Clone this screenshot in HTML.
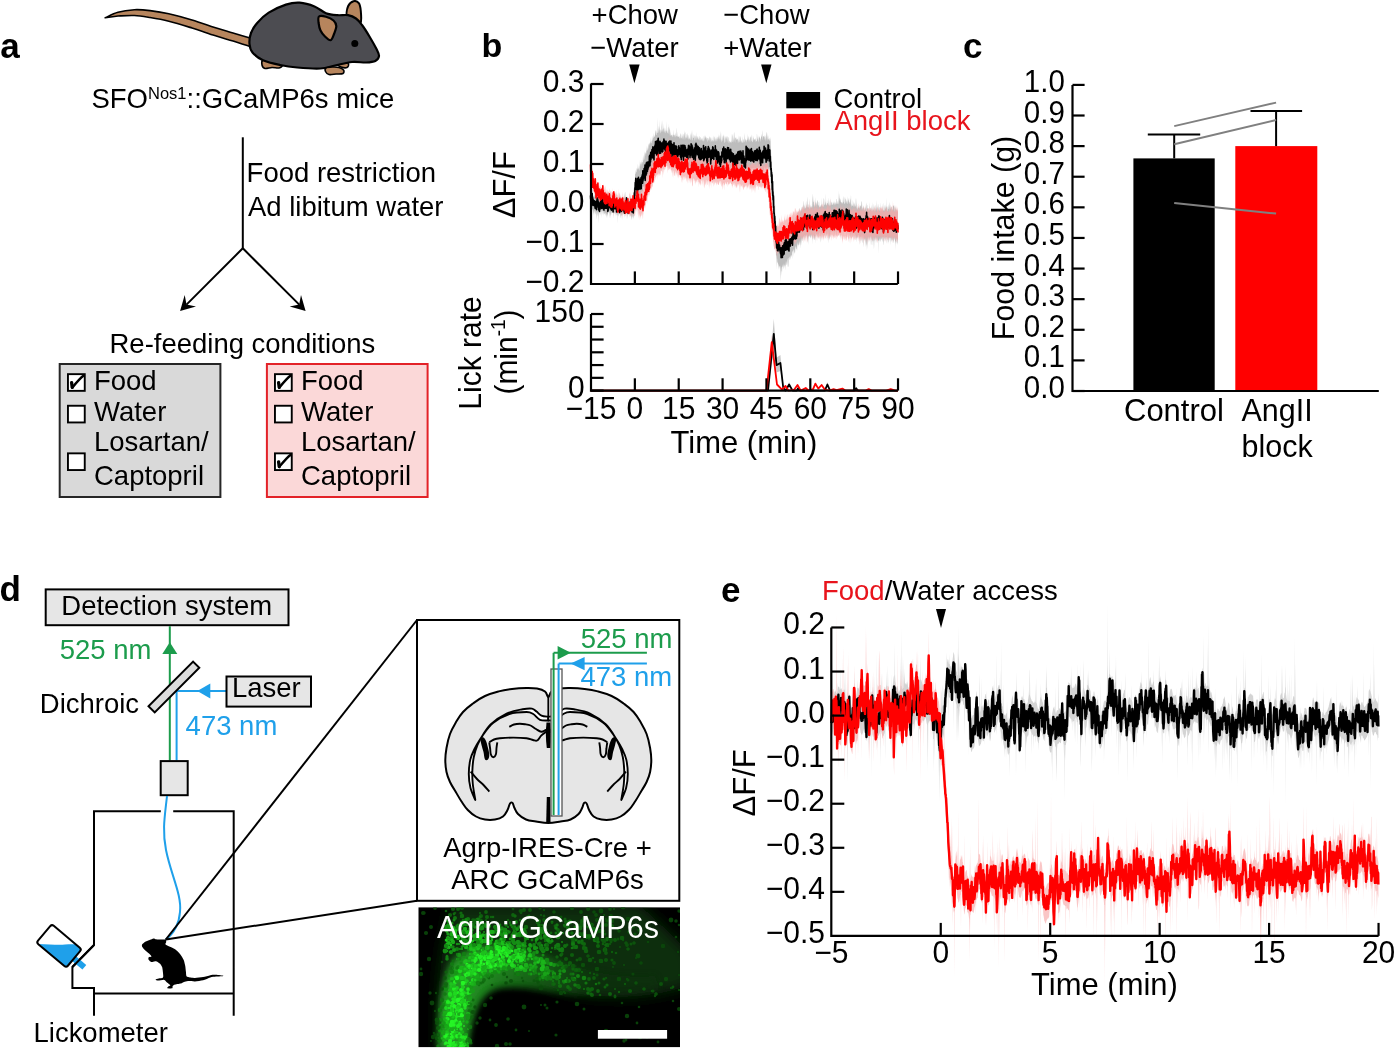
<!DOCTYPE html>
<html><head><meta charset="utf-8"><style>
html,body{margin:0;padding:0;background:#fff;}
svg{display:block;will-change:transform;}
text{font-family:"Liberation Sans",sans-serif;}
</style></head><body>
<svg width="1395" height="1051" viewBox="0 0 1395 1051" font-family="Liberation Sans">
<rect width="1395" height="1051" fill="#fff"/>
<text x="0.3" y="58.0" font-size="35" font-weight="bold" fill="#000" >a</text>
<path d="M105.2,17.8 C107.3,16.9 113.1,13.5 118.0,12.2 C122.9,10.8 129.1,10.0 134.4,9.7 C139.7,9.4 144.3,9.9 150.0,10.6 C155.7,11.3 161.8,12.2 168.8,13.8 C175.8,15.4 184.3,17.7 192.0,20.0 C199.7,22.3 207.9,25.3 214.7,27.5 C221.5,29.7 227.1,31.2 233.0,33.0 C238.9,34.8 247.2,37.2 250.0,38.0 L250.0,46.5 C247.2,45.6 238.9,42.8 233.0,41.0 C227.1,39.2 221.5,37.8 214.7,35.6 C207.9,33.4 199.7,30.4 192.0,28.0 C184.3,25.6 175.8,22.9 168.8,21.2 C161.8,19.4 155.7,18.4 150.0,17.5 C144.3,16.6 139.7,15.8 134.4,15.5 C129.1,15.2 120.7,15.9 118.0,16.0Z" fill="#b7855d" stroke="#000" stroke-width="1.6" stroke-linejoin="round"/>
<path d="M347.0,16.0 C346.0,13.7 347.1,8.5 348.2,6.0 C349.3,3.5 351.7,1.7 353.5,1.2 C355.3,0.7 357.6,1.6 358.8,3.2 C360.0,4.8 360.5,7.7 360.8,11.0 C361.1,14.3 361.6,21.5 360.5,23.0 C359.4,24.5 356.2,21.2 354.0,20.0 C351.8,18.8 348.0,18.3 347.0,16.0Z" fill="#b7855d" stroke="#000" stroke-width="2"/>
<path d="M263.0,60.0 C264.3,59.3 267.2,60.7 270.0,61.0 C272.8,61.3 277.9,61.3 280.0,62.0 C282.1,62.7 282.7,64.0 282.5,65.0 C282.3,66.0 280.8,67.6 279.0,68.0 C277.2,68.4 274.3,67.4 272.0,67.5 C269.7,67.6 266.7,68.9 265.0,68.5 C263.3,68.1 262.3,66.4 262.0,65.0 C261.7,63.6 261.7,60.7 263.0,60.0Z" fill="#b7855d" stroke="#000" stroke-width="1.6"/>
<path d="M338.0,61.0 C339.3,60.6 343.2,61.0 345.0,61.5 C346.8,62.0 348.2,63.0 348.5,64.0 C348.8,65.0 348.2,67.0 347.0,67.5 C345.8,68.0 342.7,67.6 341.0,67.0 C339.3,66.4 337.5,65.0 337.0,64.0 C336.5,63.0 336.7,61.4 338.0,61.0Z" fill="#b7855d" stroke="#000" stroke-width="1.6"/>
<path d="M249.5,44.0 C249.2,40.8 249.7,36.5 251.0,33.0 C252.3,29.5 254.2,26.3 257.2,22.9 C260.1,19.5 263.9,15.6 268.7,12.6 C273.5,9.6 280.8,6.3 285.9,4.6 C291.0,2.9 294.8,2.3 299.6,2.6 C304.4,2.9 310.1,4.6 314.5,6.4 C318.9,8.2 322.2,11.7 326.0,13.2 C329.8,14.7 333.8,14.9 337.5,15.2 C341.2,15.5 344.9,14.6 348.0,15.2 C351.1,15.8 353.7,16.9 356.0,18.5 C358.3,20.1 359.7,22.0 362.0,25.0 C364.3,28.0 367.2,32.7 369.6,36.7 C372.0,40.7 374.9,45.8 376.5,49.0 C378.1,52.2 379.2,54.0 379.0,56.0 C378.8,58.0 377.4,59.9 375.3,61.0 C373.2,62.1 370.0,62.3 366.1,62.5 C362.2,62.7 357.2,61.5 352.0,62.0 C346.8,62.5 340.3,64.4 335.0,65.5 C329.7,66.6 326.6,68.2 320.3,68.5 C314.0,68.8 304.0,68.1 297.3,67.5 C290.6,66.9 285.8,66.2 280.1,65.0 C274.4,63.8 267.6,62.4 263.0,60.3 C258.4,58.2 254.8,55.2 252.5,52.5 C250.2,49.8 249.8,47.2 249.5,44.0Z" fill="#4c4c51" stroke="#000" stroke-width="2.2" stroke-linejoin="round"/>
<path d="M326.0,68.0 C327.2,67.2 330.8,67.1 333.0,67.0 C335.2,66.9 337.2,67.0 339.0,67.5 C340.8,68.0 342.8,69.0 343.5,70.0 C344.2,71.0 344.2,72.8 343.0,73.5 C341.8,74.2 338.3,73.8 336.0,74.0 C333.7,74.2 330.8,74.9 329.0,74.5 C327.2,74.1 326.0,72.6 325.5,71.5 C325.0,70.4 324.8,68.8 326.0,68.0Z" fill="#b7855d" stroke="#000" stroke-width="1.6"/>
<path d="M319.0,16.5 C320.2,15.5 323.6,16.1 326.0,16.8 C328.4,17.5 331.8,19.0 333.5,20.5 C335.2,22.0 336.2,23.8 336.3,26.0 C336.4,28.2 334.9,31.6 334.0,34.0 C333.1,36.4 332.1,39.8 330.6,40.2 C329.1,40.6 326.7,38.1 325.0,36.5 C323.3,34.9 321.6,32.8 320.5,30.5 C319.4,28.2 318.9,25.3 318.6,23.0 C318.4,20.7 317.8,17.5 319.0,16.5Z" fill="#b7855d" stroke="#000" stroke-width="2.2" stroke-linejoin="round"/>
<circle cx="354.8" cy="43.4" r="3.5" fill="#000"/>
<text transform="translate(91.5,107.5) scale(1,1.035)" font-size="27.5">SFO<tspan font-size="16.5" dy="-8.3">Nos1</tspan><tspan dy="8.3">::GCaMP6s mice</tspan></text>
<line x1="242.8" y1="137.3" x2="242.8" y2="248.6" stroke="#000" stroke-width="2" />
<text transform="translate(246.6,182) scale(1,1.035)" font-size="27.5" fill="#000" >Food restriction</text>
<text transform="translate(248.0,215.8) scale(1,1.035)" font-size="27.5" fill="#000" >Ad libitum water</text>
<line x1="242.8" y1="248.3" x2="186.45688996286705" y2="304.64311003713294" stroke="#000" stroke-width="2" />
<path d="M180.1,311.0 L184.7,295.1 L186.5,304.6 L196.0,306.4Z" fill="#000"/>
<line x1="242.8" y1="248.3" x2="299.23804680580184" y2="304.6481773045187" stroke="#000" stroke-width="2" />
<path d="M305.6,311.0 L289.7,306.4 L299.2,304.6 L301.0,295.1Z" fill="#000"/>
<text transform="translate(109.5,352.5) scale(1,1.035)" font-size="27.5" fill="#000" >Re-feeding conditions</text>
<rect x="59.7" y="364" width="160.7" height="133" fill="#d9d9d9" stroke="#262626" stroke-width="2"/>
<rect x="266.9" y="364" width="160.7" height="133" fill="#fbd8d8" stroke="#e32228" stroke-width="2"/>
<rect x="67.95" y="374.15" width="16.8" height="16.7" fill="#fff" stroke="#000" stroke-width="1.9"/>
<path d="M71.6,382.6 L72.2,387.4" stroke="#000" stroke-width="3.3" stroke-linecap="round" fill="none"/>
<path d="M72.2,387.7 C75.5,383.7 79.5,378.7 83.7,375.5" stroke="#000" stroke-width="2.4" stroke-linecap="round" fill="none"/>
<rect x="67.95" y="405.75" width="16.8" height="16.7" fill="#fff" stroke="#000" stroke-width="1.9"/>
<rect x="67.95" y="453.35" width="16.8" height="16.7" fill="#fff" stroke="#000" stroke-width="1.9"/>
<text transform="translate(94.0,389.6) scale(1,1.035)" font-size="27.5" fill="#000" >Food</text>
<text transform="translate(94.0,421.2) scale(1,1.035)" font-size="27.5" fill="#000" >Water</text>
<text transform="translate(94.0,451) scale(1,1.035)" font-size="27.5" fill="#000" >Losartan/</text>
<text transform="translate(94.0,484.9) scale(1,1.035)" font-size="27.5" fill="#000" >Captopril</text>
<rect x="274.95" y="374.15" width="16.8" height="16.7" fill="#fff" stroke="#000" stroke-width="1.9"/>
<path d="M278.6,382.6 L279.2,387.4" stroke="#000" stroke-width="3.3" stroke-linecap="round" fill="none"/>
<path d="M279.2,387.7 C282.5,383.7 286.5,378.7 290.7,375.5" stroke="#000" stroke-width="2.4" stroke-linecap="round" fill="none"/>
<rect x="274.95" y="405.75" width="16.8" height="16.7" fill="#fff" stroke="#000" stroke-width="1.9"/>
<rect x="274.95" y="453.35" width="16.8" height="16.7" fill="#fff" stroke="#000" stroke-width="1.9"/>
<path d="M278.6,461.8 L279.2,466.6" stroke="#000" stroke-width="3.3" stroke-linecap="round" fill="none"/>
<path d="M279.2,466.9 C282.5,462.9 286.5,457.9 290.7,454.7" stroke="#000" stroke-width="2.4" stroke-linecap="round" fill="none"/>
<text transform="translate(301.0,389.6) scale(1,1.035)" font-size="27.5" fill="#000" >Food</text>
<text transform="translate(301.0,421.2) scale(1,1.035)" font-size="27.5" fill="#000" >Water</text>
<text transform="translate(301.0,451) scale(1,1.035)" font-size="27.5" fill="#000" >Losartan/</text>
<text transform="translate(301.0,484.9) scale(1,1.035)" font-size="27.5" fill="#000" >Captopril</text>
<text x="481.5" y="57.3" font-size="34" font-weight="bold" fill="#000" >b</text>
<text transform="translate(591.6,23.7) scale(1,1.035)" font-size="27.5" fill="#000" >+Chow</text>
<text transform="translate(590.3,56.8) scale(1,1.035)" font-size="27.5" fill="#000" >−Water</text>
<text transform="translate(723.2,23.7) scale(1,1.035)" font-size="27.5" fill="#000" >−Chow</text>
<text transform="translate(723.2,56.8) scale(1,1.035)" font-size="27.5" fill="#000" >+Water</text>
<path d="M629.2,64.5 L639.6,64.5 L634.4,83.3Z" fill="#000"/>
<path d="M761.1,64.5 L771.5,64.5 L766.3,83.3Z" fill="#000"/>
<path d="M590.5 194.4l.2-6.2.2 1 .2 3.8.2 1.3.3-.7.2.1.2 2.8.2-2.9.2-5 .3 1.5.2 7.1.2-2.7.2 2.6.2-1.1.3-.3.2-1.7.2 3 .2.3.2-2.5.3-.8.2-3.1.2 5.5.2-1.3.2-6 .3 5.4.2 1.7.2-3.4.2-1.4.2 7.1.3-4.1.2 3.2.2-2.4.2 1.8.2-1.6.3 2.1.2-1.1.2-2.4.2 4.1.2-2.9.3 2.3.2.5.2-4 .2-.9.2 3 .3-.8.2-4.2.2 7.7.2-1.9.2-1 .3-3.1.2 2.8.2.9.2 1.2.2-2.7.3-1.7.2 3.4.2.1.2-5.5.2 6.8.3.5.2-2.5.2 1.7.2 2 .2-1.5.3-2.6.2 1.4.2 2.4.2-1.8.2-.1.3-2.7.2 2.3.2 2.1.2-2.1.2-3 .3-2.5.2 1 .2 3.4.2 2 .2 1.8.3-4.3.2-1.2.2 0 .2 3.3.2-3.5.3-1.4.2 6.3.2-4.8.2 5.1.2-6.1.2-2.4.3 1.2.2 5.8.2-.6.2-4.2.2 5.6.3-1.5.2 2.2.2 1.3.2-.8.2-2.6.3 1.7.2.4.2 1.1.2-.6.2-5.1.3 3.9.2-3.5.2 4.9.2-6 .2.6.3 3.9.2-7.6.2 9.8.2-1.8.2-4.8.3.7.2-6 .2 8.4.2.9.2.2.3-1.1.2 2.7.2-.3.2.8.2-4.3.3 5.1.2-4.3.2 2.5.2.4.2-8.6.3 3.3.2 3.2.2 1 .2 0 .2.2.3-3.7.2 2.4.2-1 .2 4.4.2-2.9.3-.1.2 1.2.2-3.1.2 2.8.2 2.2.3-.8.2-.4.2-7.6.2 8.9.2-.8.3-4.1.2 2.4.2-.3.2-.4.2-6.2.3 6.1.2-5.2.2-1.4.2 6.3.2 2.1.3-.4.2-.5.2.1.2 1.6.2.2.3-6.4.2 6.4.2-2.8.2 3 .2-1.6.3-.8.2-.9.2 2.4.2 0 .2 1 .3-1.7.2 1.3.2-1.6.2.4.2 1.8.3-2.8.2-3.6.2 2.1.2.6.2.1.3 2.5.2-1.8.2 1.3.2-1.4.2-2.4.3 1 .2-2.2.2 5.5.2-5.9.2 5.1.3-7.9.2-2.5.2-1 .2 1.8.2-3.7.3-7.8.2 2.1.2-6.6.2.2.2-.5.3-4 .2 3.2.2-1 .2.8.2-2.6.2-1.7.3.6.2 1.2.2-3 .2 3.3.2-6.6.3 3.4.2 1.9.2-1 .2 1 .2 1.4.3 0 .2-10.9.2 10 .2-4.2.2 1.4.3-4.1.2-.7.2 2.3.2 0 .2-4.6.3 7.4.2-5.7.2 3.5.2-8.4.2 7.9.3-2 .2-.4.2.1.2-1.8.2-2 .3-3.4.2 5.5.2-.5.2-1.2.2-3.6.3-4.1.2 5.8.2-1.9.2-1.7.2.6.3-2.1.2 2.6.2-2.2.2-6.7.2 5.3.3.4.2-.5.2-3.6.2 3.7.2-1.4.3-5.3.2.9.2 3.1.2 1.8.2-6.2.3-.6.2 3.6.2-4.4.2 2.2.2.3.3-7.6.2 5.3.2 1.5.2-2.3.2 1.7.3.1.2-2.6.2.7.2-5 .2 4.5.3-1 .2-1.5.2-2.7.2 1.3.2-4.2.3 5.4.2 0 .2-.6.2-1 .2.7.3-2.2.2 1.6.2-6.5.2.8.2 3.7.3-5.5.2 6.3.2-1 .2.7.2-5.1.3 3.3.2-15.8.2 11 .2 4.2.2-.1.3.4.2-7.9.2 3.2.2 3.2.2 2 .3-7.7.2 4.4.2 2.5.2-13.2.2 10.3.3-.7.2 4.1.2-.1.2-3.9.2 3.4.3-3 .2 2.5.2-11.7.2 6.6.2-7.3.3 12.6.2-3.6.2 1.2.2 2.1.2-8.5.2 4.8.3.2.2 3.4.2.8.2-1.3.2-4.4.3 3.7.2 1 .2-4.3.2 5.3.2.7.3-3.3.2 1.2.2-.2.2-10.3.2 8.7.3 2.3.2 1.8.2-3.9.2 3 .2.5.3-10 .2 10.9.2-1.3.2-5.1.2-1 .3 2.1.2 1.4.2-4.8.2 7.9.2 2.7.3-4.3.2 4.1.2-.3.2-6 .2 5.1.3.2.2.5.2-.4.2 1.8.2-.8.3 1.5.2-3.5.2 1.3.2-.2.2-.1.3-5.5.2 7.9.2-4.2.2 2.9.2-.8.3-.8.2 3 .2-.6.2-1.6.2-3.1.3 3.3.2 2.4.2-7.2.2-3.6.2 9.3.3-.4.2.5.2-.2.2.7.2-5.8.3 5.9.2-.3.2.3.2-1.8.2 1.1.3 1.6.2-2.8.2 3.7.2-.8.2-2.5.3 3.5.2-2.3.2-4.4.2 2.3.2-1.3.3 3.2.2 2.4.2-1.4.2.7.2-3.1.3 4 .2-6.5.2 7 .2-6.6.2 6.1.3-5 .2-.2.2 5.5.2.3.2-7.6.3 4.4.2-6.7.2 3.3.2-1.6.2 5.5.3 1 .2 1.6.2-6.1.2.8.2 3.9.3-1.2.2 2.3.2-5.9.2 5.7.2-2.9.3-3.7.2 6.2.2 1.4.2-4.3.2-1.5.2 4.3.3-1.3.2 1.4.2.5.2.2.2-3.7.3-2.9.2 6.9.2.4.2-1.8.2-6.3.3 8.9.2-4.9.2-6.4.2 8 .2 2.8.3-.2.2-11.1.2 8.6.2-4.4.2 4.4.3.2.2-.1.2-4 .2 3 .2-2 .3 5.4.2.8.2-3.5.2-3.6.2 7 .3-4.6.2-.9.2 1.2.2 2.8.2-7.9.3 9.5.2-4.2.2 3.2.2-4.1.2.6.3 1.5.2 1.9.2-1.2.2 1.3.2-4.1.3 4.7.2-.8.2-4.1.2.4.2 2.1.3 2 .2.4.2-3.8.2.1.2.9.3 2.3.2.3.2-2.1.2 0 .2-.2.3 3 .2-4.2.2 3.6.2.9.2-1.7.3 2.1.2-3.6.2-2.2.2-.8.2 3.1.3 3 .2-5.8.2 3.7.2-3.2.2 1 .3 1.1.2-3.4.2 3.7.2 1.6.2-2.3.3-.9.2 4.6.2.7.2-2.2.2-2.2.3.3.2.1.2 1.8.2.8.2-1.1.3-2.4.2-1.3.2 3.8.2 2 .2-5.8.3 4 .2-2.3.2-.4.2.1.2 5 .3-.8.2-4.2.2 3.4.2.2.2-4.7.3 4.6.2-1.2.2 2.9.2-2.8.2.6.3 1.6.2-1.9.2-5 .2 3.5.2 3.4.3-3.7.2-2 .2.7.2 1.4.2 3.6.2-4.1.3 3.8.2-7 .2 7.5.2-5.4.2 4.7.3-4 .2 4.2.2-3.5.2 1.1.2-1.9.3-.8.2 3.6.2-6.9.2 5.9.2-3.6.3 3.6.2-.9.2-3.9.2 7.5.2-6.8.3 5.7.2-6.3.2-4 .2 10.7.2-9 .3 8.1.2-1.1.2 3.4.2-1 .2-1.4.3-4.9.2 2 .2 3.2.2 1.1.2-5.2.3-.9.2-1.6.2 4.8.2-3.7.2 8 .3-.5.2-6.4.2 6.2.2-.5.2-5.7.3 1.1.2 1.9.2-2.4.2-.8.2 2.1.3 1 .2 3.7.2-4.4.2 4.3.2-5.2.3-1.7.2 2.9.2 4.3.2-.3.2-4.8.3-1.1.2 6.7.2-.8.2-1.5.2.2.3.1.2 1.1.2-.6.2-.5.2 1.8.3-2.7.2 3.1.2-1.6.2-9.2.2 8.6.3.9.2-5.6.2-2.9.2 1.6.2 2.7.3 5.2.2-11.2.2 9.9.2-4 .2 4.8.3-10.8.2.8.2 6.2.2 4 .2-5.3.3.9.2-2 .2 1.9.2-1.5.2 3.3.3-1.6.2 1.2.2-1.2.2 1.1.2-1.6.3 1.9.2 3.4.2-1.7.2-2.2.2 3.1.3-7.9.2 7.7.2-.6.2-1.4.2-2.7.3-2.3.2 6.8.2-4 .2-1.2.2-1.4.2 7.1.3-3.4.2 4.2.2-3.3.2 1.8.2-6 .3 5.6.2 1.2.2-1 .2 1.4.2-3.8.3-.2.2 2.4.2 1.3.2-11.1.2 9.5.3 1.1.2-8.9.2 9.7.2-5.2.2 2 .3-1.1.2 1.9.2.8.2 1 .2-3.1.3 1 .2-.2.2-2.8.2 2.1.2.7.3-7 .2 7.1.2-4.5.2.8.2 5.6.3-6.1.2 4.6.2-1.1.2-1.4.2 4.3.3-5.5.2-.9.2 1.6.2-1.8.2 6 .3-1.9.2 1.2.2-7.5.2 4.2.2-3.8.3 8.1.2-.3.2-.1.2-1.7.2-4.5.3 2.8.2-.4.2 2.7.2-1.1.2-.6.3-.1.2 1.7.2-1.4.2-1.3.2 2.2.3-2.4.2 4.1.2-.6.2-.4.2.3.3.2.2-7.9.2 1.1.2 4 .2 1 .3-3.7.2 5.3.2.9.2-2.6.2-4.7.3 6.5.2-4.8.2 1.4.2-2.3.2 1.2.3 1.8.2 1.1.2 2.4.2-3.3.2-.3.3-1.4.2-4 .2 3.2.2.6.2-1.7.3 5.3.2-1.7.2-6.4.2-2.4.2 7.9.3-2 .2 0 .2.4.2.1.2-1.6.3 2.3.2-.6.2 3.9.2-2.4.2 3.8.3-5.7.2-.9.2 4.9.2-4.8.2-3.8.3 1.7.2 4.1.2 4 .2-2.6.2-6.9.2 8.8.3-5.1.2 0 .2 3 .2 1.7.2-1.1.3-.6.2 2.1.2-3.2.2 1.3.2 2.9.3-3.8.2 3.6.2-5.7.2 14.1.2-4.9.3 11.2.2 4.4.2-.2.2 5 .2 3.3.3 2.9.2 5.2.2 2.5.2 1.1.2.8.3 7.8.2-.9.2 4.6.2 3.7.2 3 .3-7 .2 14.1.2-.7.2-1.4.2 12.1.3 2 .2-.7.2-.1.2 9.6.2 2 .3 2.7.2-4.7.2 1 .2 4.7.2-6.5.3 8.1.2-7 .2 4 .2 5.3.2-3.7.3-.2.2-1.3.2 6.3.2-.9.2-3.8.3 3.2.2 3.8.2 1.3.2.8.2-5 .3 2.3.2.3.2 1.8.2-1.2.2-.3.3-9.5.2 6.9.2 1.5.2-.5.2-1.9.3.4.2-.2.2-3 .2-2.8.2 6.7.3-6.1.2 4.4.2-4.8.2.7.2 4 .3-6.9.2 3.6.2 1 .2-5.7.2 2 .3-5.8.2 7.6.2.4.2-5 .2-4.6.3 3.7.2-5.9.2 4 .2 3.2.2 2 .3-10.2.2 11 .2-2.1.2 1.2.2-6.1.3 3.9.2 1.5.2-1.4.2-.5.2-3.5.3-1.7.2 1.3.2.2.2-3.6.2 5.5.3-2.4.2 3.3.2-3.1.2-7.7.2 4.8.3 4.5.2-3 .2-4.3.2-3.6.2 5.7.2 2.8.3-2.4.2-1.2.2-.8.2-.9.2.7.3-1.2.2 3.7.2-.8.2-6.3.2 2.1.3 3.4.2-2.1.2-5 .2 2.7.2-.8.3-2 .2 1.9.2-2.8.2 3.9.2-3.4.3 1 .2 3.2.2-2 .2-5.2.2.4.3 1.7.2 3.4.2-3.9.2 1.6.2 1.7.3-6.1.2 3.9.2-1.3.2-2.8.2 4.7.3-1.9.2-4.6.2 7 .2-4.7.2-.3.3-4.8.2-1.4.2 9.4.2-.7.2-4.4.3 4.7.2-2.1.2-4 .2 5.5.2-1 .3-.5.2 1.4.2-5.7.2-2.3.2 4 .3 1.2.2 1.5.2.1.2-7.8.2-3.2.3 9.9.2 1.3.2-1.3.2 1.1.2.9.3-4.9.2 1.4.2 3.4.2.4.2 0 .3-10.7.2 9.7.2.6.2-4.2.2 3 .3-.9.2-.2.2 1.9.2-1.2.2 1.6.3-8.8.2-6.7.2 4.6.2 7.1.2 3.7.3-8.2.2 2.2.2-.4.2-6.9.2 11.8.3-2.7.2 3.5.2-3 .2 3 .2-10.9.3 6.5.2-1.7.2 5.2.2-5.6.2 6.6.3-4.8.2 2.5.2-3.2.2-1 .2-.9.3.2.2 5.2.2-3.5.2-.1.2 4.5.3-1.7.2.3.2-4.4.2 5.9.2.8.2-.4.3.3.2-.8.2-1.9.2 2.2.2-.5.3-2.3.2 1.4.2 1.3.2-9.6.2 7.8.3 1 .2-3.2.2 3.7.2.3.2-.6.3.9.2-2.1.2-6.5.2-.2.2 1.2.3 5.9.2-1.5.2 1.3.2-1 .2-.9.3-2.4.2 4.6.2-12.6.2 9.1.2 3.7.3-.6.2-.9.2 1.2.2-5.7.2 3.6.3 0 .2-.1.2.8.2-6.8.2 4.4.3 3.8.2-.5.2.6.2.1.2-5.7.3 6.5.2-.8.2-.3.2-1 .2-6.1.3 4.8.2-1.2.2 1.5.2-2 .2 3.5.3.2.2-.5.2.7.2-3.7.2 3.1.3-3.3.2 2.7.2-1.2.2 2.3.2-4.8.3 4.7.2-2.5.2 3.2.2-4.3.2 1.4.3 2.3.2-1.8.2-1.7.2 3.3.2-5.7.3-.5.2 5.3.2-.5.2.4.2-3.5.3 3.4.2.2.2-3.7.2 4.6.2-14.7.3 13.8.2-.6.2-4.6.2 2.8.2-8.6.3 5.1.2.3.2 1.9.2-2.1.2 2.5.3 1.2.2.3.2-.3.2.7.2-.2.3 1.6.2-.7.2.1.2-1 .2-.6.3-6.6.2 7.8.2-6.8.2 5.8.2-.2.3 2.3.2-.5.2.2.2-7.3.2 2.2.3 1.1.2-3 .2 5.2.2 1.5.2-3.2.2 3.3.3-2.4.2-2.2.2 5.5.2-1.3.2-7.4.3 8.5.2-2.8.2-2.5.2 2.4.2-3.9.3 5.7.2-6.6.2 6.8.2.5.2-1.5.3-.4.2-2.3.2-1.4.2 6.7.2-4.2.3-6.7.2 11.1.2-1.7.2 1.9.2 1.4.3-1 .2-1.3.2 1.8.2-.4.2-6.4.3 5 .2-3.4.2 6.4.2-2.2.2 1.4.3-3.1.2-.4.2 4.5.2-4 .2-6.4.3 9.8.2-1 .2.6.2-2.4.2-6.5.3 10.7.2-.1.2-5.7.2 7.3.2-5.8.3 5.7.2-1.5.2-.5.2.3.2-1.4.3-.7.2 2 .2.6.2-1.6.2 1.8.3-4.6.2 3.3.2-2.5.2 1.2.2-1 .3 1.4.2 3.2.2-10 .2 7.4.2-6.4.3 1.3.2 5.9.2 2.5.2-2 .2-1.8.3 4.1.2-5.1.2 1.7.2.7.2-3.5.3 4.7.2.6.2 1.2.2-2.3.2-1.3.3 1.3.2 1.9.2-5.8.2 3.6.2-3.7.3-2.7.2 9.2.2 0 .2-6.6.2.1.3 5.3.2-1.7.2-.4.2 1.1.2-1.3.3 3.3.2.1.2-1.6.2-7.9.2 6.2.3 2.5.2 1.1.2-1.6.2 0 .2-1.2.3-.8.2.1.2 3.9.2-1.7.2-2.6.2-3 .3 6.7.2-3.7.2-6 .2 9.7.2-.6.3-.8.2-6.9.2 4.3.2 3.7.2-2.9.3 3.1.2.4.2-4.9.2-1.7.2 6.7.3-7.5.2 5.2.2 1.6.2-3.4.2-8.3.3 12 .2-5 .2 3.3.2-6.6.2 7.7.3.9.2-4.4.2.4.2 2.9.2-.4.3-6.9.2 3.4.2 4.5.2-4.3.2.1.3 3.5.2.7.2-3.5.2-5.7.2 9.3.3 0 .2-4.6.2 2 .2 2.9.2-1.7.3-1.7.2-4.8.2 4.9.2.8.2 2.3.3-1.5.2.7.2.7.2-1.8.2-7.2.3 6.1.2-3.6.2 5.6.2.1.2.4.3-6.6.2 2.1.2 2.7.2-.6.2-2.4.3 2.2.2-11.2.2 13.6.2-4.7.2.7.3 2.9.2 2.2.2-.9.2-7.4.2 5.5.3.2.2-4.5.2 4.5.2-4.4.2 7.5.3-8 .2-2.6.2 6 .2 1.7.2-5.2.3 5.6.2-3.3.2.9.2 4.7.2-5.5.3.7.2 3.3.2-2.7.2 3.2.2-1.7.3-4.8.2 1.8.2-.8.2 1 .2-1.7.3 1.8.2 4.3.2 1 .2-4.6.2-2.4.3 2.3.2 5.3.2-5.6.2 1.8.2.9.3-.2.2 1.8.2.7.2-5.6.2 4.8.3-1.3.2-2.2.2 3.5.2 1 0 31.8-.2-1.4-.2 2.6-.2-6.6-.3 1.8-.2 4.2-.2-7.4-.2 6.5-.2-6.2-.3 2.6-.2 10.2-.2-9.9-.2 3.7-.2-2.6-.3-1.4-.2-2.8-.2-.4-.2 3.5-.2-1.7-.3-.6-.2 5.2-.2-1.9-.2-1.2-.2 3.6-.3-6.2-.2 2.6-.2.2-.2-3.3-.2 4.1-.3-2.2-.2-1.9-.2 3.8-.2 1.5-.2-5.7-.3 2.4-.2 6.5-.2-7.5-.2.1-.2-1.1-.3.7-.2 1.5-.2 2.3-.2.9-.2-4.4-.3-1.2-.2 7.4-.2-4.4-.2-3.1-.2-.5-.3 3.7-.2 4.2-.2-3.7-.2-3.4-.2.6-.3-1.5-.2 5.9-.2-3.1-.2-2.5-.2 1-.3 4.3-.2-5.6-.2-.1-.2 3.4-.2-.6-.3-2.3-.2 1-.2 6.9-.2.5-.2-3.5-.3-.1-.2-1.4-.2-3-.2-.6-.2 2.3-.3 1.2-.2-2.8-.2 3.1-.2-3.9-.2 5.8-.3-1.2-.2-4.4-.2 4-.2-2.4-.2.9-.3 2.7-.2-1.9-.2-3.1-.2 17.2-.2-13.8-.3.7-.2.5-.2-1.2-.2-2-.2 1.4-.3 1.4-.2-4.9-.2 6.8-.2-3.6-.2-2.3-.3 2.1-.2 4.2-.2-6.6-.2 1.6-.2-1.8-.3 3.9-.2 8.2-.2-10.6-.2.9-.2 3.2-.3-5.5-.2 5-.2-.2-.2-5.3-.2 14.3-.3-11-.2 2.8-.2-1.9-.2-2.7-.2 7.8-.3-.9-.2-5.7-.2-2.4-.2 3.8-.2-1.7-.2-2.2-.3.4-.2 8.9-.2-8.7-.2 2.2-.2 3.3-.3-5.5-.2.7-.2 3.6-.2-3.9-.2-.7-.3 1.4-.2 5.4-.2-7.1-.2 3.9-.2 9.5-.3-8.4-.2-2.3-.2 12.5-.2-15.4-.2 7.8-.3 2.1-.2-6.1-.2-2.8-.2 4.6-.2 6.2-.3-9.5-.2 1.6-.2-3.5-.2 4.8-.2-1.4-.3-2.4-.2-2.1-.2 12.1-.2-3.2-.2-8.8-.3.1-.2 6.3-.2 1.8-.2-2.8-.2-5.8-.3.5-.2 6.5-.2-4.7-.2-.3-.2.3-.3-1.9-.2 8.8-.2-5.4-.2 2.5-.2-3-.3-3-.2 3-.2 7.2-.2-11-.2.4-.3.5-.2-.1-.2-1-.2 4.6-.2-.8-.3-.8-.2-2.3-.2 1.5-.2-.1-.2 6.2-.3-5-.2-.4-.2-2.8-.2.3-.2 3.2-.3.7-.2-5.5-.2 1-.2-1.1-.2 8.7-.3-9-.2 7.6-.2-4.2-.2-3.5-.2 1.1-.3 2.3-.2 1-.2.1-.2-2.1-.2-2.5-.3 7.7-.2-5.8-.2 1.2-.2-4.4-.2 2.3-.3 4.8-.2-4.6-.2 6.6-.2-7.2-.2 10.6-.3-11.9-.2-.2-.2 1.2-.2.1-.2 4-.3-5.7-.2.2-.2.7-.2-.7-.2 2.5-.3-2.8-.2 3.6-.2-4.4-.2-1.4-.2 4.4-.3 7.4-.2-10.7-.2 1.5-.2-1-.2 1.2-.2-1.4-.3 1.6-.2.5-.2-3.6-.2.8-.2.3-.3.8-.2 1.6-.2-3.1-.2 10.3-.2-9.9-.3-.7-.2 0-.2-.2-.2 3-.2 8.4-.3-9.3-.2.9-.2 1.3-.2-.8-.2-2.2-.3 4.3-.2 5.8-.2-3.9-.2-7.1-.2.2-.3.7-.2-.5-.2.5-.2 6.7-.2-5.8-.3 2.4-.2-.5-.2-1.1-.2-1.6-.2 1-.3-.3-.2 6.7-.2-3.2-.2-.4-.2 2.7-.3-4.5-.2-1-.2-1.2-.2 2.6-.2-1.2-.3 2.4-.2-1.8-.2 1.4-.2-2.7-.2 6.1-.3-1.2-.2 1-.2-6.3-.2 1.3-.2.5-.3.7-.2-1.5-.2.5-.2-.4-.2 5.2-.3-4.1-.2-.8-.2-.3-.2-1-.2 6.7-.3-.6-.2-4.5-.2-.1-.2-.9-.2 8.9-.3-2.4-.2 2.9-.2-7.1-.2 4-.2-1.9-.3-4.6-.2 6.1-.2 6.8-.2-4.1-.2-4.7-.3-4-.2 2.8-.2 2.5-.2-3.5-.2 1.8-.3-.2-.2 4.8-.2-1.4-.2-5.7-.2.5-.3-1-.2.2-.2 2.7-.2.6-.2 1.6-.3-2.8-.2 5.8-.2-2.9-.2-3.7-.2-1.4-.3 7.1-.2-4.8-.2-2.1-.2 3.3-.2-.8-.3 4.3-.2-6.5-.2 1.5-.2 1.4-.2 5.2-.3 2.7-.2-8.1-.2-2.6-.2 3.7-.2-2.3-.3-1-.2.3-.2 7.3-.2-7.3-.2 1.8-.2-.2-.3 5.2-.2-5.4-.2 1.5-.2 1.8-.2-4.1-.3 1-.2 3-.2-3.8-.2 2.9-.2.4-.3-3.7-.2 1.7-.2 9.1-.2-11-.2-.8-.3 2.7-.2 1.2-.2 2-.2 1.9-.2-.1-.3-2.4-.2.7-.2-3.4-.2 1.1-.2-3.1-.3 12-.2-11.5-.2 6.7-.2-5.6-.2 6.2-.3-6.1-.2.9-.2 1.2-.2-2.9-.2 4-.3-.2-.2-3.1-.2 4.6-.2-2-.2-1-.3 1-.2-3.2-.2 1.4-.2.7-.2.4-.3 8.9-.2-8.8-.2-1.1-.2 5.2-.2 2.1-.3-7.5-.2 2.7-.2 1.3-.2-2.7-.2-2.6-.3 2-.2 1-.2-1.2-.2.2-.2 2-.3-2.4-.2-.4-.2 6.6-.2-6.5-.2-.1-.3 5.7-.2-1.5-.2-3.5-.2.9-.2-.4-.3 2.1-.2.4-.2 2.1-.2.5-.2-3.8-.3-.7-.2 9.4-.2-6.5-.2-1.9-.2 4.4-.3 6.7-.2-10-.2 3.4-.2 3.4-.2-4.5-.3 2.2-.2 1.9-.2-2.9-.2-2.1-.2 3.5-.3 1.5-.2-.2-.2 2.1-.2-5.6-.2 1.8-.3 2.7-.2-3.2-.2 7.5-.2 0-.2-3.9-.3 2.3-.2.3-.2.3-.2-4.2-.2 1.5-.3 1-.2 4.4-.2 2.1-.2-5.5-.2 3.2-.3 1.7-.2-2-.2-2.8-.2 1-.2 7.5-.2-7.6-.3 1.9-.2-1-.2 2.1-.2-1.3-.2 8-.3-5.5-.2 3.6-.2-2.1-.2-.1-.2.4-.3 3.2-.2-4.2-.2 1.6-.2 3.8-.2-3.7-.3 3.1-.2 1-.2-4.1-.2.7-.2 9.1-.3.7-.2-8.8-.2-.4-.2 1.7-.2 8.4-.3-4.6-.2-5.5-.2 2.5-.2 2.8-.2 2.2-.3-.7-.2-3.4-.2 4.7-.2-.3-.2-4.6-.3 9.9-.2-4.8-.2-2.9-.2 5-.2-3.4-.3 2.1-.2 2.4-.2-6.2-.2 5.9-.2-2.4-.3-2.7-.2 3.4-.2-2.4-.2 2.1-.2-.2-.3 9.5-.2-8.9-.2-.1-.2 4.6-.2-.8-.3 11-.2-8.8-.2-4.3-.2-2.4-.2-1.3-.3 1.9-.2-1.4-.2 1.3-.2 2-.2-5.4-.3 1.2-.2 1.9-.2 3-.2-4.6-.2-2.7-.3.3-.2-.5-.2-3.4-.2-.6-.2 11.9-.3-13.3-.2-2.4-.2 2.4-.2-9.7-.2-1-.3-2.9-.2-3.2-.2-4.9-.2.6-.2.3-.3-3.3-.2-8-.2-3.8-.2-2.6-.2.1-.3-4.7-.2-.6-.2-5.4-.2-.8-.2-6.8-.3-2.2-.2-2.8-.2-4.5-.2 2.8-.2.7-.3-9.2-.2-7.8-.2-.2-.2-2.4-.2.1-.3-7.2-.2 2.9-.2.1-.2-2.1-.2.9-.3-2.7-.2 6.1-.2-4-.2 1.7-.2.8-.3-4-.2-1-.2 1.5-.2.7-.2-1.6-.2 2-.3 3.5-.2 6.7-.2-5.7-.2.3-.2-6.6-.3 1.9-.2-.5-.2-.8-.2-1.2-.2 1.3-.3 2.2-.2 2.7-.2-.6-.2-2-.2 3.7-.3.7-.2-6-.2 5.7-.2-.2-.2.6-.3 7.5-.2-13.4-.2 6.5-.2-3.2-.2-5-.3.6-.2 1.9-.2-1.2-.2 2.6-.2-1-.3-.9-.2-.3-.2-1.6-.2 1.9-.2-1-.3.3-.2-.5-.2.8-.2-1.9-.2 1.4-.3 10.3-.2-11.6-.2 1.8-.2 5.1-.2-3.2-.3-2.7-.2 5.6-.2-5-.2-.3-.2 1-.3 1-.2 5-.2-7.2-.2-.1-.2 10.8-.3-3-.2-6.8-.2-.8-.2.3-.2.5-.3 8.6-.2-9.4-.2 1.4-.2-1.5-.2.8-.3.6-.2 2.2-.2-2.3-.2-.4-.2-.4-.3-.2-.2-.2-.2 4.7-.2 1.8-.2-4.8-.3 0-.2 0-.2.7-.2 3.6-.2-3-.3.4-.2 4.2-.2-7.2-.2 4.3-.2-3.2-.3 1.8-.2-3.6-.2 2.2-.2-.9-.2 6.2-.3-7.3-.2.7-.2 8.4-.2-2.1-.2-2-.3-4.7-.2.7-.2 0-.2 4.6-.2-3.3-.3 1.8-.2-2.4-.2 1.7-.2 1.2-.2 2.5-.3-6.3-.2 2.5-.2-.8-.2 4.2-.2-5.9-.3-.8-.2 4.5-.2-.1-.2-2.2-.2 6.2-.3-1-.2-2.2-.2-4.7-.2 4-.2-3-.2-.5-.3 1.5-.2-.3-.2 1.1-.2 1.1-.2-3.4-.3 3.5-.2 1.3-.2 1.2-.2-5.7-.2 5.5-.3-6-.2 3-.2 3.1-.2 6.6-.2-13-.3 3.4-.2-2.6-.2 3.7-.2-1.1-.2 4.1-.3-5.2-.2-2.3-.2 1.5-.2-1.4-.2.3-.3.9-.2 3.6-.2-.6-.2 1.5-.2-2.4-.3-2.6-.2 0-.2.7-.2.2-.2.1-.3 2.9-.2-4.1-.2.6-.2 7-.2-4.8-.3-2.4-.2 1.8-.2-1-.2-2.1-.2 12.6-.3-7.9-.2 8.5-.2-5.2-.2-7.6-.2 0-.3 4.9-.2-3.5-.2-2.2-.2 3.4-.2-2.6-.3 2.7-.2.1-.2-1-.2-1.2-.2.4-.3-.5-.2 3.8-.2-2.4-.2-1.2-.2 4.6-.3-5.7-.2 5.6-.2-5.6-.2 4.9-.2 1.9-.3-5.5-.2 6.6-.2-1.9-.2-1.7-.2-1.7-.3-.2-.2-2.2-.2 5.5-.2-1.7-.2-3.1-.3 1.8-.2 4.2-.2-2.2-.2-2.3-.2-.4-.3-1.8-.2-.2-.2 3-.2 4.4-.2-4-.3-2.4-.2-1.2-.2.3-.2 1.6-.2-1.9-.3 2.3-.2 2.4-.2-3.6-.2-1.7-.2 13.4-.3-9.8-.2.2-.2-2.4-.2-1.1-.2 5.3-.3 1.7-.2-6.3-.2 9.3-.2-2.8-.2-7.5-.3.9-.2.3-.2-.7-.2 2.9-.2-2.1-.2 2.9-.3-3.8-.2 2.2-.2 0-.2 10.7-.2-8.5-.3 2.5-.2-3.1-.2-2.1-.2 3-.2 1.4-.3-4.7-.2 0-.2 1.3-.2-.9-.2 2-.3-3.6-.2 4.4-.2-4.4-.2 8-.2-6.4-.3 2-.2-.2-.2 5.2-.2-6-.2-3.2-.3 4.7-.2-2.6-.2-2.1-.2-.3-.2 1.6-.3.3-.2 5.3-.2-2.4-.2-4.4-.2 10.1-.3-3.8-.2-.2-.2 5.5-.2-6.8-.2-4.6-.3 5-.2 3.6-.2-2.4-.2-4.4-.2-.2-.3 9.8-.2-12-.2 2.7-.2 2.7-.2.3-.3-1.4-.2 3.1-.2-8.1-.2 7.8-.2-2.3-.3 1-.2-6.1-.2 1.8-.2-1.4-.2.9-.3-1.5-.2 4.6-.2-4.6-.2 5-.2-4.6-.3.5-.2 3-.2-3.7-.2 6.6-.2 1.5-.3 1.3-.2-10-.2.2-.2 8-.2-6.8-.3 4.7-.2-3-.2-3-.2 4.9-.2 7.2-.3-12.3-.2 1.9-.2-.6-.2 1.6-.2 2.5-.3-3.6-.2-.5-.2-1.2-.2-.2-.2 2.5-.3-2.3-.2 4.4-.2-3.4-.2 1.4-.2-2.7-.3 5.8-.2-.6-.2-4.6-.2 5.4-.2-4.4-.3 1.3-.2.4-.2.2-.2-1.6-.2 2.6-.3-3.4-.2 2.9-.2-3.2-.2 1.5-.2-1-.3-.8-.2 3.9-.2-4.9-.2 6.2-.2-4.6-.3-.6-.2 5.4-.2-6.6-.2 2.9-.2 3.7-.2-6.4-.3 3.7-.2 5.1-.2-2.6-.2-6.4-.2 9.3-.3-9.2-.2 2.5-.2-1-.2-1-.2 5.3-.3-5.8-.2 1.8-.2-.8-.2 4-.2-1.9-.3 1-.2 2.3-.2-5.9-.2 1.2-.2 4.1-.3-5.2-.2-.1-.2-.5-.2 9.7-.2-5-.3-5.5-.2 5.8-.2-5.2-.2-.1-.2 6.4-.3-1.6-.2 7.7-.2-9.8-.2-3.8-.2 4.6-.3-2.8-.2 1.5-.2-3.3-.2 2.7-.2 4.7-.3-6.6-.2.9-.2 3.2-.2-.7-.2-3.6-.3-1.2-.2-.1-.2 4.3-.2-1.5-.2 4.4-.3-5.5-.2 1.5-.2.1-.2 1-.2 2.6-.3-.3-.2-5-.2-2-.2 2.1-.2.8-.3-1.8-.2 1.6-.2-.2-.2-2.6-.2 1-.3 5.9-.2-4.9-.2-2.5-.2 11.7-.2-2.3-.3-5.6-.2-3.4-.2 4-.2 3.8-.2-3.9-.3.9-.2-2.4-.2-.1-.2-.2-.2.5-.3-4-.2 5.2-.2 1.7-.2 1.8-.2-6.1-.3-2.4-.2-.5-.2.1-.2 7.4-.2-4.2-.3.9-.2 1.4-.2-4.8-.2-1.4-.2 6.1-.3-4-.2-1.7-.2-1-.2 4.1-.2-4-.3 1.1-.2 3.8-.2-1.3-.2-3.6-.2-.8-.3.7-.2 2.7-.2-3.3-.2-1-.2 9.1-.3-4.4-.2-4.9-.2 3.9-.2-3.5-.2 3.8-.2-3.5-.3-.1-.2 5-.2 8.6-.2-9.7-.2-4.5-.3 1.7-.2-1.2-.2-.6-.2 3-.2.9-.3.8-.2-2.9-.2 2.4-.2.8-.2-2.3-.3-.4-.2 3.9-.2-5-.2 9.2-.2-4.6-.3-3.9-.2-.4-.2 1.7-.2 2.9-.2 1.7-.3-3.5-.2 4.8-.2-1.9-.2 4.1-.2-6.5-.3 6.5-.2-6.9-.2 5.7-.2.3-.2-2.9-.3 2.6-.2 3.4-.2-2.5-.2-.4-.2-.8-.3-2.7-.2.5-.2 7.7-.2-6.8-.2.6-.3-.6-.2 3.1-.2.7-.2-2.2-.2 1.2-.3 1.3-.2 1.3-.2 5-.2-4.7-.2 2.5-.3 2.8-.2.6-.2 4.1-.2-7-.2-.9-.3.4-.2 4-.2 3.6-.2-2.3-.2-3.8-.3 1.1-.2 0-.2 2.7-.2 0-.2 1.9-.3 3.4-.2-5.3-.2 8.5-.2-5.3-.2.5-.3-1.9-.2 7.4-.2-4.2-.2 5.3-.2-4.2-.3 3.2-.2 9.2-.2-8.2-.2-4.1-.2 1.2-.3-.2-.2 2.6-.2 6-.2-1.2-.2-2.7-.3-.3-.2 4.1-.2-.1-.2-3.9-.2.8-.3.5-.2 3-.2.2-.2 2.4-.2-2.9-.3 2.2-.2-1.4-.2 5.1-.2-1.8-.2 5.3-.3-2.3-.2-6.7-.2 3.8-.2-1.2-.2-1.6-.3 3.9-.2.6-.2-2.2-.2 3.4-.2-4.7-.3 1.1-.2 6.1-.2-5.9-.2 0-.2 4-.2 1-.3-2.3-.2-1.3-.2 1.3-.2 1.4-.2 1.9-.3 1.4-.2 10.7-.2-2.9-.2 3.1-.2 1.1-.3-3.6-.2 5-.2-3.5-.2 1-.2-5.2-.3 7.4-.2-5.2-.2 2.1-.2 2.8-.2.8-.3-3.5-.2-3.5-.2 4.4-.2-3.7-.2 3.3-.3-3.9-.2 1-.2 4.1-.2-4.9-.2.1-.3-.6-.2.7-.2.3-.2-1-.2 1.7-.3-1.3-.2 5.5-.2-7.1-.2 8.5-.2-7.6-.3 3.3-.2-4.4-.2-.1-.2.1-.2 1-.3 2.1-.2 2.5-.2-4.4-.2.6-.2 0-.3.1-.2 5.5-.2-6.9-.2.2-.2.8-.3.7-.2-.7-.2.8-.2 1.2-.2 1.3-.3-4.4-.2 1.7-.2-1.1-.2 4-.2-1.9-.3 1.5-.2 3.7-.2-8-.2 6.5-.2-1.1-.3-4.9-.2.9-.2-.9-.2 1.1-.2 1.9-.3-1.9-.2 2-.2 1.5-.2-1.5-.2-3.1-.3 3.7-.2-.8-.2 8.6-.2-12-.2 2.3-.3 1.1-.2-2.9-.2 4.2-.2-4.8-.2 5.2-.3-3.9-.2.9-.2-2.9-.2 3.9-.2-1.8-.3 0-.2-2-.2 3.6-.2-3.7-.2 8.2-.3-7.7-.2-.6-.2 3.5-.2-2-.2-.2-.3.5-.2.5-.2-1.9-.2 1.7-.2-.2-.3-.2-.2 3-.2-4-.2 4.5-.2-2.4-.3 3-.2 2.5-.2-7.8-.2-.8-.2 7.9-.2-5-.3-.3-.2-1.4-.2-.7-.2.9-.2 1.5-.3.8-.2.3-.2 1-.2.2-.2 2.8-.3-3.3-.2-1.6-.2 0-.2 3.7-.2-4.7-.3.6-.2 2.2-.2.1-.2-4.1-.2 3.2-.3-.9-.2-1.5-.2 2.5-.2-2.9-.2 4.3-.3-4.8-.2-.7-.2 4.4-.2-1.3-.2-2.6-.3.1-.2-.8-.2 8-.2-6.7-.2 1-.3-3.5-.2 1.9-.2 4.8-.2-2.3-.2-3.6-.3 2.1-.2-1.9-.2 1-.2 1.5-.2.5-.3 2.3-.2 8-.2-12-.2 5.6-.2-7.2-.3-.4-.2 4.1-.2 3-.2-4.4-.2 3.1-.3 4.3-.2-8.4-.2 1.1-.2 3.9-.2-6-.3 3.5-.2.9-.2-4.9-.2 5.3-.2-4.2-.3-1.2-.2 3.8-.2-3.1-.2 6.4-.2-3.2-.3-3.8-.2 2.7-.2 2.1-.2-4.8-.2-.2-.3-.1-.2.5-.2 2.4-.2-1.8-.2.3-.3-3.1-.2-1.1-.2 3.1-.2-3-.2-1.6Z" fill="#bdbdbd" fill-opacity="1.0"/>
<path d="M590.5 163.7l.2-3.2.2 2.7.2 1.6.2-2.1.3 3.2.2 3.8.2-1.3.2 6.4.2-2.3.3 4.8.2-1.2.2-5.2.2 7.6.2-2.6.3-2.9.2 4 .2.3.2 4.1.2-1.7.3.3.2 1.8.2-.2.2 2.1.2-1.5.3.6.2 1.7.2-1.4.2.1.2-3.1.3 3.3.2.9.2.6.2-3.1.2 5.1.3-.3.2.5.2-1.2.2 1.9.2-6.7.3 5.9.2-.5.2-1.3.2 3.5.2-1.7.3.1.2 1.1.2-5.9.2 6.5.2-.6.3.8.2 0 .2-2 .2 1.9.2-2.5.3-1.5.2 2.3.2-.2.2.4.2-4.5.3 8.4.2.8.2-2.3.2-1.1.2-2.4.3 2.8.2 2.1.2-.2.2-4.2.2-1.2.3 6.3.2.7.2.6.2-2.3.2-2.1.3 4.1.2-1.4.2-1.8.2-.2.2 3.8.3-1.6.2-.1.2.7.2-.7.2 0 .3-3.6.2 4.2.2 1.2.2-.4.2-3.6.2 1.5.3 3.1.2.9.2 0 .2-1.8.2-2.7.3 1.9.2 3.7.2-2.7.2 2.1.2-7.6.3 6.2.2 2 .2-2.1.2 1.6.2.9.3.4.2-3.8.2 4.1.2-.9.2-1 .3-6.1.2 7 .2-.6.2-4.1.2 1 .3 2.8.2-2.6.2 5.1.2-3.8.2.7.3.6.2-.4.2-2.3.2 4.2.2 1.2.3-9.7.2 8 .2.5.2 1.7.2-6.1.3 3.2.2-3 .2 6.2.2-1.9.2-2.6.3 2.8.2-.2.2 1.7.2-.5.2.4.3-.3.2-1.1.2.3.2-5.9.2 3.4.3 4 .2.8.2-4.2.2 3.4.2-2.8.3 2.5.2.9.2-2.3.2 1.7.2-2.9.3 3.9.2-4.3.2.6.2 4.4.2-1.2.3-2 .2-.4.2 3.7.2-.8.2.1.3-4.5.2 4.7.2-.2.2-2.3.2 1.1.3-.6.2-1 .2 1.2.2 0 .2 2.9.3-2.7.2-6.8.2 2.7.2-1.7.2 3.8.3-4.6.2 6.6.2-3.9.2 5.8.2-1.5.3.5.2.6.2-4.8.2 1.8.2 2.7.3-3.3.2-.8.2 3.1.2-.6.2-.3.3-2 .2-2.3.2 3.6.2-2.2.2-4.8.3.9.2-2 .2.6.2 1.9.2-.7.3-1.5.2-1.3.2-1.4.2 1.3.2.2.2-.1.3.7.2-.6.2-.7.2-2.2.2 3.7.3-.3.2 1.9.2 1.9.2-1 .2-5 .3 7.1.2 1.3.2-2.9.2 2.9.2-.7.3-4 .2 4.9.2-1.4.2-5.8.2 2.1.3 1.5.2-1 .2 1.4.2.9.2.2.3-1.3.2-2.1.2-6.5.2 6.7.2.8.3-2.5.2-5.7.2 5.6.2-2.8.2-.9.3-3.2.2 4.6.2-8.2.2 6.2.2-3.7.3.2.2-4.8.2 4.8.2-7.6.2 1.3.3 2.5.2-1.4.2 1.9.2-5.3.2 0 .3 2.9.2-5.8.2 3.6.2-6.3.2 3.3.3-1.7.2-3.5.2 3.4.2-.3.2 1.7.3-3.3.2-1.8.2.6.2-7.6.2 8.4.3-2 .2 1.7.2.4.2-5.7.2.9.3.1.2 2.5.2-1 .2-1.6.2-4 .3-3.4.2 6.6.2-3.5.2 3 .2.4.3-.8.2-5.3.2 4.7.2-2.1.2-2 .3 1.1.2-2.3.2 2.6.2 1 .2-7.4.3 5.5.2-5 .2 5.5.2-3 .2 2.8.3-2.1.2-6.4.2 6.5.2-4.8.2 3.6.3 1.4.2-8 .2 7.7.2-5.5.2-2.9.3 3.1.2 1.8.2.1.2 2.2.2.1.3-2 .2.9.2.2.2-2.9.2-6.4.3 5.5.2 1.5.2-1.7.2-1.4.2 1.7.2-.5.3-.1.2.6.2.5.2 1.2.2-8.4.3 6.9.2.7.2-1 .2-4.8.2 4.6.3-4.7.2.6.2 4.7.2-2.9.2 3 .3-.2.2-2.8.2 1.2.2-1.4.2-1.4.3-6 .2 5.9.2 3.6.2-3.8.2 4.8.3-1.5.2-4.6.2-5 .2 5.7.2 5.9.3-6.3.2-3.1.2 9.6.2-2.6.2.3.3 3.4.2.6.2-3.2.2 3.4.2-1.9.3-.2.2 2.2.2-1.7.2.1.2-2.2.3 4.6.2.7.2-.9.2-4.7.2 4.2.3 1 .2.7.2-5.1.2 3.8.2.8.3-.4.2 1.1.2-1 .2-4.9.2 6.2.3-2.5.2-.4.2.3.2 3.7.2-6.5.3 7.1.2-.8.2.9.2-3.3.2.3.3-5.3.2 7.4.2.4.2-3 .2 3.4.3-1.1.2 1.7.2-3.8.2.5.2.8.3 3.2.2-3.9.2 3.7.2-5.2.2 3.5.3 1.8.2 1.3.2-.8.2-.5.2-.8.3 1.9.2-1.6.2-.9.2-1.5.2 1.1.3.9.2.4.2.5.2-1.7.2-.2.3.9.2.9.2-3.2.2 3 .2-.8.3 0 .2-5.3.2 7.7.2-3.5.2 1.9.3 2.6.2.6.2-3.8.2-4.8.2 6 .2-1.2.3-2.3.2 2.2.2.6.2.8.2.4.3.8.2-.1.2-2.8.2 4 .2-.6.3-2.1.2 3.9.2-.4.2-.6.2-2.5.3.6.2.8.2-2.5.2 4.8.2-2.7.3 2.2.2-.7.2-2.7.2 4 .2-.5.3-1.2.2.7.2 1.7.2-7.5.2 5.5.3 1.1.2-1.2.2 2.4.2-2.1.2-4.3.3 4.3.2 1.3.2-1.4.2-1.6.2 3.3.3-4.3.2 2 .2 3.4.2-.5.2-6.7.3 4.3.2 2.4.2-4.9.2 5.1.2-1.2.3.8.2-1.4.2-3.1.2 4.3.2-.3.3.1.2.3.2-.9.2 1.3.2-6.3.3 6.8.2-1.3.2.1.2.4.2.3.3-4.4.2 4.8.2-3.6.2 3.5.2-.4.3-6.2.2 3.7.2-4.9.2 8.1.2-5.5.3 2.3.2 1.4.2-1 .2.2.2 2.4.3-4.4.2 4.3.2-3.3.2-1.7.2 2.1.3 3.7.2-.7.2.8.2-2.8.2-3.1.3-1.7.2 4.5.2.3.2-6.2.2 8.6.3-4.8.2-.4.2-5.5.2 5.1.2 4.4.3 1.5.2-5.6.2 5.9.2-.9.2-2.2.3 2.6.2-7.5.2 8.2.2-1.8.2-7.2.3 3.4.2 4 .2-4.2.2 4.7.2-1.6.3-2 .2 2.7.2 2.2.2-3.4.2 3.6.2-2.3.3-.7.2 1.6.2-3.2.2 4.5.2-1.9.3-3.9.2 4.3.2-3.4.2 5 .2-.8.3 0 .2.3.2-3.4.2 3.9.2-.2.3-4.4.2 2.5.2 1.8.2-5.9.2 2.1.3 2.4.2 1.5.2-1.1.2-3.9.2 4.8.3-1.3.2-3.6.2 3.8.2-1.9.2-2.5.3 4.6.2-2.9.2 1.8.2 1.6.2-1.6.3-.4.2 1.8.2-.6.2 2.1.2-3.5.3 2.9.2-.4.2-2.4.2 2.1.2-6.2.3 2.1.2 3.1.2-.8.2 3.5.2-1.1.3.4.2-4.4.2 1.8.2 3.2.2-7.2.3 6.5.2-.2.2-5.2.2 3.2.2 1.8.3-.2.2-2.9.2-5.2.2 9 .2-6.3.3 5.5.2.5.2.1.2 1 .2.4.3 0 .2-3.5.2-6 .2-.9.2 9.7.3-5.9.2 3.5.2 2.4.2-3.2.2-.4.3-.6.2 4.3.2-6.9.2 1.4.2 3.9.3 2 .2-1.7.2-1.1.2-.1.2.6.3-.4.2 3.2.2.3.2-1.9.2-3.3.3-.4.2 2.5.2 1.3.2-3.9.2.9.3 1.2.2.1.2-3.1.2 5.8.2-5 .3 4 .2 1.9.2-.5.2-.3.2-.6.3-5.7.2 5.5.2 1.5.2-2 .2 1.8.2 1.1.3-.4.2-2.1.2 2.2.2-.3.2-1.9.3-2.2.2.1.2 3.5.2-1.2.2-2.3.3 3.8.2.6.2-1.5.2-4.3.2 1 .3 3.3.2 1 .2-4.3.2 3.8.2-2.7.3.2.2-3.7.2 5.1.2 1.8.2-.1.3.1.2-2.5.2 1.7.2-2.9.2-4.5.3 9.4.2-.1.2-2 .2 1.9.2-3 .3 2.2.2 1 .2-8.7.2 5 .2 2.7.3-.3.2 1.4.2-2.7.2 1.5.2-1.2.3-.2.2 1.2.2-2.6.2 3.2.2-9.2.3 7.8.2-4.2.2 2.7.2 3.5.2-7.6.3 6.5.2-2.2.2.6.2-3.3.2 5.6.3-1.8.2-.9.2-2.9.2 3.9.2.6.3.5.2 1.2.2-9.1.2 9.3.2-2.1.3-2.3.2 1.6.2-3.6.2 1 .2 5.3.3-6 .2 5.8.2-.3.2-3.8.2-1.7.3 5.8.2.2.2-3.1.2-1.4.2 1.4.3-4.1.2 5.6.2-4.2.2 5.2.2-2.5.3.4.2-2.1.2 1.6.2 1.2.2 1.9.3.5.2-6.3.2 3.1.2.5.2-3.8.3 5.9.2-.1.2-1.5.2-.1.2-.6.3 2.9.2-.6.2-2.5.2.5.2-1.1.3.5.2-1.3.2 0 .2.1.2 1.3.3-1.7.2 2.3.2-2.2.2 2.8.2 1.5.2-2.9.3-2.6.2 5.6.2-1.8.2 6.9.2 1 .3-3.9.2 9.6.2 1.2.2 2.6.2.7.3 2.1.2.7.2 3.7.2 2.4.2 1.7.3 4.3.2.3.2 2.3.2.1.2 5.6.3-5.8.2 9.3.2-1.4.2 5.1.2 1 .3 4.7.2-2.4.2 1.6.2 1.1.2.5.3-4.5.2 6.2.2 2 .2-1.5.2 2 .3-7.5.2 8.9.2-2 .2 1.8.2.6.3-.4.2-.2.2 1.6.2-.8.2-2.9.3 2.2.2-.2.2 1.5.2-.6.2-6.2.3 6 .2-.4.2-8.3.2 1.6.2-.3.3 6.7.2-5.2.2 3.5.2-4.5.2 3.6.3-.8.2 1.7.2-5.3.2-3.5.2 7.4.3-.1.2-1.8.2.7.2-1.8.2 3.7.3-.1.2-2.9.2 1.1.2.3.2-4.8.3 4.7.2-6.4.2 7.3.2-9.7.2 8 .3.2.2-.1.2-1.5.2-.6.2 1.8.3-.9.2-4.3.2 3.9.2 1.2.2-5.7.3.4.2 4.9.2-3.4.2 2.3.2.1.3-1.4.2-3.6.2 4.8.2-2.1.2-.2.3-2.6.2 2.3.2-3.9.2 6.3.2-6.2.3 4.9.2-3.7.2-1.1.2 4.6.2.5.3-6.8.2 5.1.2-2.7.2 2.6.2-.1.3-3.5.2-.8.2.7.2 0 .2 2.6.2-6.7.3 7.9.2-4.6.2 2 .2-4.1.2-.9.3 1.3.2 6.1.2-4.5.2 3.4.2-2.5.3-1.7.2 2.4.2-1.3.2 3.3.2-4.5.3 4.1.2-2.2.2.5.2-1.8.2 1.6.3-3.1.2.7.2.8.2 1.8.2-4.4.3 4.6.2-.8.2-1.5.2.6.2-1.4.3 3.7.2.1.2-1 .2-3.5.2.9.3-3.8.2 2.6.2 1.2.2-2.7.2.3.3 1.9.2 1 .2-3.1.2-2.6.2 7.3.3-2.6.2.1.2-3.6.2 6.4.2-2.1.3.9.2-4.2.2 2.6.2-2.4.2-3.3.3 3.3.2 3.8.2 0 .2.1.2-6.8.3 5.4.2-.9.2 2.3.2.6.2-7 .3 3.8.2 0 .2-8.3.2 8.7.2 1.2.3-5.4.2 2.9.2 3.3.2-5.5.2 4 .3.8.2-.9.2 1.9.2-3.3.2-.6.3.4.2 1.3.2-1.4.2-1.2.2 4.4.3.3.2-1.3.2.9.2-4 .2 4.4.3-7.8.2-3.5.2 9.2.2.4.2-2.4.3 1 .2 1.4.2 1.4.2-3.4.2 3.6.3-8 .2 1.7.2 4.9.2-.4.2 2.1.3-2.9.2-2.2.2 1.6.2 1 .2 1.2.3.5.2-3.3.2-1.3.2 1.3.2 3 .2-3.7.3 2.1.2-1.2.2 3 .2-.5.2 0 .3-6.3.2 4 .2 3 .2.1.2-5.3.3-.9.2 1.3.2 4.2.2-.4.2-9 .3 6.9.2 2 .2.9.2-2.3.2 2.2.3-2.5.2 1.1.2 2 .2-3 .2 3.6.3-2.6.2 1.3.2-3.5.2-3.4.2 7.1.3-2.7.2 3.3.2-3.7.2 2.2.2-6 .3 2.5.2-.7.2 6.3.2-3.4.2-3.4.3 2.1.2-.9.2 4.2.2-5.2.2-1.4.3 7.8.2-4.3.2 2.7.2-.1.2-12.7.3 13.4.2.2.2.5.2-1.1.2.7.3-1.7.2 1.9.2-2.8.2 3.1.2.3.3-3.4.2-1.8.2 4.4.2-.4.2.4.3.9.2-1.3.2-7.6.2 7.8.2-3.6.3.9.2 0 .2-.7.2 2.9.2-1.6.3-1.6.2 2.3.2-3.4.2-.2.2 6.1.3-1.6.2-1.3.2.5.2-2.8.2 4.2.3.9.2.4.2-3 .2-.2.2.4.3 1.9.2-2.4.2 3.1.2-4 .2-5.3.3 6.1.2-.4.2 3.9.2-5.9.2 3.3.3-6.5.2 3.6.2 5.2.2-.3.2-.5.3-3.7.2 1.1.2-3.9.2 3.8.2 2.9.3-1.6.2-1.8.2 3 .2-5.9.2 7.1.3-5.6.2 4.5.2.1.2-.1.2-2.3.2 1.2.3 2.1.2-3.1.2-5 .2 6.8.2-.4.3-3 .2 3.7.2.2.2-6.7.2 3.9.3 1.9.2-1.5.2 2.6.2-9.7.2 9.8.3-2.2.2-2.9.2.5.2 3.6.2.4.3-1.8.2 0 .2 1.9.2.1.2-.4.3.8.2-2.4.2 1.5.2-2.1.2 3.9.3-8 .2 5 .2 1.4.2-.1.2-2.3.3 2.3.2 2.1.2-4.1.2-.3.2 3.5.3.4.2-2.2.2-1.3.2-4.8.2 6.6.3 1.5.2-.5.2-5.1.2 5.2.2-1.2.3 1.6.2-1.5.2-3.7.2 5.1.2.4.3-8.1.2 0 .2 5.7.2 2.6.2-2.8.3.7.2-4.4.2 5.1.2-1.7.2 1.9.3-.1.2-5.9.2 6.9.2-.4.2-.8.3-.5.2 1.5.2-.3.2-3.3.2 1.6.3 2 .2-3.9.2 3.6.2-4.6.2-.4.3 6.2.2-1.5.2-2.9.2 3.1.2-5.4.3 6.9.2-9.1.2 8.8.2-4.4.2 4.4.3-1.1.2.1.2.7.2-3.8.2-.1.3 2.9.2-3.6.2 4.4.2.4.2-2.7.3-1.6.2.3.2.3.2 3.7.2-.4.3-4.6.2-1.2.2 1.7.2 3.4.2-4.4.3 4.4.2.2.2-4.3.2 5 .2-.8.2-1.9.3.5.2-2 .2 1.4.2.8.2 2.8.3-5.9.2 4.2.2-1.4.2 3 .2-4.7.3-1.1.2 5.5.2-5.1.2 5.4.2-.8.3-2.7.2-1 .2-3.8.2 6.3.2.7.3.9.2.4.2-.9.2-3.8.2 3.9.3-5.9.2 1.2.2 1.1.2 1.6.2-.3.3.3.2 2.1.2-5 .2 4 .2 1.2.3.3.2-1.1.2-3.1.2-.4.2-.4.3-.2.2 4.1.2-3.1.2-.1.2-2.6.3 3.4.2 1.4.2-3.2.2-1.3.2 3.3.3 1.1.2 1.6.2.3.2-.3.2-6.1.3 6.2.2-1.5.2 1.2.2.6.2-2.4.3 2.5.2-6 .2 4.4.2-2.2.2-2.4.3 2.2.2 1.7.2.9.2-3.5.2 4.3.3.1.2-1.8.2 2 .2-.5.2.5.3-.5.2-.4.2-2.2.2 2.1.2-.6.3.7.2-3.3.2 3.4.2-8.4.2 7.7.3 1.8.2-3.5.2 2.8.2-6.2.2 1.2.3 1.3.2 4.4.2-12.2.2 10.6.2-1.7.3 1.7.2.7.2-.2.2.7.2-10 .3 10 .2-4.4.2 0 .2 4.4.2-.5.3.8.2-8.3.2 7 .2-3.9.2 3.6.3-1.2.2 0 .2-4.4.2 5.5.2 1 .3-1.4.2-1.6.2-2.6.2 5.7 0 28.5-.2-2.7-.2 5.5-.2-4.4-.3 2.7-.2-2.7-.2 3.2-.2.5-.2-4.6-.3 0-.2 0-.2-.5-.2 4.8-.2-1.9-.3-1.5-.2-.5-.2-.5-.2-2.3-.2 3.5-.3.8-.2-.1-.2-3.6-.2.3-.2 4.2-.3-1.4-.2-2.5-.2 7.3-.2-6.4-.2-.1-.3-2.1-.2 5.8-.2-4.5-.2-.1-.2 1.2-.3.2-.2.3-.2-2-.2 4.1-.2-3.5-.3 1-.2-1.2-.2 2.1-.2 2.3-.2-4.6-.3 4.7-.2-5.4-.2 4.6-.2-.4-.2-.6-.3-1.9-.2 1-.2 5.3-.2-5.1-.2.2-.3-3.4-.2.4-.2 1.1-.2 3.9-.2-3.5-.3-1.3-.2 5.6-.2-.4-.2-3.1-.2-.2-.3-1.6-.2 1.3-.2 3.3-.2-3.2-.2-.9-.3 3.8-.2-4.2-.2 1.6-.2-1.5-.2.1-.3-.6-.2 1.5-.2 1.2-.2-.9-.2-2.3-.3 1.5-.2 2.8-.2-3.8-.2 3.1-.2-1.3-.3-1.4-.2.4-.2-1.1-.2 3.2-.2-2.9-.3-.3-.2 2.1-.2-1.5-.2-.9-.2 5.5-.3 1.5-.2 1.1-.2-6.7-.2 4.8-.2-5.1-.3-1-.2-.2-.2 4.1-.2.7-.2-3.7-.3 4.2-.2-.9-.2-1.3-.2 3.1-.2-5-.3-.5-.2.6-.2-.6-.2 1.3-.2 1.4-.3 2.6-.2-6-.2 6.2-.2-2.1-.2 1-.3-4.4-.2.6-.2 5.6-.2-4.8-.2-1-.2-.8-.3 5.5-.2-2.5-.2-3.3-.2 2.6-.2-2.5-.3 4.4-.2.1-.2 1.1-.2-3.9-.2 5.1-.3-5.5-.2 2.1-.2 6.9-.2-5.4-.2-4.3-.3-.7-.2 6.1-.2.7-.2-3.4-.2.1-.3-.4-.2-2.6-.2 7.2-.2-4.7-.2-.4-.3-1.6-.2.4-.2 2.9-.2.9-.2-2.8-.3 7.5-.2-6-.2 1.9-.2-3.8-.2 1.7-.3-.2-.2-1.8-.2-.1-.2 2.7-.2-3.7-.3 3.6-.2 1.6-.2-2.4-.2 3.1-.2-5.3-.3.9-.2.2-.2 6.3-.2-8-.2 9.2-.3-8.6-.2 1.1-.2 1.1-.2.2-.2-1.6-.3-.9-.2 3.9-.2 1.4-.2-6.8-.2 1.6-.3.9-.2-.6-.2-.4-.2 2.1-.2-.6-.3 1.4-.2-4.2-.2.4-.2-.3-.2 4.4-.3.8-.2-.5-.2-2.9-.2-1.1-.2 2.6-.3.9-.2-2.3-.2-1.8-.2 2.3-.2 5-.3-4.9-.2-.5-.2 1.4-.2-1.9-.2-1.8-.3 7.7-.2-5.1-.2.9-.2.6-.2-.9-.3-1.6-.2-1.3-.2 9.1-.2-6-.2-2.8-.3.1-.2 2-.2 1.6-.2-1.2-.2 1.3-.3 3.1-.2-3.4-.2-.6-.2-3.4-.2.6-.3 2.1-.2-.1-.2-.7-.2 1.1-.2 2.1-.3 1-.2-4.5-.2-.8-.2 3.1-.2-.4-.2 3.4-.3-6-.2 3.1-.2 1.6-.2-1.5-.2-2.9-.3 3.7-.2-3.2-.2-1.2-.2 1.8-.2.3-.3 6.8-.2-8.7-.2 6.9-.2-2-.2-1.6-.3-4.7-.2 2-.2-1.2-.2 4.6-.2-3.4-.3-.9-.2-.8-.2 3.2-.2-2.6-.2 2.1-.3-2.9-.2 0-.2.2-.2.8-.2 0-.3 1-.2-1.8-.2 1.9-.2-2.1-.2 2.5-.3-.9-.2 2.4-.2-2.8-.2 1.3-.2-2.3-.3 5-.2-.8-.2-4.2-.2 5.2-.2-5.5-.3 3.3-.2.7-.2-3.5-.2-.6-.2 3.2-.3.8-.2-2.9-.2 1.7-.2 2.7-.2-1.8-.3-2.5-.2-.4-.2 2.8-.2.1-.2-3.5-.3.8-.2 3.3-.2 2.7-.2-7.1-.2 4.5-.3-2.4-.2-2-.2 3.1-.2-2.3-.2-.1-.3 2.2-.2-1.3-.2-.6-.2 3.6-.2-1-.3 3-.2-6.7-.2 2.9-.2 1.4-.2-.4-.3-3.9-.2 0-.2 4.2-.2-3.7-.2 1.6-.3.3-.2-2.7-.2 4.9-.2 0-.2-.6-.3-4.2-.2 5.3-.2-.9-.2-2.5-.2-1.9-.3 3.1-.2-.3-.2 3.3-.2-6.1-.2 7.6-.3-5-.2 3.8-.2-5.1-.2 3.9-.2-2-.3-3.2-.2 1.7-.2 1.6-.2 2.7-.2-3-.3-.6-.2 2.7-.2-2.9-.2.2-.2 4.2-.3-5.2-.2 1.1-.2 2.3-.2-2.7-.2 2.8-.2-2-.3-.2-.2 2-.2-1-.2.8-.2-2.5-.3-.9-.2 5.7-.2-.3-.2-6-.2-.5-.3 1.1-.2 5.8-.2-5.1-.2 2.2-.2-2.1-.3 4.2-.2-5.5-.2 1-.2 4.4-.2-2.4-.3-2.7-.2 1.2-.2 1.8-.2-3.6-.2 5.9-.3-1.9-.2-1-.2-1.1-.2 3.3-.2-5.5-.3 4.4-.2-3.6-.2-.3-.2 1.5-.2-.9-.3-.6-.2-.1-.2 1-.2.4-.2 1.7-.3-3.1-.2-.4-.2 1.3-.2 1-.2 2.2-.3-4.4-.2 1.6-.2.5-.2 7.9-.2-6.2-.3-1.6-.2 6.6-.2-4.1-.2-4.2-.2 0-.3.2-.2 9-.2-8.5-.2 3.9-.2 3.1-.3-5-.2 1.9-.2-2.1-.2 5.4-.2-7.5-.3.4-.2 2.2-.2-2.3-.2 4.1-.2 4.4-.3-6.5-.2 4.5-.2-5-.2-.2-.2 2.6-.3-2.2-.2 1.2-.2-2.1-.2 3.5-.2 1.3-.3-4.7-.2-.1-.2.1-.2 3.3-.2-1-.3.8-.2 6-.2-8.1-.2 1.4-.2 3-.3-4.3-.2 1.9-.2 1-.2-1.9-.2.1-.3.8-.2 1-.2-2-.2.8-.2 2.6-.3 1.4-.2-3.3-.2 1.4-.2 2.8-.2 0-.3.1-.2-3.5-.2.9-.2 1-.2-.9-.3 4.6-.2-3.9-.2-1.4-.2 0-.2-1.4-.2 4.8-.3 1.6-.2-5.7-.2.8-.2.9-.2 1-.3 3.4-.2-4.8-.2 5.2-.2-5.3-.2-.5-.3.7-.2 2.7-.2 2.3-.2.6-.2-3.3-.3 3.2-.2-.9-.2-2.8-.2 4-.2-2.8-.3 2.4-.2-2.7-.2 6.2-.2-7.2-.2 3.7-.3-1.9-.2 4.1-.2-2.8-.2 4.7-.2-2.9-.3 1.2-.2-3-.2 2.3-.2-2.4-.2-.1-.3 2.4-.2-3.2-.2 4.1-.2-1.3-.2.5-.3-1.6-.2.7-.2 1-.2-1-.2 1.1-.3-.8-.2-.3-.2 2.3-.2 6.3-.2-9.7-.3 5.3-.2-1.7-.2-3-.2 4.9-.2-3.4-.3-1.1-.2 1.9-.2-1.2-.2 8.5-.2-3.3-.3-2.7-.2-.6-.2 4.8-.2-5.3-.2 3.6-.3-3.8-.2 3.1-.2-1.3-.2 2.4-.2-.5-.3.4-.2-1.5-.2 7.1-.2-4.8-.2-3.1-.3-.6-.2 6.3-.2-5-.2-.3-.2-2.9-.3.1-.2-.6-.2.8-.2-.1-.2.1-.3 1-.2-3-.2-.5-.2-1.1-.2-3.6-.3.8-.2-4.9-.2-2.1-.2-1.4-.2-2.7-.3-1.9-.2 4.5-.2-7.5-.2 1.4-.2-7.4-.3 1.6-.2-4.7-.2-.2-.2-3.2-.2-4-.3 6.2-.2-4.9-.2-6-.2 4.3-.2-6.9-.3-.9-.2-6.2-.2-1.7-.2-.4-.2.3-.3-1.1-.2-2.5-.2-.5-.2-.3-.2-2.2-.2 8-.3-7.4-.2-.3-.2 4.8-.2-.3-.2-4.3-.3 4-.2-4.4-.2 2.1-.2 1.3-.2-3.3-.3 3.1-.2-5.3-.2 4.3-.2-3.6-.2-1.1-.3 4.8-.2-3.5-.2.7-.2 1.1-.2-2.1-.3-.3-.2 3.4-.2-1.6-.2-.1-.2.4-.3 0-.2-.6-.2.7-.2-2.2-.2 1.3-.3-1.8-.2 2.1-.2-.1-.2.1-.2-1.7-.3 3.9-.2 1.2-.2-5.9-.2 1.2-.2-.5-.3 1.5-.2-1-.2 1.4-.2-2.1-.2-.3-.3.1-.2 2.2-.2 0-.2 6.2-.2-4.7-.3-3.5-.2 3.3-.2-2-.2 2.6-.2-3.1-.3 7.2-.2-3.6-.2-4.9-.2 6.4-.2-1-.3-2.5-.2 4.7-.2-5.1-.2 2.6-.2-1.9-.3-2.8-.2 8.7-.2-5.8-.2-2.8-.2 5-.3-3.5-.2 2.1-.2.9-.2-.9-.2-2.8-.3-1.7-.2.6-.2 4.4-.2.6-.2-3.3-.3-1.3-.2-.9-.2 4.6-.2-2.7-.2 2.7-.3-2.5-.2 1.6-.2-2.9-.2 5.4-.2-3-.3-3.2-.2 3.4-.2-2.5-.2 1.4-.2.6-.3-3.1-.2 2.2-.2-.3-.2.8-.2.8-.3-.1-.2-.5-.2 3.5-.2-1.4-.2-2.4-.3 3.2-.2-1.4-.2-1-.2-3.4-.2 1.5-.3 1.9-.2-1.5-.2-.2-.2 1.4-.2-1.2-.3-1.6-.2 3.2-.2-3.8-.2.6-.2 3.3-.2 5.2-.3-3.8-.2-2.8-.2-3-.2.4-.2 2.7-.3-2.1-.2-.7-.2 1.2-.2 0-.2-1-.3 1.5-.2 2.4-.2-2.5-.2 1.6-.2 1.8-.3-2.3-.2 2.1-.2-2.6-.2-.2-.2 2.5-.3-3.1-.2-1.7-.2 2.8-.2-3.3-.2.4-.3 4.5-.2-4.6-.2.6-.2-.6-.2 2.1-.3-.6-.2 1.6-.2.4-.2-3.4-.2 5.6-.3-4-.2-.7-.2-.2-.2-.1-.2 3-.3-4.3-.2-.1-.2.6-.2-1-.2 2-.3.4-.2-1.1-.2 1-.2-2.4-.2 2.7-.3-1-.2.3-.2 1.5-.2-.9-.2 3.1-.3-5.9-.2.7-.2-.6-.2 1.3-.2 1.4-.3-.7-.2 0-.2 2.5-.2-4.3-.2 0-.3 2.5-.2-1.8-.2 1.4-.2 1.3-.2-.1-.3-1.6-.2 7.3-.2-6-.2-.8-.2-1.5-.3.5-.2 6.1-.2.1-.2-4.8-.2-.3-.3 3.8-.2-7.2-.2 6.7-.2-2.2-.2 1-.3-5.5-.2-.2-.2 3.4-.2.8-.2-3.3-.3-.9-.2.9-.2 1.5-.2-1.1-.2 1.4-.3 1.7-.2-.5-.2.3-.2-.5-.2.5-.3-1.7-.2 1.1-.2-2.8-.2.7-.2 1.3-.3 2.2-.2-5.2-.2 5.2-.2-3.3-.2.9-.3-2.2-.2 3-.2-2.4-.2 3.9-.2-3.2-.2 3.2-.3-3.7-.2-1.2-.2 1.5-.2 3.1-.2 1.7-.3-5.9-.2 2-.2.8-.2-1.4-.2.8-.3-1.4-.2 1.1-.2-2.7-.2 8.1-.2-7.4-.3-.3-.2 1-.2 2.1-.2 2.4-.2-4.6-.3 7.6-.2-4.4-.2-3.4-.2 1.8-.2-2.3-.3-1.2-.2 1.4-.2 5.8-.2-5-.2-1.4-.3 1.1-.2 2.8-.2.5-.2-.3-.2-4.4-.3-.3-.2 6.7-.2-4.8-.2 2.6-.2.7-.3-2-.2-3.1-.2 7.6-.2.2-.2-4.5-.3 5.6-.2-6.8-.2-2.8-.2 8.3-.2-4.9-.3-2.1-.2-.9-.2 6.6-.2-5.6-.2-1.4-.3 4.7-.2.8-.2-4.6-.2.9-.2-.6-.3-1.4-.2 6.6-.2-2.4-.2 2.4-.2-1.3-.3-2.3-.2.7-.2 1.9-.2-.6-.2-1.5-.3-.5-.2-1.1-.2 6.8-.2-7.3-.2-1.8-.3 1.5-.2-1-.2 1.5-.2 2.3-.2-1.9-.3 2-.2-2.3-.2-1-.2 2-.2-1.8-.3 3.5-.2-1.3-.2 2.7-.2-2-.2-3.9-.3 2.6-.2-1.4-.2-1.5-.2-.4-.2.4-.3 3.4-.2-4.7-.2 8.1-.2 1.1-.2-.6-.3-1.2-.2-7.1-.2 6-.2-5.6-.2 4.4-.3-5.4-.2 6.7-.2-5.9-.2 6.7-.2-8-.3 6.8-.2-3.6-.2-2.4-.2 2.5-.2 2.1-.3-4.9-.2 3.9-.2-4.1-.2 7.2-.2-7.2-.2 3.5-.3 3.6-.2-6-.2.9-.2-2.4-.2 5.6-.3-4.1-.2-.3-.2 4.4-.2-3.6-.2-1.4-.3 2.1-.2-2.9-.2-1.2-.2 5.7-.2-4.8-.3 1.2-.2 2.1-.2 1.5-.2-2.4-.2-2.5-.3 1.2-.2.9-.2 1.4-.2 1.4-.2-5.9-.3 7.9-.2-.4-.2-1.8-.2-3.6-.2 1.3-.3-1.9-.2-2.3-.2 4.4-.2-1.2-.2-3.1-.3.3-.2 3.3-.2-4.7-.2 3.7-.2-3.8-.3 5.5-.2-3.4-.2-2.2-.2 6.3-.2-4.7-.3 3.4-.2-3-.2-2.7-.2.5-.2 2.4-.3-3.4-.2 4.3-.2-3.7-.2 1.1-.2-2.4-.3 6-.2-6.3-.2 1.1-.2 1.8-.2 2.5-.3-.7-.2 0-.2-5-.2 7.7-.2-4.5-.3-3.4-.2.8-.2-1.9-.2 5.1-.2 3.5-.3-8.9-.2 1.7-.2-.1-.2-.7-.2 3.7-.3-2.7-.2-2.9-.2 3-.2-2.3-.2-1.8-.3 4.2-.2-4.3-.2 2.5-.2-.8-.2.9-.3.5-.2.9-.2-2.5-.2 2.5-.2-4.2-.3-.6-.2 7.8-.2-3.4-.2-2.8-.2.3-.3-2-.2.1-.2.3-.2 0-.2-.2-.3 3.9-.2-1.2-.2-.7-.2-1.2-.2.9-.3 2.4-.2-.5-.2 1.3-.2 4.8-.2-7.3-.3.9-.2 4.5-.2-4.9-.2-.6-.2 2-.2 8.4-.3-6.6-.2-.1-.2-1.3-.2.3-.2-.3-.3 0-.2.3-.2 3.8-.2.7-.2-2.6-.3 3.7-.2-1.5-.2-2-.2.9-.2.9-.3-2.6-.2 4.5-.2-1.7-.2-1.7-.2 2.2-.3-.9-.2-.4-.2.1-.2 5.9-.2-4.8-.3-1.2-.2 1.5-.2.3-.2 1.9-.2 2.4-.3-3.5-.2.1-.2.7-.2 6.5-.2-5.8-.3-.6-.2 4.6-.2-.3-.2-2.4-.2 3.2-.3 1-.2-1.7-.2 1-.2 2.6-.2.9-.3 1-.2-1.6-.2 3.9-.2-.4-.2-3.7-.3 2.5-.2.6-.2 2.5-.2-4.1-.2 2.2-.3 1-.2-2.2-.2 7.9-.2-5-.2 5.9-.3-7.1-.2 2.5-.2 2.1-.2.7-.2 1.5-.3.2-.2-1.3-.2 8.2-.2-5.8-.2 5.3-.3-3-.2.3-.2-1.1-.2.1-.2 9.7-.3-4.4-.2.2-.2-1.8-.2 5.1-.2-.7-.3-.7-.2 0-.2 1.6-.2-.4-.2-.1-.3 7.2-.2-4.3-.2 8.5-.2-5.3-.2 5.4-.3-7.7-.2 1.5-.2 2.7-.2-1.3-.2-2.4-.3 3.5-.2-2.5-.2 3.3-.2-.2-.2-.4-.3 3-.2-4.4-.2 5.9-.2-7.5-.2 3.2-.3-3.7-.2 5.7-.2-7.2-.2-1-.2 9-.3-9.8-.2 6.5-.2-7.5-.2-1.1-.2 3-.3-3-.2 5.6-.2-3.9-.2 1-.2 1.8-.2-1.4-.3-.9-.2 3.1-.2 2.6-.2 1-.2.1-.3-1.2-.2-4.3-.2 5.6-.2-3.4-.2-2.2-.3-.5-.2 2-.2 2.1-.2-1.7-.2 4.7-.3-6.5-.2.5-.2-.6-.2 6.8-.2-5.7-.3 5.5-.2-1.3-.2 0-.2-3.6-.2 3.6-.3-2.6-.2 3.7-.2-5.3-.2.9-.2.8-.3-1.5-.2.7-.2-1.6-.2 2.8-.2 1.2-.3-3-.2 4.3-.2-3.3-.2 1-.2-1.6-.3 7.3-.2-8.6-.2.5-.2 1.3-.2-2.6-.3 2.3-.2 3.4-.2-1.3-.2-1.3-.2 3.4-.3-4.1-.2-1.5-.2 1.9-.2 1.2-.2.1-.3-2.4-.2 3.2-.2-3.6-.2-1.5-.2 4.3-.3 5.8-.2-7.1-.2-2.3-.2 4.3-.2-4.1-.3 4.8-.2.1-.2-2.9-.2 1.7-.2-3.4-.3-1.1-.2-.9-.2 1.8-.2-1.4-.2 3.5-.3-2-.2 3.4-.2-4.5-.2.1-.2 2.4-.3-.7-.2 1.8-.2-4.1-.2.6-.2 4.7-.3-3.8-.2-1.3-.2-1.4-.2 3.5-.2-2.4-.3 1.9-.2-1.7-.2-2.5-.2-.3-.2 5.9-.3-3.7-.2-2-.2 0-.2 9.1-.2-1.7-.3-6-.2 0-.2 3.7-.2-5.2-.2 2.6-.3 2.6-.2-3.7-.2-1.8-.2.2-.2.3-.3 2.2-.2-1.6-.2-.8-.2-.7-.2 2.4-.3-1.7-.2-1-.2.7-.2 3.6-.2-3.9-.2-.3-.3 1.2-.2-1.6-.2-.9-.2 5-.2-4.1-.3 1.1-.2-1.8-.2-1.4-.2 2.3-.2-.7-.3-.8-.2 5.8-.2-5.4-.2 9.9-.2-8.2-.3-.9-.2 4-.2-4.6-.2 2-.2-1-.3-1.9-.2-1.9-.2-.4-.2 1.1-.2.6-.3 1.4-.2-3.5-.2 4.5-.2-3.5-.2 2.8-.3-2.3-.2-1.9-.2 4.8-.2 1-.2-.6-.3-3.7-.2.8-.2-1.6-.2.5-.2-2.8-.3 4-.2-4.7-.2 1.4-.2 1.6-.2.5-.3-3.7-.2 1-.2 2.3-.2.7-.2-1.1-.3 3.1-.2-.3-.2-4.5-.2-.6-.2-1.1-.3.4-.2 2.7-.2-1.2-.2-1.2-.2-3.2-.3-.1-.2-.6-.2-1.7-.2 4.9-.2-5.5-.3 1.7-.2-1.6-.2 1.1-.2-3.5-.2 2.5-.3-2.5-.2 1.7-.2-1.2-.2-1.1-.2-1.9-.3-1.3-.2.3-.2-1.4-.2 8.1-.2-11.4-.3-.9-.2-.5-.2-3.5-.2.3-.2 2.5Z" fill="#f7a8a8" fill-opacity="0.75"/>
<path d="M590.5 195.4l.2 3.8.2-6.6.2 11.1.2-7.8.3 7.4.2-5.2.2 4.1.2-8.6.2 10.8.3-6.6.2 7.6.2-6 .2 5 .2-2.3.3 3.1.2-2.7.2 3.2.2-4.8.2 3.9.3-2.6.2 6.1.2-5.9.2 5.4.2-4 .3 3.6.2-6.2.2 8.4.2-5.1.2 1.2.3-7.9.2 6.3.2-5 .2 6.7.2-6 .3 7.7.2-5 .2 7.4.2-7.6.2 6.4.3-3.1.2 5.9.2-7.2.2 5.1.2-5.8.3 3.5.2-5.5.2 6.4.2-7.1.2 6.7.3-6.7.2 7.5.2-7 .2 4.7.2-7.4.3 8.3.2-7.4.2 8.4.2-4.7.2 5.7.3-6.1.2 7.2.2-6 .2 3.6.2-3.7.3 4.2.2-7.2.2 7.1.2-5.7.2 3.8.3-3.4.2 5.4.2-6.7.2 6.2.2-6 .3 6.5.2-5.9.2 3.8.2-2.2.2 7.5.3-8 .2 6.9.2-5.5.2 3.1.2-3.6.3 3 .2-4.6.2 3.8.2-5.5.2 6 .2-6.3.3 8 .2-7.3.2 7.1.2-6.6.2 8.2.3-5 .2 4 .2-4.8.2 5.4.2-6.6.3 5.3.2-8.2.2 11.8.2-11.2.2 6.8.3-4.3.2 3.6.2-6.2.2 7.9.2-5.8.3 4.5.2-4.5.2 5.9.2-4.1.2 3.9.3-6.8.2 5.7.2-2.4.2 7 .2-7.4.3 3 .2-2 .2 3.2.2-3 .2 5.1.3-4.7.2 2.5.2-6 .2 8.6.2-5.4.3 5.1.2-5.3.2 6.9.2-8 .2 6.4.3-3.8.2 3.6.2-6.6.2 6.6.2-4.7.3 5.3.2-7.1.2 6.2.2-7.5.2 4.6.3-3.1.2 3.6.2-2.3.2 4 .2-4.7.3 4.8.2-4.4.2 6.4.2-6.8.2 8.1.3-8.4.2 6.7.2-6.1.2 5 .2-6.5.3 5 .2-7.3.2 4.2.2-8 .2 8.8.3-5.3.2 4.8.2-4.7.2 5.5.2-2 .3 8.3.2-7.4.2 6.2.2-6.1.2 2.7.3-5.6.2 6.7.2-6.4.2 4.3.2-5.5.3 3.9.2-3.7.2 4.1.2-3.2.2 5.2.3-4.6.2 3 .2-4.1.2 9.2.2-5.8.3 4.4.2-4.4.2 3.7.2-7.5.2 10.6.3-10.1.2 5.5.2-8.1.2 1.6.2-9.1.3 3.3.2-8.2.2 2 .2-7.2.2 6.2.3-10.4.2 9.8.2-4.3.2 5.5.2-7.8.2 7.1.3-3.9.2 8.4.2-14.5.2 11 .2-8 .3 8.1.2-12.5.2 10.9.2-7.7.2 5.5.3-5 .2 7.8.2-9.5.2 9.9.2-8.1.3 6.2.2-8.1.2 9 .2-10.5.2 11 .3-9.4.2 3.8.2-6.8.2 6.8.2-8.3.3 8.4.2-12.4.2 10.3.2-10.1.2 8.2.3-5.1.2 2.9.2-8.5.2 9.3.2-7.9.3 5.8.2-10.6.2 15.4.2-12.8.2 7.9.3-9.2.2 8.6.2-12 .2 10.8.2-10.6.3 6.2.2-7.3.2 9.4.2-7.8.2 6 .3-7.4.2 5.7.2-5.6.2 4.4.2-5.2.3 3.2.2-8.8.2 9.3.2-10 .2 10.5.3-10.6.2 6.9.2-9.5.2 7.2.2-6.6.3 3.8.2-5.6.2 6 .2-7.9.2 8.3.3-7.9.2 6.8.2-10 .2 11.2.2-5.9.3 4.9.2-9 .2 12.1.2-11.7.2 5.4.3-7.4.2 7.1.2-8.3.2 4.8.2-8.4.3 11.5.2-9.3.2 7.9.2-8.5.2 11.9.3-14 .2 10.2.2-10.6.2 13.6.2-12 .3 6.1.2-10.1.2 11.6.2-7.6.2 8.6.3-7.6.2 10.2.2-7.6.2 5.3.2-9.9.3 8.9.2-4.7.2 7.9.2-10.8.2 9.3.3-7.2.2 5.6.2-6.7.2 7.8.2-6.8.3 7.4.2-8.9.2 8.5.2-9.4.2 5.6.2-6.5.3 5.9.2-8 .2 9.7.2-6 .2 5.4.3-7.1.2 8.9.2-5.4.2 6.4.2-6.3.3 6.9.2-10.4.2 9.8.2-7.2.2 7.7.3-7.3.2 7 .2-6.4.2 6.2.2-7.8.3 6.3.2-6.3.2 7.4.2-8.5.2 6.8.3-4.2.2 5.1.2-8.8.2 10.1.2-7.1.3 10.1.2-10.6.2 8.5.2-11 .2 11.3.3-8.8.2 7.2.2-4.6.2 11.7.2-10.7.3 7.8.2-10.4.2 9.7.2-7.1.2 7.3.3-6.8.2 4.5.2-9.4.2 14.4.2-9.9.3 6.4.2-7.9.2 8.5.2-7.4.2 7.5.3-8.2.2 5.4.2-4.9.2 7 .2-7.3.3 9.6.2-6.4.2 6.5.2-6.2.2 7 .3-6.6.2 4.9.2-5.3.2 4.1.2-8.1.3 8.7.2-6.9.2 4.9.2-3.2.2 5 .3-4.9.2 7.4.2-7 .2 7.9.2-12.3.3 14.3.2-13.2.2 9.1.2-6.9.2 6.1.3-9.6.2 9 .2-8.2.2 11 .2-11.6.3 14.9.2-11.7.2 8.2.2-11.5.2 9.5.3-7.9.2 8.6.2-9.7.2 10.3.2-8.6.3 5.8.2-3.9.2 6.5.2-6.1.2 7.5.3-6.4.2 4.5.2-5.4.2 5.2.2-4.2.3 8 .2-10.6.2 5.1.2-7.9.2 9 .2-9.3.3 8.2.2-7.3.2 7.9.2-6.5.2 10 .3-8.8.2 6.9.2-7.9.2 4.7.2-8.7.3 7.3.2-6.3.2 8.1.2-7.6.2 12 .3-10.3.2 6.9.2-4.8.2 8.5.2-6.3.3 8 .2-6.8.2 4.5.2-6.9.2 7.2.3-9.6.2 8.5.2-7.7.2 11.9.2-16 .3 11.6.2-12.8.2 11 .2-7.6.2 5.9.3-7.3.2 6.9.2-4.4.2 6.7.2-7.4.3 7.6.2-8.1.2 9.2.2-5.6.2 7.6.3-7.8.2 9.1.2-11.3.2 11.1.2-7.4.3 8.4.2-7.7.2 6.6.2-9 .2 9.8.3-11 .2 10.1.2-6.2.2 6.1.2-7.7.3 5.2.2-3.6.2 5.2.2-6.3.2 6.8.3-12.6.2 15.2.2-10.5.2 9.5.2-8.8.3 7.4.2-10.2.2 7 .2-6.3.2 7.3.3-9.3.2 10.6.2-4.4.2 3.8.2-6 .3 10.3.2-6.7.2 8.7.2-10 .2 8.5.3-13.1.2 7.3.2-9.2.2 8.5.2-7.6.3 9.7.2-8.5.2 4.9.2-4.1.2 5.6.3-4.9.2 5.9.2-4.1.2 11.9.2-11 .3 7.1.2-6.6.2 4.7.2-8 .2 7.5.3-4.4.2 5.1.2-11.4.2 8.8.2-8.2.3 8.6.2-5.6.2 8.9.2-7.8.2 4.3.3-6 .2 5.6.2-4.4.2 4.7.2-9.9.2 10.5.3-7.1.2 7.6.2-6.2.2 8.8.2-9.2.3 7.9.2-3.4.2 8.3.2-11 .2 8.9.3-7.3.2 3.4.2-5.4.2 10 .2-8.8.3 7.6.2-3.6.2 7.2.2-5.7.2 4.9.3-6.9.2 10.1.2-8.9.2 6.6.2-7.4.3 5.7.2-6.1.2 4.5.2-8.9.2 5.5.3-6 .2 4.3.2-6.9.2 6.8.2-6.3.3 6.6.2-8.9.2 12.4.2-10.8.2 14.1.3-11.5.2 7.5.2-9.1.2 10.3.2-11.2.3 9.8.2-9.2.2 13.5.2-12.7.2 5.6.3-4.6.2 4.1.2-4.2.2 7.3.2-10.8.3 11.2.2-6.9.2 3.2.2-7.4.2 9.3.3-7.6.2 7.4.2-6.3.2 9.2.2-6 .3 6.2.2-5.7.2 7.8.2-12.6.2 10.7.3-8.1.2 6.1.2-4.4.2 6.8.2-7.7.3 8.6.2-5.1.2 4.6.2-5.5.2 9.6.3-11.1.2 11.6.2-10.2.2 9.1.2-8.4.3 6.1.2-4.4.2 6.3.2-8.1.2 8.6.3-7.6.2 8.3.2-9.8.2 6.4.2-7.4.3 6.5.2-5.7.2 5 .2-5.6.2 8.8.3-11 .2 7.4.2-8.2.2 8.2.2-4.6.3 4.2.2-4.8.2 5.4.2-8.7.2 8.1.3-6.7.2 6.2.2-5.5.2 5.6.2-8 .2 7.8.3-6.3.2 10.5.2-10 .2 5.8.2-4.2.3 5.1.2-6.4.2 9.8.2-12.4.2 8 .3-3.2.2 5.3.2-4.6.2 10.4.2-8.3.3 8.4.2-6.9.2 4.3.2-5.3.2 9.2.3-9.3.2 3.7.2-16 .2 14.3.2-10.5.3 7.9.2-10.6.2 12 .2-10.1.2 7.9.3-7.9.2 6.5.2-4.2.2 8.3.2-10.9.3 9.5.2-7.6.2 5.9.2-6.3.2 9.6.3-9.8.2 6.9.2-6.4.2 10.2.2-11.8.3 7.3.2-8 .2 8.9.2-5.6.2 8.9.3-9.2.2 8.1.2-6 .2 7.3.2-7.5.3 5.8.2-6.3.2 9.1.2-9.1.2 5.4.3-7.3.2 8 .2-8 .2 7.8.2-8.1.3 9.3.2-8.1.2 8.5.2-10.3.2 9 .3-7.1.2 6.4.2-9.4.2 11.5.2-7.1.3 5.9.2-8.5.2 5.6.2-4 .2 5.6.3-5.9.2 6.4.2-11.2.2 10.2.2-6.6.3 9.3.2-10 .2 13.4.2-8.4.2 10.2.3-10.3.2 6.7.2-8.5.2 6.9.2-5.7.3 5.2.2-7.8.2 10.8.2-10.7.2 4 .3-5.5.2 7.3.2-7.3.2 6.9.2-11.3.3 7.8.2-3.3.2 6.8.2-7.5.2 8.7.3-10.6.2 8.4.2-6.2.2 12 .2-9.9.3 8.7.2-10.4.2 9.8.2-10.3.2 8.7.2-5 .3 3 .2-12 .2 11.9.2-11.3.2 12.8.3-8 .2 10.6.2-10.8.2 8.3.2-8.4.3 11.2.2-4.9.2 10.5.2-4.7.2 7.9.3-1.4.2 7.9.2-3.9.2 10.5.2-8.3.3 14.9.2-8.1.2 14.3.2-4.1.2 8.1.3-4 .2 11.6.2-1.1.2 7.2.2-.6.3 7.9.2-4.6.2 10.9.2-5.8.2 10 .3-5.1.2 8.7.2-1.3.2 8.6.2-1.8.3 7.5.2-6.7.2 7.3.2-3.8.2 5.6.3-6.8.2 7.3.2-8.7.2 6.2.2-6.4.3 7.3.2-4.3.2 4.3.2-4.3.2 5.3.3-2.9.2 4.9.2-4.6.2 6.2.2-5.5.3 9.3.2-10 .2 8.9.2-5.7.2 4 .3-4 .2 6.6.2-11.6.2 9.7.2-8.6.3 6.8.2-7.4.2 8.1.2-10.5.2 9.9.3-11.3.2 7.1.2-6 .2 5 .2-8.4.3 9.9.2-8.7.2 5.1.2-7.2.2 9 .3-7.3.2 8.6.2-7.2.2 5.9.2-6.4.3 7.2.2-7 .2 6.6.2-7.1.2 8.5.3-7.7.2 8.6.2-11.8.2 6.3.2-3.3.3 1.4.2-4.2.2 6.6.2-7.4.2 4.4.3-3.9.2 4.1.2-3.3.2 2.2.2-4.6.3 5.1.2-6.2.2 8.8.2-9.2.2 3.6.3-7.9.2 7.8.2-7.2.2 4.5.2-6.9.2 8.6.3-9.8.2 7.7.2-3.5.2 5.7.2-4.5.3 4.7.2-6.9.2 4.9.2-7 .2 8.6.3-7.6.2 5.4.2-7.6.2 3.8.2-5.1.3 4.1.2-7.6.2 8.2.2-6 .2 3.3.3-5.6.2 6.7.2-6.5.2 8.1.2-7 .3 3.6.2-4.3.2 2.7.2-6.7.2 9.2.3-11.4.2 8.3.2-4.2.2 4.4.2-6.2.3 9.2.2-7.6.2 6.6.2-6.7.2 6.4.3-5.8.2 7.2.2-9.2.2 6.1.2-7 .3 7 .2-11.6.2 8.2.2-3.7.2 5.4.3-7.6.2 6 .2-5.5.2 6 .2-8 .3 11.6.2-8.1.2 2.7.2-6.1.2 6.6.3-7.4.2 8.6.2-4.9.2 4.3.2-3.2.3 4.3.2-4.8.2 6.8.2-5.2.2 6.4.3-12.4.2 8.6.2-2.4.2 5.4.2-7.3.3 5 .2-7.1.2 6.1.2-3.5.2 6.4.3-4.5.2 5.4.2-5.7.2 8.1.2-7.2.3 6.4.2-9 .2 7.9.2-6.8.2 6 .3-7.7.2 4.4.2-6.5.2 7 .2-6.8.3 5.5.2-8.2.2 7.5.2-7.3.2 9.2.3-8.2.2 6.7.2-7.3.2 5.3.2-7.4.3 10.4.2-6.5.2 4.3.2-5.3.2 7.4.3-4.2.2 9 .2-6.8.2 5.2.2-7.2.2 6.2.3-6 .2 6.7.2-6.2.2 5.3.2-6.5.3 5.9.2-8.5.2 10.6.2-10.9.2 8.7.3-6.1.2 5 .2-4.8.2 4.2.2-5.8.3 12.7.2-14.8.2 8 .2-7.7.2 6 .3-8 .2 6.6.2-5.4.2 4.3.2-7.4.3 9.2.2-5.4.2 7.9.2-6.4.2 7 .3-9.9.2 10.3.2-8.4.2 6.4.2-7.7.3 7.1.2-5.9.2 7.7.2-8.6.2 5.7.3-3.6.2 4.1.2-8.4.2 10.6.2-7.3.3 7.4.2-8.2.2 7.2.2-5.6.2 5.3.3-5.3.2 6.8.2-6 .2 5.6.2-6.3.3 4.7.2-8.6.2 7.1.2-7.3.2 9.1.3-6.8.2 3.5.2-5.6.2 6.6.2-9.2.3 9.8.2-6.8.2 5.8.2-8.9.2 8.8.3-6.1.2 7.5.2-5.5.2 3.6.2-7.6.3 9.7.2-6.3.2 5.1.2-7.7.2 6.3.3-4.3.2 8.6.2-7 .2 6.6.2-7 .3 8.4.2-10.1.2 7 .2-10.9.2 8.8.3-6.1.2 5.7.2-6.9.2 8.9.2-6.1.3 8.8.2-8.3.2 6 .2-4.8.2 3.2.3-8.5.2 10.1.2-7.8.2 4.3.2-3.7.3 6.9.2-8.6.2 8 .2-5.8.2 8.5.3-5.2.2 6 .2-5.3.2 4.4.2-4.7.3 7.2.2-9.3.2 6.6.2-6.6.2 5.2.2-11.1.3 7.3.2-3.4.2 4.2.2-7.5.2 8.1.3-3.6.2 5.4.2-4 .2 6.8.2-6.7.3 2.6.2-7.9.2 10.4.2-6.8.2 6 .3-2.5.2 4.5.2-7.1.2 6.9.2-6.7.3 9.4.2-7.7.2 7.3.2-6.2.2 4.4.3-6.8.2 4.8.2-3.3.2 6.3.2-4.4.3 5.5.2-6.2.2 8.2.2-6.9.2 6.3.3-7.6.2 10 .2-7.2.2 5.6.2-5.6.3 6.7.2-10.9.2 11.6.2-8 .2 7.8.3-7.8.2 7 .2-7.4.2 5.5.2-8.4.3 6.7.2-3.8.2 5 .2-6.2.2 3 .3-5.7.2 6.8.2-6.3.2 6.3.2-5.8.3 3.4.2-4.3.2 6.2.2-4.9.2 8.7.3-8 .2 6.1.2-5.7.2 5.7.2-4.7.3 9.2.2-6.2.2 4.8.2-8.4.2 5.4.3-3.3.2 4.3.2-6.7.2 8.4.2-6.9.3 8.1.2-5.5.2 9.8.2-9.7.2 4.3.3-8.2.2 8 .2-8.5.2 4.6.2-7.3.3 8.2.2-11.6.2 7.7.2-4.1.2 7.5.3-6.6.2 6.2.2-3.6.2 6.9.2-4.9.3 4.8.2-7.8.2 7.6.2-6.2.2 6.4.3-7.3.2 8.4.2-7 .2 5 .2-5.4.3 4.5.2-5.6.2 5.3.2-3.3.2 4.7.2-6.7.3 12.5.2-10.1.2 7.3.2-8.5.2 12.3.3-9.9.2 5.7.2-6.1.2 2.9.2-6.9.3 9.5.2-6.4.2 3.4.2-5.2.2 3.6.3-5.9.2 7.7.2-6.7.2 7.4.2-7.4.3 5.5.2-4.3.2 6 .2-4.8.2 6 .3-6.1.2 7.6.2-10.4.2 5.9.2-4.8.3 9.1.2-12 .2 6.4.2-5.7.2 8.2.3-4.8.2 5.8.2-7.1.2 7.2.2-3 .3 5.2.2-4.9.2 5.2.2-7.9.2 8.2.3-6.8.2 4.7.2-9.2.2 10 .2-5.5.3 7.4.2-5.8.2 8.7.2-7.8.2 3.9.3-4.8.2 3.9.2-5.5.2 5.8.2-8 .3 4.1.2-3.3.2 7.3.2-7.3.2 7.3.3-4.5.2 3.4.2-4.8.2 6.2.2-7 .3 7.6.2-7.5.2 6.7.2-8.5.2 6.9.3-7.8.2 5.4.2-5.6.2 3.4.2-6.1.3 10.9.2-8.6.2 9 .2-7.4.2 7 .3-5.6.2 7.1.2-6.4.2 5.3.2-8.6.3 10.4.2-8.1.2 7.3.2-9 .2 11.3.3-7.7.2 7.4.2-7.6.2 9 .2-5.9.3 5.8.2-8.6.2 5.3.2-5.4.2 4.5.3-5 .2 8.2.2-7.4.2 7.3.2-5.6.3 7.9.2-9.3.2 7.8.2-5.3.2 5 .3-6.6.2 5.2.2-3.5.2 3.8" fill="none" stroke="#000" stroke-width="1.6" stroke-linejoin="round"/>
<path d="M590.5 164.6l.2 7.3.2-3.4.2 6.1.2-6 .3 10.9.2-6.6.2 6.8.2-8.1.2 15.6.3-14 .2 13.8.2-8 .2 8.4.2-8.6.3 9.4.2-4.6.2 5.2.2-6.5.2 8.8.3-6 .2 5.4.2-11.6.2 14.2.2-6.5.3 11.3.2-8.2.2 7.3.2-7.6.2 6.1.3-11 .2 11.2.2-6 .2 4.5.2-11.2.3 10.4.2-4.3.2 8.9.2-9 .2 7.8.3-7.8.2 8.6.2-5.4.2 3 .2-3.3.3 8.3.2-8.2.2 6.3.2-8.5.2 6.7.3-5.4.2 8.2.2-8.5.2 4.9.2-7.4.3 9.8.2-12.4.2 9.5.2-4.8.2 6.7.3-3.9.2 6.3.2-6.1.2 9.5.2-5.5.3 6 .2-10.4.2 10.7.2-8.5.2 8.7.3-7.7.2 5.1.2-6.1.2 5.2.2-6 .3 9 .2-7.7.2 5.4.2-4.3.2 4.6.3-4.7.2 4.3.2-4.8.2 6.1.2-5.4.3 8.9.2-11.9.2 9.1.2-5.7.2 6 .2-5.2.3 5.4.2-4.9.2 8.4.2-6.9.2 6 .3-6.9.2 8 .2-6 .2 4.5.2-6.1.3 3.9.2-7.8.2 7 .2-9.9.2 9.2.3-10.1.2 8.5.2-6.7.2 9.6.2-3 .3 6.8.2-7.9.2 6.4.2-6.6.2 6.4.3-5.6.2 5.6.2-5.5.2 4 .2-5.9.3 10.3.2-8.1.2 10.4.2-9.7.2 11.4.3-9.9.2 6.3.2-8.6.2 8.8.2-6.7.3 4.7.2-7.4.2 6.4.2-7.5.2 6 .3-3.3.2 7.5.2-6.9.2 7.3.2-9.1.3 9.5.2-10.1.2 11.1.2-7 .2 4.1.3-9.4.2 10.8.2-7.7.2 5.7.2-3.8.3 4.3.2-3.3.2 5.8.2-6.5.2 3.4.3-3 .2 6.4.2-8.3.2 11.2.2-12.5.3 9 .2-3.1.2 6 .2-7.2.2 4.6.3-5.7.2 8 .2-11.5.2 7.1.2-9 .3 9.3.2-5.6.2 7 .2-5.7.2 9.7.3-10.6.2 8.8.2-8.9.2 7.2.2-6.5.3 6.1.2-6.4.2 7.2.2-11.1.2 9.2.3-6.2.2 7.1.2-10.1.2 11.2.2-8 .3 4.5.2-6.3.2 7.1.2-12.1.2 12 .3-5.7.2 3.7.2-5.5.2 6.2.2-4.9.3 3.9.2-5.8.2 8.8.2-8.5.2 3.5.3-5 .2 4.9.2-6.3.2 3.9.2-5 .2 3.5.3-7.6.2 8.4.2-9.1.2 10.1.2-7.5.3 6.4.2-5.9.2 12.7.2-9.1.2 4.9.3-3.4.2 8.3.2-6.7.2 7.5.2-4.8.3 5.5.2-9.9.2 6 .2-6.4.2 8.1.3-12.5.2 8.7.2-4.9.2 5.7.2-3.2.3 8.2.2-7.4.2 9.3.2-9.9.2 2.8.3-3.7.2 5 .2-8.8.2 3.8.2-4.5.3 3.9.2-7 .2 6.5.2-6.3.2 7.7.3-11.3.2 4 .2-8.1.2 9.7.2-6.1.3 4.3.2-7.3.2 5.3.2-7.3.2 7.4.3-5.5.2 5 .2-4.6.2 5.6.2-9.3.3 7.4.2-7.1.2 5.5.2-11.8.2 6.6.3-7.3.2 8.1.2-11.3.2 5.3.2-6.2.3 4.2.2-5.1.2 6.5.2-8.7.2 9.8.3-5.8.2 9.8.2-11.8.2 10 .2-6.8.3 1.9.2-7 .2 3.2.2-8.3.2 6.5.3-7.6.2 6.9.2-7.4.2 10.8.2-9.3.3 5.6.2-6.3.2 6.1.2-5.3.2 3.9.3-8.4.2 5.5.2-3.8.2 5.3.2-5.9.3 6.9.2-12.1.2 10.1.2-5.2.2 7.2.3-8.4.2 7.3.2-4 .2 4.5.2-6.4.3 6.5.2-5.2.2 5 .2-5.5.2 7.1.3-10.1.2 8.6.2-6.3.2 3.4.2-5.2.3 7.8.2-8.1.2 4.7.2-5.7.2 7.4.2-6 .3 4.9.2-6.7.2 7.3.2-10 .2 5.1.3-6.5.2 14.1.2-13 .2 8.2.2-7.7.3 9 .2-11.1.2 5.5.2-8.7.2 8.1.3-9.6.2 10.1.2-7.1.2 10.5.2-14.5.3 8.4.2-6.7.2 10.4.2-6 .2 7.3.3-6.5.2 8.1.2-6.9.2 8 .2-7.8.3 6 .2-5.4.2 9.8.2-6.7.2 6.2.3-6.4.2 8.3.2-4.8.2 5.1.2-5.8.3 3.8.2-7.3.2 6.6.2-5.3.2 8.3.3-9.4.2 7.8.2-8.7.2 7.6.2-8.2.3 7.8.2-6.5.2 6.2.2-6.1.2 4.9.3-6.2.2 5.7.2-5.4.2 11.4.2-8.2.3 8.8.2-8.1.2 7.9.2-8.9.2 10.6.3-11.6.2 10.5.2-8.4.2 5.9.2-7.2.3 8 .2-5.3.2 7 .2-2.8.2 5 .3-5.9.2 9.7.2-9.6.2 6.2.2-9 .3 8.4.2-6.4.2 7.8.2-10.7.2 7.6.3-3.9.2 4.4.2-3.6.2 5.2.2-8.1.3 9.1.2-8.3.2 5.2.2-5.7.2 8.2.3-9.6.2 7.1.2-8 .2 8 .2-9.7.3 5.8.2-1.1.2 2.7.2-5.2.2 5 .3-6.2.2 6.9.2-8.3.2 11 .2-7 .3 9.7.2-4.5.2 5.8.2-2.8.2 2.8.2-3.4.3 3.7.2-4.8.2 5.6.2-6.2.2 9.1.3-8.8.2 4 .2-3.7.2 4.5.2-5.8.3 5.4.2-8.7.2 7.2.2-9.6.2 7.3.3-3.4.2 5.1.2-7.2.2 8.2.2-8.4.3 6.6.2-9.2.2 6.9.2-5.5.2 5 .3-6.5.2 9.6.2-7.4.2 7.2.2-6.3.3 6.4.2-7.3.2 6 .2-4.8.2 8.4.3-6.7.2 8.2.2-7.6.2 5.5.2-3.3.3 6.3.2-6.7.2 8 .2-9.9.2 6.4.3-3.2.2 7.1.2-6.3.2 4.2.2-2.8.3 6.2.2-8.6.2 5 .2-5.4.2 3.6.3-8.4.2 7.9.2-6.9.2 6.4.2-7.5.3 9.2.2-9.5.2 12.5.2-12 .2 8.8.3-4.4.2 5.2.2-7 .2 5.8.2-4.5.3 5 .2-3.8.2 2.2.2-3.2.2 6.7.3-5.7.2 5.2.2-8.1.2 7.9.2-4.2.3 2.2.2-7.5.2 8.4.2-7.9.2 7.1.3-8.6.2 7.7.2-8.5.2 5.4.2-2.5.3 7.4.2-6.3.2 5.6.2-2.4.2 5.3.3-4.1.2 8.9.2-8.1.2 3.8.2-5.5.3 5.7.2-8.4.2 7.4.2-9.8.2 7.7.3-4.6.2 10.2.2-10 .2 7.9.2-5.1.3 5 .2-5.2.2 4.8.2-5.2.2 7.1.3-8.2.2 4.5.2-7.3.2 8.3.2-9.9.2 4.1.3-9.3.2 10.5.2-7.7.2 9 .2-7.8.3 11.3.2-8.5.2 6.6.2-6.4.2 10.3.3-6.2.2 6.1.2-10.7.2 8.8.2-6.5.3 7.5.2-9.6.2 8.1.2-5.9.2 8.3.3-7.9.2 7.8.2-7.7.2 5.2.2-6.7.3 8.5.2-4.6.2 4.1.2-7.4.2 7.9.3-10.8.2 10.9.2-8.3.2 7.5.2-8.7.3 8.9.2-10.7.2 13 .2-10.3.2 8.7.3-6.5.2 6.6.2-5.8.2 5.9.2-6.9.3 6.2.2-6.4.2 6.3.2-9.3.2 7.7.3-12 .2 10.3.2-7.7.2 7.4.2-7.9.3 7.3.2-7.5.2 8.2.2-5.3.2 7.7.3-3.9.2 6.7.2-6.8.2 6.8.2-6.9.3 6.9.2-5.9.2 6 .2-6.9.2 4.8.3-6.7.2 6 .2-5.3.2 6.1.2-7.7.3 6.9.2-6.3.2 11.2.2-17.4.2 14.2.3-6.6.2 3.9.2-2.8.2 4.9.2-10.4.3 10 .2-4.2.2 7.1.2-8.2.2 3.8.3-3.4.2 7.1.2-10.3.2 7.8.2-11.4.3 10.3.2-7.3.2 7.4.2-5.3.2 8 .3-8.8.2 11.8.2-8.7.2 6.4.2-6.2.3 7.7.2-10.1.2 7.4.2-5.5.2 5.7.3-6 .2 4.5.2-7.6.2 6.7.2-5.5.2 6.4.3-5.8.2 4.9.2-9.8.2 8.6.2-7 .3 9.9.2-4.5.2 6 .2-9.9.2 11 .3-5.5.2 3.6.2-4.7.2 7.4.2-10.4.3 10.4.2-4.6.2 6.3.2-10.3.2 10.5.3-9.4.2 9.4.2-10.2.2 9.9.2-10.6.3 7.7.2-7.4.2 7.4.2-7 .2 4.8.3-5.2.2 7.3.2-6.2.2 4.1.2-8.6.3 8.9.2-7.4.2 7.9.2-8.3.2 8.7.3-5.8.2 7.6.2-6.9.2 11 .2-7.9.3 6.5.2-7.3.2 5.7.2-6.2.2 8.2.3-8.5.2 8.5.2-8.6.2 10.3.2-12.7.3 12.5.2-9.9.2 5.4.2-9.6.2 10.3.3-8.2.2 7.2.2-8.9.2 4.4.2-4.7.3 4.5.2-4.6.2 9.1.2-8 .2 7.5.3-8.1.2 7.4.2-9.1.2 9.5.2-8.1.3 9.8.2-8 .2 6.1.2-7.4.2 5.9.3-3.6.2 9.3.2-9.7.2 6 .2-8.5.3 9 .2-7.6.2 6.8.2-9.2.2 8.9.3-5.5.2 6.1.2-5.8.2 4.6.2-7.1.3 7 .2-2.8.2 4.6.2-5.8.2 8.8.3-6.5.2 6.7.2-5.1.2 4.6.2-8 .3 6.9.2-5.7.2 12.2.2-13.1.2 12 .3-6.8.2 4.9.2-7.6.2 3.3.2-7.5.3 6.9.2-5.2.2 4.5.2-8.7.2 9.3.2-3.6.3 6.5.2-3.4.2 9.8.2-6.7.2 5.8.3-2.3.2 11.4.2-8.2.2 7.7.2-3.4.3 8.5.2-4.6.2 11.1.2-5.2.2 7.8.3-4 .2 8 .2-3.3.2 6.9.2-4.8.3 9.4.2-4.6.2 9.4.2-6.4.2 7.2.3-4.4.2 6 .2-5.9.2 12.2.2-4.3.3 6.9.2-6.1.2 6.4.2-6.4.2 5.6.3-6.4.2 8.5.2-7.9.2 7.4.2-3.9.3 6 .2-7.7.2 8.7.2-5.4.2 5.5.3-10 .2 7.7.2-6.7.2 6 .2-5.2.3 5.8.2-7.5.2 7.4.2-9.2.2 8.3.3-6.7.2 5.2.2-6.4.2 7.3.2-7.7.3 9.6.2-9.6.2 7.5.2-3.6.2 3.9.3-4.7.2 3.3.2-4.9.2 3.2.2-8.7.3 11.2.2-11.1.2 5.3.2-7 .2 7.3.3-5.3.2 7.6.2-8.8.2 9 .2-4.3.3 6.9.2-8.1.2 6.2.2-4.7.2 3.6.3-6.6.2 9.4.2-9.2.2 4.9.2-3.2.3 7.1.2-7.5.2 8.4.2-9 .2 6.6.3-10.4.2 6.9.2-7.5.2 7.7.2-10 .3 6.1.2-11.3.2 8.8.2-4 .2 4.6.3-5 .2 11.1.2-10.3.2 7.5.2-6.5.3 7.4.2-9.8.2 9.6.2-3.9.2 2.6.3-6.2.2 8.8.2-7.1.2 7.4.2-5.7.2 4.4.3-6.1.2 8.7.2-8.9.2 3.2.2-6.6.3 8.5.2-6.2.2 6.6.2-7.8.2 5 .3-5.7.2 8.9.2-7.5.2 6.6.2-14.1.3 12.2.2-8.4.2 8.5.2-4.8.2 7.1.3-10.2.2 6.3.2-5.9.2 9.2.2-8.6.3 6 .2-6 .2 5.1.2-8.6.2 12.2.3-10.4.2 8.9.2-7.4.2 5.6.2-5.2.3 5.4.2-8.8.2 12.6.2-7.7.2 4.3.3-10 .2 8.8.2-5.4.2 3 .2-6.6.3 5.1.2-6.2.2 6 .2-8.4.2 8.4.3-4.6.2 7.6.2-4.2.2 6.5.2-7 .3 8.2.2-7.9.2 6.9.2-6.9.2 10.8.3-10.9.2 3.6.2-6.7.2 7.1.2-4.2.3 3.8.2-4.1.2 4.6.2-5.2.2 7.4.3-5.4.2 7.5.2-7.4.2 6.5.2-6 .3 4.7.2-10 .2 8.7.2-6.8.2 4.3.3-6.7.2 7.9.2-5.6.2 9.7.2-10.1.3 10.5.2-6.3.2 7.3.2-9.9.2 10 .3-7 .2 6.5.2-6.1.2 4.9.2-7.1.3 4.4.2-3.2.2 5.5.2-6.4.2 5.2.3-4.8.2 9 .2-10.2.2 5 .2-7.2.3 4.9.2-4.6.2 8.5.2-8.8.2 7.2.3-6.8.2 6.3.2-4.2.2 6 .2-9.3.2 7.5.3-8.9.2 6 .2-4.6.2 6.4.2-5.1.3 7.3.2-10.2.2 7.5.2-6.5.2 5.9.3-2.8.2 7.1.2-10.4.2 9.8.2-6.4.3 9.8.2-6.8.2 9.1.2-6.1.2 3.3.3-6.3.2 7.1.2-8 .2 5.5.2-8.5.3 7.8.2-7.1.2 4.5.2-5.4.2 5 .3-6.3.2 11 .2-8.3.2 6.5.2-5.4.3 5.4.2-4.9.2 5.1.2-4.9.2 4 .3-6.7.2 7.5.2-8.8.2 8.1.2-6.1.3 3.7.2-4.3.2 4.3.2-8.3.2 11.6.3-9.2.2 11.2.2-9.9.2 3.8.2-4.2.3 8.1.2-8.9.2 11.8.2-8 .2 6.2.3-10 .2 9.7.2-6.4.2 5.7.2-4.9.3 7.5.2-12.1.2 7 .2-7.2.2 8.7.3-6.4.2 7.4.2-5.5.2 6.3.2-7.7.3 7.9.2-4 .2 3.2.2-5.3.2 7.4.3-14.7.2 12 .2-7.7.2 6.9.2-7.3.3 11.1.2-7.7.2 6.2.2-5.3.2 5.8.3-11.2.2 14.4.2-12.7.2 9.4.2-8.4.3 7.7.2-7.4.2 6.4.2-8.1.2 6.8.3-8.9.2 6.5.2-9.5.2 10.3.2-12.8.3 11 .2-6 .2 9.3.2-3.1.2 5.9.3-7.4.2 10 .2-9.5.2 9.1.2-8.8.3 9.2.2-8.9.2 8.4.2-10.6.2 6.4.2-6.2.3 7.9.2-10 .2 8.2.2-7.1.2 12 .3-13.1.2 8.1.2-4.9.2 8.2.2-7.8.3 9.6.2-7.7.2 7.9.2-10.5.2 9.2.3-4.2.2 5.3.2-10.2.2 8.9.2-8.3.3 7.6.2-4.4.2 6.1.2-10.4.2 8.8.3-10.4.2 10.3.2-5.2.2 5.4.2-12.1.3 11.2.2-9.3.2 12.8.2-7.3.2 6.5.3-7.9.2 5 .2-5.7.2 6 .2-9.4.3 10.9.2-11.7.2 6.4.2-11.5.2 12.3.3-8.6.2 9.2.2-8.9.2 7.9.2-5.8.3 5.8.2-7.6.2 10.7.2-6.3.2 10.1.3-11.6.2 8.4.2-6 .2 6.1.2-8.8.3 9.7.2-9.6.2 7.1.2-5.4.2 3.5.3-4 .2 5.4.2-3.1.2 5.2.2-6.2.3 5.7.2-4.1.2 6.3.2-6.6.2 4.9.3-4.2.2 3.1.2-5.1.2 8.2.2-6.7.3 4.8.2-8.4.2 9.8.2-6.3.2 6.8.3-8.1.2 5.4.2-7.8.2 8 .2-7.7.3 6.3.2-8.2.2 7.6.2-4 .2 7.1.3-7.5.2 4.7.2-5.2.2 4.6.2-5.5.3 5.5.2-5.9.2 4.6.2-6.5.2 8.4.3-5.4.2 10.4.2-9.9.2 9.7.2-6.9.3 7.1.2-12 .2 10 .2-10.2.2 10.9.2-8.8.3 6.3.2-6.7.2 5.2.2-7.5.2 5.4.3-8.1.2 9.3.2-6.1.2 6.4.2-6.2.3 5.3.2-3.7.2 4.9.2-4.2.2 7.2.3-13 .2 8.2.2-7 .2 9 .2-4.3.3 5.7.2-4.8.2 7 .2-6.5.2 9.8.3-10.4.2 5.9.2-6.6.2 6 .2-9.2.3 10.8.2-7.5.2 5.5.2-4.4.2 4.6.3-4.9.2 6.1.2-7.8.2 5.3.2-9.9.3 9.1.2-4.4.2 5.4.2-6.3.2 7.1.3-8.8.2 9.8.2-5 .2 2.5.2-5.4.3 4.3.2-6.5.2 14.5.2-9.4.2 6.8.3-9.6.2 6.6.2-5 .2 7.1.2-8.5.3 5.1.2-7.9.2 8.5.2-9.4.2 9.7.3-2.7.2 5 .2-6.3.2 3.5.2-8.5.3 11.2.2-7.3.2 10.6.2-10.7.2 3.7.3-8.5.2 8.7.2-7.3.2 6.4.2-6.4.3 10.6.2-8.4.2 7.4.2-7.9.2 8.7.3-11.2.2 5.9.2-1.7.2 6.6.2-10.3.3 8.8.2-5.6.2 7.6.2-8.6.2 9.2.3-4.7.2 4.4.2-5.2.2 5.7.2-6 .3 4.3.2-7.3.2 7.1.2-10.6.2 10.1.3-5.4.2 5.9.2-6.1.2 5.8.2-7.8.3 7.9.2-6 .2 6.8.2-3.4.2 5.5.3-6.8.2 4.5.2-4.9.2 9.1" fill="none" stroke="#ff0000" stroke-width="1.6" stroke-linejoin="round"/>
<path d="M591.0,83.6 L591.0,284.0 L897.8,284.0" fill="none" stroke="#000" stroke-width="2.2"/>
<line x1="591.0" y1="84.0" x2="603.6" y2="84.0" stroke="#000" stroke-width="2.2" />
<line x1="591.0" y1="124.0" x2="603.6" y2="124.0" stroke="#000" stroke-width="2.2" />
<line x1="591.0" y1="164.0" x2="603.6" y2="164.0" stroke="#000" stroke-width="2.2" />
<line x1="591.0" y1="204.0" x2="603.6" y2="204.0" stroke="#000" stroke-width="2.2" />
<line x1="591.0" y1="244.0" x2="603.6" y2="244.0" stroke="#000" stroke-width="2.2" />
<line x1="634.86" y1="284.0" x2="634.86" y2="271.4" stroke="#000" stroke-width="2.2" />
<line x1="678.72" y1="284.0" x2="678.72" y2="271.4" stroke="#000" stroke-width="2.2" />
<line x1="722.5799999999999" y1="284.0" x2="722.5799999999999" y2="271.4" stroke="#000" stroke-width="2.2" />
<line x1="766.44" y1="284.0" x2="766.44" y2="271.4" stroke="#000" stroke-width="2.2" />
<line x1="810.3" y1="284.0" x2="810.3" y2="271.4" stroke="#000" stroke-width="2.2" />
<line x1="854.16" y1="284.0" x2="854.16" y2="271.4" stroke="#000" stroke-width="2.2" />
<line x1="898.02" y1="284.0" x2="898.02" y2="271.4" stroke="#000" stroke-width="2.2" />
<text transform="translate(584.5,91.6) scale(1,1.035)" font-size="30" text-anchor="end" fill="#000" >0.3</text>
<text transform="translate(584.5,131.6) scale(1,1.035)" font-size="30" text-anchor="end" fill="#000" >0.2</text>
<text transform="translate(584.5,171.6) scale(1,1.035)" font-size="30" text-anchor="end" fill="#000" >0.1</text>
<text transform="translate(584.5,211.6) scale(1,1.035)" font-size="30" text-anchor="end" fill="#000" >0.0</text>
<text transform="translate(584.5,251.6) scale(1,1.035)" font-size="30" text-anchor="end" fill="#000" >−0.1</text>
<text transform="translate(584.5,291.6) scale(1,1.035)" font-size="30" text-anchor="end" fill="#000" >−0.2</text>
<text transform="translate(514.6,184.7) rotate(-90) scale(1,1.035)" font-size="31" text-anchor="middle">ΔF/F</text>
<rect x="786.3" y="92" width="33.8" height="16.3" fill="#000"/>
<rect x="786.3" y="113.9" width="33.8" height="16.3" fill="#ff0000"/>
<text transform="translate(833.5,108.3) scale(1,1.035)" font-size="27.5" fill="#000" >Control</text>
<text transform="translate(834.5,130.1) scale(1,1.035)" font-size="27.5" fill="#e8141c" >AngII block</text>
<path d="M590.5 390.6l172.8 0 4.7 0 5.8-71.9 2.7 39 3.9-2.6 2.8 30.6 2.3 4.9 3.6-8.7 3.5 8.7 4.1 0 1.4-3.9 2.1 3.9 24.6 0 2.6-8.7 2.7 8.7 24 0 2-3.9 2.1 3.9 39.8 0 0 0-39.8 0-2.1-.7-2 .7-24 0-2.7-3.6-2.6 3.6-24.6 0-2.1-.7-1.4.7-4.1 0-3.5-3.6-3.6 3.6-2.3-1.3-2.8-18.4-3.9 1.6-2.7-23.4-5.8 41.5-4.7 0-172.8 0Z" fill="#c8c8c8" fill-opacity="1.0"/>
<path d="M590.5 390.6l172.8 0 3.2 0 5.3-55.8 5.2 48.8 5 5.8 3.5-4.1 3 5.3 5.8-1.2 3.2-5.3 3.3 6.5 4.9-2.9 3 2.9 4.4-1.8 2.3-6.1 2.9 5.6 3.3-4.2 3.2 5.3 4.4 1.2 4.4-1.8 2.9 1.2 5.9-1.7 2.9 2.3 20.5 0 2.9-1.8 2.9 1.8 14.7 0 4.4-1.8 4.4 1.8 2.9 0 0 0-2.9 0-4.4-1.3-4.4 1.3-14.7 0-2.9-1.3-2.9 1.3-20.5 0-2.9-1.7-5.9 1.3-2.9-.9-4.4 1.3-4.4-.9-3.2-3.9-3.3 3.1-2.9-4.2-2.3 4.6-4.4 1.3-3-2.2-4.9 2.2-3.3-4.8-3.2 3.9-5.8.9-3-3.9-3.5 3-5-4.3-5.2-36-5.3 41.2-3.2 0-172.8 0Z" fill="#f7b0b0" fill-opacity="0.7"/>
<path d="M590.5 390.6l172.8 0 4.7 0 5.8-56.7 2.7 31.2 3.9-2.1 2.8 24.5 2.3 3.1 3.6-6.1 3.5 6.1 4.1 0 1.4-2.3 2.1 2.3 24.6 0 2.6-6.1 2.7 6.1 24 0 2-2.3 2.1 2.3 39.8 0" fill="none" stroke="#000" stroke-width="1.8" stroke-linejoin="round"/>
<path d="M590.5 390.6l172.8 0 3.2 0 5.3-48.5 5.2 42.4 5 5.1 3.5-3.6 3 4.6 5.8-1 3.2-4.6 3.3 5.6 4.9-2.6 3 2.6 4.4-1.5 2.3-5.4 2.9 4.9 3.3-3.6 3.2 4.6 4.4 1 4.4-1.5 2.9 1 5.9-1.5 2.9 2 20.5 0 2.9-1.5 2.9 1.5 14.7 0 4.4-1.5 4.4 1.5 2.9 0" fill="none" stroke="#ff0000" stroke-width="1.8" stroke-linejoin="round"/>
<path d="M591.0,314.0 L591.0,390.6 L897.8,390.6" fill="none" stroke="#000" stroke-width="2.2"/>
<line x1="591.0" y1="314.0" x2="603.6" y2="314.0" stroke="#000" stroke-width="2.2" />
<line x1="591.0" y1="326.76666666666665" x2="603.6" y2="326.76666666666665" stroke="#000" stroke-width="2.2" />
<line x1="591.0" y1="339.53333333333336" x2="603.6" y2="339.53333333333336" stroke="#000" stroke-width="2.2" />
<line x1="591.0" y1="352.3" x2="603.6" y2="352.3" stroke="#000" stroke-width="2.2" />
<line x1="591.0" y1="365.06666666666666" x2="603.6" y2="365.06666666666666" stroke="#000" stroke-width="2.2" />
<line x1="591.0" y1="377.83333333333337" x2="603.6" y2="377.83333333333337" stroke="#000" stroke-width="2.2" />
<line x1="591.0" y1="390.6" x2="603.6" y2="390.6" stroke="#000" stroke-width="2.2" />
<line x1="634.86" y1="390.6" x2="634.86" y2="378.3" stroke="#000" stroke-width="2.2" />
<line x1="678.72" y1="390.6" x2="678.72" y2="378.3" stroke="#000" stroke-width="2.2" />
<line x1="722.5799999999999" y1="390.6" x2="722.5799999999999" y2="378.3" stroke="#000" stroke-width="2.2" />
<line x1="766.44" y1="390.6" x2="766.44" y2="378.3" stroke="#000" stroke-width="2.2" />
<line x1="810.3" y1="390.6" x2="810.3" y2="378.3" stroke="#000" stroke-width="2.2" />
<line x1="854.16" y1="390.6" x2="854.16" y2="378.3" stroke="#000" stroke-width="2.2" />
<line x1="898.02" y1="390.6" x2="898.02" y2="378.3" stroke="#000" stroke-width="2.2" />
<text transform="translate(584.6,321.6) scale(1,1.035)" font-size="30" text-anchor="end" fill="#000" >150</text>
<text transform="translate(584.6,397.5) scale(1,1.035)" font-size="30" text-anchor="end" fill="#000" >0</text>
<text transform="translate(591.0,419.2) scale(1,1.035)" font-size="30" text-anchor="middle" fill="#000" >−15</text>
<text transform="translate(634.86,419.2) scale(1,1.035)" font-size="30" text-anchor="middle" fill="#000" >0</text>
<text transform="translate(678.72,419.2) scale(1,1.035)" font-size="30" text-anchor="middle" fill="#000" >15</text>
<text transform="translate(722.5799999999999,419.2) scale(1,1.035)" font-size="30" text-anchor="middle" fill="#000" >30</text>
<text transform="translate(766.44,419.2) scale(1,1.035)" font-size="30" text-anchor="middle" fill="#000" >45</text>
<text transform="translate(810.3,419.2) scale(1,1.035)" font-size="30" text-anchor="middle" fill="#000" >60</text>
<text transform="translate(854.16,419.2) scale(1,1.035)" font-size="30" text-anchor="middle" fill="#000" >75</text>
<text transform="translate(898.02,419.2) scale(1,1.035)" font-size="30" text-anchor="middle" fill="#000" >90</text>
<text transform="translate(670.5,452.7) scale(1,1.035)" font-size="31" fill="#000" >Time (min)</text>
<text transform="translate(480.8,353) rotate(-90) scale(1,1.035)" font-size="30" text-anchor="middle">Lick rate</text>
<text transform="translate(516.5,352) rotate(-90) scale(1,1.035)" font-size="30" text-anchor="middle">(min<tspan font-size="19" dy="-11">-1</tspan><tspan dy="11">)</tspan></text>
<text x="963.0" y="57.5" font-size="35" font-weight="bold" fill="#000" >c</text>
<rect x="1133.4" y="158.4" width="81.3" height="232.6" fill="#000"/>
<rect x="1235.3" y="146.1" width="82" height="244.9" fill="#ff0000"/>
<line x1="1174.2" y1="158.364" x2="1174.2" y2="134.5" stroke="#000" stroke-width="2" />
<line x1="1147.8" y1="134.5" x2="1200.2" y2="134.5" stroke="#000" stroke-width="2" />
<line x1="1276.1" y1="146.12" x2="1276.1" y2="111.0" stroke="#000" stroke-width="2" />
<line x1="1250.5" y1="111.0" x2="1302.1" y2="111.0" stroke="#000" stroke-width="2" />
<line x1="1174.2" y1="126.1" x2="1276.1" y2="102.6" stroke="#808080" stroke-width="2" />
<line x1="1174.2" y1="144.2" x2="1276.1" y2="120.0" stroke="#808080" stroke-width="2" />
<line x1="1174.2" y1="203.1" x2="1276.1" y2="213.6" stroke="#808080" stroke-width="2" />
<path d="M1072.5,84.9 L1072.5,391.0 L1378.8,391.0" fill="none" stroke="#000" stroke-width="2.2"/>
<line x1="1072.5" y1="391.0" x2="1084.6" y2="391.0" stroke="#000" stroke-width="2.2" />
<text transform="translate(1064.8,398.0) scale(1,1.035)" font-size="29.5" text-anchor="end" fill="#000" >0.0</text>
<line x1="1072.5" y1="360.39" x2="1084.6" y2="360.39" stroke="#000" stroke-width="2.2" />
<text transform="translate(1064.8,367.39) scale(1,1.035)" font-size="29.5" text-anchor="end" fill="#000" >0.1</text>
<line x1="1072.5" y1="329.78" x2="1084.6" y2="329.78" stroke="#000" stroke-width="2.2" />
<text transform="translate(1064.8,336.78) scale(1,1.035)" font-size="29.5" text-anchor="end" fill="#000" >0.2</text>
<line x1="1072.5" y1="299.17" x2="1084.6" y2="299.17" stroke="#000" stroke-width="2.2" />
<text transform="translate(1064.8,306.17) scale(1,1.035)" font-size="29.5" text-anchor="end" fill="#000" >0.3</text>
<line x1="1072.5" y1="268.56" x2="1084.6" y2="268.56" stroke="#000" stroke-width="2.2" />
<text transform="translate(1064.8,275.56) scale(1,1.035)" font-size="29.5" text-anchor="end" fill="#000" >0.4</text>
<line x1="1072.5" y1="237.95" x2="1084.6" y2="237.95" stroke="#000" stroke-width="2.2" />
<text transform="translate(1064.8,244.95) scale(1,1.035)" font-size="29.5" text-anchor="end" fill="#000" >0.5</text>
<line x1="1072.5" y1="207.34" x2="1084.6" y2="207.34" stroke="#000" stroke-width="2.2" />
<text transform="translate(1064.8,214.34) scale(1,1.035)" font-size="29.5" text-anchor="end" fill="#000" >0.6</text>
<line x1="1072.5" y1="176.73000000000002" x2="1084.6" y2="176.73000000000002" stroke="#000" stroke-width="2.2" />
<text transform="translate(1064.8,183.73000000000002) scale(1,1.035)" font-size="29.5" text-anchor="end" fill="#000" >0.7</text>
<line x1="1072.5" y1="146.12" x2="1084.6" y2="146.12" stroke="#000" stroke-width="2.2" />
<text transform="translate(1064.8,153.12) scale(1,1.035)" font-size="29.5" text-anchor="end" fill="#000" >0.8</text>
<line x1="1072.5" y1="115.50999999999999" x2="1084.6" y2="115.50999999999999" stroke="#000" stroke-width="2.2" />
<text transform="translate(1064.8,122.50999999999999) scale(1,1.035)" font-size="29.5" text-anchor="end" fill="#000" >0.9</text>
<line x1="1072.5" y1="84.89999999999998" x2="1084.6" y2="84.89999999999998" stroke="#000" stroke-width="2.2" />
<text transform="translate(1064.8,91.89999999999998) scale(1,1.035)" font-size="29.5" text-anchor="end" fill="#000" >1.0</text>
<text transform="translate(1013.6,238) rotate(-90) scale(1,1.035)" font-size="30.4" text-anchor="middle">Food intake (g)</text>
<text transform="translate(1124.0,420.5) scale(1,1.035)" font-size="31" fill="#000" >Control</text>
<text transform="translate(1241.5,420.5) scale(1,1.035)" font-size="30.5" fill="#000" >AngII</text>
<text transform="translate(1241.5,456.8) scale(1,1.035)" font-size="30.5" fill="#000" >block</text>
<text x="-0.5" y="601.0" font-size="35" font-weight="bold" fill="#000" >d</text>
<rect x="45.7" y="589.4" width="242.8" height="35.8" fill="#e6e6e6" stroke="#000" stroke-width="2"/>
<text transform="translate(61.3,614.7) scale(1,1.035)" font-size="27.5" fill="#000" >Detection system</text>
<line x1="169.8" y1="626.2" x2="169.8" y2="760.5" stroke="#1c9c4c" stroke-width="2" />
<path d="M169.8,642.3 L177.3,654 L162.3,654Z" fill="#1c9c4c"/>
<text transform="translate(59.8,659.0) scale(1,1.035)" font-size="27.5" fill="#1c9c4c" >525 nm</text>
<path d="M226,690.9 L176.6,690.9 L176.6,760.5" fill="none" stroke="#1fa0ea" stroke-width="2"/>
<path d="M197.3,690.9 L210.3,683.4 L210.3,698.4Z" fill="#1fa0ea"/>
<text transform="translate(185.6,735.2) scale(1,1.035)" font-size="27.5" fill="#1fa0ea" >473 nm</text>
<rect x="-31.5" y="-4.4" width="63" height="8.8" fill="#dcdcdc" stroke="#000" stroke-width="2" transform="translate(173.9,687.0) rotate(-45)"/>
<text transform="translate(39.8,713.4) scale(1,1.035)" font-size="27.5" fill="#000" >Dichroic</text>
<rect x="226.5" y="676.5" width="84.5" height="30.1" fill="#e6e6e6" stroke="#000" stroke-width="2"/>
<text transform="translate(232.0,697.3) scale(1,1.035)" font-size="27.5" fill="#000" >Laser</text>
<rect x="160.7" y="761.1" width="27" height="34.1" fill="#e6e6e6" stroke="#000" stroke-width="2"/>
<path d="M160.8,811.2 L94,811.2 L94,945 L72.4,967 L72.4,988 L94,988 L94,1015.8 M173.2,811.2 L233.7,811.2 L233.7,1015.8 M94,993.6 L233.7,993.6" fill="none" stroke="#000" stroke-width="2"/>
<path d="M167,796 C165,815 162,830 166,850 C171,875 182,895 180,912 C179,925 173,934 165.8,939.5" fill="none" stroke="#1fa0ea" stroke-width="2"/>
<line x1="165.8" y1="939.5" x2="417" y2="620" stroke="#000" stroke-width="2" />
<line x1="165.8" y1="939.5" x2="417" y2="900.8" stroke="#000" stroke-width="2" />
<defs><clipPath id="btl"><rect x="-19.5" y="-12" width="39" height="24" rx="2.5" transform="translate(59.05,945.95) rotate(40)"/></clipPath></defs>
<rect x="-19.5" y="-12" width="39" height="24" rx="2.5" transform="translate(59.05,945.95) rotate(40)" fill="#fff"/>
<path clip-path="url(#btl)" d="M30,944.2 C45,943.2 55,945.5 65,944.6 C72,944 78,944.4 90,945 L90,975 L30,975Z" fill="#1fa0ea"/>
<rect x="0" y="-3" width="13.5" height="6" fill="#1fa0ea" transform="translate(74,958.6) rotate(40)"/>
<rect x="-19.5" y="-12" width="39" height="24" rx="2.5" transform="translate(59.05,945.95) rotate(40)" fill="none" stroke="#000" stroke-width="2"/>
<path d="M94,945 L72.4,967" fill="none" stroke="#000" stroke-width="2"/>
<path d="M142.2,944.3 C142.6,943.7 144.6,942.1 145.8,941.5 C147.0,940.9 151.3,939.4 152.2,939.0 C153.1,938.6 153.2,938.4 153.6,938.4 C154.0,938.4 155.4,939.1 156.0,939.2 C156.6,939.3 157.8,939.4 158.7,939.4 C159.6,939.4 162.9,939.6 163.7,939.6 C164.5,939.6 165.5,939.0 165.8,939.3 C166.1,939.6 166.2,941.4 166.2,942.0 C166.2,942.6 165.1,943.8 165.4,944.3 C165.7,944.8 167.6,945.7 168.7,946.3 C169.8,946.9 173.8,948.3 175.1,949.2 C176.4,950.1 179.2,952.9 180.2,954.2 C181.2,955.5 183.1,958.6 183.7,960.0 C184.3,961.4 184.9,964.4 185.2,965.8 C185.5,967.2 185.7,970.4 185.9,971.6 C186.1,972.8 186.0,975.6 186.5,976.3 C187.0,977.0 189.0,977.4 190.0,977.6 C191.0,977.8 193.5,978.0 195.0,977.9 C196.5,977.8 201.3,977.4 203.1,977.1 C204.9,976.8 208.8,975.5 210.3,975.2 C211.8,974.9 214.5,974.7 216.0,974.8 C217.5,974.9 223.5,975.7 223.5,975.9 C223.5,976.1 217.5,976.4 216.0,976.6 C214.5,976.8 211.8,977.0 210.3,977.4 C208.8,977.8 204.9,979.8 203.1,980.3 C201.3,980.8 196.8,981.3 195.0,981.4 C193.2,981.5 189.3,980.9 188.0,981.0 C186.7,981.1 184.7,981.7 184.0,982.0 C183.3,982.3 182.6,982.9 181.6,983.2 C180.6,983.5 176.2,984.2 175.1,984.6 C174.0,985.0 172.9,985.8 172.6,986.2 C172.3,986.6 172.9,988.0 172.3,988.2 C171.7,988.4 167.8,988.5 167.3,988.3 C166.8,988.1 167.8,987.0 168.2,986.6 C168.6,986.2 170.5,985.7 170.4,985.2 C170.3,984.7 167.6,983.1 167.0,982.5 C166.4,981.9 165.5,980.7 165.1,980.4 C164.7,980.1 164.3,979.8 163.5,979.8 C162.7,979.8 158.9,980.6 158.0,980.6 C157.1,980.6 155.5,979.9 155.6,979.7 C155.7,979.5 157.8,978.8 158.7,978.6 C159.6,978.4 162.5,978.3 163.0,977.6 C163.5,976.9 163.1,974.2 163.0,973.0 C162.9,971.8 162.5,968.4 162.2,967.3 C161.9,966.2 160.8,964.4 160.1,963.7 C159.4,963.0 157.4,961.6 156.5,961.4 C155.6,961.2 153.2,962.0 152.5,962.0 C151.8,962.0 150.9,961.7 150.4,961.4 C149.9,961.1 148.7,959.9 148.5,959.4 C148.3,958.9 148.3,957.6 148.7,957.2 C149.0,956.9 151.4,956.8 151.5,956.4 C151.6,956.0 150.1,954.5 149.3,953.7 C148.5,952.9 145.2,950.2 144.3,949.4 C143.4,948.6 142.2,947.1 142.0,946.5 C141.8,945.9 141.8,944.9 142.2,944.3Z" fill="#000"/>
<text transform="translate(33.5,1042.0) scale(1,1.035)" font-size="27.5" fill="#000" >Lickometer</text>
<text x="721.0" y="601.6" font-size="35" font-weight="bold" fill="#000" >e</text>
<text transform="translate(822,600.4) scale(1,1.035)" font-size="27.5"><tspan fill="#e8141c">Food</tspan>/Water access</text>
<path d="M936.0,609.0 L946.0,609.0 L941.0,628.0Z" fill="#000"/>
<path d="M831.4 703.6l.2-1.3.3-1.5.2-.2.3-39.8.2 38.3.3-1.3.2-.3.3-1.4.2.1.3-1.1.2-.5.3-2.3.2-.6.3-.6.2-.5.3-.1.2.9.3.5.2 1.1.3.1.2 1.5.3-1.1.2-1.3.3-1.1.2-9 .3 6.8.2-1.6.3-1 .2 1 .3-.7.2.4.3 1 .2 1.8.3-.4.2-23.7.3 23.3.2.7.3-1.2.2-.4.2.1.3 1.4.2-.2.3.7.2.6.3 1.6.2-.6.3.3.2-.2.3 0 .2-1.9.3-.5.2.4.3 1.3.2-18.9.3 21.4.2 2 .3 3.7.2-31.6.3 36.3.2 3.1.3-24.1.2 27.3.3.2.2-22.5.3 19.6.2-3.1.3-2.1.2-3.8.3-2 .2-1.6.3 0 .2-1.9.3 3 .2 1.4.3 2 .2 3.1.3 2.9.2 1.1.3 1.1.2-1.2.2.1.3-1.9.2-.4.3-1.3.2-8.9.3 8.3.2-8.6.3 8 .2 1.6.3 1 .2 2.1.3.1.2.7.3-38.1.2 36.1.3-2.1.2-1.2.3-3.2.2-1.8.3-2.4.2-1.4.3-1.5.2-1.1.3-11.3.2 8.9.3-.5.2.7.3-1.2.2.9.3.7.2.6.3 1 .2 2 .3 1.5.2 1.6.3 1.5.2 2.4.3 0 .2.6.2.6.3.9.2-.3.3-8.6.2 8.6.3-.4.2-15.3.3 14 .2-1.6.3-.6.2-1.5.3.2.2-.8.3.3.2 1 .3 2.5.2 1.9.3 3.5.2 1.5.3 1.1.2-21.8.3 20.7.2-12.2.3 7.8.2-29.6.3 25.9.2-11.7.3 9.3.2.3.3 1.8.2 1.1.3 1.9.2 1.2.3 1.7.2.1.3.5.2-.8.3-24.8.2 23 .3-1.4.2-2.5.2-1.6.3-1.6.2-1 .3-2.2.2.7.3-5.5.2 5.7.3 1.2.2 2.3.3 1.7.2.4.3-.3.2 2.1.3-24.7.2 26.5.3-.4.2 2.2.3 1.2.2.5.3.7.2-53.8.3 54.5.2-.2.3-1.1.2.3.3-2.1.2-.7.3.4.2-.1.3-1.1.2-.2.3-.6.2.1.3-1.7.2 0 .3-1.2.2-1 .3-.1.2-4.5.2-19.5.3 25.6.2-26.2.3 28.5.2-6.7.3 8.2.2.6.3-.4.2-.2.3-17 .2 16.4.3-.4.2-1 .3-.1.2-2.3.3-2.3.2-2.5.3-1.4.2-2.8.3-1.7.2-1.4.3-14.8.2 14.1.3 1.6.2 1.5.3 2.8.2.8.3-27.2.2 13.6.3 19 .2-9.2.3 9.9.2.4.3.3.2.3.3.9.2-.8.3-.8.2-.3.3.3.2-1.5.2-.7.3-22.7.2 20.6.3-3.4.2-1.5.3-1.9.2-1.9.3-3.2.2-1.5.3-2.4.2-1.2.3-1.7.2 1.6.3-33.7.2 37.4.3 1.9.2 2 .3 1.5.2-12.4.3 13.7.2.9.3-.5.2-.5.3-1.3.2.2.3.7.2 1 .3 1.2.2 2.1.3.9.2.9.3-.7.2-.3.3-1.2.2 0 .3-1.3.2-1.2.3-32.4.2 31.2.2-1 .3.4.2-59.7.3 61.5.2-.5.3-34.1.2 35.3.3.2.2-.9.3.1.2-4.8.3-25.6.2 28 .3-13.1.2 11.4.3-16 .2 14.8.3.5.2.1.3 1.2.2-.4.3-2.8.2 2.5.3.8.2-.2.3-3.3.2 4.9.3-7.4.2 8.5.3-.1.2.3.3 1.7.2 1.5.3 3.1.2 2.2.3 3.3.2-40.1.3 43 .2 1.6.3 1.2.2-1 .2-1.2.3-3.3.2-14.5.3 8.6.2-1.4.3-3.6.2 2.1.3-.4.2.5.3.1.2.6.3-.5.2.6.3-.8.2-.9.3-13.2.2-1.4.3 10.8.2-.2.3 0 .2 1.4.3-16.4.2 16.8.3 1.4.2 1.5.3-.2.2 1.9.3-.1.2-.5.3-1.6.2-.8.3-1.8.2-1.5.3-2 .2-14.4.3 12.1.2-3.8.3-21.2.2 23.5.2-.6.3.5.2.3.3 1.5.2 0 .3 1.8.2 1 .3 1.2.2.7.3 1.1.2.2.3.3.2-.9.3-.2.2-1.1.3-.2.2-1.4.3.3.2-.1.3.7.2.2.3 1.5.2 1.2.3 1.8.2.4.3 1.4.2.1.3.6.2-1 .3-.3.2-1.5.3-.4.2-17.3.3 16.2.2-.5.3-41.4.2 40.9.3.4.2-.6.3 0 .2-.5.2-.3.3 1.6.2 1 .3 1.2.2 3.1.3 2.6.2 3.3.3 2.8.2 3.2.3.6.2.1.3-.3.2-.2.3-2.7.2-2 .3-2 .2-1 .3-2.4.2.1.3-16.1.2 19.6.3.9.2 2.8.3 2.2.2 2.6.3.7.2 2 .3 1.9.2 2.4.3 1.3.2 2.7.3 2.2.2 2.2.3.2.2.6.3 1.2.2-.5.3-2.6.2-2.3.2-2.9.3-2.7.2-23.9.3 3.6.2 15.9.3-2.4.2-1 .3-.4.2-20.5.3 3.3.2 15.3.3-2.9.2-.5.3-1.8.2-1.9.3-2.8.2-2.9.3-3.9.2-3.1.3-3.2.2-3.4.3-3.3.2-4.2.3-3.2.2-14.3.3 10.5.2-.7.3-2 .2-.8.3.5.2.6.3 1.8.2 1.3.3 1.5.2-.4.3-.9.2-9.9.3 12.4.2-.1.3.8.2-.3.2 2 .3-.8.2-5 .3 4.2.2-.7.3-3 .2-2.5.3-2.8.2-.9.3-4 .2-.5.3.4.2 1.2.3.9.2 2.7.3 3.3.2 2.6.3.9.2 3.2.3 1.4.2 1.4.3.1.2 1.3.3.4.2.6.3-25.6.2 27.7.3.1.2 1.3.3-51.1.2 34 .3-6.1.2 23.6.3-1.5.2-15.3.3 12.9.2-13.2.3 11.4.2-.2.2-1.7.3-6.5.2 5.1.3-.1.2-1.4.3.6.2.6.3.2.2-.3.3 2.3.2 1.2.3.9.2-2 .3 2.6.2-2.7.3-2.6.2-2 .3-.4.2-3.7.3 4.7.2 3.4.3 3 .2 1.5.3 2.2.2 2 .3 1.9.2-.3.3.2.2.2.3 1.4.2-1.1.3.6.2 2.9.3 3.5.2 3.4.3 4 .2 5.9.3 4.3.2 1.4.3-8.4.2 16.2.2 2.3.3 1.2.2 1.2.3-.4.2.5.3-2.1.2-.3.3-1.1.2.3.3-.3.2 0 .3 0 .2-4.6.3 3.1.2-.3.3-2.4.2-1.2.3-3 .2-3.1.3-3.6.2-2.7.3-2.6.2-2.6.3-.9.2 2.9.3 2.2.2 2.7.3 2.6.2 3.9.3 1.8.2 1.5.3 1.8.2-.5.3 1.9.2-39.1.3 14.2.2 25.8.3-1.3.2-.8.2-8.9.3 9.1.2-34.7.3 31.9.2-1.7.3-.3.2-1.1.3.9.2.4.3 1.5.2-.1.3 0 .2-.8.3-1.2.2-2.1.3-2.4.2-2.8.3-1.3.2-3.2.3 0 .2.3.3 2 .2 1.7.3-7.7.2 11.2.3 1.7.2-.4.3.5.2-1.6.3-.7.2-.9.3-.8.2 0 .3 1.6.2-1.5.3 4.9.2 1.2.3 2 .2.4.3-1.2.2-.9.2-1.1.3-3.6.2-3.1.3-3.6.2-2.2.3-3.8.2-2 .3 0 .2 1.6.3.6.2-3.9.3 9.2.2 2.2.3-19.5.2 22 .3.4.2.6.3-2.1.2-.6.3-.7.2-1.2.3-.9.2-.4.3-40.3.2 39.2.3-.8.2-1.2.3-2 .2-.5.3-1 .2-.5.3-1.4.2.2.3-.5.2.1.3 1.7.2 3 .3-20.4.2 24.1.2 2 .3 2.7.2 1.2.3 2 .2-60.9.3 64.5.2-16.8.3 18 .2-.1.3.7.2.6.3-24.7.2 28.3.3 1.5.2 1.1.3 1.7.2 0 .3.4.2-.4.3 1 .2-1.1.3-.5.2-1.2.3.2.2-.5.3 1 .2-14.4.3 17.6.2 1.1.3 2 .2.7.3-5.5.2 5.3.3-.4.2-.5.3 0 .2-1.7.3-.4.2-2.4.3-2.1.2-3.1.2-1.5.3-2.3.2-2.9.3-2.2.2-1.5.3-2.6.2-.9.3-1.4.2 2 .3 1.7.2 3.1.3-.2.2 7.1.3 1.7.2.8.3-.9.2-.7.3-4 .2-2.7.3-4.5.2-3 .3-6.2.2 1.4.3-18.9.2 19.7.3 1.5.2 1.8.3 1.4.2 1.9.3.9.2 2.2.3 2 .2 4 .3 2.9.2-3.9.3 11 .2 1.8.3-.1.2-.2.2-3.6.3-3.4.2-4.8.3-6.6.2-2.5.3-.6.2-.9.3.4.2-.1.3 2.2.2 0 .3-14.5.2 14.5.3.4.2.6.3-.6.2.5.3 1.6.2-.2.3 2.1.2-.4.3 1 .2.2.3.3.2.6.3-.2.2-1 .3.4.2-1.1.3 0 .2-1.1.3-12.3.2 10.5.3-1.9.2-2.5.3-.4.2-1.8.3-24.1.2 1.5.3 24.7.2 1.2.2.9.3.7.2 1.6.3-1.1.2 1.6.3.8.2.7.3-1.1.2.5.3.6.2.9.3-.8.2 1.4.3-.4.2 0 .3-3.2.2 3 .3-.5.2-.4.3.7.2-20.1.3 20 .2-26 .3 25.8.2 1.1.3.1.2 1.3.3 1.8.2.9.3 1.1.2 1.1.3-.3.2.3.3-1.7.2-.8.3-1.8.2-2 .3-2.7.2-1.9.2-1.7.3.5.2-14.7.3 15.1.2-5.8.3 7.5.2-.5.3.7.2 1.5.3.7.2.3.3 1.9.2.8.3 1.3.2-.5.3 2 .2-.1.3-1.8.2-1.5.3-2.2.2-3.5.3-2.9.2-3.8.3-21.8.2 17.6.3.3.2-23.8.3 27 .2 3 .3 4.4.2-5.8.3 12.2.2 1.6.3-4.5.2 9.3.3 1.5.2 2.4.3 1.8.2.6.3.9.2-.1.2.8.3-10.5.2 10.5.3-.9.2-.7.3-1.6.2-1.2.3-2.3.2-.9.3-1.6.2-1.3.3-.8.2.2.3-1.6.2 0 .3-.3.2 2.4.3.8.2 1.6.3 1.8.2-28.3.3 28.6.2.6.3-1.4.2-.4.3-1.9.2.5.3-.4.2-.2.3-.1.2.7.3-.5.2-40.9.3 24.4.2 14.9.3-.6.2.5.3 0 .2 1 .2-.2.3.7.2-.5.3-.5.2-2.2.3-.6.2-1.9.3-2.1.2-2.2.3 1.9.2.8.3 1.8.2 2.2.3 4 .2.1.3 1.3.2.4.3.4.2-.9.3-.9.2.4.3.2.2-1.9.3-27.5.2 27.1.3-15 .2 9.9.3-3 .2-3.2.3-3.8.2-5 .3-2.3.2-2.8.3-1.4.2-1.1.3 1.2.2.5.3-.1.2-.1.3 1.9.2-.6.2.6.3-.1.2-9.2.3 10.1.2-21.1.3 21.3.2.9.3-.3.2 1.9.3-.6.2.4.3-3.8.2 3.1.3.2.2 0 .3-.8.2.4.3-1.8.2-.1.3-1.4.2-.9.3.5.2.5.3.2.2 1.2.3 1.3.2 2 .3-26.6.2 25.9.3-2.8.2-2 .3-2.9.2-1.6.3-5.3.2 2.1.3.4.2 2.3.3 2.4.2 5.2.2 4.2.3 6 .2 3.4.3-36.7.2 40.4.3-1.1.2-2.2.3-1.3.2-2.9.3-1.5.2-3.3.3-2.3.2-1.2.3-28.2.2 11.2.3 16.9.2.8.3 2.3.2.1.3 1.3.2 1.3.3.8.2.4.3.4.2-.5.3-1.2.2-3.1.3-.5.2-17.4.3 14.5.2-1.6.3 0 .2-.7.3-15.3.2 15.8.3 1.9.2.8.3 1.2.2-.2.3 1.3.2-.5.2 1 .3 1.1.2 2.9.3 2 .2 1.9.3 1.2.2 1.8.3 1 .2.9.3-1.5.2-7.9.3 4 .2-2.3.3-3.1.2-.8.3-.3.2.9.3 2.3.2 4.1.3.9.2-5.5.3 8.5.2 1.9.3-.1.2-1.6.3-.4.2-.6.3-7.7.2 5.5.3-.1.2 2 .3-2.6.2 4.9.3 2.8.2 2.5.3 1.3.2-3.6.3 7.2.2 1.4.2-1.2.3-34 .2 35.1.3.5.2-1.4.3-.8.2-2.8.3 1.6.2-1.5.3-.4.2-1.7.3-1 .2-2 .3-.8.2-1.2.3-1.9.2-.5.3.2.2-1.2.3.9.2-1.3.3 1 .2-.4.3.2.2.4.3-1.5.2-1.5.3 0 .2-19.9.3-13.4.2 26.4.3-88.5.2 83.3.3-2.7.2-2.9.3-2.7.2-2.9.3-.6.2-26.3.3 25.6.2.6.2 1.1.3.7.2 1.5.3.3.2.1.3-1.2.2.4.3-1.3.2.4.3.8.2 2 .3 1.2.2 2.1.3 1.2.2 1.9.3.4.2.3.3-1.9.2-.8.3-1.1.2.1.3-16.1.2 16.8.3-29 .2 33.5.3 1.4.2 3.7.3 1.3.2-3.6.3 2.3.2 4.9.3.3.2-.8.3-3.4.2-1.5.3-3.8.2 1.9.3-3.2.2 3.7.2 2.6.3 2.4.2 1.3.3 3.2.2 1.8.3-23.3.2 22.9.3.7.2-1.5.3-1.7.2-1.5.3-.8.2-2 .3-1 .2-.6.3-.5.2-2.2.3-.5.2-.5.3.7.2.8.3-19.5.2 25 .3 3.5.2 2.9.3 2.8.2 1.3.3 1.1.2.1.3.8.2-1.7.3-.6.2-15.1.3 10.5.2-2.1.3-1.1.2-1 .3-.3.2-.9.3 1 .2-.7.2 1 .3.4.2 1.3.3 1 .2-16.1.3 15.3.2.2.3.1.2 1.4.3-.1.2 2.1.3 2.6.2 1.8.3 1.6.2 1.3.3-1.1.2-1.1.3-3.2.2-1.4.3-3.8.2-3.2.3-2.6.2.4.3.3.2.9.3.7.2 2.9.3-.2.2.7.3-.6.2.2.3-1.8.2-1.5.3-.9.2-1.2.3-3.3.2-1.1.3-1.5.2-.3.2-1.7.3-.8.2-2.2.3-.8.2-1.2.3 1.2.2.7.3 1.6.2-14.3.3 15.9.2.8.3 2.9.2 1.9.3 3.1.2 1.3.3 3.1.2.7.3-.1.2-1.5.3-1.6.2-2.9.3-2.6.2-1.7.3-.4.2-2.7.3.4.2-.2.3-9.9.2 11.6.3 2 .2.8.3-.4.2-1.3.3-.5.2-1.6.3-2.1.2-47.7.3 45.5.2-1.9.3-1.3.2-2 .2.2.3-1.8.2.8.3 1.9.2 2.1.3 1.6.2 1.2.3.4.2 1 .3-1.3.2.4.3-1.7.2-.7.3-1.2.2.8.3-12.5.2 15.8.3.6.2 2.3.3 1.5.2 1.6.3.4.2 1.5.3.4.2.9.3.7.2 1.9.3.8.2 1 .3.3.2.7.3-1.6.2-2.4.3-29.8.2 24.1.3-3.9.2-4.6.3-3 .2-1.5.2-22.9.3 21.5.2 1 .3 1.7.2.8.3 2.3.2 2.2.3 2.7.2 1.9.3 3.3.2 1.8.3 2.3.2 1.7.3 2.1.2-.6.3-7.4.2 8.8.3-1.1.2-3.6.3-3.1.2-4.4.3-3 .2-16 .3 11.9.2-1.4.3-.3.2 1.2.3 2.4.2 2.5.3 2.9.2 2.4.3 4.2.2 1.3.3 2 .2-.2.3-.4.2-.3.3-.2.2-.7.3-1.8.2-2.1.2-.3.3-2 .2-.7.3-1.1.2 1.1.3-.9.2.1.3.2.2.9.3.7.2 1.4.3 1.7.2 2.5.3-1.3.2 1.2.3-.5.2.9.3-.1.2-.8.3.2.2-.2.3-1.2.2.9.3-.6.2 1.9.3.7.2 2.5.3 2.9.2-16 .3 20.7.2-5.2.3 9.1.2 1.3.3-.6.2-.2.3-1.9.2-3.3.3-3.6.2-3.2.2-4.4.3-3 .2-2.2.3-.8.2-1.4.3-.2.2.4.3-7.5.2 9.7.3 2.5.2 2.8.3 2.1.2.9.3-21.6.2 23.5.3.8.2.3.3 1.8.2.4.3-13.8.2 14.5.3.5.2-1.4.3-6.1.2 4.6.3-1.4.2-2.7.3-11.8.2 9.9.3-.5.2 0 .3 1.9.2 1.2.3 2 .2.9.3-32.6.2 15.9.3 16.7.2-1.3.3-1.1.2-1.1.2-.5.3-24.2.2 23.4.3 0 .2 1.1.3-1.1.2.9.3.2.2-.8.3-1.4.2-30.8.3 29 .2-1.2.3-3 .2.7.3-1.4.2-1.3.3-.9.2 1.4.3.1.2-.8.3-.4.2 1.5.3-.7.2 1.1.3-18.5.2 18.4.3-13.4.2 14 .3-.1.2-6.7.3 6.8.2 0 .3-1.7.2-.2.3.5.2 1.8.3 2.1.2 3.4.2 2.4.3-7.7.2 12 .3 0 .2-1.8.3-30.7.2 22.4.3-6.2.2-6.7.3-4.1.2-4.8.3-2.4.2.6.3 2.8.2 2 .3-37.8.2 44.5.3 3 .2.2.3 1.6.2-12 .3 1.8.2 8.2.3.4.2.4.3 1 .2-.2.3 1.9.2-.1.3.5.2-.4.3-44 .2 43.6.3-.5.2.2.3.6.2-64.8.3 66.3.2-.7.3 1.7.2-.2.2-12.9.3 14.8.2.1.3 1.4.2 1.2.3-.8.2.3.3-.4.2 2.2.3.4.2 1.9.3 1.4.2 4.4.3 1.9.2 2.3.3 2.4.2 2.1.3-.7.2 1 .3-19.2.2 18.1.3-1.2.2.6.3.6.2-23.6.3 25.2.2 1.5.3-.5.2-.2.3-1.4.2-.7.3-2.2.2-.1.3.5.2.1.3-.2.2 1.7.3.4.2.6.2-.6.3.1.2-1.1.3-.6.2-1.4.3-.2.2-1 .3.5.2-1.1.3.5.2-.5.3-.4.2-1.6.3-.1.2-1.5.3-1.2.2-2.5.3.3.2-1.2.3-1.5.2.2.3 1.5.2.5.3 2.1.2 1.3.3 2.8.2 1.4.3 1.8.2 1 .3 1.2.2-1 .3.2.2-1.4.3-1.1.2-1.7.3-1.8.2-1 .3.3.2.2.3 1.8.2-1.8.2 5.5.3 1.8.2 2 .3 1.2.2 1.9.3.1.2-.4.3-1.9.2-1.4.3-20.7.2 16.1.3-.6.2 2.1.3-.1.2 2.6.3 1.5.2 3 .3.4.2.9.3.7.2-.6.3-2.9.2-.4.3-1 .2-.7.3-1.8.2.7.3.2.2-36.3.3 4.3.2 31.1.3-1.4.2-2.6.3-2 .2-1.8.3-2.6.2-7.3.3 5.5.2-10.8.2 10.2.3 1.2.2.8.3 1.4.2-21.5.3 20.9.2-7.4.3 15.2.2.7.3 1.8.2-1.3.3.6.2-1.2.3-2 .2-3.2.3-2.3.2-4.3.3-2.8.2-44.4.3 39.6.2-1.7.3 1 .2 1.8.3-22.6.2 27.6.3-39.7.2 46.6.3 2.3.2.9.3-.1.2-.4.3-2.2.2-2 .3-1.8.2-2.3.3.2.2-.3.3.2.2-1.7.3 0 .2-.6.2.2.3-.2.2 0 .3-1.3.2.9.3-.7.2 1.7.3-1 .2.5.3-.1.2.2.3.5.2.8.3-.3.2-1 .3 4.1.2 3.1.3 2.9.2 2.1.3 1.1.2.4.3.3.2-.2.3-2.6.2-1.5.3-2.2.2-1 .3-1.4.2.3.3-.7.2-.2.3-.1.2.9.3.3.2.4.3 2.8.2 1.4.3.1.2 1.4.2-1.2.3-21.5.2 18.8.3-.1.2-1.7.3-1.9.2.1.3 0 .2-1.7.3 0 .2-44.9.3 45.3.2-1.4.3-1.2.2-.7.3-.7.2-1.7.3.2.2 1 .3 3.8.2 1.8.3 2.9.2 3.1.3 2.8.2 2.1.3 2.5.2 3.1.3 2.4.2 0 .3 1 .2-.5.3-1 .2-2.5.3-1.8.2-1.8.3-.9.2-1.7.3-1.9.2-33 .3 28.9.2-2.3.2-1.2.3-.4.2 1.8.3.3.2-16.1.3 20.2.2 3.5.3 3.2.2 4.8.3 3.7.2 2.2.3.7.2.1.3-3 .2-2.4.3-4.4.2-2.5.3-4.5.2-2.2.3-1.7.2-1.7.3-2 .2.2.3-10.6.2 11.2.3-1.1.2 1.6.3 1.2.2-32.7.3 35.1.2 2.3.3 1.4.2.8.3 1.4.2 1.8.3-.3.2-.5.3-1.3.2-1.8.2-2.8.3-1.6.2-1.5.3-.3.2-1.8.3-6.6.2 2.9.3-.7.2-1.3.3 0 .2-.8.3-29 .2 30.7.3-29.2.2 30.8.3 2.1.2-.3.3.9.2-.6.3-.1.2-1.6.3-2.3.2-1.2.3-.1.2-4.2.3-2.1.2-22.1.3 31.5.2-1.7.3 3.3.2 1 .3 1.2.2.1.3 1.4.2 0 .3-21.2.2 20.8.3.4.2-.9.3-10.5.2 11.1.2.5.3-.1.2-27.9.3 29.2.2 1.3.3.8.2-.9.3-31 .2 32.5.3-.6.2-2.4.3.2.2-.4.3-1.6.2-1.5.3-1.5.2-.4.3-1.3.2.3.3.5.2 1.5.3-61.4.2 62.8.3 1.4.2-39.7.3 42 .2 1.5.3 1 .2 1.7.3 1 .2 2.4.3 2.6.2 2.9.3 2 .2-10.8.3 15.7.2 1.3.3-1.6.2 1.9.2-1.6.3-1.7.2-10.8.3 8.4.2-2.1.3-1.4.2-9 .3 7.5.2-1.4.3.7.2.3.3 1.2.2-.2.3.7.2 2.2.3 0 .2.1.3-.2.2-1.8.3-1.5.2-2.5.3-.9.2-2.9.3.2.2 0 .3.2.2-.7.3.5.2.5.3.2.2.2.3 2.1.2 1.2.3 2 .2.9.3 2.7.2.8.3.2.2.4.3 0 .2-2.9.2-2.7.3-1.5.2-.4.3-7.2.2 6.7.3-.4.2 1.1.3-2 .2 1.4.3-1.2.2-2.6.3-2.8.2-1.3.3-2.8.2-.8.3-2.3.2.1.3.3.2 1.4.3 1.3.2 1.1.3.5.2 1.6.3-.9.2.5.3-1.4.2.6.3-.6.2-.1.3-2.6.2 2.5.3-22.1.2 22 .3.3.2 1.9.3-1.3.2.1.3-.7.2 1.1.2-.6.3.6.2 2.2.3 3.2.2 1.3.3 2.8.2 2.3.3 2.2.2.1.3 1.8.2-.6.3-1.4.2-3.1.3.1.2-1.6.3-.6.2.1.3 1.3.2-.3.3-27.6.2 28.9.3.7.2-.6.3.7.2-.1.3.1.2-2.1.3 0 .2-.8.3-.2.2-.3.3.2.2-.5.3-.5.2-1.1.3.1.2-1.5.3-.1.2-1 .3-.8.2-1.5.2-.2.3-1.8.2-.6.3-1.5.2-.3.3-1.6.2-.4.3-.2.2-1.9.3 3.1.2 2.6.3 1 .2 1.1.3-1.6.2.3.3.1.2.7.3-2.9.2 4.3.3.4.2.9.3.7.2 2.4.3 1.6.2 1.4.3 1 .2 1.8.3.4.2.6.3.4.2 2.5.3-38.5.2 41.6.3-.1.2.1.3-1.4.2-1.3.3-2.8.2-1.7.2-3.6.3-2.7.2-3.1.3-.8.2-1.9.3-.8.2.3.3 1.4.2-.3.3-3.6.2 4.9.3 1.2.2.6.3-6.3.2 5.6.3-.3.2-1.1.3 1 .2.2.3.8.2.4.3 1 .2 1.3.3 1.6.2-1.5.3.1.2-.9.3-.3.2-1.5.3-.4.2.8.3.6.2-3.7.3 7.5.2 1.5.3.8.2-.7.3 1.2.2-.1.3-1.4.2-1.1.2.1.3-1.9.2-.6.3-.7.2 1.1.3-30.1.2 31.1.3.6.2.4.3-.5.2.1.3-1.7.2-37.1.3 35.6.2-34 .3 28.9.2 2.6.3 0 .2.9.3.7.2-12 .3 15.6.2.1.3-1.3.2-18.9.3 17.2.2-2 .3-3.4.2-1.8.3-2 .2-.8.3-1.2.2 1 .3.8.2.2.3-13.2.2 14.2.3-.4.2.2.2-.2.3 2 .2 1.4.3.1.2-.4.3 2.3.2 0 .3.9.2-1.3.3.4.2-1.8.3-.6.2-.2.3-.8.2.9.3.3.2.8.3 1.6.2-34.1.3 34.1.2-.1.3 1.1.2.6.3.3.2.4.3-.5.2-1.2.3.6.2-.7.3-.3.2-1.5.3 1.1.2-.9.3-.4.2-1.2.3-.1.2-1 .3-1.5.2-1.5.3-1.4.2-7 .2 1.8.3-1.7.2-.1.3-1 .2 1.3.3-18.4.2 19.1.3.7.2 1.4.3 1.2.2 1.1.3 1 .2 2.4.3-.4.2 1.3.3 1.2.2 1.2.3-.4.2.9.3-60.3.2 59.8.3-1.7.2-.4.3-37.9.2 36.7.3-.1.2.1.3 0 .2 1.3.3.5.2.4.3.1.2 1.1.3-.6.2.7.3 1.1.2.9.3-11.7.2 12.5 0 33.4-.2-.6-.3-.2-.2 4.2-.3-6.2-.2-.7-.3.6-.2-1.1-.3 0-.2-.5-.3-.4-.2-1.4-.3.1-.2-.1-.3 0-.2 0-.3 1.3-.2.3-.3 1.7-.2.3-.3.3-.2-1-.3.4-.2-1.1-.3-1.3-.2-1.3-.3.4-.2-2.4-.3-1-.2-1-.3-1.2-.2-1.5-.3 64.4-.2-65.2-.3-.6-.2-1.3-.3 1-.2 23.2-.3-21.3-.2 2.2-.2 29.8-.3-25.5-.2 1.5-.3 1.5-.2 1.1-.3.1-.2 1.2-.3.3-.2 1-.3-1.2-.2 1.5-.3.4-.2.6-.3-.5-.2 1.2-.3.4-.2-.4-.3-.3-.2-.5-.3-1.2-.2.1-.3-1-.2 1-.3-1.5-.2-.9-.3-.3-.2-.8-.3.7-.2.2-.3.6-.2 7.1-.3-5.6-.2 1.3-.3 3.5-.2-4.5-.3-1.4-.2-.5-.3-.1-.2-1.4-.3-2-.2.3-.2-.2-.3 14.2-.2-15.3-.3.4-.2-.2-.3-.8-.2-.9-.3 1.1-.2.8-.3 27-.2-23.1-.3 3.3-.2 2-.3 1.4-.2 30.6-.3-29-.2 0-.3-1-.2 3.4-.3-2.5-.2-5.1-.3 0-.2-.2-.3 13.9-.2-11.2-.3.9-.2.6-.3 1.7-.2-.1-.3 9.5-.2-9.5-.3-.5-.2.5-.3-1.6-.2-1.1-.3.7-.2.6-.3 18.2-.2-16.3-.2 1.1-.3 31.9-.2-30.5-.3-1.1-.2.6-.3-.8-.2-1.4-.3-3.2-.2 6.1-.3-7.3-.2-.9-.3.5-.2 1.4-.3.4-.2.8-.3 0-.2 1.4-.3 26.9-.2-29.7-.3-1.1-.2-.4-.3-.8-.2-.2-.3-.9-.2 1.1-.3.3-.2 1.1-.3 1.6-.2 2.6-.3-6.4-.2-.2-.3-1.1-.2.2-.3-1.4-.2-.2-.3.7-.2 1.9-.3 1.8-.2 2.1-.3 2.7-.2 3.7-.2 1.6-.3 2.8-.2 22-.3-19.2-.2-.2-.3.2-.2 14.5-.3-17.7-.2-2.5-.3-.4-.2-.5-.3-.5-.2-1.8-.3-.9-.2-1.5-.3 23.5-.2-27.5-.3 12.5-.2-14-.3 2.3-.2 18.8-.3-23-.2-.7-.3 1.6-.2-1.9-.3 1.5-.2-1-.3 3.2-.2-6.8-.3-.6-.2-.6-.3.1-.2.4-.3 1.6-.2.3-.3 1.5-.2.7-.3 1.7-.2.3-.2 1.5-.3.8-.2 1-.3.1-.2 5.1-.3-3.8-.2 1.1-.3 10.9-.2-9.9-.3-.1-.2.3-.3.2-.2.8-.3-.1-.2 2.1-.3-.1-.2.2-.3-.7-.2.6-.3-.8-.2-.6-.3-.7-.2 25.8-.3-26.8-.2 0-.3.5-.2 1.7-.3-.1-.2 3-.3 1.4-.2.7-.3-1.9-.2 11.8-.3-14.1-.2-2.3-.3 16-.2-20-.3-3.3-.2 11.8-.3-8.5-.2-5.5-.2-1.1-.3 3.6-.2 7.2-.3-8.8-.2-1.9-.3-.4-.2-.1-.3 49.9-.2-49.3-.3-.3-.2.1-.3.6-.2 11.4-.3-10.6-.2-.4-.3.8-.2-1.6-.3-.5-.2-1.1-.3-1.3-.2-1.4-.3-.3-.2-.1-.3 2.3-.2.8-.3 2.9-.2 38.5-.3-34.5-.2 2.6-.3 1.2-.2-.6-.3 9.8-.2-9.6-.3.4-.2-.9-.3 1.4-.2.3-.3 19.1-.2-14.9-.2 2.9-.3.1-.2.1-.3-.8-.2-.7-.3-2.8-.2-.9-.3 13-.2-16.2-.3-2-.2-.2-.3-.3-.2-.5-.3-.5-.2 8-.3-7.5-.2.1-.3-.2-.2 2.9-.3 25.1-.2-21.7-.3 1.5-.2 1.8-.3.2-.2-.2-.3 0-.2-1-.3-1.9-.2.3-.3-1.2-.2-.4-.3 25.2-.2-24.4-.3.7-.2.7-.3 20.8-.2-17.2-.3.6-.2 1.8-.3 1.7-.2 1.6-.2-.5-.3.1-.2-1.3-.3-1.7-.2-3.2-.3-.5-.2-4.3-.3-2.6-.2-2.5-.3-1-.2-1.6-.3-1.1-.2 17.2-.3-19.2-.2-1.8-.3 8.8-.2-11.5-.3 1.6-.2-3.2-.3-.5-.2-.3-.3 1.4-.2.4-.3 1.4-.2 1.5-.3 1.6-.2.5-.3 1.1-.2 1-.3.6-.2 7.5-.3-6.8-.2-1.2-.3-.9-.2-1.2-.3-.5-.2-.9-.3.2-.2-.5-.2-.1-.3-.6-.2.9-.3 18.8-.2-18.5-.3 8.4-.2-8.7-.3-1.4-.2-.1-.3-1.2-.2-1-.3-1-.2 76.4-.3-79-.2-.8-.3-1.2-.2.9-.3.1-.2 5.9-.3-2.3-.2 1.6-.3.1-.2.6-.3-1-.2.3-.3-2.1-.2-.4-.3-1.1-.2-.7-.3-1.1-.2.8-.3 0-.2 1.3-.3.8-.2 2.4-.3 1.2-.2 1.9-.3.3-.2 1.5-.3 1.5-.2 2.8-.2 1.9-.3 1.2-.2.6-.3.2-.2-1.7-.3-1.4-.2-.9-.3-1.4-.2-2.2-.3 19.1-.2-21.5-.3-1.3-.2-1.5-.3 1.1-.2-.2-.3-.4-.2-.3-.3 2-.2 1.7-.3 60.8-.2-56.8-.3 4.4-.2 2.6-.3 4.3-.2 2.4-.3 3-.2 0-.3-.8-.2-2.2-.3 27.1-.2-35.6-.3-3.2-.2-3.5-.3-2-.2-2-.3-.4-.2-1.8-.3.4-.2 21.8-.2-18.2-.3 1.4-.2 2.6-.3 2-.2 1.7-.3.8-.2 1.8-.3 1.8-.2 26.3-.3-22.8-.2.5-.3-1-.2 0-.3 6.3-.2-11.8-.3-2.4-.2-2.1-.3-2.8-.2-3.2-.3-2.9-.2-1.7-.3-3.9-.2.4-.3 40.5-.2-40.3-.3 28.1-.2-26.7-.3 1.1-.2 1.4-.3-.6-.2.2-.3.1-.2 28.2-.3-26.5-.2.3-.3 1.5-.2 1.7-.3.1-.2.9-.3 1.8-.2 1.1-.2-1.3-.3-.2-.2-1.4-.3-.8-.2 18.4-.3-21.1-.2-.9-.3.1-.2.2-.3.8-.2-.4-.3 1.5-.2.9-.3 2.3-.2 1.5-.3 2.5-.2.3-.3-.3-.2-.5-.3 19.1-.2-22.2-.3-2.9-.2-3.2-.3-1.3-.2-1.8-.3.3-.2-.8-.3-.4-.2-.3-.3 44.6-.2-45-.3 4.1-.2-4.7-.3.6-.2-.8-.3 1.3-.2-.1-.3.3-.2-.3-.2.6-.3.1-.2 1.7-.3-.3-.2.3-.3-.1-.2 2.2-.3 1.8-.2 2.1-.3 2.1-.2.5-.3 0-.2-.9-.3-2.3-.2 10.1-.3-17-.2-2.5-.3 10.4-.2-14.7-.3-.2-.2 1-.3 17.1-.2-12.4-.3 2.8-.2 4.3-.3 2.4-.2 3.1-.3 2.1-.2 1.2-.3-.6-.2 1.3-.3 9.3-.2-9-.3-5-.2-.1-.3-2.6-.2-2.4-.3-1.3-.2-.8-.3-1.2-.2.1-.2.4-.3 1.3-.2.5-.3 2.6-.2 1.8-.3 2-.2 2.6-.3 44.7-.2-43.1-.3 11.6-.2-10.8-.3-.3-.2 4.8-.3-3.7-.2.7-.3 1.1-.2.3-.3 3-.2.5-.3-.6-.2-.9-.3.7-.2-4.2-.3-1.5-.2-2.6-.3.1-.2-2-.3.5-.2 44.5-.3-39.9-.2 1.4-.3 1.9-.2.4-.3 0-.2-1.9-.3-1.3-.2 37.6-.3-41.3-.2 34.1-.2-37.8-.3-1.8-.2-.2-.3-.4-.2 1-.3 1.8-.2 23.3-.3-20.4-.2 1.3-.3-.2-.2 1.1-.3 11.8-.2-14.1-.3-1.8-.2-1.3-.3 12.7-.2-16.9-.3-2.1-.2-.5-.3 33.7-.2-34.5-.3.7-.2 1.1-.3-.2-.2 12.5-.3 27.7-.2-35-.3.1-.2 1.6-.3.4-.2.4-.3-.5-.2 1.1-.3-.5-.2 1.1-.3.1-.2 1.4-.3.7-.2 1-.3-.1-.2.6-.2-.6-.3-.4-.2-1.6-.3.2-.2-.1-.3-.6-.2.1-.3 2.2-.2.8-.3 1.3-.2.2-.3 25-.2-26-.3-1.3-.2 5.9-.3 27.3-.2-34.6-.3 1.1-.2.2-.3 16.2-.2-16.3-.3.8-.2-2.1-.3-2.4-.2-2.4-.3-1.9-.2-2.8-.3-3-.2-1.8-.3 9.5-.2-12.2-.3.4-.2-.3-.3.9-.2-1.3-.3-1.4-.2-.1-.3-.6-.2-1.3-.2.2-.3-1.6-.2.6-.3 34.5-.2-28.6-.3-8-.2-.2-.3.5-.2 1-.3-.5-.2.4-.3-.6-.2 8.6-.3-10.4-.2.2-.3 1.2-.2-2.5-.3-.5-.2 1.6-.3 1.4-.2 20.1-.3-22.7-.2 30.4-.3-33.6-.2-2.7-.3-3.9-.2-2-.3-2.7-.2-.7-.3 2.3-.2 4.8-.3 9.6-.2 1.2-.3 6.3-.2 7.1-.3 1.1-.2 1.9-.3 22-.2-23.1-.3-3.2-.2 8.6-.2-14.4-.3 12-.2-15.9-.3-.5-.2 42.9-.3-41-.2-.1-.3.5-.2-.5-.3.1-.2-.4-.3-.2-.2-.9-.3.9-.2-1-.3 3.1-.2-4-.3.4-.2.9-.3-.1-.2-.1-.3.9-.2-.1-.3 1.5-.2-.7-.3 2.9-.2 1.2-.3 47.9-.2-46.1-.3 1.4-.2 1-.3-.3-.2 24.1-.3-24-.2-1.1-.3 0-.2-.2-.3 1.1-.2 3.2-.2-1.7-.3 1.1-.2 1.3-.3.1-.2 1-.3-1.1-.2 14.4-.3-17.3-.2-1.2-.3 36.2-.2-38-.3.4-.2 1.2-.3.7-.2 2.7-.3 1.4-.2 1.2-.3.3-.2 1.4-.3-.4-.2-.7-.3-.1-.2-.4-.3-1.8-.2-.3-.3-.8-.2.9-.3-2.7-.2-1-.3-2.1-.2-2.8-.3-2.4-.2-.7-.3 24.4-.2-26.4-.3.3-.2 1.3-.3.9-.2 2.1-.3 3-.2 4.5-.2 15-.3-8.3-.2 3.3-.3 2-.2.2-.3.5-.2 35.4-.3-37.5-.2-3-.3-2.1-.2-2.6-.3-3-.2-2.5-.3-.7-.2-1.9-.3.6-.2-.9-.3 1.2-.2.3-.3-.2-.2 7.6-.3-6.8-.2-.8-.3.4-.2-1.2-.3 1.3-.2-2.4-.3-1.7-.2 1.6-.3-3.3-.2-1.3-.3-.3-.2 0-.3.9-.2-1.2-.3 1.2-.2.6-.3 2-.2.4-.2 18.8-.3-15-.2.7-.3.2-.2 6.5-.3-5.8-.2.2-.3-1.9-.2-1.4-.3-4.1-.2-2.4-.3 13.1-.2-18.6-.3 17-.2-20.6-.3.3-.2 1.4-.3 28.9-.2-15.3-.3-6.5-.2 4.4-.3 7.5-.2-.8-.3 1.1-.2-.5-.3-.9-.2.7-.3-2.2-.2-1.6-.3 35.8-.2-40-.3-3.3-.2 26.9-.3-31.5-.2-2.2-.3 12.2-.2-15.3-.3-1.6-.2-1-.3-.3-.2 1.7-.2 1.4-.3 3.7-.2 18.6-.3-10.8-.2 2.8-.3 2.9-.2 2.4-.3 1.6-.2-.6-.3-.3-.2-1-.3-.3-.2-2.5-.3-.6-.2-1-.3-.4-.2-1.5-.3.4-.2 3-.3-6.8-.2-2.3-.3-.7-.2-2.1-.3-1.2-.2-.8-.3 1.2-.2.7-.3 1.7-.2-.3-.3 1.2-.2-1-.3-.4-.2-1.2-.3-1.6-.2-2.1-.3-1.8-.2-.9-.3 1.8-.2-.1-.2 1.9-.3 1.4-.2 1.9-.3.3-.2 1.8-.3 2.1-.2 3.5-.3-1.4-.2 1.3-.3.4-.2-.8-.3 5-.2-7.2-.3 17.8-.2-19.1-.3.2-.2 2.1-.3.4-.2 1.7-.3 2.6-.2 5.8-.3-1.3-.2 1.5-.3.1-.2 6.6-.3 6.9-.2-18.6-.3-3.1-.2-1.8-.3-3-.2-.8-.3-.6-.2-1-.3-1.5-.2-.8-.3 12.6-.2-12.5-.3.7-.2 2.2-.3.8-.2 1.7-.2.3-.3 1.5-.2 1.1-.3 3.4-.2 1.1-.3 1-.2 1.4-.3 1.9-.2-.2-.3.6-.2-.8-.3 26.3-.2-28.9-.3-.8-.2-.9-.3-.3-.2.4-.3 1.9-.2 3.2-.3 3.8-.2 1.3-.3 3.2-.2 2.5-.3-.3-.2 25.9-.3-28.8-.2-1.8-.3-2.6-.2-2.1-.3.1-.2 8.4-.3-9.8-.2-.3-.3 1.1-.2-.2-.3-1.1-.2-1.3-.3-.4-.2-.9-.2.6-.3-.9-.2.9-.3.2-.2 2.2-.3 0-.2 2-.3 2.1-.2 2.6-.3.5-.2 43.5-.3-42.6-.2-.1-.3-1-.2.9-.3-5.1-.2-2.8-.3-3.6-.2-2.3-.3-3.1-.2-.9-.3-.6-.2.4-.3.6-.2 2.1-.3.5-.2 5.4-.3-3.8-.2 2.1-.3.7-.2 1.5-.3 1.7-.2 1.6-.3-.8-.2.9-.3-.5-.2 21.1-.3-26-.2-1.4-.3-2.4-.2-2.5-.2-1.7-.3 34.3-.2-33.2-.3 54.7-.2-51.3-.3 3.4-.2.9-.3-.3-.2-1.4-.3-.5-.2-1.8-.3-1.3-.2-3.6-.3 27.3-.2-31.6-.3-1.6-.2-1.1-.3.3-.2-.1-.3 1.1-.2.9-.3 1.9-.2-.4-.3.1-.2-2.3-.3-1.3-.2-2-.3-1.2-.2-2.1-.3-.7-.2-.4-.3 1.3-.2 27.7-.3-27-.2-.1-.3-.2-.2 6.2-.3-8.4-.2-1.2-.2-.6-.3-.9-.2 1.7-.3 2.8-.2 29.4-.3-26-.2 2.8-.3 2.8-.2 2.8-.3 2.3-.2 3.5-.3.9-.2 2.5-.3 0-.2 1.7-.3 1.4-.2-.5-.3-.2-.2.5-.3-1-.2 1.3-.3 16.4-.2-16.2-.3 28.8-.2-28.4-.3 1.8-.2 1.3-.3.8-.2 1.9-.3 1-.2 1.8-.3.4-.2 1.4-.3.9-.2.3-.3.8-.2 1.4-.3-.5-.2-.6-.3-.5-.2 1.3-.2-1.4-.3-1.8-.2-1.9-.3-1.2-.2-2.6-.3-2.8-.2-1.6-.3-.6-.2-2-.3 0-.2.1-.3 2.2-.2.6-.3.4-.2 1.6-.3.2-.2 20.6-.3-23.6-.2 6.5-.3-9.5-.2-4.1-.3-2.3-.2-.8-.3.3-.2.7-.3 3.2-.2 2.2-.3 3.3-.2.6-.3 1.5-.2 21.2-.3 14.8-.2-39.7-.3-1.2-.2-1.9-.3-2-.2-2.9-.3-1.1-.2-.9-.2 9.4-.3-9.7-.2 15.5-.3-17-.2-.9-.3-1.9-.2 17.6-.3-18.1-.2.7-.3.1-.2 1.5-.3 1.1-.2 1.8-.3 3-.2.7-.3 1.2-.2.4-.3 20.1-.2-20.9-.3 17.2-.2-19.3-.3 8.8-.2-5.9-.3-6.6-.2-.7-.3-.9-.2.2-.3.7-.2 1.3-.3 2.2-.2 3.3-.3 1.5-.2 15.3-.3-11-.2 4-.3-.7-.2-1-.3 31.6-.2-6.6-.3-24.9-.2-16.5-.2-5.2-.3-2.4-.2-2.3-.3-.3-.2 1.6-.3 1.6-.2 1.6-.3 31.9-.2-19.3-.3-5-.2.4-.3.3-.2-1.9-.3-1.4-.2-1.2-.3-.1-.2 26.8-.3-27.9-.2.9-.3 1.5-.2 0-.3 21.5-.2-20.1-.3.8-.2 0-.3-.1-.2.3-.3 10.6-.2-10.6-.3.5-.2-1.9-.3.4-.2 3.7-.3-5.3-.2.4-.3.2-.2-1.1-.3.1-.2-.6-.2.6-.3-1.8-.2 0-.3.1-.2-.5-.3 17.6-.2-17.6-.3 17.5-.2-13.4-.3 2.3-.2 5.1-.3 3.8-.2 3.1-.3 3.1-.2 3.8-.3 1.3-.2.7-.3 18.2-.2-16.7-.3-.2-.2-.3-.3.8-.2 54.7-.3-41.7-.2-3.9-.3-10.3-.2-.1-.3-4-.2-2.2-.3-1.7-.2-.8-.3-.7-.2 1-.3 2.1-.2 1.9-.3.6-.2 2.1-.3.6-.2.5-.3-.8-.2.2-.2-1-.3 0-.2.2-.3.9-.2-.1-.3.8-.2 0-.3.4-.2-.7-.3 6.2-.2-5.8-.3.3-.2 36.1-.3-34.6-.2 37.4-.3-21.7-.2-14.5-.3.3-.2-.6-.3-1.8-.2-1.7-.3-.7-.2-2.5-.3.3-.2.1-.3 1.6-.2-.3-.3.8-.2 1.3-.3 40.2-.2-37.7-.3 2.3-.2 1.3-.3 18.2-.2-16-.3.9-.2-.3-.3.3-.2-.7-.2 0-.3-.9-.2-.6-.3-1.8-.2-2.3-.3-1.6-.2-.6-.3-3.3-.2-2.5-.3-3.8-.2-2.6-.3-4.4-.2-3-.3-2-.2-1.1-.3-.3-.2 2.5-.3 21.8-.2-16.4-.3 3-.2 3.4-.3 2.2-.2 1.5-.3 1.8-.2.2-.3-2.1-.2.5-.3-1.3-.2-.7-.3-2-.2-.3-.3-.6-.2-1.6-.3-.7-.2.6-.3-.9-.2-.8-.3-1.6-.2 1.1-.3-.4-.2 1.6-.2 2-.3 2.6-.2 2.1-.3 1.7-.2.9-.3 9.4-.2-8.1-.3.3-.2-1-.3-1.2-.2-.9-.3-1.8-.2-1.3-.3-.1-.2-1.1-.3.3-.2 7.7-.3-6.9-.2-.8-.3-.7-.2.4-.3.6-.2-.1-.3.3-.2 0-.3.4-.2-1.5-.3 14.4-.2-14.5-.3-.6-.2-.5-.3 1.1-.2-.7-.3 20.9-.2-23.3-.3 1.2-.2-1.6-.3-.7-.2-.9-.2-1.3-.3-2.1-.2-.3-.3.4-.2 1.8-.3.3-.2 2.5-.3 5.5-.2-2.2-.3.5-.2 1-.3.1-.2 1-.3-.4-.2 6.5-.3-5.2-.2 4.5-.3 6.1-.2-11.8-.3 37.6-.2-38.2-.3-2.1-.2.2-.3-1.6-.2-.4-.3.6-.2-.7-.3-.3-.2.7-.3-.8-.2 0-.3-2.1-.2.1-.3-.4-.2.8-.3 2.8-.2 4.1-.3 8.3-.2-.7-.3 3.5-.2 3.6-.2.2-.3 1.5-.2-3.3-.3-3.2-.2-3.9-.3-2.9-.2-4-.3-2-.2-2.2-.3-.2-.2-2.6-.3-1.3-.2-1.9-.3-1.4-.2 21.9-.3 4-.2 26.7-.3-48.4-.2 2.7-.3 4.5-.2 2.8-.3 7.9-.2-2.2-.3-.2-.2-.7-.3-1.7-.2-3.2-.3-3.8-.2-3.1-.3-1.7-.2-2-.3 1.5-.2.8-.3 2.6-.2 1.5-.3 2.2-.2 2.9-.3 2.3-.2 1.5-.2 3.1-.3 2.1-.2 2.4-.3 25.6-.2-23.5-.3 0-.2.5-.3.4-.2 1.3-.3-1-.2-.8-.3-1.9-.2-1.2-.3-2.5-.2-.7-.3-.9-.2.4-.3 12.5-.2-11.5-.3.6-.2 1.1-.3-1-.2 9.2-.3-9.2-.2-.1-.3-1.7-.2-1-.3-1.5-.2-1.6-.3-2-.2-.7-.3-.6-.2 0-.3-.9-.2-.3-.3 6.1-.2-9.6-.3-2.1-.2-1.2-.3-2.6-.2-2.1-.2 14-.3-17.6-.2-3.1-.3-1.6-.2 3.4-.3-3.1-.2-.1-.3 1.3-.2.6-.3 1-.2.4-.3 2-.2 1.2-.3.8-.2 9.6-.3-8.4-.2.3-.3 1-.2 1.2-.3.7-.2.5-.3 2.1-.2-.6-.3-.4-.2-2.3-.3-.1-.2-2.3-.3-2.9-.2-2.2-.3-.8-.2-1.6-.3.1-.2 1.9-.3 3.9-.2 2.1-.3 3.6-.2 3.1-.3 3.6-.2 1.1-.2 1-.3 1.2-.2-.4-.3-2.1-.2-1.2-.3-2.3-.2-1-.3-1.7-.2 0-.3.9-.2.9-.3.7-.2 1.5-.3-.5-.2.4-.3-1.7-.2-1.7-.3-1.8-.2-1.7-.3-2-.2-.3-.3 8.9-.2-5.6-.3 14.9-.2-10.8-.3 2.3-.2 4.1-.3-.8-.2.9-.3-.1-.2.2-.3-1.6-.2-.4-.3-.8-.2 1-.3.3-.2 1.8-.3 1.1-.2 1.6-.3-.1-.2-.1-.2.9-.3 1.3-.2-.7-.3.1-.2-.3-.3.7-.2-2.2-.3-1.7-.2-1.5-.3-1.9-.2-3.8-.3 5.5-.2-10.9-.3 16.6-.2-21.7-.3.9-.2 2.6-.3 2.7-.2 2.7-.3 3.6-.2 3.1-.3 2.9-.2 1.3-.3 2.3-.2.3-.3 1.4-.2.2-.3-.1-.2 0-.3.3-.2-.2-.3 1.1-.2.3-.3 2-.2-.5-.3.5-.2-1.2-.3-.8-.2-2.8-.2-3.5-.3-4.3-.2-1.4-.3-4.2-.2-4.6-.3-5.4-.2 0-.3-6.9-.2 41.1-.3-44.6-.2 1.2-.3-1.4-.2-.3-.3-.1-.2.2-.3-1.5-.2-2.1-.3-2.5-.2-1.4-.3-3.1-.2-2.9-.3-1.6-.2.1-.3.4-.2 38.3-.3-18-.2-13-.3-.9-.2.4-.3-1-.2-1.1-.3-1.5-.2-.5-.3-.3-.2-.6-.3-.6-.2 1.5-.3 0-.2 1.7-.3-.2-.2 1.6-.2.2-.3 1.1-.2.8-.3 1.3-.2 9.7-.3-7.1-.2.5-.3 30.2-.2-30.6-.3 27.2-.2-29-.3-.2-.2 35.6-.3-37.6-.2 37.7-.3-38.8-.2-1.3-.3-.1-.2-1.3-.3-1.5-.2-1.6-.3 2-.2-7-.3-3.4-.2-2.6-.3-1-.2-1.1-.3-.4-.2 45.8-.3-41.3-.2.9-.3 2.7-.2 2.5-.3 6.8-.2-3.1-.3.5-.2.4-.3.7-.2-2-.2.3-.3-.8-.2.1-.3-1.7-.2-.7-.3.8-.2.5-.3-1.5-.2-1.3-.3 25.9-.2-28.4-.3-.4-.2.7-.3 2.1-.2 9.1-.3-7-.2 7.9-.3-2.4-.2 4.2-.3 3.4-.2 5.6-.3 12.1-.2-8.1-.3 3.9-.2 2.9-.3 2.9-.2 11.3-.3-7.7-.2 2.1-.3 1.4-.2 1.5-.3.6-.2-.2-.3.4-.2.9-.3 2.4-.2.6-.3 1.2-.2 2.7-.3 2.6-.2 2.9-.2 25.8-.3-20.9-.2.5-.3 43.8-.2-17.6-.3-28.2-.2-2.2-.3-2.2-.2-2.7-.3 29.3-.2-33-.3-1.9-.2-1.9-.3-.7-.2-2.6-.3-2.3-.2-2.8-.3 10-.2-13.1-.3-1.3-.2 0-.3 7.5-.2-4.2-.3 2.1-.2 27.7-.3-20.2-.2-2.7-.3.3-.2-.1-.3 34.3-.2-38.1-.3-2.8-.2-3.3-.3-2.5-.2-3.1-.3-1.2-.2-1.1-.3-.2-.2-1.1-.2.6-.3 0-.2.6-.3-.5-.2.7-.3-.1-.2.5-.3-.2-.2 1.2-.3.5-.2 1.5-.3 46.9-.2-45.7-.3 40.8-.2-41.4-.3-1.5-.2-.3-.3-1.8-.2-1.2-.3-1.6-.2-.2-.3-.6-.2 0-.3-.2-.2 1.4-.3.1-.2 1.2-.3.2-.2.8-.3-.3-.2-.1-.3-1.2-.2-.7-.3-1.1-.2-1-.3-1.8-.2-.1-.3-1.5-.2-.3-.3-.4-.2.5-.2.4-.3.2-.2.9-.3 2.1-.2.3-.3 1.9-.2 1.5-.3 1.8-.2.8-.3 32-.2-29.9-.3.1-.2-1.9-.3.3-.2-1.6-.3-1.3-.2-1-.3.5-.2-1.4-.3 0-.2.2-.3 2-.2.5-.3 1.3-.2 7.4-.3-5.7-.2-.6-.3 8.2-.2-8.2-.3-.2-.2-.5-.3.4-.2.7-.3.8-.2 1.4-.3 3.5-.2 2.5-.3 3.2-.2 1.2-.2 1.3-.3-1.5-.2-1.6-.3-1.6-.2-1.3-.3-3.2-.2-2.3-.3-3.1-.2-1.5-.3-1.7-.2-.3-.3.1-.2.1-.3-1.2-.2-.4-.3-1.2-.2.3-.3-.9-.2.5-.3-.1-.2.3-.3-1.1-.2-.2-.3-.5-.2.8-.3.5-.2 1.5-.3.1-.2 1.7-.3-.1-.2.8-.3-.1-.2.9-.3 14.1-.2-14.7-.3-.7-.2.5-.3-1.4-.2-.5-.3 24.8-.2-24.2-.2.2-.3 1.1-.2 1.1-.3 1.4-.2 9.1-.3-7.9-.2.2-.3.8-.2-1-.3-.8-.2-2.1-.3 6.3-.2-8.6-.3-.7-.2-.2-.3 1.3-.2 39.6-.3-38.6-.2-.9-.3.4-.2 14.9-.3-18-.2-2.1-.3-1.8-.2-2.6-.3-1.2-.2-1.5-.3 1.7-.2 1.1-.3 2.4-.2 1.5-.3 8.5-.2-3.3-.3 1.9-.2 39.6-.3-34.8-.2 1.4-.3 4-.2 23.1-.2-24.2-.3-.2-.2.2-.3.8-.2.8-.3-.9-.2-.2-.3-.3-.2-.5-.3-.7-.2 0-.3-1-.2-1.9-.3-2.5-.2-.8-.3-2.8-.2-1.4-.3-1.7-.2.7-.3.1-.2 1.4-.3 1.7-.2 2.8-.3 35.6-.2-20.9-.3-8.6-.2 2.3-.3.2-.2 1-.3 1.4-.2.3-.3-.8-.2.2-.3 2.9-.2-3.1-.3-1-.2-.5-.3-1.9-.2-.3-.3-1.5-.2.4-.2-.6-.3 36.9-.2-35.8-.3 1.2-.2 0-.3 1.7-.2-.1-.3.7-.2.1-.3 1.1-.2.1-.3-.4-.2 13.4-.3-10.5-.2-.4-.3 1.1-.2.2-.3.8-.2-1.5-.3-.7-.2-.5-.3-1.1-.2-2.2-.3.3-.2-1.7-.3 0-.2-2.1-.3.2-.2-.4-.3 19.1-.2-19.5-.3 2.9-.2-8.8-.3.9-.2-.6-.3 2.1-.2 1-.3 1.6-.2 48.2-.2-44.1-.3 1.4-.2 1.7-.3.1-.2.9-.3-.6-.2-.1-.3-1.7-.2-1.1-.3 18.5-.2-21.6-.3-1.8-.2-.3-.3.5-.2 2-.3 11.1-.2-7.4-.3 2.1-.2 4.3-.3-1.4-.2.5-.3-1.1-.2-1.6-.3-3.5-.2-1.5-.3-2.8-.2-1.1-.3-.3-.2.8-.3-.2-.2 1.5-.3.6-.2 1.6-.3.1-.2 1.2-.3.4-.2 0-.3 0-.2.4-.3-.9-.2-.6-.2-.7-.3 0-.2-2.4-.3-1.5-.2-1.5-.3-1.6-.2-1.9-.3-1.1-.2-.5-.3-.7-.2-.9-.3 1.2-.2-.7-.3.5-.2.3-.3 6.5-.2-3.4-.3 1.5-.2 1.5-.3 2.3-.2 1.8-.3 3.2-.2 1.2-.3 2.2-.2 1-.3 1-.2 2-.3-2.8-.2-2.1-.3-1.1-.2-1.5-.3 5.5-.2-4.9-.3-.4-.2.9-.3 1.3-.2.5-.3 1.8-.2 0-.2 1.1-.3-1.1-.2-1.1-.3-2.9-.2-3-.3.4-.2-3.8-.3-1.4-.2.2-.3.1-.2 1.5-.3 2-.2 3.8-.3 2.2-.2 44.1-.3-39.7-.2 1.6-.3-.3-.2-1.1-.3-2.1-.2-3.1-.3-3-.2-1.7-.3-3.7-.2-1.9-.3-2.6-.2 0-.3-1.3-.2-.4-.3.6-.2 1.8-.3 0-.2.3-.3-.4-.2.6-.3-1.5-.2-.7-.3-.6-.2.2-.3 24.6-.2-26.2-.2.5-.3 1.1-.2-.7-.3 11.8-.2-11.4-.3.4-.2-1.7-.3-1.1-.2-.4-.3 37.1-.2-37.3-.3.9-.2 3.3-.3 0-.2.5-.3 1.1-.2 1.4-.3 1-.2 1-.3-2.5-.2-1.1-.3 19.9-.2-21.4-.3.2-.2.4-.3.6-.2 21.8-.3-18.9-.2.5-.3 1.1-.2-.1-.3 9.1-.2-7.3-.3 1.3-.2.8-.3.6-.2.2-.3 1.5-.2 1.3Z" fill="#d4d4d4" fill-opacity="1.0"/>
<path d="M831.4 696.4l.2-1.6.3-13.9.2 11.4.3-.6.2-.8.3-2 .2.3.3-.5.2 1 .3 1.7.2 3.2.3 0 .2 2.1.3-1.7.2.3.3-1.2.2.9.3-2.8.2-14.4.3-63.2.2 87.2.3 1.1.2-7.1.3 13.1.2 2.1.3 0 .2.6.3-1.9.2.1.3-7.1.2 6.9.3-1.3.2 0 .3 0 .2 1.4.3.6.2.1.3-1.3.2-.6.2-2.6.3-1.2.2-2.4.3-2.5.2-3 .3-.8.2-18.5.3-31.3.2 42.6.3 2.2.2-.1.3 4 .2 5.4.3 5 .2 1.2.3-4.4.2 8.1.3.4.2-1.3.3-.1.2-3 .3-3.8.2-4.3.3-2.6.2-2.6.3-29.9.2 29.1.3 1.6.2-41.9.3 45.7.2 1.2.3 2.7.2 1.5.3 2.5.2.6.3 2.9.2 1.8.3 2.1.2-13.7.3 16.1.2-.2.2 1.2.3-1.2.2 3.9.3-1.6.2-.4.3-5.5.2-5 .3-5.3.2-3.4.3-4.4.2-9.7.3 0 .2-19 .3 24.7.2 2.9.3 4.5.2 5 .3 3.8.2 2.3.3.3.2-1 .3-1.8.2.7.3-.2.2-13.5.3 10.1.2-1.2.3-2.8.2-2.8.3-2.4.2-1.2.3-2.3.2-2 .3-2.2.2-2.6.3-3.7.2-2 .3-3.4.2-1.5.2-.5.3-1.4.2-4.5.3 6 .2.3.3 2.9.2 2.5.3 3.9.2 1.9.3 1.9.2-.1.3 1.1.2-1.5.3.9.2-.1.3.3.2-.7.3-.3.2-58.8.3 54.8.2-3.5.3-2.6.2-43.6.3 41 .2-.7.3-8 .2 12.1.3 4.3.2 5.4.3 5.3.2 4.4.3 4.3.2 2.1.3.3.2-1.9.3-.7.2-2.7.3-2.3.2-2 .3.1.2-.8.2.9.3 1.5.2 2.1.3-21.7.2 25.2.3.9.2 1.3.3-32.2.2 32 .3-15.9.2 12.5.3-1.9.2 1.9.3 1.2.2-2.7.3 1.5.2 6.1.3-.9.2-.5.3-.4.2-.2.3-3.7.2-3 .3-4.7.2-3 .3-3.1.2.8.3-29.7.2 31.4.3-1 .2-.4.3-.8.2-22.7.3-11.8.2 4 .3 30.4.2.2.3 0 .2 3 .2 3.5.3 2.4.2 2 .3 3.1.2 1.4.3 2.1.2-30.4.3 30.8.2-2 .3-2.3.2-3.4.3-2.6.2-2.2.3-1.6.2-2.4.3.9.2 1.5.3 1.3.2 0 .3 1.4.2.9.3-1.3.2.1.3-2.5.2.8.3-1.3.2-2.3.3.2.2-.4.3.8.2.9.3-.3.2 3.9.3 3.7.2 1.2.3 2.3.2 1.3.3 2 .2-.9.3 1.4.2-2.5.2-4.6.3 1.4.2-.7.3-2 .2 1.7.3 1.8.2 6 .3.8.2 4 .3 1 .2 3 .3-5.3.2-7.4.3 12.2.2-.3.3-15.8.2 10.5.3-15.5.2-13.3.3 22.8.2 2.7.3-.4.2-.1.3-1.3.2-.5.3-48.6.2 47 .3-1 .2 1 .3.4.2 1.7.3-.1.2 0 .3-1.6.2-1.2.3-2.4.2-17.1.3 16.5.2-28.5.2 25.4.3-21.3.2 28.9.3 6.5.2-41.6.3 47.1.2-.2.3-.6.2-3.8.3-4.4.2-26.5.3 20.2.2-2.5.3-.9.2 1.4.3 1.8.2.2.3 4 .2-8.4.3 14.6.2.5.3.2.2-3.3.3-3.5.2-3.1.3-.9.2-9.7.3 6.2.2-4.9.3 1.8.2-.5.3 2.1.2 1.8.3 1.6.2-1.3.3-3.4.2-6.3.3-3.2.2-4.5.3-4.8.2-11 .2 5 .3-2.9.2-1 .3.3.2-2.9.3 8.1.2 2.9.3 4.9.2-17 .3 21.1.2 2.2.3 1.4.2.6.3-1.1.2-.6.3-3 .2-3.9.3-4.2.2-1 .3-2.7.2-1.6.3-.3.2.7.3-15.1.2 18.3.3 3.1.2 4 .3-26.6.2 34.7.3 3.6.2 3.1.3 1.1.2 3.3.3-.5.2-.2.3-3.2.2 1.8.3-3 .2-2.3.2-1.2.3 1.2.2 0 .3.7.2.6.3-19.1.2 16.6.3-2.7.2 2 .3.2.2-1.3.3.5.2-3 .3-2 .2-.7.3.9.2.7.3.6.2-2.2.3-2.7.2-3.2.3.9.2 2.4.3-1.5.2 1.9.3-2.4.2-3.7.3-3.6.2-1.6.3 1.4.2-7.4.3-29.5.2 30.7.3 7.5.2 1.2.3 2.9.2 3.1.3 3.5.2-.7.3-16.2.2 16.7.2 3.1.3 1.5.2 3.5.3 1.5.2 2.8.3.5.2 1.2.3-.6.2-.3.3-.5.2.5.3-13.4.2 12.9.3-.6.2-.8.3-.7.2.3.3-7.5.2 6.7.3.6.2-.1.3 1.7.2 1.5.3 2.2.2 2.3.3.8.2.6.3-.2.2.5.3 1.5.2 1.4.3-.4.2 2.4.3 4 .2 4.9.3-3 .2-25.2.3 36.2.2 2.1.2-17.8.3 23.8.2 1.7.3-.2.2-.2.3 2.4.2 2.7.3 2.7.2 2.6.3 2.9.2 3.2.3 3.6.2 0 .3 7.5.2-42.3.3 49.3.2 3.2.3 3.1.2 2.9.3 3.4.2-32.1.3 39 .2 3.7.3 3.2.2 3.7.3 4.3.2 4.8.3 4.9.2 4.6.3 4.6.2 4.4.3 4.3.2 4.7.3 4.3.2 3.4.3 2.9.2 2.3.3 2.2.2 1.5.3-14.3.2 17.4.2 1.6.3-35.4.2 38.1.3 1.3.2-33.8.3 31.7.2 10.1.3 1.8.2 3 .3 3.1.2 3.2.3 1.3.2.9.3-3.4.2-2.7.3-2.9.2-2.2.3-6.5.2-1 .3-4.4.2-2.3.3-1.3.2 2.7.3 2.6.2.2.3-11.5.2 18.3.3.2.2 1.1.3 1.7.2 1.2.3-57.5.2 56.9.3-1.3.2-1.9.3-2.2.2-3.8.3 2.7.2-6.2.2 5.2.3-.1.2-1.9.3-1 .2-.2.3-1.4.2 2.1.3 3 .2 2.3.3-.1.2 5 .3 3.2.2-5.7.3 12.1.2 2.3.3-45.9.2 44.3.3-2.1.2-2.4.3-2.3.2 1.4.3-.8.2-1.1.3.1.2-.2.3 1.9.2 3 .3 2.4.2-2.1.3 2.1.2 0 .3 1.2.2 1.5.3 3.1.2 1.2.3-27.2.2 25.2.3-.8.2-37.9.3 36.3.2-1.9.2-.8.3-1.4.2-.9.3-.9.2 1.9.3.5.2.4.3-.1.2.6.3 0 .2.5.3-.5.2-1 .3-1.8.2-9.8.3 7.3.2-.7.3-1.6.2-1.4.3-1.6.2-.6.3-1.3.2-.2.3.3.2-1.5.3-.5.2.5.3-.9.2-2 .3-2.6.2-14.5.3-47.2.2 57.8.3.2.2.9.3-1.5.2.7.3 1.6.2 2.9.2 1 .3 3.8.2 1.9.3 1.7.2-1 .3 1.9.2-28 .3 27.2.2-2.1.3-1.5.2-2.4.3.7.2-27.3.3 28.1.2.5.3 2.7.2 1 .3 4.1.2 2.9.3 2.8.2-1.1.3-.7.2-2.4.3-.8.2-1.7.3 0 .2-29 .3 26.8.2-1.3.3.6.2.9.3 2 .2-.3.3.5.2-1.8.3-2.5.2-3.5.3-2.4.2-12 .3 8.2.2-.7.2 1.3.3.3.2 1.4.3.8.2 1.1.3.5.2 0 .3-1 .2-29 .3 19.1.2 10.3.3 0 .2 1.3.3-9.9.2 11.7.3-.1.2 1.3.3-.4.2 1.6.3-4 .2 7.4.3 2.3.2-21.2.3 24.5.2 2.6.3-2.5.2-33.7.3 18.4.2 14.2.3-3.7.2-3.1.3-3.4.2-1.2.3-26.9.2 24.8.3 2.3.2 1.2.3-.1.2-12.9.2-2.6.3 13.6.2-1.8.3-1.6.2-2.5.3-.9.2-1.4.3.7.2 1.1.3 0 .2 5.4.3 2.6.2 2.6.3 2.6.2 1.3.3-2.6.2 7.9.3 1.6.2.1.3 1.2.2-1.6.3-2.1.2-2.9.3-2 .2-4.2.3-3.1.2-6.6.3-30.7.2 31.3.3 1.1.2.5.3-16.1.2 21.9.3 1.9.2-22.1.3 24.8.2-1.7.3-3.4.2 1 .3-.1.2-2.2.2-.6.3-.9.2 1.7.3-.8.2-.3.3-1.1.2-.3.3-2 .2-.7.3-.1.2 1.1.3-2.2.2-.1.3 1.6.2 1.7.3.8.2.8.3 2.4.2-1.9.3-2.3.2-1.2.3-2.4.2-2.5.3-1.7.2-1 .3-1.8.2 1.1.3 1.8.2 2.1.3.6.2 2.4.3 1.4.2 2 .3-4.6.2 7.6.3-.5.2.2.3-.6.2 1 .2.3.3 0 .2-1.3.3-.6.2-1.4.3-1.4.2-1.9.3-12.4.2 12.2.3-.7.2.3.3 1.2.2-1.2.3-1.5.2.3.3-.4.2-.8.3.7.2.7.3.1.2 2 .3 4.2.2 3.7.3 2.9.2 2.6.3.6.2-1.7.3.3.2-11.3.3 8.6.2-16.9.3 12.2.2-2.8.3-1 .2-.1.3 2.1.2-.4.3 1.6.2 1.9.3 2.9.2 1.3.2 1.3.3-1 .2-1.1.3-3.1.2-.9.3-.5.2-33 .3 11.1.2 18.5.3-1.2.2-8.9.3 8.6.2 1.1.3.4.2.2.3-.3.2 1.4.3-.1.2.8.3-44.6.2 47.1.3 0 .2 1.1.3-.7.2.3.3-1.9.2 1.1.3 1.7.2-65.4.3 69.4.2 2.2.3-.8.2-.3.3-1 .2 1.2.3-1.9.2-2.1.3-2.8.2-.9.2-2 .3 1.1.2.7.3.5.2-1.5.3 1.2.2 1.5.3 2.5.2 2.4.3 3.3.2.8.3 2.1.2 2.3.3 3.4.2 1.2.3 2.1.2 1.1.3.8.2.4.3 1.6.2.5.3-.4.2-.9.3.1.2-1 .3-.9.2-.9.3.1.2-.8.3-.3.2-.4.3.4.2-.5.3-.1.2-.9.3-.3.2-3.1.3-3 .2-2.8.3-17 .2 13.8.2-.9.3-1.3.2-76.7.3 74 .2-.4.3.4.2 1.9.3 1.4.2 3.7.3 2.9.2 4.9.3-18.6.2 24.9.3 2.3.2 1.3.3-2.3.2-2.2.3-11.1.2.4.3-7.4.2-5.6.3-5.6.2-2.6.3-1.7.2-11 .3 11.6.2 6.6.3 3.8.2 4.4.3 3.6.2 3.7.3 1.1.2 2.4.3.5.2-.1.3-1.2.2-.3.3-2.4.2-2.2.2-2.2.3-1.3.2-10.8.3 6.7.2-2.1.3-.6.2-1.4.3-30.8.2 17.1.3 18.3.2.5.3-17.5.2 20.5.3 1.3.2 0 .3.8.2-.3.3-.3.2-19.4.3 21 .2-25.6.3 25.1.2-.1.3.7.2-.7.3 1.4.2.9.3 1.1.2-1.1.3.5.2-.7.3-21.8.2 23 .3 1.2.2-.4.3.2.2-2.5.3-2.1.2-43.8.3 38.8.2-19 .2 10.9.3-2.3.2-1.6.3-5.7.2 5.1.3-13.4.2 15.6.3.7.2 2.2.3-.9.2 1.8.3-3.2.2-1.2.3-2.1.2-1 .3-2.2.2.2.3-.2.2 1.2.3-2.2.2 3.5.3 2.1.2 3 .3 2.4.2-17.2.3 24.1.2 2.9.3 1.3.2 2.4.3-.8.2-1.5.3-2.1.2-1.6.3-2.9.2-2.4.3-2.2.2-.5.3-7.2.2 6.1.2-16.3.3 16.2.2-2.1.3-1.1.2-2.1.3-.7.2-2.2.3-29.7.2 28.9.3.4.2 1.9.3 3.9.2 1.8.3 1.8.2.4.3 1.9.2-2.8.3 3.4.2.7.3-.3.2-3 .3.8.2.2.3 1.6.2-1 .3 4.5.2-1.3.3-.7.2-.2.3.9.2-.5.3-19.8.2 20 .3-1.5.2-1.5.3-.1.2-2.4.3-.9.2-1.6.3-2 .2-7.8.2 3.4.3-1.2.2 0 .3-.4.2 4.8.3 1.6.2 2.4.3 2.2.2 2.3.3-.3.2.3.3-.7.2-61.7.3 58.5.2-1.2.3-.1.2-.2.3-.9.2 1.5.3-32.4.2 12.9.3 22.1.2 1.5.3-.4.2-1.8.3-3.3.2-1.2.3-4.4.2-2.1.3-2.6.2-.1.3-10.2.2 8.4.3 1.3.2 2.9.3 2 .2 4.3.3 3.3.2 2.1.2-18.3.3 21 .2-15.2.3 14.6.2-.9.3-.1.2-1.4.3-.8.2-.3.3-.2.2-.7.3.2.2 2 .3 2.9.2 2.2.3 3 .2 2.3.3 1.5.2.1.3-.2.2 0 .3-.9.2-2.3.3-1.5.2-2.9.3-4 .2-5.5.3-3.6.2-3.6.3-2.5.2-3.6.3-1 .2-2.1.3-.4.2-8 .3 11.5.2 3.1.3 5.1.2-5.7.3 12.5.2 2.7.2 2.5.3 1.3.2 2.6.3.3.2-.3.3-1.4.2-.3.3-1.9.2 0 .3.7.2.9.3-.3.2 2.6.3.5.2-29.7.3 31.7.2 1.2.3-1.3.2-.3.3-.1.2-.8.3-4.3.2-.6.3-2.4.2-3.1.3-1.4.2.4.3-2.4.2-1.6.3-1.3.2-.8.3-2.1.2.3.3.3.2 1 .3-.8.2 3.1.3.8.2 1.2.2-1.7.3-3.3.2 5.8.3-.2.2-1.3.3.6.2-1.8.3.2.2.7.3-1.4.2 4.2.3 1.6.2 1.3.3 2 .2 1.3.3 2.5.2 1.7.3-.3.2-1.1.3 0 .2-.8.3-.2.2-.3.3 0 .2-1.9.3-.5.2.5.3 3.7.2-46.7.3 50.1.2 2.1.3-29.3.2 27.5.3.1.2-2.1.3-1.4.2-3.2.3.5.2-2.5.3-2.4.2-2 .2 2 .3 1.1.2 2.6.3 1.5.2-20.7.3 23.7.2.4.3.1.2 2.1.3-1.3.2-2 .3-4.3.2-3 .3-4.3.2-.7.3-4.1.2 6.2.3-.2.2 1.1.3-15.6.2 19.1.3-37.7.2 38.9.3-2.3.2-9 .3 4 .2-1.7.3-4.9.2 2.2.3-10.4.2-6.5.3 17.1.2 1.8.3.8.2 1.8.3 1 .2 1.3.3-.1.2-.6.2-1.7.3.1.2-.4.3.1.2-.3.3.5.2-.9.3.5.2.2.3 2.4.2.5.3 1.1.2-1.1.3.5.2-1.5.3.2.2-.8.3 2.3.2.7.3 1.9.2.4.3 2.8.2 1.1.3 2.5.2 2 .3 2.9.2-.2.3-1.4.2-10.3.3-15 .2 23.2.3.2.2-.8.3-1.4.2-3.2.3-2.7.2-.8.3 0 .2-.7.3-2.3.2-1.1.2-2 .3-2.1.2.6.3 1.6.2.5.3-31.1.2 20.5.3 10.9.2 0 .3.1.2.4.3-.7.2 1 .3 1.1.2-25.3.3 27.2.2 2.9.3.9.2 2.3.3 2.1.2 2.8.3 2.1.2 3 .3 1.4.2 2.2.3.8.2-.4.3-.5.2.6.3-1 .2-1.7.3-1.6.2-1.6.3-2.4.2-.8.3.5.2.6.3-.8.2-1.1.2-3 .3-1.3.2-1.9.3-7.9.2 4.4.3 6.3.2-2.2.3 4.6.2 2 .3 3 .2 1.1.3 2.1.2-.2.3-.6.2-17.9.3 16.6.2-1.5.3 0 .2-1.7.3-.5.2-1.2.3 1.5.2.2.3 4 .2-3.3.3 5.7.2-37.9.3 38 .2-1 .3 1 .2-.4.3-9.3.2 5.1.3-.8.2-1.7.3.7.2 1.3.3 2.5.2.8.3.1.2-1.9.2-24.4.3 21.2.2-1.3.3-2.8.2-2.4.3-4.4.2-3.2.3-3.4.2-2.1.3-2.8.2-27.6.3 27.5.2 0 .3-.3.2 1.3.3.8.2 1.6.3 2 .2 2.6.3.3.2.7.3.5.2-.6.3-1.3.2.2.3-.3.2-27.6.3 28.1.2-35.8.3 36.9.2-.4.3.6.2.8.3-.2.2.6.3-.1.2-1.8.3-22.8.2 20.1.2-.1.3.3.2-15.1.3 15.6.2-3 .3-1.6.2-1 .3 0 .2-18.3.3 16.9.2-.1.3.6.2.2.3 2.6.2-.5.3-1.2.2-28.4.3 26.1.2-2.1.3-.6.2-3.6.3 2.6.2-13.4.3 16 .2 1.6.3 1.8.2.8.3.5.2-1.3.3-1.7.2-1 .3-.1.2-17.6.3-28.4.2 45.3.3 2.1.2.6.3 5.1.2-23.2.3 28.9.2.7.2 2.9.3.6.2-38.7.3-9.2.2 49.4.3-2.4.2.3.3-.4.2-1.6.3-2.3.2-.2.3-.9.2-1.1.3-1.8.2-1.4.3-3.1.2-12 .3 8.7.2-1 .3-1.7.2-18.2.3 17.8.2 1.3.3-.3.2.6.3-1 .2.9.3 1 .2 1.2.3-10.4.2 8.6.3-3.6.2-.5.3-28.9.2 28.4.3.4.2 2.8.3 1.4.2 2 .2 1.5.3 2.6.2.6.3 1.4.2.1.3-1.1.2-3 .3-2.4.2-17.9.3 14.5.2-1.5.3-.2.2-9 .3 9.3.2-30.8.3 32.3.2 1.6.3-7.8.2 10.4.3 1.9.2 1.3.3-.2.2-2.1.3-.1.2-2.4.3-2.1.2-1.7.3-.1.2-2.4.3 1.5.2.9.3 2.3.2.2.3 3.1.2 1.7.3 1.6.2-.2.3 1.3.2-2.8.3-.6.2-2.1.2-.4.3-2.3.2-1.4.3-13.1.2 11.7.3-2.2.2 2.8.3 2.2.2 3.3.3 2.4.2 3.3.3 2.9.2 2.4.3 0 .2.8.3-2.7.2-1.1.3-.6.2-.3.3-5.2.2 7.6.3 1.9.2-24.7.3-3.6.2 34.9.3-.9.2-22.4.3 20.7.2-1.6.3-4.4.2-2.6.3-2.5.2-1.1.3-1.1.2 1.6.3 1.2.2 2.6.3.7.2 3.8.2-5.2.3 10.3.2.1.3 1 .2-1.1.3-.7.2-3.7.3-2.3.2-2.8.3-2 .2-3 .3-.3.2-.2.3.1.2.6.3 2.3.2 1.9.3.9.2-.3.3.2.2-7.7.3 6.9.2-.8.3-.5.2-2 .3-.9.2-1.6.3 2.2.2 1.6.3 1.6.2-.3.3 1.6.2-1 .3-1.2.2-3.2.3-30.6.2 23.4.3-4.5.2-21.3.3 17.3.2-3.3.2 3.5.3 1.9.2 4.1.3 3.4.2 5.1.3-45.7.2 52.7.3 1.8.2 2.8.3.3.2 1.3.3-1.2.2.1.3-1.3.2-4.1.3 4.5.2.6.3-2.1.2 0 .3.1.2-.2.3 3.7.2 3.6.3.6.2.6.3-8.2.2 9.7.3-.6.2-.1.3-.5.2-.6.3-2.4.2-.2.3-.1.2.5.3 1.2.2 2.7.3 1.4.2.9.2 0 .3.6.2-.4.3.2.2-.1.3-29.1.2 25.6.3-.4.2-1.4.3-27.9.2 26.7.3-.6.2-2.6.3-1.6.2-.9.3-1.4.2-1.9.3-1 .2-1 .3-1.3.2-.5.3 1.1.2.3.3.8.2 1.5.3 1.8.2 1.8.3 3.3.2 2.6.3 3.6.2 2.4.3 2.7.2 1.2.3-38.8.2 38.4.3.8.2-1.1.3.7.2-.7.3-.7.2-3.6.2-.9.3-1.6.2-.3.3-26.1.2 25.6.3-2.4.2-1.4.3-.8.2 2.2.3.2.2 2.5.3.3.2.5.3-2.4.2-.6.3-.9.2.3.3-1.1.2-.4.3-1.9.2-7.5.3 7.4.2.6.3.9.2 1.8.3-.4.2.5.3.7.2-38.2.3 40.3.2.6.3-.1.2.3.3-1.8.2.3.3-1.5.2 1.1.3-.1.2 1.5.2-47.5.3 52 .2 2.7.3 3.5.2.8.3-38.1.2 39.7.3-1.3.2-13.3.3 10.5.2-3.9.3-1.5.2-1 .3.4.2-2.9.3.7.2-.2.3-.2.2-3.9.3 1 .2-2.8.3-3.7.2-3.8.3 1.5.2-1.5.3.5.2-21.7.3 25.6.2-1.3.3.5.2.1.3-8.9.2 7.3.3-.7.2-1.2.3-.3.2-16 .3 18.5.2 1.1.3-20.5.2 23.5.2 1.7.3-44.3.2-18.6.3 30.8.2 31.5.3-2.6.2-.5.3-.7.2-3 .3 3.8.2 2.8.3.9.2-.4.3-1.4.2-1 .3-1.6.2-38.7.3 37.2.2-.4.3-.8.2-1.5.3-.9.2-.4.3-12.8.2 16.5.3 1.8.2 3.1.3 2.8.2 1.8.3.8.2.9.3-1.1.2-.8.3-2.2.2-1.4.3-9.3.2 4.9.3-14.3.2 11.5.2-.2.3-34.3.2 15.5.3 24.4.2.1.3 1.1.2-2 .3.6.2-24.4.3 23.4.2-1.2.3 2.4.2-2.2.3-1 .2-2.1.3.2.2-1.5.3 1 .2.7.3 2.4.2-2.6.3 1.3.2.3.3 2 .2 1.3.3 2.7.2-.7.3-13.8.2 10 .3.9.2-2 .3-.6.2-1.8.3-31.9.2 27.6.3 1.5.2.1.3.8.2-2.4.3 5.9.2.5.2 1.3.3-25.5.2 26.7.3-2.5.2-.1.3.1.2.3.3-.4.2-12 .3 16.4.2 1.6.3 2.7.2 3.3.3.8.2.6.3 0 .2.6.3-2.5.2-.7.3-.4.2-.6.3-.8.2 1.3.3.1.2-.3.3-.6.2.7.3-31.2.2 28 .3-1.2.2-1.5.3-1.5.2-13.2.3 12.6.2-.3.3.1.2 1.1.3.7.2 1.6.2.7.3.8.2 0 .3-.2.2.6.3.5.2-.2.3 1.4.2 1.1.3 1.6.2.8.3.8.2-.9.3-2.9.2-4.9.3-3.6.2-4 .3-2.1.2-12.7.3-29.4.2 40.2.3-8.8.2 11.1.3-11.8.2 16.8.3 3.7.2-.2.3 1.6.2 2.2.3 1 .2.1.3-56.2.2 57.5.3 1.3.2-1.5.3-1.4.2-27.7.3 24.8.2-2.8.3-3.6.2 2.4.2 1.3.3-8.9.2 8.5.3-20.5.2 19 .3-3.4.2-1.3.3-3.4.2-3.3.3-4.7.2-2.4.3-3.5.2-1.6.3-1 .2 2.4.3.9.2 2.5.3 2.7.2-10.1.3 13.7.2 2.5.3 1.5.2 2.1.3.8.2.8.3-.4.2.8.3-1 .2 1.3.3.4.2 1.7.3-27.1.2 28.5.3.1.2 1.5.3 0 .2 2.9.3.9.2 1.3.2-2 .3 0 .2-3.6.3-.7.2.4.3 2.2.2-9.1.3 10.3.2.1.3.6.2-.9.3 3.1.2.8.3.3.2-1.6.3-.4.2-2.9.3-22.3.2 17.3.3-2.5.2-4.1.3-2.2.2-4.4.3-.8.2-.4.3.3.2 0 .3 2.9.2 1.5.3 3.7.2-8.7.3 17.1.2-10.3.3 14.9.2 1.1.3 2.3.2-.5.3-1.4.2-2.5.3-3 .2-5.2.2-4.4.3-2.6.2-2.5.3-3.3.2-.4.3-.2.2 1.2.3 1.5.2 3.1.3 1 .2 1.4.3 1.1.2-.1.3-.6.2-7.2.3 7.2.2-29 .3 23 .2 2.3.3-1.9.2-.2.3 1.7.2 1.5.3.7.2-17.7.3 20.5.2.8.3.1.2-.4.3-2 .2-1.3.3-2.7.2-.6.3-2.6.2-.7.3-1.4.2.1.3.4.2 1.2.2.1.3 1 .2-2.4.3-11.3.2 1 .3 8.7.2-.8.3 1.1.2-.5.3 1 .2.4.3 3.6.2 3 .3-17 .2 2.3.3 8.1.2 9.5.3 7.6.2-.5.3 1.3.2-.9.3.6.2-.5.3-30 .2 7.8.3 24.9.2 1.3.3 1.9.2-15 .3 15.6.2-1.4.3-17.8.2 14.6.3.4.2-.1.3-26.6.2 26.8.3-36.8.2 39.1.3 1.4.2 1.2.2.8.3-1.7.2-2.2.3-3.6.2-2.3.3-2.8.2-2.5.3-2.6.2-.9.3-1.5.2-.6.3.8.2-17.4.3 19.6.2 3.3.3 1 .2 1.4.3-1.6.2-48 .3 44.6.2-.5.3-1.9.2 0 .3-9.3.2 11.8.3.8.2 2.9.3 2.6.2-8.5.3 13.9.2 1.4.3-1.4.2-2.3.3-19.8.2 13.6.3-2.5.2-1.3.3-2.7.2-1.5.2-1.5.3.8.2.3.3 1.4.2-.1.3-9.2.2 7.3.3.6.2-.1.3.4.2-1.2.3-13 .2 4.6.3 8.3.2-.2.3 2.4.2.7.3-19 .2 17.8.3.9.2-.8.3 1.8.2-3.9.3 5.8.2-.2.3 2.4.2 2.4.3 4.3.2 1.5.3-19.9.2 21.9.3-.8.2-1.7.3-.8.2-3.1.3-3.8.2-3.8.3-2.6.2-2.9.3-1.5.2-.2.2.6.3-.3.2 1.3.3 1.9.2 3.2.3-13.2.2 19.1.3-12.2.2 17 .3.3.2-34.2.3-.2.2 25.8.3 10.5.2.3.3-3.3.2-1.7.3-2.1.2-.1.3-1.3.2 2.2.3-.1.2 2.2.3.8.2 2.8.3-16.5.2 19.1.3.4.2.9.3-1.4.2 1.7.3-1.3.2-39.2.3 38.9.2 1.8.3 1.1.2 2 .3 1.3.2 1.7 0 35.2-.2-1.7-.3-1.3-.2-2-.3 13.8-.2-16.7-.3.4-.2-.1-.3 24.9-.2-25.3-.3 1.4-.2-.9-.3-.4-.2-2-.3-.6-.2 32.5-.3-36.1-.2-2.2-.3.1-.2-2.2-.3 1.3-.2.1-.3 2.1-.2 1.7-.3 3.3-.2 15.9-.3 6.1-.2-22-.3.4-.2-2.6-.3-.3-.2-2-.3-2.8-.2 11.3-.3-17.2-.2-3.2-.3-1.9-.2-1.3-.3.3-.2 24-.2-24.4-.3 1.5-.2 2.9-.3 2.6-.2 3.8-.3 3.8-.2 3.1-.3.8-.2 1.7-.3.8-.2-.2-.3-1.8-.2-1.5-.3-4.3-.2-2.4-.3-2.4-.2.2-.3-1.9-.2 0-.3 25.5-.2-26.5-.3 1.9-.2 15.6-.3-17.2-.2-.7-.3-2.4-.2.2-.3-1.3-.2 1.1-.3.3-.2 1.2-.3-.4-.2.1-.3-.6-.2 19.2-.3-17.3-.2.1-.3-1.4-.2-.3-.3-.8-.2 1.5-.2 23.2-.3-19-.2 1.3-.3 2.5-.2 1.9-.3 4.3-.2 2.3-.3 1.4-.2-1.4-.3 1.3-.2-6.5-.3-2.8-.2-2.9-.3-.8-.2-1.1-.3-1.4-.2 0-.3 1.9-.2.5-.3 5.2-.2-1.8-.3 1.6-.2-1.4-.3-1-.2-2.1-.3-1.3-.2-2.1-.3-.8-.2.6-.3 1.5-.2 4.7-.3 15.7-.2-14.4-.3 2.8-.2 2.3-.3 3.6-.2 2.2-.3 1.7-.2 23.6-.2-25.6-.3 2.9-.2-2.9-.3-3.7-.2.3-.3-.5-.2.1-.3-.4-.2 2.1-.3 46.8-.2-44.3-.3-.4-.2-.2-.3-1.9-.2 21.6-.3-24.3-.2.1-.3 16.7-.2-17.6-.3-.6-.2 5.7-.3-6.1-.2.5-.3-1.6-.2 32.5-.3-26.1-.2-11.5-.3-3.8-.2-3-.3-3.6-.2-.4-.3-1-.2.5-.3-1.1-.2.8-.3.2-.2 1-.3.4-.2 2.4-.3-1-.2-.1-.2-1.2-.3-.4-.2-.1-.3 1.4-.2.7-.3 2.6-.2.6-.3 2.7-.2 1.3-.3 2-.2.4-.3-.1-.2-.8-.3 30.5-.2-33.3-.3-.7-.2-1.5-.3-1.7-.2.2-.3 1.9-.2.8-.3 1.3-.2 1.6-.3 1.3-.2 18.4-.3-19.1-.2.1-.3-1.1-.2-1.4-.3-1-.2 17.6-.3-15-.2-8.4-.3.2-.2.4-.3 3.3-.2 2.5-.3 2.6-.2 4.4-.2 5.2-.3 3-.2 2.5-.3 1.4-.2 35.6-.3-37.4-.2-1.1-.3 15.9-.2-20.5-.3-5-.2-3.4-.3-3.7-.2-1.5-.3-2.9-.2 0-.3-.3-.2.4-.3.8-.2 4.4-.3 2.2-.2 4.1-.3 2.5-.2 2.7-.3 2.3-.2 2.9-.3.4-.2 1.6-.3-.3-.2-.8-.3-3.1-.2.9-.3-.6-.2-.1-.3-1.7-.2.5-.3-2.2-.2-.4-.3.7-.2 3.6-.3 0-.2 2-.2 1.9-.3 4.8-.2-11.8-.3 0-.2-1.5-.3-.1-.2-.7-.3-.7-.2 9.3-.3-11.4-.2-1.3-.3 1-.2-.8-.3.4-.2-.8-.3-.8-.2-2.1-.3-1.5-.2-2.5-.3-.7-.2-2.9-.3-2.7-.2-2.5-.3-.9-.2-2.4-.3 1-.2 1.6-.3 3.5-.2 2.4-.3 4.7-.2 3.3-.3 38.7-.2-34-.3 3.4-.2.4-.3 1.1-.2-.5-.3 28.4-.2-28.8-.2.9-.3.3-.2 2.8-.3 1.1-.2 1.8-.3 1.4-.2 1.5-.3-1.3-.2 10.8-.3-12.1-.2-.1-.3 42.8-.2-44.4-.3-1-.2-2-.3-3.7-.2-1.2-.3-3.8-.2-1.1-.3-1.2-.2.3-.3.4-.2 1.2-.3 2.1-.2 4-.3 3.6-.2 4.9-.3 2.9-.2.9-.3-.8-.2-.8-.3-1.6-.2-1.1-.3-1.4-.2.2-.3-.5-.2-.6-.3.2-.2 0-.3-.8-.2-.7-.2-1.6-.3-.7-.2-1.1-.3-.1-.2.3-.3.3-.2.3-.3 25.9-.2-22.9-.3 1.2-.2 1.7-.3 1.5-.2-.7-.3 13.2-.2-12.3-.3-.1-.2-1.3-.3.8-.2.6-.3.4-.2.7-.3 2.5-.2-.6-.3 0-.2-.6-.3-.8-.2-3.3-.3-2.7-.2-1.6-.3-1.6-.2-2.8-.3 4.8-.2-4.7-.3-.1-.2.1-.3 2.5-.2-.9-.3-.3-.2-1.3-.2-.5-.3-2.8-.2-.7-.3 9.9-.2-10.8-.3-1.5-.2 3.4-.3.9-.2 1.8-.3.6-.2 2-.3-.9-.2 3-.3.8-.2 22-.3-24-.2 40.6-.3-43.9-.2-.3-.3-1.3-.2 2.6-.3-2.4-.2-.7-.3-1-.2 4.2-.3-2.9-.2 2.1-.3 1-.2 2.2-.3-2.4-.2 1.2-.3-.1-.2 1.1-.3-.6-.2 2-.3-1.1-.2-.1-.3-2.6-.2 0-.3-3-.2.2-.2-.3-.3 30-.2-25.2-.3 2.7-.2 1.4-.3 2.9-.2 4.4-.3-3.2-.2 24.2-.3-25.9-.2-1.8-.3-2.8-.2-3.1-.3-1.8-.2 7.7-.3-11.4-.2.4-.3 86-.2-83.6-.3.8-.2.4-.3 15.2-.2-13.7-.3 1.6-.2 1-.3 1.4-.2.4-.3 50-.2-53.7-.3-.6-.2-.2-.3.7-.2.5-.3 3.3-.2 16.7-.3-11.4-.2-6-.3 4.6-.2-5.7-.2 21.9-.3-24.9-.2-1.1-.3-2.7-.2.2-.3.3-.2 1.2-.3.7-.2 2.3-.3-.7-.2-.1-.3 52.4-.2-32.5-.3-22-.2-1-.3-.5-.2 1.5-.3-.6-.2 2.9-.3 3.7-.2 2.8-.3-1-.2 33-.3-28.9-.2.2-.3-.7-.2 2.9-.3-.4-.2 1-.3 42.8-.2-37.4-.3.2-.2 4.6-.3 41.7-.2-41.9-.3 36.2-.2-39.1-.3-3.5-.2-2.7-.3-3.7-.2 21.2-.2-23.5-.3.1-.2.1-.3.3-.2-.3-.3 1.8-.2-.3-.3.1-.2-.6-.3-.4-.2-1.7-.3-.7-.2-.5-.3.4-.2-1.8-.3-.9-.2-.6-.3.2-.2 22.8-.3-21-.2.4-.3 1.1-.2-.3-.3.9-.2.6-.3 2.4-.2-.5-.3 37.8-.2-40.6-.3-.2-.2-2.2-.3.8-.2 1.4-.3 2.4-.2-.9-.3 1.4-.2.3-.3 1.6-.2.9-.2 3.6-.3.7-.2.7-.3-.7-.2 1.1-.3-.8-.2.4-.3 0-.2-1.2-.3-2.7-.2-2.4-.3-3.6-.2-2.6-.3-3.3-.2 20.2-.3-23.8-.2-1.5-.3-.8-.2-.3-.3-.6-.2 0-.3 1.3-.2 5.8-.3-3.8-.2 1.9-.3 1.4-.2.9-.3 1.6-.2 2.6-.3.6-.2 16.1-.3 5.8-.2-19.3-.3.4-.2 35.7-.3-32.2-.2.1-.3-.2-.2 2.9-.3-3.1-.2 0-.2-.9-.3-1.4-.2-2.7-.3-1.2-.2-.5-.3 1-.2-.7-.3 2.4-.2.6-.3.5-.2.1-.3 2.6-.2-3.8-.3.3-.2-.6-.3-.6-.2 12.8-.3-17.7-.2-2.2-.3-.1-.2 0-.3 2.1-.2 13-.3-12.9-.2-1.1-.3 4.2-.2-3-.3 1.2-.2-1.3-.3-.3-.2-2.8-.3-1.8-.2-4-.3 26.3-.2-34.4-.3-3.4-.2-4.1-.3-1.9-.2-2.3-.2 2.1-.3.6-.2 3.4-.3 4.5-.2 6.3-.3.9-.2 17.4-.3-13-.2 1-.3-1.6-.2.3-.3-1.6-.2-1.6-.3-2.2-.2 9.9-.3-1.9-.2-3.5-.3.5-.2.8-.3.3-.2.5-.3-.2-.2.3-.3-.9-.2-1.9-.3-2.3-.2-.6-.3-.1-.2.2-.3 17-.2-13.7-.3 2-.2 2.8-.3 2.3-.2 3.7-.3.7-.2 1.1-.3-1-.2 40.7-.3-44.2-.2-1.7-.2-3.8-.3-.7-.2 18.3-.3-22.1-.2-1.6-.3 1.1-.2 1.1-.3 2.5-.2 2.6-.3 4.4-.2 33-.3-30.7-.2 6.8-.3-4.9-.2-2.9-.3 14.1-.2-17.8-.3-1.9-.2-1.9-.3-.5-.2.3-.3.6-.2 1.1-.3 2.7-.2-.8-.3 0-.2.1-.3-5.4-.2-3.3-.3-2.4-.2-3.3-.3-2.2-.2-2.8-.3 2.2-.2-.6-.3 2-.2 1.4-.3 2.3-.2.4-.2 2.1-.3.6-.2 2.8-.3-1.3-.2.2-.3-1.6-.2-1.5-.3 21.1-.2-24.6-.3-2.3-.2-.9-.3-.5-.2 1.4-.3.1-.2 1.7-.3 2.1-.2 2.4-.3.1-.2 2.1-.3 12.2-.2-13.3-.3-1.9-.2-.9-.3-1.7-.2-1.6-.3 2.1-.2-3.6-.3-.4-.2.1-.3.2-.2 1.5-.3 1.5-.2 17.3-.3-13-.2 3-.3 1.1-.2-.1-.3-1.4-.2-.6-.3-2.6-.2-1.5-.2 26.8-.3 4.5-.2-1.7-.3-21.3-.2-16.1-.3 1.7-.2.5-.3 3.6-.2.4-.3 1.4-.2-1.2-.3 6.2-.2-8.1-.3 1-.2-.6-.3.3-.2-1.3-.3 1.3-.2-.9-.3 1.7-.2 1-.3 1.6-.2 1.7-.3 3.1-.2 1.4-.3 1.8-.2 1.1-.3.9-.2.2-.3 2.3-.2 1.6-.3.4-.2-.3-.3 2.4-.2-2.1-.3-.5-.2 1.1-.3 7.1-.2-10.6-.2-.7-.3-2.1-.2-1.3-.3-7.4-.2-.6-.3-2.1-.2-2.2-.3.2-.2 2.7-.3 45.5-.2-44.4-.3 1.7-.2 1.7-.3-.9-.2-.8-.3-1.8-.2-1.6-.3-2.8-.2.2-.3.7-.2.3-.3.6-.2 2.1-.3.3-.2 2-.3 1.2-.2.5-.3-2.6-.2-.2-.3-.6-.2.1-.3-.8-.2 2.2-.3 0-.2 4.1-.3-1.5-.2 3-.3 17.8-.2-18.3-.3-.3-.2.1-.2 9.5-.3-6.8-.2 1.8-.3.1-.2 3.1-.3-3.5-.2-.2-.3-1.2-.2 21.8-.3-21.5-.2-1-.3 54.6-.2-55.1-.3.3-.2-.2-.3 2.7-.2-.8-.3-.5-.2-.7-.3-.3-.2-2.6-.3-2-.2-1.6-.3-.5-.2-1.6-.3.3-.2 0-.3.7-.2 48.2-.3-46-.2 19.6-.3-14.1-.2 3.2-.3 4.4-.2 40-.3-34.8-.2 1.3-.3 6-.2-2.2-.2 1.3-.3-.1-.2-.8-.3-2.5-.2-1.3-.3-.7-.2 1.7-.3 1.1-.2 2.6-.3 1.3-.2.4-.3-1-.2 8.6-.3-8.3-.2.6-.3-1.4-.2-1-.3 38.2-.2-42.4-.3-1.5-.2 1.2-.3.5-.2 1.7-.3 0-.2 1.5-.3.1-.2 1.2-.3.6-.2.2-.3-2.1-.2-1.1-.3-3-.2-2-.3-2.3-.2-.1-.3-1.4-.2-1.3-.3-.1-.2 1.9-.3 1.3-.2 27.2-.2-23.1-.3 15.2-.2-15-.3-.5-.2.8-.3 18.9-.2-14.9-.3 1.7-.2 30-.3-27.4-.2-.6-.3.5-.2.4-.3-.8-.2-2.2-.3-1.4-.2-3-.3-2.1-.2-2.8-.3-2.1-.2-2.3-.3-.9-.2 5.2-.3-8.7-.2-1.3-.3-1.1-.2-1-.3.7-.2 12.7-.3-13.2-.2 0-.3 1.1-.2-1.2-.3-.2-.2-.5-.3-1.6-.2 16.3-.3-14.8-.2 2-.2 1.9-.3 1.5-.2.7-.3 18.6-.2-17-.3 1.9-.2 3.2-.3 1.5-.2.7-.3-.2-.2 1.5-.3-1-.2 1.6-.3 1.4-.2.2-.3 36.9-.2-41.8-.3-2.5-.2-1.1-.3-2.8-.2 13.3-.3-15.6-.2-.7-.3-2.3-.2 52.4-.3-51.8-.2 1.5-.3 17.4-.2-16.8-.3-1.1-.2-.5-.3-2.4-.2-.2-.3-.5-.2.9-.3-.5-.2.3-.3-.1-.2 1.3-.3-1-.2 1.7-.2.6-.3.1-.2-1.3-.3 20.5-.2-23.3-.3-.8-.2-1.8-.3.2-.2-.3-.3-.1-.2.7-.3 2-.2 1.7-.3 3.2-.2 1.8-.3 2.3-.2.1-.3-1.3-.2-1.6-.3-1-.2-2-.3.2-.2-1.7-.3-.4-.2.7-.3 4.3-.2 22.1-.3-14.8-.2 2-.3 4.9-.2 21-.3-26.8-.2-.4-.3.2-.2-3.2-.3-1.5-.2-2.6-.3-1.1-.2-2-.2 2-.3 2.4-.2 2.5-.3-.5-.2 3.2-.3 1.4-.2 2.1-.3-.1-.2 2.5-.3 19.3-.2 2.3-.3-20.8-.2-7-.3-3.7-.2-.5-.3.5-.2 1.9-.3 0-.2.3-.3.2-.2 3.8-.3-3-.2 1.1-.3.3-.2-1.7-.3-2.5-.2-1.3-.3-2-.2-1.3-.3-1.6-.2-.8-.3-2-.2 48.7-.3-49.6-.2 18.6-.3-17.4-.2 1.3-.3.2-.2 6.1-.3 9.4-.2-16.3-.2-1.2-.3 4.7-.2-8.6-.3.8-.2-1-.3-.3-.2-.3-.3 2.1-.2.8-.3 1.3-.2 1.6-.3 22.6-.2-20.6-.3 1.4-.2 3.1-.3 2.4-.2 9.7-.3-4.8-.2 9.1-.3-8.2-.2.3-.3 37.9-.2-37.8-.3 21.3-.2-23.3-.3-.5-.2-2.6-.3.3-.2-.9-.3-.7-.2 0-.3 48.8-.2-46.6-.3 1.4-.2.3-.3 34.8-.2-37.7-.3-.2-.2-3.6-.2-2.7-.3-4-.2-2.8-.3-5.1-.2-3.1-.3-3.4-.2-.1-.3.4-.2 2.1-.3 1.7-.2 13.1-.3 3.2-.2 4.8-.3-8.5-.2 5.5-.3 4-.2 2.9-.3 1.5-.2 12.2-.3 44-.2-53-.3.2-.2 82.7-.3-84.3-.2-2.3-.3-3-.2-2.2-.3-2.9-.2-2-.3-.2-.2.7-.3.2-.2.3-.3.8-.2 1.4-.3.1-.2.9-.3 1-.2-.4-.3-1.7-.2-1-.2-2.1-.3-3.3-.2-4.3-.3-2-.2-2.9-.3 4.2-.2-5.5-.3 1.8-.2 44.8-.3-42.1-.2 2.1-.3 5.8-.2-.2-.3 53-.2-43.9-.3-3.6-.2-1.5-.3-.2-.2-1.9-.3-.5-.2-1.5-.3.9-.2.2-.3.1-.2 49.8-.3-46.4-.2 1-.3.7-.2-.3-.3.3-.2-2.3-.3-2.2-.2-2.4-.3 10.2-.2-3.5-.3-12.7-.2 0-.3 1.2-.2.6-.2 3.8-.3 2-.2 1.6-.3 18.1-.2-14.8-.3.1-.2 1.5-.3 1.5-.2 1.1-.3-1.3-.2.5-.3-.9-.2 33-.3-32.1-.2 1.3-.3-2.1-.2-1.4-.3-1.6-.2-.2-.3-.8-.2 3-.3.3-.2-.7-.3-1.3-.2 1.1-.3-2.3-.2-.4-.3-1.8-.2 23-.3-20.1-.2-10.5-.3-.4-.2.8-.3 0-.2 2.2-.3.7-.2 2.1-.3 1.1-.2 2.1-.3.4-.2 16.1-.2-16.8-.3 1.5-.2.5-.3 2.2-.2 2.4-.3 2.9-.2 1.6-.3 2.1-.2 1.5-.3.8-.2 4.8-.3-8.5-.2-2.9-.3-2.7-.2-4.2-.3-2.4-.2-3-.3-2.1-.2-3.5-.3 2.2-.2-1.2-.3.7-.2.2-.3 8.4-.2-6.1-.3 2.1-.2 4.3-.3.1-.2-1.8-.3.9-.2-2.2-.3-.7-.2-1.4-.3-.8-.2-1.3-.3 1.9-.2 1.6-.3 2.3-.2 2.6-.2 9.6-.3-1.7-.2 2.6-.3 18.3-.2-13.7-.3-.2-.2.4-.3-1.2-.2 1.5-.3-2.7-.2.7-.3-.5-.2 1.1-.3-1.1-.2 2.7-.3-5-.2.7-.3-.7-.2.1-.3 35.4-.2-34.9-.3-1.7-.2.1-.3.3-.2.3-.3-.8-.2 0-.3-1.3-.2-.3-.3-1.9-.2-1.3-.3-1.7-.2-1.3-.3-1.6-.2 1.4-.3.6-.2 2.1-.3 1.5-.2 7.7-.3-3.8-.2 15.7-.2-11.3-.3 2.4-.2.3-.3 1.2-.2.1-.3-.5-.2 9.2-.3-12.7-.2-3.7-.3-3.6-.2-4.4-.3-3.8-.2-3.8-.3-1.6-.2-1.8-.3 1.7-.2 2.6-.3 5.6-.2 29.8-.3-16.8-.2 6-.3 4.7-.2 2.2-.3 6.3-.2-5.3-.3-2.3-.2-3.1-.3-3.2-.2-4.5-.3 21.9-.2-28.9-.3-1.4-.2-1.9-.3-.4-.2.4-.3 2.1-.2.6-.3 1.3-.2.9-.2 2.4-.3.8-.2 2.8-.3 3-.2 3.1-.3.3-.2.9-.3.1-.2.5-.3-.4-.2.4-.3.3-.2.8-.3-.1-.2.9-.3.9-.2 1-.3-.1-.2.9-.3.4-.2-.5-.3-1.6-.2-.4-.3-.8-.2-1.1-.3-2.1-.2-1.2-.3-1.3-.2-4.4-.3-2.1-.2-.8-.3-3.3-.2-2.4-.3-2.5-.2-1.5-.3.2-.2.1-.3 54.7-.2-55.9-.3-1.1-.2 2-.2.9-.3 2.8-.2 2.1-.3 1.9-.2-1.2-.3 1-.2 56.3-.3-55.2-.2-2.2-.3-.9-.2-3.1-.3-1.7-.2-1.1-.3 1.9-.2-.3-.3.7-.2-1.1-.3 0-.2-1.8-.3 4.4-.2-5.9-.3.1-.2-1.2-.3.1-.2-.2-.3-.4-.2-1.1-.3 1.5-.2.4-.3-.4-.2.3-.3 19.8-.2-16.7-.3.5-.2 10.3-.3-3.8-.2-.5-.3 1.8-.2-3-.2-1.3-.3-2.9-.2-1.9-.3-1.6-.2.4-.3 14.4-.2-16.4-.3 1-.2 2.8-.3 35.2-.2-30.5-.3 1.9-.2.8-.3-.3-.2 1.7-.3-.6-.2-2.6-.3-2.2-.2-4.4-.3-4.2-.2-2-.3-.1-.2-.7-.3-.7-.2.8-.3.4-.2-.3-.3 1.5-.2 1.2-.3-1.2-.2-.3-.3.7-.2 25.6-.3-25.4-.2 1.9-.3 1.4-.2 1.4-.3.6-.2 1.3-.3 0-.2-.3-.2-1-.3.6-.2-.2-.3.5-.2-2.1-.3-.9-.2-2-.3-1.4-.2-2.4-.3-.6-.2 35.5-.3-39.4-.2-1.1-.3 1.8-.2 1-.3 1.7-.2 2.5-.3 2.4-.2 1.2-.3 2.3-.2 1.9-.3 5-.2-8.2-.3-.8-.2-1.7-.3-1.6-.2.1-.3 2.2-.2-1.1-.3.1-.2.7-.3 9.5-.2-7.2-.3 1.1-.2.3-.3.8-.2-1.7-.3.9-.2.6-.2 2.2-.3.1-.2 1.5-.3.9-.2 1.7-.3-1.9-.2-.8-.3-1.9-.2-2.1-.3-3.7-.2-.5-.3-1.1-.2 16.1-.3-13.7-.2 3.6-.3 3.1-.2 4.2-.3 2-.2 2.9-.3 2.1-.2 1.6-.3-1.2-.2-.1-.3 51.1-.2-54.9-.3-3.1-.2-1.3-.3-2.6-.2-2.6-.3-2.6-.2-2.1-.3 24.9-.2-29.3-.3-.7-.2 1.4-.3.9-.2 9.2-.3-5.1-.2 1.8-.3.5-.2 1.4-.2 0-.3 44.9-.2-46-.3 8.2-.2-9-.3.6-.2 70.6-.3-66-.2 3.1-.3 3.7-.2 1.9-.3 1.8-.2 22.3-.3-18.4-.2-6.6-.3-.7-.2-2.6-.3-2.3-.2-2.7-.3-.7-.2-1.6-.3 50-.2-50.9-.3.1-.2-1.8-.3 0-.2-1.3-.3 25.3-.2-25.4-.3.7-.2-1-.3 1-.2 0-.3-.5-.2-1.1-.3-.8-.2-1.4-.3-.3-.2-1.3-.2.7-.3 1.5-.2 2.3-.3 2.4-.2 3.5-.3 2.5-.2 1.8-.3-.5-.2.5-.3-2.2-.2-.9-.3-.6-.2 1.3-.3-.1-.2 23.2-.3-20.9-.2 1.7-.3.8-.2 18.4-.3-15.3-.2 1.1-.3-2.7-.2-3-.3-4.1-.2-1-.3-2.7-.2-.5-.3-1.3-.2.5-.3-.7-.2 2.4-.3 25.1-.2-21.5-.3-.1-.2 1.2-.3-2.2-.2 1-.3-1.7-.2-1.9-.3-3.8-.2-1-.2-2.9-.3-1.6-.2-.7-.3 1.5-.2-.9-.3-.2-.2 1.4-.3 2.1-.2.4-.3 2.6-.2 2-.3.9-.2-.5-.3.5-.2 1.5-.3-.3-.2.2-.3 15.5-.2-13.6-.3 1.6-.2 1.4-.3 1.6-.2.7-.3.5-.2 2-.3 1.8-.2 1-.3.5-.2-.5-.3 0-.2-.6-.3.1-.2-.4-.3-.5-.2-1.9-.3.9-.2.9-.3 1.4-.2.8-.2 1.9-.3.2-.2 17.7-.3-15.5-.2 2.2-.3 42.1-.2-43.5-.3-3.1-.2-1.5-.3-.8-.2-.4-.3 0-.2 0-.3-1.1-.2-4.3-.3-1.9-.2.2-.3-.1-.2 1.1-.3 3.3-.2-2.3-.3.7-.2 2.4-.3 2.1-.2 1.7-.3-.1-.2-2.3-.3-3.3-.2-3.1-.3-3.2-.2-2.5-.3-2.4-.2-2.3-.3-3-.2-.8-.3.1-.2.2-.3 1-.2 37.5-.3-35.5-.2.5-.2.5-.3 12.6-.2-11.5-.3 2.2-.2 1.9-.3 1.3-.2.1-.3.5-.2-1.2-.3-1.7-.2-1.1-.3-.2-.2-2.3-.3-2.1-.2-2.6-.3-2.6-.2-2.7-.3 1.3-.2 2.3-.3 4.4-.2 3.7-.3 3.8-.2 75.5-.3-66.7-.2.6-.3 1.8-.2-.9-.3-1.3-.2-3.2-.3-3.1-.2 22.1-.3-26.9-.2-2.3-.3 9.1-.2-14.8-.3-1.3-.2 19.5-.3-22.2-.2-1.6-.2-1.5-.3-1.6-.2-1.5-.3-2.2-.2-2.3-.3 13.1-.2-19.4-.3-3-.2 14-.3-24.3-.2-4.4-.3-4.6-.2-4.6-.3-4.9-.2-4.8-.3-4.3-.2-3.7-.3-3.2-.2-3.7-.3-3.6-.2-3.3-.3-3.2-.2-3.1-.3-3.1-.2-3.2-.3-3.3-.2-3.7-.3-3.7-.2-3.8-.3-3.6-.2-1.2-.3-4.9-.2-2.6-.3-2.7-.2-2.7-.3-2.4-.2.2-.3.2-.2-1.7-.3-4-.2 2.9-.2-4.6-.3-5.9-.2-2.7-.3-1.8-.2-4.9-.3 18.9-.2-25.3-.3.4-.2 8.4-.3-11.3-.2-.5-.3.2-.2-.6-.3 19.4-.2-22.5-.3-2.2-.2-1.5-.3-1.7-.2.1-.3 1.2-.2-.1-.3-.9-.2-.3-.3.7-.2.8-.3 11.9-.2-11.4-.3.6-.2-.5-.3.5-.2.3-.3.6-.2-1.2-.3-.5-.2-2.8-.3 15.5-.2-20.5-.3-1.5-.2-2.3-.2 6.1-.3 19.7-.2-26.4-.3-3.5-.2 7.6-.3 6.7-.2-21.4-.3-1.7-.2.7-.3-.2-.2-.2-.3-1.4-.2 8.8-.3 7.3-.2-7.2-.3 2.4-.2 1.5-.3-1.9-.2-2.4-.3-.9-.2 3.2-.3 2.7-.2 2.2-.3-.6-.2 4.6-.3-6.2-.2.7-.3 33.9-.2-28.9-.3-.5-.2 1.3-.3-.2-.2.2-.3.5-.2 1.7-.3.8-.2-.6-.3-.7-.2 0-.3 20.8-.2-20.8-.2 59-.3-53.7-.2.6-.3.8-.2.2-.3.5-.2-3.3-.3-1.1-.2-3.1-.3-3.6-.2-5.3-.3-2.8-.2-4-.3-3.1-.2-3.8-.3.6-.2-.7-.3.3-.2 1.6-.3 2.7-.2 12.2-.3-7-.2 3.9-.3 3-.2 13.7-.3-12-.2-.6-.3-1.4-.2-2.2-.3-.5-.2-3.6-.3 56.3-.2-64.1-.3-1.4-.2-3.8-.3-.3-.2 1-.3 2.9-.2.9-.2 5.1-.3 4.8-.2 4.5-.3 28.5-.2-17-.3 1.4-.2 1.3-.3-1.6-.2-.4-.3.5-.2-3.5-.3.9-.2 22-.3-18.8-.2 2.5-.3 1-.2 3-.3 3.5-.2 33.8-.3-30.7-.2-.5-.3-2.5-.2-3.7-.3-4-.2-.2-.3-1.8-.2-1.4-.3.9-.2 9.1-.3-4.5-.2 4.2-.3 4.4-.2 3.8-.3 1-.2 0-.3-2.5-.2-3.2-.3-4.2-.2-2.6-.3-2.9-.2-.7-.2-.6-.3-.1-.2.7-.3 4.1-.2-.5-.3 1.6-.2 0-.3.1-.2-1.7-.3-.4-.2-1-.3 1-.2-.9-.3 2.5-.2.5-.3 1.3-.2.1-.3.4-.2-2.7-.3 2.8-.2.6-.3 2.6-.2 12.2-.3-6.9-.2.3-.3.2-.2 28.6-.3-10.3-.2-21-.3-1-.2-2.3-.3-2.5-.2-6-.3-1.8-.2-1.7-.3 2-.2.7-.3 3.7-.2.6-.2 1.4-.3-1.4-.2 6.3-.3 3.1-.2-11.8-.3-2.3-.2-1.2-.3-3.7-.2-1.7-.3 11.4-.2-14.2-.3-.8-.2.4-.3 2.9-.2-.8-.3 1.3-.2 1.4-.3.3-.2-.1-.3 1.3-.2-.9-.3-1.4-.2 0-.3-1.3-.2 2.9-.3-4.3-.2 1.4-.3 9.1-.2-5.3-.3 2.6-.2 3.4-.3 13.5-.2-9.2-.3.4-.2-.8-.3-2.1-.2-1.4-.3-3.1-.2-2-.3-2.4-.2-3.5-.2 26.7-.3-29.7-.2-.2-.3.7-.2-.8-.3 1-.2 19.7-.3-19.7-.2.4-.3 1-.2-1.4-.3 36.1-.2-37.2-.3 3.1-.2 3-.3 4.7-.2 3.5-.3 3.2-.2 13.8-.3-9.7-.2 2.3-.3-4.4-.2-1.5-.3-1.9-.2-1.5-.3-1.2-.2-1.9-.3 31.9-.2-28.4-.3 1.8-.2.4-.3-.2-.2-1.3-.3-.9-.2-3.5-.3 0-.2-2.1-.3-1.5-.2-.9-.2.8-.3-.1-.2 2-.3 2.3-.2 2.7-.3 28.1-.2-25.5-.3 2.4-.2 21.3-.3-30.4-.2-4.4-.3 8.9-.2-19.6-.3-4.3-.2 10.6-.3-14.7-.2.7-.3.5-.2 2.1-.3 2.6-.2 3.7-.3.8-.2 3-.3.3-.2.7-.3-.3-.2.1-.3-.9-.2 14.2-.3-13.8-.2.1-.3-1.9-.2-1.9-.3-3.9-.2-2.5-.3 12.7-.2-15.9-.3-1.4-.2-.1-.3 56-.2-54.1-.2 1.5-.3 3.4-.2 2-.3 3.7-.2 2.6-.3 2.2-.2 2-.3 2.3-.2 1.2-.3 2.4-.2 2.8-.3 22.5-.2-18.5-.3 2-.2 1.4-.3.2-.2-.7-.3 1.8-.2 1-.3 1.4-.2-4-.3 21.3-.2-30.1-.3-2.9-.2 11.7-.3-15.8-.2 2-.3 1.4-.2 20-.3-15.4-.2 12.6-.3-2.3-.2 3.4-.3 5.5-.2 1.8-.3.2-.2-1.6-.3-1.1-.2-1.2-.2.2-.3-1.6-.2-.8-.3-2.1-.2-1.8-.3-2.9-.2-.6-.3 7.7-.2-11.7-.3-2.7-.2-1.2-.3-2.4-.2-1.4-.3-1.6-.2.2-.3 34.8-.2-31.6-.3 2.6-.2 4.3-.3 3.8-.2 3-.3.1-.2 1.3-.3 3-.2-4.3-.3 37.5-.2-41.5-.3-5-.2-5.4-.3-4-.2.1-.3-.9-.2 1.5-.3 1.2-.2 3.2-.3.8-.2 3-.3 2.5-.2 2.4-.3 1.2-.2 17.1-.2-13.9-.3 1.3-.2-.1-.3-.6-.2-1.4-.3 0-.2 0-.3 1.3-.2-.6-.3.8-.2-.1-.3 24.1-.2-22.8-.3 0-.2-2.1-.3 8.8-.2-14.8-.3-1.1-.2-2.6-.3-.3-.2-3.4-.3-.5-.2-.9-.3 9.7-.2-8.8-.3 1.7-.2-1.1-.3-1-.2-3.2-.3-1.7-.2-1-.3 34.6-.2-34.4-.3 2-.2.8-.3.6-.2 1-.3 1.5-.2 1.6Z" fill="#f9b8b8" fill-opacity="0.8"/>
<path d="M831.4 723.1l.2-2.9.3-4.7.2 4.4.3-8.3.2-.1.3-2.3.2 12.4.3-3.9.2-2.1.3-7.1.2 3.5.3-4.6.2 5.2.3-10.8.2 2.7.3-3.1.2 10.3.3-1.5.2-5.5.3 5.7.2 5.9.3.5.2-5 .3-7 .2 10 .3-12.5.2-3.8.3-3.7.2 10.4.3-3.3.2-.1.3 1.5.2 10.5.3-5.9.2-1.9.3 2 .2 2.3.3-8.3.2-4.1.2 4.3.3 7.2.2-5.8.3.4.2 2.7.3 14.2.2-12.4.3-.5.2-4.2.3 12.3.2-12.4.3 3.2.2-5 .3 4.8.2-2.6.3-.5.2 8.2.3 3.7.2.4.3 10.7.2-1.9.3 10.2.2-12.7.3 9 .2.3.3-.9.2-5.2.3-7.2.2-5.7.3-.5.2-4.4.3-4.6.2-6.3.3 17.3.2 2.4.3 8.5.2-9 .3 9.1.2-.2.3.8.2 5 .2-8.2.3 1.4.2 2.9.3-12.3.2 2.1.3-8.2.2 12 .3-5.9.2 7.8.3 3.3.2 1.2.3-8.1.2 9.5.3-2 .2 1.2.3-6 .2-.8.3-7.4.2 3.8.3-9.8.2.7.3-8.4.2 10.4.3-3.4.2 1.5.3-.5.2-4.1.3-5.1.2 6.3.3-1.3.2 2.6.3-6.8.2 15.2.3 0 .2-1.4.3-.2.2 3.2.3 2.5.2-1 .2 1.7.3 1.9.2-6.9.3 6.3.2-2.2.3 2.4.2-7.9.3 5.6.2-.8.3-2.2.2-4.9.3 2.8.2-7.3.3 7 .2-5.7.3 7 .2-3 .3 9.2.2 4.6.3 7.6.2-2.6.3 7.2.2-10.3.3-9.9.2-6.7.3-5.5.2-3.9.3 4.4.2 2.8.3 13.2.2-1.7.3 2.7.2-2.3.3 6.5.2-11.9.3 3.8.2-2.6.3 7.4.2-1.1.3 2.6.2-9.8.2 4 .3-7.8.2-8.9.3-6.6.2 5.6.3 7.9.2 3.9.3-7.4.2 15.2.3-10.7.2 11.7.3-9.2.2 4.3.3-.7.2-3.5.3-2.2.2 14.1.3-3.6.2 4.9.3-7.6.2 14.4.3-5.6.2-6.5.3-1.3.2 4.1.3-5.5.2 1.1.3-2.8.2 5.2.3-7.9.2 7.1.3 3.4.2-5.4.3-4.9.2 2.8.3-3.5.2 4.1.3-11.2.2 8.1.2-4.6.3 6 .2 2.4.3 1.1.2-6 .3 13.1.2-6.4.3 4 .2-5.7.3 1.2.2 1.7.3-6.5.2 2.7.3 2.4.2-5.2.3 2.1.2-1.9.3 2 .2-17.9.3 1.6.2-8 .3 12.5.2-10.2.3 4.3.2 5 .3 9.8.2-2.8.3 2.4.2.2.3 3.7.2-5.2.3 5.3.2-1.9.3-1.9.2-.1.3 4.2.2-.3.3-.9.2 2.8.3 1.3.2-10.4.2-2 .3 3.1.2 4.1.3-9.3.2 3.7.3-.6.2-1.8.3-17.4.2 7.1.3-6 .2 2.5.3-6.8.2 5.7.3-4.3.2 10.6.3-6.4.2 11.2.3 4.3.2 6.2.3-3.9.2-4.8.3.7.2-3.1.3-7.9.2 5 .3-1 .2 4.3.3-.5.2 9.1.3-.8.2 4 .3-.7.2-.7.3-5.9.2-.2.3-10.8.2 3.5.3.4.2 10.9.2-9 .3 1.8.2-.5.3 2.1.2-7.1.3 1.6.2 4.1.3 8.3.2-5.8.3 2.1.2-.6.3-3.5.2-6.7.3 1.1.2-6.6.3 12.4.2-7.1.3 7.5.2-9.9.3 8.7.2-6.7.3 4.9.2-1.7.3 2.5.2-1.4.3-2.6.2 1.4.3 2.8.2-1.7.3 7 .2-3 .3 6.1.2-9.6.3-1.3.2 1.1.3 13.7.2 1.2.3 13 .2-1.2.3 6.4.2-11.9.2-6.5.3-1.3.2-2.2.3-6.8.2-.2.3-5.7.2 6.3.3-3.4.2 7.4.3-1.5.2.2.3-.1.2 1.4.3-3.1.2-2.6.3-2.9.2 7 .3-5.4.2-3.2.3-2.9.2 6.9.3-11.4.2 13.1.3-1.5.2 10.1.3-10.4.2 8.3.3-.4.2-.6.3-9.3.2 7.6.3-4.7.2-4.9.3.1.2-3.4.3-.8.2 2.9.3-5.1.2 5.7.2-8.4.3 5.4.2 1.9.3-1.9.2-4.3.3 7.8.2 1.2.3 6.2.2-7.3.3 7.3.2-2.1.3 3.6.2-6.3.3-.1.2-1 .3 2.5.2-4.5.3-1 .2-1.5.3 6.9.2-7.5.3 8.3.2-2.3.3 4.8.2-1.3.3 7.3.2-3.7.3 3.7.2-6.5.3 2.9.2-4.2.3 2.2.2-8.8.3 4.3.2-3.5.3 6 .2-3.3.3 5.7.2-2.8.3.9.2-4.5.2 1.4.3-5.3.2 2.1.3.6.2 11.8.3-2.2.2 4.5.3 2.7.2 12.2.3-3.3.2 1 .3-2.3.2 4.8.3-12.4.2-6.1.3.8.2 3.1.3-9.5.2 2.9.3.2.2 7.6.3-7.9.2 9.1.3 5.7.2 8.8.3-8.9.2 7.5.3-1.7.2 3.3.3-9.8.2 3.3.3 9.2.2 10 .3-1.4.2 3.9.3 2.9.2-1.8.3-14.1.2-6.9.2 9.2.3-6.6.2-7.8.3 0 .2-1 .3 5.2.2-2.3.3-.3.2-1.5.3-7.5.2 6.7.3-2.7.2 5.5.3-8.5.2-3.6.3-.6.2-6.1.3.7.2-8.2.3-2.2.2-2.9.3-4.1.2-.7.3-4.7.2-1.8.3-6.1.2-7.1.3 1 .2 5.2.3 5.2.2 2.7.3-12.7.2 6.7.3 9.2.2-5 .3 4.5.2-3.9.3 6.9.2-12.7.3-.6.2 1.8.2 14.8.3-6.9.2 3.6.3-5.9.2 17 .3-17.7.2-9.2.3-1.9.2.2.3-6.5.2-2.2.3 1.4.2 11 .3-11 .2 13.7.3-1.1.2 4.4.3-.8.2 8.5.3 3.7.2-4.9.3-4.4.2 9.1.3-1.2.2-2.5.3-6.2.2 9.5.3.8.2 5.2.3-4.5.2 2.5.3-2.1.2 8.8.3-8.7.2 3.9.3-18.1.2 8.5.3-4 .2-.3.2 0 .3 3.3.2 5.1.3 0 .2-9.4.3-1 .2-9.3.3 11.4.2-13 .3 18.1.2 3.6.3 1.6.2 2.8.3-.8.2-4.3.3-10.5.2-.8.3-1.5.2-14.6.3 4.7.2 7.3.3 16.6.2 2.2.3 10.6.2 2.2.3-.3.2-15.6.3-7.5.2 2.4.3 6.1.2-2 .3 5.5.2 11.4.3 12.3.2-22.8.3.4.2 12.5.3 8.5.2 4.2.3 16.3.2-1.5.2 8.6.3-14 .2 3.5.3-6.4.2 1.9.3-1.6.2 4.1.3 1.2.2 7.2.3-14.4.2 2 .3-3.9.2 5.4.3-2.4.2.6.3 4.8.2-1.3.3-2.8.2-5.1.3-16.4.2 6.1.3-10.3.2-3.4.3-3.8.2 12.6.3-.6.2-2.3.3 9.6.2 18.6.3-.5.2-6.4.3-3.1.2 6.9.3-5.7.2-3.8.3 0 .2 13.8.3-7.6.2 9.1.2-10.6.3 3.6.2-10.5.3-1.7.2 4.7.3.2.2-1.4.3-4.1.2 4.3.3 2.4.2-3.5.3 6.5.2-5.5.3 15.2.2-15.1.3 0 .2-11.5.3 1.1.2-6.6.3-5.2.2 1.9.3 8.7.2-2.4.3 13.9.2 2.5.3 4.6.2-2.2.3-6.3.2-4.7.3.9.2-9.9.3 6 .2-5.1.3 10.6.2 2.4.3-1.3.2.9.3 10.5.2-5.2.3 2.3.2-4.3.2 2.5.3-4.1.2-12.3.3 1.5.2-.8.3-12 .2-.5.3-2.4.2 8.6.3-12.6.2 12.7.3 5.3.2 15.9.3-8.1.2 1.2.3 5.5.2-8.3.3-10.3.2 7.1.3-4.7.2 6.8.3-7.8.2 5.4.3-.1.2 1.1.3-6.1.2-5 .3-.3.2 6.4.3-.7.2-11.4.3-1.8.2 13.8.3-3.9.2-1.9.3-12.4.2 13.3.3 0 .2 6 .2 1.8.3 10.4.2-1.6.3 5.7.2-4.8.3-6.9.2.2.3 7.7.2 3.8.3 1 .2-2.3.3 3.8.2-2.9.3 1.3.2-7 .3 13.4.2 2.6.3 3.6.2-2.9.3 3.4.2-11.3.3.3.2-5.4.3 5.4.2-5.6.3 7.3.2-1.8.3 9.4.2-2.3.3 1.5.2-2.4.3 11.4.2-7.3.3 1.9.2-3.7.3.8.2-11.7.3 6 .2.5.3 2 .2-3.9.2 4.6.3-16.4.2-.8.3-8.2.2 3 .3-1.4.2-5 .3 8.3.2 2.4.3-5.5.2-.3.3-6.7.2 23.3.3.1.2 11.6.3 1.1.2 2.2.3-10.5.2-14.1.3-14.9.2-5.1.3-6.1.2 11.1.3-4.4.2 17.1.3-2.4.2 2.6.3-2.5.2 2 .3-4.5.2-2.4.3 6.7.2 6.8.3-4.2.2 14.9.3 1.6.2 15.1.3-7.8.2 4.3.2-8.7.3-6.1.2-9.3.3-6 .2-15.5.3 3.3.2 2.5.3 10 .2-7 .3 2.9.2 11.5.3 2.1.2-10.6.3 4.7.2-16.3.3 10.2.2-4.4.3 2.8.2 6 .3.2.2 11.1.3.3.2-11.6.3 4.4.2-12.1.3 7.5.2-3.8.3 6.4.2 3.6.3 3.1.2-6.5.3.6.2-8 .3-3.4.2-1.3.3 1 .2-.9.3-2.2.2-1.9.3 13.3.2-12.7.2 4.7.3 3 .2 14.5.3-6.8.2-3.6.3-4.5.2 6.6.3-11.4.2 11.8.3-2.3.2 1.8.3-1.2.2 7.2.3-2.8.2-1.5.3-8.6.2 8.7.3-5.2.2 1.5.3-.4.2 1.9.3 1.6.2-1.6.3 8.3.2-7.9.3-6.2.2 3.5.3-1.3.2 11.2.3-6.3.2 11.9.3 2.8.2.6.3-6.1.2-6.6.3-9.1.2 4.3.3-6.3.2.6.2 4.3.3-.4.2-4.3.3-.1.2-3.9.3 10.1.2-10.6.3 18.7.2-6.3.3 4.9.2-13.7.3 7.4.2 7.4.3-12.1.2 7.1.3 4.1.2 7.8.3-.9.2-11.7.3 9 .2-11.8.3-7.7.2-9.6.3 1 .2-7.1.3 12.2.2-8.7.3 8.6.2 0 .3 13.8.2-.2.3-1.2.2 9.5.3 5.7.2-4.4.3 2.7.2-3.3.3 7.3.2-10.9.3 8.8.2 5.4.2 5.3.3-5.4.2-1.8.3-6.1.2 4.3.3-2.9.2-4.3.3-2.6.2 7.5.3-3.3.2-2.1.3-11.3.2 7.1.3-3 .2.2.3.4.2 7.1.3-9.6.2 10.7.3-4.2.2 13.3.3-8.2.2 5 .3 1.8.2-9.9.3-2.1.2-1.4.3-6.6.2 4.5.3-.6.2 13.7.3-2.5.2 2.9.3-8.8.2 5 .3-11.8.2-2.5.3-2.5.2 8.1.2 4 .3 3.6.2 5.1.3-.2.2-5.7.3-3 .2-13.8.3-2.9.2-6.6.3 17.8.2-7.7.3 3.3.2 9.5.3 9.5.2-1.7.3-5.5.2 1.2.3 9.9.2-17.6.3 3.6.2-5.6.3 9.7.2-2.2.3-.9.2 5 .3-.3.2-9 .3 3.8.2-7.6.3-10.1.2-12.7.3 4 .2-1.2.3-1.3.2-11.2.3 15.6.2-.4.3 4.7.2-7.4.3 7.4.2-1.5.2-6.9.3-.6.2 5.6.3-6.6.2 10.8.3-1.5.2 2.4.3-3 .2-4.1.3 3 .2 1.9.3-6 .2 13.4.3-10.8.2 6.3.3-3.2.2-3.8.3.2.2 2.3.3-5.7.2 4.9.3-6.6.2 5.5.3-6.7.2 2 .3 8.9.2-.1.3-.9.2 3.7.3 6.5.2-1.1.3-15.4.2-7.2.3-14.5.2 6.1.3-3 .2 10.7.3 3.1.2 7 .2 16.3.3 2.2.2-5.9.3 10.3.2-2.5.3 12.5.2-12.4.3-3 .2-8.5.3-2.6.2-7.7.3 2.3.2-4.5.3 10 .2-2.9.3-3.5.2 6.2.3-3.9.2 1.9.3 2.6.2.9.3 9.8.2-10.9.3 8.7.2-3.3.3.9.2-7 .3 1.8.2-4.6.3-6.2.2-7.2.3 11.9.2-3.1.3 4.3.2-4 .3 6.5.2-3.9.3 2.8.2-3.8.3 6.5.2 2.4.2-.3.3-3.3.2.3.3-5.1.2 8.9.3 4.3.2 12.4.3-1.7.2 2 .3-7.2.2 2.7.3-7.5.2-5.9.3-12.8.2 12.3.3-11.5.2 7.7.3-6.1.2 14.5.3 6.5.2 2.9.3 7.3.2 3.4.3-16.1.2-2.2.3-1.2.2 2 .3-3.6.2-7 .3 14 .2 5.2.3-10.2.2 1.8.3-1.4.2 17.4.3-10.3.2 4.5.3 4.4.2 11.4.2-6.2.3-5.2.2 1.6.3-4.9.2-6.3.3 5.3.2 5.2.3 3.5.2-5.7.3-.5.2-1.1.3-3.7.2-9.7.3 3.2.2-7 .3 12.1.2-5 .3 4.5.2-4.5.3-6.7.2 8.4.3-3.6.2-8.3.3 11.2.2-8 .3 16.2.2-8.8.3 1.5.2-4.5.3-9.4.2-3.8.3 5.6.2-11.8.3 6.9.2-6.5.3 1 .2-2.9.3-3.7.2-10.7.3-2.1.2 3.4.2 9.2.3-2.5.2 16.7.3-2.1.2 2.3.3-8.5.2-2.3.3-14.1.2 2.5.3-2.8.2 12.1.3 1.2.2 13.2.3 5.2.2 3.4.3-9.6.2-6.9.3-4.6.2 3.4.3-2.2.2 1 .3-6.6.2 14.3.3 1.3.2 1.1.3-10.2.2 7.3.3 8.8.2 8.3.3-11.4.2 13.2.3-6.5.2 5.7.3-10.5.2-3.1.3-1.5.2-1.9.3-14.5.2 5.9.2 8.3.3 12.3.2-5.7.3 15.5.2 4.6.3-3.3.2-10.8.3 1.7.2-6.2.3-4.3.2.7.3 9.3.2-6 .3 3.9.2-2 .3-3.8.2-10.2.3 3.5.2-.7.3 1.2.2-5.1.3 8.3.2 5 .3 7.6.2-1.9.3 9.8.2-3.2.3 10.5.2-5.1.3-6.2.2-4.2.3 2 .2-1 .3 4.7.2-12.7.3 6.9.2-7.4.3-.8.2-5.9.3 3.9.2 3.4.2 5.7.3-1.1.2 3.8.3-7.8.2 7.3.3-5.3.2 1.8.3 1.3.2-3.6.3-6.2.2 11.1.3 1.8.2 4.6.3-6.6.2 14.8.3 6.5.2-6.6.3-4.9.2-9.2.3-10.1.2 1.4.3-13.7.2 9.3.3-6.6.2 11.5.3 5.2.2 8.9.3-2.9.2-5.1.3-.1.2 6.2.3-19.7.2 2.9.3-.6.2 12.2.3-9.4.2.1.3.1.2-2.1.2-13.7.3.5.2-.4.3 9.8.2-.4.3-.8.2-12.7.3 12.8.2-5.7.3 7 .2-2.7.3 6.8.2 4 .3-2.6.2.1.3 6.9.2 2.7.3 5.8.2-9.3.3 13.9.2-15.7.3-2.7.2-14.9.3-1.3.2-4.9.3 6.1.2 13.5.3 2.2.2-1.7.3 2.7.2-3.3.3-.7.2-11.3.3 10.4.2-4.5.3 2.5.2-6.2.3 6.5.2-8.2.3-7.6.2 2.1.2 2.1.3-4 .2.9.3-3.4.2 13.3.3-11.3.2 15.3.3 1.6.2 4.4.3-2.1.2-8 .3-6.4.2 2.1.3-6.5.2 2.5.3-2.6.2 9.9.3.3.2 16 .3-4.5.2 1.8.3-11 .2 8.3.3-4.6.2-2 .3-1.2.2 10.9.3 5.8.2.6.3-1.2.2 1.2.3-2.4.2-2.7.3-8.3.2 1.8.3-9 .2-1.8.3-3.7.2-.1.2-8.8.3-2.7.2-.6.3 11.7.2-.4.3 9.3.2 4.1.3 2.5.2-7.3.3 3.7.2-3.6.3 4.8.2 4 .3 11.8.2-3.5.3 8.6.2-3.5.3-2.9.2-21.9.3 10.7.2 1.6.3-11.2.2-9.7.3-.1.2-2.8.3 9.2.2-12.2.3 14.4.2-2 .3 11.9.2 2.5.3.3.2 1.1.3 1.4.2 4.3.3 3.1.2-10.1.3 2.9.2-7.2.3 1.2.2.1.2 2.3.3-2.6.2-5.6.3.2.2 5.4.3-11.7.2 4.6.3-3.2.2 21.3.3-16.6.2 5.8.3-3.3.2 5.6.3 3.4.2-4.3.3 6.3.2 4.1.3-12.7.2 5.7.3-8.7.2 8.4.3-2.9.2-2.7.3 4.1.2 2.6.3-4.5.2 5.9.3-7.4.2 13.3.3-2 .2 13.1.3 1.4.2 1.3.3-2.4.2 3.8.3-13.2.2-3.7.3-3.4.2 1 .2-2.5.3-10.1.2-1.9.3 1.6.2-8.3.3.6.2 3.7.3 8.1.2-3.2.3 7.2.2-3.6.3 7.9.2-6.5.3 7.7.2 4 .3-2.7.2-2.1.3 4.2.2-8.8.3 3.8.2 2.8.3 7.3.2-4.9.3 1.8.2 1.5.3-4 .2-11.8.3.9.2-4.3.3.6.2-3.7.3 12.2.2-1.8.3 7.7.2.2.3 4.7.2-4.8.3 3.2.2-9.8.3-2.1.2-6.1.2 6.2.3-3 .2 1.6.3 4.9.2 1.1.3-2.2.2 1.1.3-3.4.2 3.6.3-13.1.2 14.4.3-4.7.2-3.9.3-4.6.2 1.1.3 3.9.2-7.6.3-12 .2 19.7.3-4.9.2 8.5.3-12.1.2 4.4.3.9.2-4.3.3-3.9.2 5.4.3-.2.2 10.5.3-8.5.2 3.2.3-1.2.2 2.6.3-9 .2 2 .3-3.3.2 3.9.3-5 .2 4.8.2 9.9.3 10.3.2 5.2.3 2.5.2-6.2.3 3.6.2-16 .3-13.6.2-12.6.3 2.1.2-14.5.3-1.4.2-1.1.3 16.1.2-2.1.3 5.6.2 14.9.3 4.2.2-3.9.3 2.8.2-11.4.3.7.2-9.2.3 11 .2-.5.3-6.5.2 3.2.3 13.9.2 2.1.3-6 .2-9.7.3 9.9.2-7.7.3 6 .2-15.3.3 11.3.2.5.3 6.6.2.2.3-5.9.2 3.4.2 7.7.3-14.7.2 5.9.3-5.6.2 13.5.3 1.2.2-4.4.3 5.9.2 1.4.3-10.9.2-3.9.3-.8.2 18.1.3-3.1.2 14.7.3 5.7.2 3.7.3-6.1.2-7.4.3-3.1.2-3.8.3-7.2.2 12.6.3-3 .2 12.8.3-5.1.2 9.4.3-7.1.2-6.4.3 5.5.2-4.4.3-6.8.2.5.3 2.2.2.2.3-3.3.2 11.4.3-.1.2 1.1.2-6.8.3 9.5.2-10.4.3 3.8.2-10.9.3 3.5.2.5.3 4.2.2-6.4.3 5.1.2 1.3.3 3.5.2-10.9.3 3.5.2-4.9.3 1 .2-6.3.3 6.8.2-7.9.3 4.1.2-7.1.3 12.9.2-9 .3-.7.2 1.8.3 12.4.2-2.3.3 6.7.2-2.4.3 5.7.2-.4.3-4.4.2-8.2.3 4.3.2-8.3.3 8.4.2-6.6.3-.2.2-.7.3-.4.2 2.6.2 4.2.3 2.8.2 6.2.3-1.5.2 13.7.3-10.9.2 1.1.3-6.8.2 8.1.3-12.3.2-.8.3-7.9.2 3.1.3-.8.2 2.1.3 10.4.2 16.8.3-11.8.2 12.2.3-10.2.2 4.9.3-19.4.2 2.7.3.6.2-.6.3-5 .2 11.8.3 5.6.2-6.6.3-5.3.2 2.9.3-1.4.2-4.8.3-.6.2-2.8.3-.2.2-4.5.3-1.1.2-4.1.2-3.8.3 17.6.2-12.2.3 7.5.2-.8.3 12.4.2-8.4.3 4.2.2 4.3.3-.5.2-5.6.3 6 .2-5.3.3 9.3.2-15.5.3 8.3.2-11.9.3-3 .2-10.8.3 1.7.2-11.2.3 7.4.2.7.3 10.5.2 8.1.3-1.3.2 10.7.3-3.8.2 1.5.3 5 .2-8.5.3-1.5.2-1.9.3-.6.2-5.3.3-4.1.2-3 .3 3.7.2 1 .3 13 .2-5.6.2 3.1.3-18.1.2 9.8.3-9.7.2 5.2.3-.6.2 3.3.3.9.2 13.6.3-10.2.2 2.7.3-14.3.2 4.3.3-.9.2 2.9.3 4.8.2 4.6.3 3.1.2 9 .3-1.8.2 2.5.3 1.7.2-8.3.3-5.6.2-1.2.3 3.4.2-2.3.3-11.3.2 7.9.3-4.5.2 13 .3-12.5.2 10.9.3-11.6.2 8.6.3-1.3.2-2.5.3 2.6.2 14 .2-.5.3-7.3.2-.8.3-.6.2-13.8.3-7 .2 5 .3 10 .2-.2.3 1.8.2 2.2.3 2.5.2-15.9.3 1.2.2-8.9.3 13.3.2-8.7.3 2.1.2 5.7.3 2.6.2-6.6.3.8.2 8.3.3 17.5.2-6.4.3 2.4.2 4.2.3 2.2.2-3.3.3-3.6.2 6.2.3 2.5.2-4.1.3 2.8.2-11.7.3.6.2-12.6.3 3.6.2-3.1.3 14.1.2-5 .2-6.5.3-2.7.2-1.3.3-7.7.2-2.3.3 11.3.2 15.9.3 1.8.2 9.8.3-6.9.2 11.1.3-4.4.2 6.8.3-11.8.2-2.6.3 2.8.2-4.2.3-17.6.2-2 .3-5.9.2 11.7.3-10.5.2 8.4.3 1.6.2 3.2.3-6.7.2 2.2.3-.3.2-7.9.3 0 .2 13.3.3 5.9.2 1.4.3 2.8.2 2.6.3-5.2.2-5.2.3-2.9.2 2.9.2-4.2.3 2.5.2-4.6.3-2.6.2-5.5.3 5.4.2-4.5.3 7.8.2-10.7.3 1.6.2-9.2.3 10.8.2-7.2.3 5.9.2-1.6.3 12.5.2 3.7.3-6 .2-5.2.3 5.8.2-10.6.3 4.3.2-8.3.3 2.6.2-.6.3-3 .2 4.1.3 4.7.2-1.6.3 8.4.2 1.2.3 2.4.2-10.7.3 4.2.2-4.1.3 6.7.2-5.6.3 10 .2-4.1.3 3.9.2-6.4.2-1.3.3-7.1.2 9.2.3 1.8.2-1.4.3 4.3.2 4.6.3.7.2.4.3-5.1.2-3.5.3-5.9.2 4.1.3-5.2.2 1.3.3 2.7.2 7.2.3-10.4.2-3.7.3-3.1.2 3.5.3-4.5.2 9.6.3 3.5.2 11.9.3-7.1.2 2.6.3-4.4.2 1.2.3-7.9.2 3.9.3 5.7.2 9 .3 6.2.2 5.7.3 3.9.2-1.6.3-7.2.2 3.1.2-9.8.3 2.3.2-3.2.3 10.7.2-12.7.3 3.1.2-2.2.3 3.4.2-11 .3-2.8.2 7.8.3-2.7.2 4.1.3 6.4.2.2.3 5.4.2-9.9.3 9 .2-11.8.3-.3.2-2 .3 1.2.2-8 .3 2.9.2-3.2.3 3.8.2-8.5.3 15.9.2-2.7.3.2.2-6.5.3 2.6.2 2.8.3-5.4.2 3.4.3 8.2.2 8.9.3 3 .2-8.5.3 9.5.2-14.9.2 3 .3-14.3.2 5.1.3-18.1.2 11.3.3 12.8.2 2.7.3 0 .2 5.3.3-8.4.2-1 .3-15.8.2-1.7.3-4.3.2-.6.3 1.5.2 13.8.3-8.9.2 9.4.3-13.8.2 5.2.3.5.2 6 .3-2 .2-.6.3 9 .2.5.3-12.5.2-2 .3-11.6.2 18.8.3-5 .2 2.2.3 3.6.2 2.1.3 2.7.2-10.1.3.5.2 2.3.2-9.9.3 7.3.2-5.1.3 20 .2-12.6.3 12.7.2 4.8.3 9.7.2-15.9.3 4.4.2 2.9.3-5.9.2 0 .3 4 .2-9.7.3-1.9.2-5.6.3 12.7.2-11.3.3 12.8.2-.7.3 11.6.2-10.8.3-.3.2-3.1.3-4 .2.5.3.1.2 5.5.3 1.3.2-8 .3 8.5.2-7.9.3 2.1.2-4.9.3 4.9.2-6 .3 5.1.2-3.6.3 2.6.2-5.2.2 4.2.3-6.4.2-2.7.3-1.6.2 5.3.3-8.1.2 5.7.3-4.6.2 5.5.3-7.3.2 4.2.3-.4.2 5 .3 5.6.2 9.1.3-7.7.2-4.6.3-17.9.2 9.5.3 1.9.2 5.7.3 2.3.2 10.1.3 4.8.2-3.9.3-6.5.2-2.2.3 1.8.2 1.3.3.5.2 10.3.3-1.9.2 5.7.3-5.6.2 12.9.3-5.9.2-8.1.3-9.3.2 3.2.2-3.3.3-1.6.2-8 .3 5.5.2-5.5.3 2.9.2-3.2.3-5.4.2 1.1.3 7.4.2 7.2.3 2.8.2-9.7.3 7.4.2-6.2.3 6.1.2-11.3.3 1.1.2-8 .3 15.1.2-4.3.3 8.9.2.3.3-.5.2 2.3.3-5.6.2 2.8.3-4.2.2-12.8.3 9.2.2.8.3 4.6.2-9.8.3 11 .2 6 .3-.1.2-3.1.3 10.2.2-6.4.3-5 .2-8.7.2 6.5.3 0 .2-5.9.3 2.4.2 7.8.3-8.5.2 5.9.3-5.5.2 7 .3 3.3.2-3.5.3-3.7.2.3.3.8.2-3.6.3-10.3.2 4.7.3 3.5.2-.7.3-2.5.2 9.4.3-1.3.2 8.5.3-4.9.2 7.7.3-11.4.2-4.2.3-12.6.2 4.9.3 1.1.2-7 .3-3.6.2 8 .3 7.3.2-1.4.3-6.8.2 5.8.3 4 .2-4.4.2-13.2.3 13.9.2-8.3.3 12 .2-5.3.3 13.2.2 1.2.3-8.6.2-.2.3-5 .2.7.3.4.2-7.8.3 9.7.2-6.9.3 12.1.2-5.1.3-4.6.2 9.2.3-4.2.2 5.1.3-1.2.2-13.9.3 12 .2 1.8.3 6 .2-9.5.3 6.2.2-2.9.3-2.5.2-7.9.3 1.5.2 1.8.3 4 .2-4.2.3 14.5.2-12.6.3 2.1.2-10 .3 2 .2-7.1.2-2.3.3 4.2.2-3.8.3 1.1.2-5.9.3 5.8.2 5.3.3-6.3.2 13.6.3-9 .2 1 .3.4.2 8 .3-8 .2 4.3.3 5 .2 6.5.3-11.5.2 5.8.3.8.2-.4.3-6.3.2 4.4.3-6.4.2 4.3.3-5.8.2.2.3-2 .2 11.8.3-.6.2-5 .3 3.4.2 5.7.3-3.9.2-5.5.3-3.6.2 7.8.3-3.5.2 10.4" fill="none" stroke="#000" stroke-width="2.4" stroke-linejoin="round"/>
<path d="M831.4 718.6l.2 2.3.3-12.8.2-4.2.3-3.5.2 3.1.3 1.8.2 4.4.3 3.5.2-1.2.3-9.7.2 9 .3-12.3.2 10.8.3 8.2.2 16.6.3-16.2.2 5.1.3-26.9.2 8.1.3-4.2.2 6.5.3 7.5.2 34 .3-10.8.2 3.6.3-7.2.2 5.3.3-23.6.2 3 .3-11.7.2 12.9.3 11.2.2 7.5.3-4.1.2 4.2.3-10.7.2-12.7.3 3.4.2 1 .2 5.6.3 7.1.2-5.7.3 2.7.2-14.7.3 2.4.2-23.1.3 2.3.2-3.2.3 24.9.2-14.6.3 12.9.2-.8.3 7.1.2-6.3.3 14.2.2 13.8.3-5.8.2-9.7.3 0 .2-4.7.3-4.7.2-9.2.3 5.5.2-11.9.3 6.2.2-10.2.3 5.5.2.3.3 12.7.2-.7.3 7.6.2 2.8.3-2.4.2-5 .3 3.3.2-5.2.3 9.4.2-4 .3 19.1.2-1.7.2 5.3.3-13.4.2 1.5.3-13.3.2 8.2.3 8.1.2.8.3 2.3.2-15.6.3-27.8.2-9.7.3 0 .2 2.5.3 11.5.2 22.6.3 1.7.2-2.8.3-2.1.2 2.3.3 5.3.2 3.7.3-8.1.2-1.6.3 4.1.2-9.8.3-9.5.2 19.6.3-6 .2-4.4.3-2.2.2-1.7.3-14.5.2 2.5.3-4.8.2.8.3 9.7.2-3.7.3-5.8.2-6.1.2-11.7.3 1.8.2-11 .3 12 .2 10.4.3 1.6.2 9.4.3 7 .2-16.9.3 11.3.2-1 .3.8.2-4.8.3 9.5.2-16.6.3 20.9.2-16.8.3 5.3.2 1.6.3 2.1.2-6.7.3-2.1.2-15 .3 3.8.2-5.8.3-6.3.2 8.9.3 16.7.2.1.3 17.9.2-1 .3 4.2.2 14.1.3-7.6.2-13 .3 7.1.2-3.1.3-15.7.2-2.5.3 10.6.2-13.9.2 17.3.3-4.9.2 6 .3-.9.2 11.9.3-9.9.2 2.8.3-9.2.2 18.6.3-5.6.2-2.2.3-3.8.2-6.3.3-.8.2-8 .3.6.2 24.1.3 12.8.2-2.3.3.7.2-7.6.3-27.3.2 2.6.3-7.4.2 2.2.3-1.7.2 8.5.3-12.1.2 15.8.3-8.7.2 8.3.3-2 .2 2.1.3-19.5.2 4 .3 5.2.2 1.6.3.6.2 6.7.2-4.8.3 5.9.2.3.3 7.5.2 8.3.3-4.5.2-1.6.3 9.4.2-7.7.3 1.4.2-6.3.3-9.4.2-8 .3 6 .2-14.7.3 6.2.2 12.5.3-1.6.2 2.1.3 6.7.2 3.6.3-9 .2-5.3.3-2.7.2 1.7.3-7.6.2 11.7.3-2 .2-2.4.3 3.7.2-1.6.3-15.3.2 8.6.3 11.6.2-5.9.3 20.1.2-3.3.3 15.1.2-17.9.3 6.9.2-22.8.2 14 .3-14.9.2 15.9.3-5.3.2 3.7.3-13.7.2 10.4.3-5.7.2 11.1.3 14.8.2 23.1.3-15.7.2-8 .3-7.1.2 4.5.3-31.3.2 19.7.3-1.1.2 12.6.3-12 .2 13.2.3-21.8.2 10.6.3-14.4.2 17.4.3-8.4.2 1.6.3 2.6.2-5.6.3-4.1.2 7.7.3-5.8.2 3.7.3 12.3.2 2.4.3-14 .2 3.4.3-20 .2-.3.2-3.3.3 9.8.2 10 .3 18 .2 2.8.3 5.6.2 0 .3-4.6.2-9.5.3-11.2.2-12.9.3 6.5.2-10.8.3-2.5.2 6.8.3 19.9.2-9.5.3 5.6.2 9.6.3-9.5.2-7.5.3 23.1.2-5.6.3-2.8.2.5.3-11.7.2-25.4.3 7.6.2-6.3.3 12.3.2 9.2.3 7.7.2-13.7.3 11.8.2-7.6.3 10.8.2-20.9.3 5.1.2-14.1.3-10 .2-18.3.2 14.3.3.2.2-10.4.3 9.1.2 15.6.3-12.5.2 2.9.3 2.2.2 12.7.3-7 .2 13.4.3 7.3.2-2 .3-12.7.2 3.2.3-4.5.2-4.8.3-3 .2-2.3.3-8.6.2-.3.3-4.8.2 15.9.3-11.3.2 4.5.3 7.6.2 5.4.3-14 .2 31.4.3-7.3.2 4.2.3 4.4.2 11.6.3-11 .2 3.4.3-12.4.2 5.4.3-3 .2-4.3.2-1.5.3 6.7.2-10.9.3-4.2.2 13.8.3 8.6.2-4.8.3 2.3.2-4.3.3-14.2.2-1.6.3-.2.2-1.4.3 17.1.2-4.8.3 12.4.2-30.7.3 5.6.2-2.7.3 12.5.2-.9.3-3 .2-8.3.3-9.2.2 7.2.3 7.6.2 18.3.3-7.3.2-17.7.3-9.6.2-13.9.3-8.3.2 9.5.3 34 .2-3.2.3 17.9.2-14.7.3 3 .2-13.4.3 1.4.2-7 .2 13.7.3-4.3.2 18.1.3-.1.2 10.1.3-5.8.2 5.9.3-16.9.2 4.5.3-7.4.2 2.1.3 2.2.2 2.5.3 8.8.2 3.2.3-5.1.2-9.8.3-1.4.2-10.2.3 4 .2 10 .3 8.8.2 1.9.3-8.9.2 4.6.3 6.3.2-2.9.3-4.3.2 5.4.3-3.8.2 7.5.3-5.7.2-2.9.3 14 .2 5.1.3-18.4.2 20.1.3 19.7.2 4.6.2-19.6.3 1.7.2 3.5.3 2.9.2 2.9.3.2.2.1.3 1.8.2 4.1.3 4.9.2 4 .3 3.1.2 2.8.3 4.5.2 4 .3 3 .2 3.7.3 3.4.2 4.8.3.3.2 2.1.3 2.2.2 4.3.3 4.9.2 4.7.3 5.3.2 4.6.3.2.2 5.3.3 7 .2 7.2.3 4.7.2 2.9.3 3.8.2 3.9.3 4.2.2 2.8.3 1.9.2-.6.3 2.3.2.2.2.7.3-1.3.2 3.9.3 3.5.2 3.9.3-1.6.2 1.4.3 1.6.2 15 .3-6.5.2 3.4.3-4.2.2 13.6.3 5.1.2-.6.3-15.9.2-1.5.3-24.3.2.7.3.5.2 3.2.3-2.1.2 7.1.3-7.1.2 2.9.3 7 .2 12.1.3.2.2 0 .3-1.8.2.5.3-11.8.2 1 .3 8.1.2 2.5.3-3.8.2 5 .3-11.4.2-7.4.2-2.1.3 5.5.2-3.6.3 10.7.2 2.3.3.1.2-11 .3-3 .2-.6.3-1.6.2 13.9.3 16.4.2 3.7.3 4.2.2 0 .3-4 .2-3.8.3.9.2-10.7.3-5.8.2-.4.3 1 .2 1.6.3 14.5.2 1.1.3-9.1.2-2.2.3.2.2-8.4.3 18.2.2 10.7.3-3 .2-7.5.3 1.2.2-9.4.3 9 .2 2.4.3 5.8.2 1.9.3 1.4.2-24.6.2 5.1.3-4.3.2 1.9.3-6.4.2 11.1.3 1.6.2 6.2.3 1.3.2.5.3-7.2.2-5.4.3-2.9.2.5.3 4.8.2 6.6.3-2.3.2-3.3.3-7.6.2-8.1.3 8.1.2-5.2.3-7.3.2 6.5.3 5 .2 6.5.3-9.8.2 2.9.3-4.7.2-6.6.3 2.8.2 1.3.3-5 .2-5.4.3.4.2 11.1.3-13.1.2 2.1.3 8.2.2 7.9.2-19.3.3 14.7.2 1.6.3 13 .2-5.9.3 11.6.2-13.8.3 4.8.2-15.1.3 6 .2-10.9.3 11.3.2-6.5.3-.9.2 3.6.3 14 .2-6 .3.9.2-.8.3 8.5.2-4.1.3 22.3.2-12.4.3 2.4.2-20.5.3-2.7.2-14.1.3 12.9.2 1.4.3 10.7.2 1.7.3 9.2.2-10.9.3-2.8.2.7.3-5 .2-8.2.3 9 .2-9.9.3-4.4.2-.2.2-.5.3-2.5.2 9 .3.9.2 10 .3.7.2 0 .3-10.9.2 3.5.3-6.7.2-5.7.3-1.5.2 19.9.3-5.7.2 7.9.3-.1.2-.6.3-6.9.2 8.3.3-22.2.2 11.5.3 3.8.2 12.8.3-.5.2 18.4.3-4.2.2-5 .3-8 .2-5.4.3-8.2.2-2.3.3-1.6.2-.3.3 1.3.2 1.8.3-7.7.2 10.9.3.7.2 1.9.2-4.4.3 6.4.2-11 .3 1.3.2-11.1.3.9.2-1.2.3 3.4.2-7.3.3 10.5.2 2.6.3 6.8.2 4.9.3 9.1.2-9.4.3 2.7.2 3.2.3-6.8.2-1.7.3 19.3.2-1 .3-1.3.2-4.5.3 1.3.2-23.3.3-.2.2-15.3.3 7.3.2-1.2.3 9.8.2-6 .3 21 .2-7.5.3 1.7.2-4.6.3 12.3.2-6.3.3-3.2.2-.9.3 5.4.2-12.3.2-.4.3-3.5.2 8.1.3-7.3.2 8.6.3-5.4.2 22.2.3-17.4.2-7.5.3-7.9.2 4.4.3-7.8.2 4.4.3 14.7.2 4.1.3-6.4.2 1.3.3 6.7.2-5.6.3-3.9.2 7.2.3-12.2.2-8.2.3.5.2 3.5.3-9.9.2 6.2.3 1.2.2 2.8.3-.4.2 14.8.3-2.5.2 2.7.3-9.1.2 5.4.3-2 .2 6.1.3-6.3.2 9.4.2-8.1.3 3.6.2-4.3.3 5.2.2-1 .3-4.5.2-5.8.3.3.2 1.4.3-7.3.2-1 .3 12.9.2 2.8.3-5.2.2 5.3.3 1.1.2-20.2.3-2.2.2 8.7.3-6.5.2 8.9.3 16.9.2-5.8.3-.7.2 19.3.3-.4.2-7.6.3 2.6.2-9.9.3-9.6.2-2.6.3 10.8.2-9 .3 8.4.2-9.4.3 2.2.2-6 .3 6.3.2-1.9.3 17.8.2-12.2.2 9.7.3 10.3.2.5.3-12.9.2-6.4.3-13.5.2-3 .3-.8.2 7.8.3 13.9.2 4.5.3-7.7.2 2.3.3-14.3.2-3.9.3-2.9.2 10.2.3 1.1.2 12.5.3 1.8.2 4.1.3-9.5.2-6.1.3-5.3.2 7.4.3-6.2.2 11.8.3-4.6.2 11.2.3-16 .2 18.3.3-1.9.2 8.2.3-13.1.2 6.3.3-15.2.2-.8.3 4.9.2 4.5.2-9.9.3-4.3.2 2.4.3 4.1.2-3.5.3 12.3.2-4.5.3 3.6.2-13.1.3 13.3.2-.6.3 10.7.2 3.8.3 3.8.2-10.2.3 7.8.2 5 .3-3.3.2-5.8.3 7.2.2 1.2.3 1.9.2-.7.3 1.3.2-2.1.3-3.2.2-8 .3 3.5.2-2.8.3 1.7.2 2 .3 8.6.2-6.3.3 1.5.2-4.4.3 0 .2-4.8.3 1.2.2-6.3.3 7.6.2-16.1.2-5.4.3 2.9.2 13.3.3-13.5.2 8.5.3-3.1.2 0 .3-4.9.2-1.1.3 1 .2 17 .3 8.9.2 7.2.3 4.6.2 7.5.3-11.2.2-6.7.3-7.2.2-8.6.3-14.8.2 9.1.3-14.8.2-7.9.3-3.7.2 3.4.3-5.5.2 19 .3.2.2 16.7.3 7.2.2 4.1.3-6.6.2 1 .3-3.5.2-4.8.3-4.9.2 12.4.3-.2.2 1.5.2-5.6.3 1.6.2-18 .3-1.7.2-4.9.3 2.7.2 1.1.3 10 .2-4.3.3 8.7.2-6.3.3 9.1.2-4.6.3-1.4.2-.2.3 5.5.2-3.7.3 4.7.2-2.7.3.4.2-1.2.3-3.5.2 0 .3 15.3.2-14.8.3 3.4.2 1.9.3 4.3.2-11.7.3 17.8.2-7.4.3 1 .2-5.1.3.6.2-7.4.3 19.1.2-7.2.3-.6.2 3.4.3-2.4.2-23.2.2-1 .3-4 .2-6.2.3-7.8.2 17.9.3 3.3.2 8.7.3-4.7.2 5.4.3-5.1.2.4.3-11.6.2 5.6.3-9.7.2 26.9.3-35.7.2 13.3.3-3.1.2 4.4.3-9 .2 13.2.3-6.8.2 7.1.3-2.7.2 15.2.3.5.2 5.1.3-1.1.2 7.2.3.1.2-5.6.3-6.5.2 6 .3-12.6.2-5.8.3-.6.2 3.4.3-5.1.2 5.1.2-3 .3 7.6.2-2.3.3 4.3.2-6.7.3-6.8.2-12.2.3 4 .2-3.4.3 9 .2-5.7.3 17.6.2-3.3.3 4.1.2 6.9.3 6.4.2-15.1.3-4.3.2-3.1.3 8.6.2-7.1.3 15.7.2-1.4.3-2.7.2-17.8.3 19.7.2-10.5.3 9.9.2 6.6.3-.5.2-14.4.3 3.4.2 1.5.3-7.7.2 7.5.3 5.5.2-12.2.3 3.3.2-.6.3-.8.2-18.9.2 15.8.3-13.4.2 3.2.3-10.5.2 15.8.3-.9.2 9.5.3 4.8.2 9.7.3-3.7.2-6.1.3 1.3.2-9.9.3-7.5.2 5.2.3-.4.2 1.9.3-.3.2 5.2.3 3.3.2.7.3-15.7.2 13.6.3-4.6.2 13 .3-13.4.2 12.2.3-13.4.2-7.9.3-13.8.2 3.7.3-15.8.2 16.4.3 8.9.2 8.6.3-2.7.2 3 .3 3.4.2.4.2-4.8.3 6.1.2 7 .3-2.5.2-.7.3 3.1.2-8.7.3-8.5.2.9.3 2.6.2-6.4.3 13.1.2 2.3.3-.5.2-.5.3-1.1.2 7.4.3 9.4.2-4.5.3 1.4.2 6.6.3-4.5.2-13.5.3-2.8.2.7.3-1.1.2-3.3.3 3.2.2-10.9.3-4.2.2-17.7.3 3.7.2-2.2.3 10.1.2-4.8.3 7 .2.4.3 4.1.2.5.3 11.3.2 1.6.2 15.7.3-10.7.2 5.8.3-4.1.2-1.9.3-6.5.2 12.1.3-8.7.2-4.7.3 6.3.2-1.2.3-8.4.2 13.4.3 3.3.2-3.5.3.5.2 17.8.3-24.1.2 9.5.3 2.6.2-9.1.3-8.4.2 11.8.3-1.3.2-6.1.3-13.4.2 8.9.3-6.8.2-3.5.3 6.5.2 7.8.3-14.1.2 6.3.3-3.2.2-8.8.3-3.7.2 15.8.3-4 .2 12.3.2-7.2.3 20.5.2-14.4.3.2.2-15.8.3 3.7.2-3.1.3 2.1.2 1.9.3 10.5.2-1.1.3 3.4.2 4.8.3-4.5.2-6.6.3 3.2.2.2.3 8.2.2 4.2.3 10 .2-4.6.3-12.4.2-12.4.3 4.1.2-5 .3 6.8.2 6.2.3 7.4.2-7 .3 7.4.2-2.7.3 15.9.2-25.2.3 18.1.2-1.3.3-7.4.2-19.3.3 15.6.2-13.3.3 4.3.2 0 .2 7.5.3-8.3.2-.3.3-4.9.2 17.6.3 7.3.2 0 .3-5.3.2 15.8.3-24.2.2-2.5.3-2.2.2 12.1.3-12.8.2 1.4.3-21.5.2 6.9.3 4.7.2 6.9.3 8.3.2 9.4.3-5.1.2 6.8.3-7.5.2-15.2.3 2.8.2-6.8.3-13.3.2 12 .3-2.1.2 7.7.3 5 .2 3.1.3-7.7.2 5.3.3-12.4.2 5.4.3 2.8.2 7 .2.9.3 7.1.2-9.5.3-11.5.2-5.2.3 4.1.2.1.3 8.3.2 3 .3 8.4.2-6.2.3 4 .2-15.2.3 14.9.2-12.5.3 4.9.2-11 .3 17.4.2-9.6.3 8.8.2-5.2.3 13.3.2-.3.3-1 .2-8.5.3 10 .2 2.6.3 2.8.2 4.1.3 3.5.2-15 .3-11.9.2-1.6.3 3.3.2 9.6.3 7 .2-5.2.3-3 .2-11.7.3-11.1.2 5.6.2 5.8.3-3.7.2 2.7.3 3.3.2-5.7.3-4.3.2 13.2.3-2.3.2-4.6.3 3.2.2 4.8.3-17.3.2 13 .3-4.3.2-2.2.3 2.9.2 13.8.3-3.8.2 4.4.3-1.2.2 3.4.3-4.4.2 7.7.3-3.8.2 8.7.3 8.3.2 4 .3-9.8.2 5.2.3-8.8.2-14.7.3 6.6.2 5.4.3-4.9.2 2.7.3 2.9.2-8.9.3-2.3.2 6.4.2-3.4.3 7.8.2-7.6.3-8 .2-13.6.3 17.5.2-13.4.3 15 .2 17.5.3-2.8.2-4 .3 13 .2-11.2.3-4.9.2.8.3-4.4.2-6.2.3 14.6.2-8.8.3 6.4.2.6.3 1.5.2-19.6.3 11.3.2-10.6.3 17.7.2 10.1.3 12 .2-13.7.3 3.5.2-16.1.3-7.4.2-4.9.3 7.5.2 5.9.3 1.5.2-.1.3.1.2-1.2.3 4.6.2-1.6.2 5.8.3-8 .2-.3.3-11 .2 4.1.3-18.5.2 12.9.3-8.6.2 2.3.3-12.9.2 3.6.3-2.9.2 1.5.3-3.1.2 12.7.3.9.2-2 .3-.6.2 4.6.3-6.1.2 6.5.3 5.1.2 2 .3-7.6.2 4.1.3-3.2.2-10.5.3-2.3.2 7.3.3 2.8.2 4.6.3 11.7.2-5.5.3-4.1.2-7.3.3-1.4.2-1.4.3-1.1.2 9.8.2-1.4.3-4 .2-9.8.3 13.3.2-5.2.3 2.7.2-6.5.3 7.9.2-23.9.3 10.5.2 2.5.3-1.6.2-6.3.3 22.1.2-5.9.3.5.2 4 .3-2.8.2-17.3.3-3.5.2-8 .3 7.5.2 6.7.3 8 .2 2.4.3.7.2 1.7.3 9.7.2-14.4.3-5.5.2-2.3.3 4 .2-7.6.3-2.3.2 7.9.3 10 .2-14 .3 7.9.2 15.8.3-2.8.2-9.3.2 32.2.3-14.6.2-6.6.3-2 .2 5.7.3-13.4.2.8.3 12.2.2 4.4.3-8.2.2 9.4.3-12.6.2-12.8.3-.4.2 6.1.3-6.4.2 10.3.3-2 .2-3.9.3-6.4.2 1 .3-12.8.2 5.1.3-.3.2 16.5.3-8.5.2 21.2.3-19.1.2 2.3.3-13 .2 10.6.3-7.7.2 8.5.3-6.8.2.4.3-7.2.2 8.6.3-8.8.2 13.3.2 3.2.3 13.5.2-3.6.3-1 .2-5 .3 3.8.2-10.5.3-1.3.2 2.3.3-7.8.2-4.1.3 2.3.2 2.5.3-.3.2 2.8.3 1.8.2-.3.3 7 .2-10.7.3 7.8.2 3 .3 4.2.2-7.3.3 11.7.2-3.8.3-13.4.2-10.8.3 8.2.2-13.8.3 6.1.2 8.1.3 6.4.2.7.3 12.8.2-9.6.3 1.9.2-10.9.3 14.3.2-10 .3 8.9.2-10.2.2 14.4.3-24.4.2 11.1.3-11.8.2 3.9.3-3 .2-1.3.3 3.1.2 13.9.3-11.9.2 21.4.3 5.4.2-1.5.3-4.1.2 4.6.3-4.6.2-2.2.3-7.1.2-4.6.3-10.4.2 20.8.3 1.8.2-.9.3 11.5.2 8.5.3-2.5.2-7.8.3-4.2.2-1.5.3-13.1.2.9.3 2.5.2 2.6.3-16.4.2 13.3.3-6.4.2 8.5.3-2.5.2 12.3.2-3.3.3 15.3.2-14.6.3 11.7.2-5.5.3 8.6.2-20.7.3 4.7.2-5.5.3-.3.2-12.4.3-.6.2 5.9.3 2.4.2-.6.3 3.7.2 5.3.3-2.1.2 3.4.3 4.1.2-5.5.3-2.2.2-8.9.3 3.4.2-1.5.3 6.7.2-7.2.3 6.8.2-9.9.3 4.6.2-8.2.3 25 .2-1.5.3-2 .2-10 .3 9.6.2-17 .3-10.6.2-14 .3 3.6.2-6.5.2 6.4.3 8 .2 15.4.3-4 .2 22.3.3-14.8.2 7.1.3-3.3.2 8.7.3-12.8.2 17.4.3-4.4.2 5.6.3-1 .2-5.9.3-15.3.2 8.7.3-3.9.2 8.8.3 1 .2 7.4.3-18.3.2 17.3.3-5 .2 3.9.3.6.2 16.1.3-17.3.2 1.1.3-1 .2.5.3-4.3.2-1.2.3 1.4.2-.4.3-.4.2 2.1.3 2.7.2 4.2.2 6 .3 9.9.2-13 .3-2.3.2-9.4.3 5.2.2-7.3.3 8.6.2 1.9.3-6 .2 2.5.3 3.1.2-10.6.3-2.3.2 4.1.3-7.2.2-8.2.3 9.9.2.4.3-1.4.2-1.7.3-2.4.2-3.2.3 2.8.2-.9.3 6.1.2 3 .3 4.9.2 5 .3.7.2-2.3.3 10.3.2-2.8.3 7.2.2-4.1.3 5.7.2-8.9.3-5.8.2-3.4.3 8.7.2-5.7.2 12.2.3-4.8.2-4.8.3-19.7.2 15.1.3-11.8.2 7.8.3-.7.2 14.5.3-17.4.2 5.1.3-.4.2 7.6.3-2.9.2 8.8.3-12.2.2 1.5.3-11.5.2-1.1.3 2.4.2 9.8.3-4.5.2 2.6.3-3.5.2 5 .3-.7.2-4.8.3 1.4.2 11.5.3-10.7.2 3.3.3 4.9.2 5.2.3-5.7.2-.1.3-10.7.2 5 .3-7.6.2 8.2.2-1.3.3 6.1.2 4.7.3 9.2.2-5.9.3 14.1.2-2.8.3-.4.2-16.7.3 10 .2-16.3.3-2.7.2-3.2.3 16.2.2-18.5.3 17.8.2 4.6.3-4.6.2-18.9.3 15.4.2-11 .3-2.9.2-16.4.3 25 .2-17 .3-2.4.2 1.8.3 12.6.2-2.6.3 5.9.2 2.6.3-.4.2-11.7.3-1.4.2-6.1.3 7.6.2-14.3.3 10.8.2 2.5.3 10.7.2-.6.2 15.6.3-16.2.2 8.3.3-14.4.2-1.6.3-9.6.2 11.4.3 1.8.2 6.7.3-10.3.2 2.9.3 7.5.2-7.8.3 2.8.2 10.4.3-6.1.2-9.1.3-3.1.2-6.5.3-2.3.2 13 .3-4.2.2 4.8.3 5.7.2-11.7.3-3.3.2 1 .3 6.9.2 10.9.3 6.4.2 6.3.3 3.7.2-4.4.3-20.2.2-2.4.3-17.4.2 10 .3-1.2.2 12.1.2-3.9.3 12.1.2-16.8.3 10.2.2-7 .3 11.1.2-16 .3 20.8.2-9.3.3 5.3.2-16.9.3 7.7.2-5.6.3 3.4.2.3.3 15.2.2-19.3.3 1.1.2-5.1.3 4.3.2-8 .3 17.1.2.5.3 15.7.2-29.8.3 15.7.2-7.1.3 9.5.2-2.3.3 5 .2-13.5.3-.5.2-3.4.3 4.1.2-9 .3 4.1.2-.7.3 6.2.2-18.4.3 31.5.2-13.9.2 3.6.3 3.1.2 9.6.3-16.8.2 7 .3-2.8.2-13.8.3 1.6.2 7.7.3 5.5.2 4.8.3 3.3.2 11.4.3-2.8.2-3.6.3-3.4.2 7 .3-15.5.2 4 .3-.1.2 8.4.3-16.1.2 12.3.3.1.2-5 .3 4.3.2 3.8.3-7 .2-3.4.3 5.3.2-3.6.3-8.1.2-1.6.3-1 .2 2.2.3 3.6.2 4.6.3-4.1.2 4.7.2 1.5.3-.6.2-4.3.3 6.9.2-6.2.3 5 .2-3.6.3-4.4.2 10.4.3 1.5.2-7.3.3 10.5.2 4.1.3-2 .2-2.1.3-3.1.2-20 .3-7.8.2-16.8.3 5.4.2 6 .3 21.8.2 5.9.3 4.2.2-1 .3-6.7.2-8.8.3-3.6.2 3.6.3 17.8.2 7 .3-3.6.2.8.3 2.4.2-15.1.3-1.2.2-8.1.3 11.8.2-7.4.3 8.1.2-7.9.2 7.2.3-12.3.2 7 .3-6.2.2 11.4.3-8.6.2 6.4.3-6.8.2-2.2.3-19.4.2 7 .3-12.1.2-5.5.3-1.2.2 12.8.3-4.5.2 10.4.3 3.5.2 11.8.3-7.7.2 3.1.3-3.7.2.4.3-6.6.2 11.4.3 1.2.2 8.3.3 1.4.2-8.8.3-7 .2 7 .3-16.3.2 14.6.3 3.2.2 12.7.3-.3.2 1 .3-14.1.2 6.1.2-7.1.3 10 .2-2.8.3 5.7.2-16.5.3 17.8.2-31.1.3 11.5.2 16.1.3 9.2.2-14.7.3 17.2.2-8.6.3-12.1.2 4.5.3 4.3.2-8.4.3 11.6.2-8 .3-4.7.2-4.2.3-4.1.2-14.9.3 5.5.2-9.9.3 9.4.2-8.6.3 24 .2-1 .3 2.2.2-6.2.3 10.1.2-5.9.3 9 .2 6.9.3 6.7.2 3.3.3-10.6.2-3.3.3 4.4.2-14.4.2-14.5.3-1.1.2 2 .3-12.4.2 10.5.3 5.2.2-2.7.3-2 .2 11.3.3-12.5.2 11.7.3 4.5.2 1.5.3-7.7.2 8 .3-4.3.2-13.5.3 7.2.2 3.5.3-10.2.2.8.3 4.4.2-3.2.3-1.9.2 11.4.3 3.5.2 5.2.3-4.1.2 3 .3-11.6.2 4.1.3-8.4.2-6.9.3-2.5.2 9.2.3-6.6.2 14.1.3-14.4.2 4.7.2-1.7.3 5.3.2-4.6.3 4.8.2-.8.3 1.7.2-16.6.3 3 .2-.3.3 6.5.2-1.4.3 13 .2-9.4.3 12.5.2-3.5.3 12.2.2-3.2.3 7.5.2-7.6.3 4 .2-11.6.3 3.4.2-5.5.3 12.9.2-8.2.3 10.2.2-1.7.3 8.6.2-8.6.3 1.5.2 1.9.3 1.2.2-3.8.3-5 .2-6.9.3 1.5.2-1 .3 13.9.2-2.8.3 7.3.2-5.8.2 10 .3-6.8.2-2.9.3-1.1.2-4.7.3-8.8.2-7.3.3-4.3.2 4.8.3 5.6.2-3.4.3-4.2.2 14 .3-9.6.2-.8.3 4.7.2 8 .3-2.3.2 11.9.3-13 .2-.1.3-13.1.2-5.1.3-12 .2 21.7.3-5.6.2 15.9.3 12.7.2 6.5.3-13.9.2 5.8.3-7.8.2 2.4.3-4.2.2-4.9.3-10 .2 6.2.3-12.9.2 8.2.2 1 .3 2.3.2-9.8.3 6 .2-4.4.3 10.6.2 2.2.3-4.1.2-4.8.3 1.9.2-14.6.3 12.5.2 0 .3.3.2-4.5.3 10.7.2-11.8.3 17.2.2-11.5.3 9.3.2-3.8.3-2.5.2-17 .3 17.2.2-4.1.3 11.6.2.4.3 5.8.2-8.9.3 18.9.2-2.6.3.3.2-7.6.3-1.5.2-3 .3-8.5.2-3 .3 0 .2-1.7.3-9.5.2.4.2 3.3.3-3.3.2 8.1.3 4.4.2 3.5.3-7.7.2 12.5.3-4.3.2 12 .3-7.2.2 14.4.3-2.9.2-2.3.3-11.7.2 12.7.3-13.5.2 5.9.3-5.8.2 5.7.3-17.9.2 11.8.3-5.7.2 5.7.3 1.8.2 18.3.3-15.1.2 15.1.3-6.4.2-.3.3-7.7.2 6.7.3-9.3.2 7.2.3-3.3.2 13.1.3-10.9.2 4.8.3-3.8.2 11.6" fill="none" stroke="#ff0000" stroke-width="2.4" stroke-linejoin="round"/>
<path d="M831.3,627.5 L831.3,935.9 L1378.6,935.9" fill="none" stroke="#000" stroke-width="2.2"/>
<line x1="831.3" y1="627.48" x2="844.3" y2="627.48" stroke="#000" stroke-width="2.2" />
<text transform="translate(824.9,634.48) scale(1,1.035)" font-size="30" text-anchor="end" fill="#000" >0.2</text>
<line x1="831.3" y1="671.54" x2="844.3" y2="671.54" stroke="#000" stroke-width="2.2" />
<text transform="translate(824.9,678.54) scale(1,1.035)" font-size="30" text-anchor="end" fill="#000" >0.1</text>
<line x1="831.3" y1="715.5999999999999" x2="844.3" y2="715.5999999999999" stroke="#000" stroke-width="2.2" />
<text transform="translate(824.9,722.5999999999999) scale(1,1.035)" font-size="30" text-anchor="end" fill="#000" >0.0</text>
<line x1="831.3" y1="759.66" x2="844.3" y2="759.66" stroke="#000" stroke-width="2.2" />
<text transform="translate(824.9,766.66) scale(1,1.035)" font-size="30" text-anchor="end" fill="#000" >−0.1</text>
<line x1="831.3" y1="803.72" x2="844.3" y2="803.72" stroke="#000" stroke-width="2.2" />
<text transform="translate(824.9,810.72) scale(1,1.035)" font-size="30" text-anchor="end" fill="#000" >−0.2</text>
<line x1="831.3" y1="847.78" x2="844.3" y2="847.78" stroke="#000" stroke-width="2.2" />
<text transform="translate(824.9,854.78) scale(1,1.035)" font-size="30" text-anchor="end" fill="#000" >−0.3</text>
<line x1="831.3" y1="891.8399999999999" x2="844.3" y2="891.8399999999999" stroke="#000" stroke-width="2.2" />
<text transform="translate(824.9,898.8399999999999) scale(1,1.035)" font-size="30" text-anchor="end" fill="#000" >−0.4</text>
<text transform="translate(824.9,942.9) scale(1,1.035)" font-size="30" text-anchor="end" fill="#000" >−0.5</text>
<text transform="translate(831.3,962.9) scale(1,1.035)" font-size="30" text-anchor="middle" fill="#000" >−5</text>
<line x1="940.75" y1="935.9" x2="940.75" y2="922.9" stroke="#000" stroke-width="2.2" />
<text transform="translate(940.75,962.9) scale(1,1.035)" font-size="30" text-anchor="middle" fill="#000" >0</text>
<line x1="1050.2" y1="935.9" x2="1050.2" y2="922.9" stroke="#000" stroke-width="2.2" />
<text transform="translate(1050.2,962.9) scale(1,1.035)" font-size="30" text-anchor="middle" fill="#000" >5</text>
<line x1="1159.65" y1="935.9" x2="1159.65" y2="922.9" stroke="#000" stroke-width="2.2" />
<text transform="translate(1159.65,962.9) scale(1,1.035)" font-size="30" text-anchor="middle" fill="#000" >10</text>
<line x1="1269.1" y1="935.9" x2="1269.1" y2="922.9" stroke="#000" stroke-width="2.2" />
<text transform="translate(1269.1,962.9) scale(1,1.035)" font-size="30" text-anchor="middle" fill="#000" >15</text>
<line x1="1378.55" y1="935.9" x2="1378.55" y2="922.9" stroke="#000" stroke-width="2.2" />
<text transform="translate(1378.55,962.9) scale(1,1.035)" font-size="30" text-anchor="middle" fill="#000" >20</text>
<text transform="translate(1031.0,994.8) scale(1,1.035)" font-size="31" fill="#000" >Time (min)</text>
<text transform="translate(754.6,782.8) rotate(-90) scale(1,1.035)" font-size="31" text-anchor="middle">ΔF/F</text>
<rect x="417" y="620" width="262.3" height="280.8" fill="#fff" stroke="#000" stroke-width="2"/>
<path d="M548.3,697.0 C547.0,697.0 547.3,693.2 545.0,691.5 C542.7,689.8 540.7,689.3 537.0,688.6 C533.3,687.9 531.3,687.9 526.3,688.0 C521.3,688.1 517.5,688.3 512.0,689.0 C506.5,689.7 504.2,690.0 498.8,691.4 C493.4,692.8 490.2,693.6 485.0,696.0 C479.8,698.4 477.4,700.3 473.0,703.5 C468.6,706.7 466.4,708.2 463.0,712.0 C459.6,715.8 458.4,718.1 455.8,722.5 C453.2,726.9 451.9,728.9 450.0,734.0 C448.1,739.1 447.4,742.8 446.5,748.0 C445.6,753.2 445.3,755.2 445.3,760.0 C445.3,764.8 445.6,767.6 446.5,772.0 C447.4,776.4 448.1,778.0 450.0,782.0 C451.9,786.0 453.5,788.1 455.8,792.0 C458.1,795.9 459.1,797.9 461.5,801.5 C463.9,805.1 464.9,807.0 467.8,810.0 C470.7,813.0 472.6,814.6 476.0,816.5 C479.4,818.4 481.2,818.9 485.0,819.5 C488.8,820.1 491.4,820.1 495.0,819.5 C498.6,818.9 500.5,818.4 503.0,816.5 C505.5,814.6 506.1,812.6 507.5,810.0 C508.9,807.4 509.0,804.9 510.0,803.5 C511.0,802.1 511.6,802.1 512.5,803.0 C513.4,803.9 513.4,805.8 514.5,808.0 C515.6,810.2 515.7,811.7 518.0,814.0 C520.3,816.3 522.4,818.0 526.0,819.5 C529.6,821.0 531.5,820.8 536.0,821.5 C540.5,822.2 543.4,823.0 548.3,823.0 C553.2,823.0 556.1,822.2 560.6,821.5 C565.1,820.8 567.0,821.0 570.6,819.5 C574.2,818.0 576.3,816.3 578.6,814.0 C580.9,811.7 581.0,810.2 582.1,808.0 C583.2,805.8 583.2,803.9 584.1,803.0 C585.0,802.1 585.6,802.1 586.6,803.5 C587.6,804.9 587.7,807.4 589.1,810.0 C590.5,812.6 591.1,814.6 593.6,816.5 C596.1,818.4 598.0,818.9 601.6,819.5 C605.2,820.1 607.8,820.1 611.6,819.5 C615.4,818.9 617.2,818.4 620.6,816.5 C624.0,814.6 625.9,813.0 628.8,810.0 C631.7,807.0 632.7,805.1 635.1,801.5 C637.5,797.9 638.5,795.9 640.8,792.0 C643.1,788.1 644.7,786.0 646.6,782.0 C648.5,778.0 649.2,776.4 650.1,772.0 C651.0,767.6 651.3,764.8 651.3,760.0 C651.3,755.2 651.0,753.2 650.1,748.0 C649.2,742.8 648.5,739.1 646.6,734.0 C644.7,728.9 643.4,726.9 640.8,722.5 C638.2,718.1 637.0,715.8 633.6,712.0 C630.2,708.2 628.0,706.7 623.6,703.5 C619.2,700.3 616.8,698.4 611.6,696.0 C606.4,693.6 603.2,692.8 597.8,691.4 C592.4,690.0 590.1,689.7 584.6,689.0 C579.1,688.3 575.3,688.1 570.3,688.0 C565.3,687.9 563.3,687.9 559.6,688.6 C555.9,689.3 553.9,689.8 551.6,691.5 C549.3,693.2 549.6,697.0 548.3,697.0Z" fill="#e6e6e6" stroke="#000" stroke-width="2"/>
<path d="M475.3,800.0 C474.5,798.0 471.6,792.3 470.5,788.0 C469.4,783.7 468.8,778.7 468.8,774.0 C468.8,769.3 469.4,763.8 470.3,759.6 C471.2,755.4 472.9,752.4 474.5,749.0 C476.1,745.6 477.3,743.6 480.0,739.5 C482.7,735.4 486.2,728.8 490.6,724.5 C495.0,720.2 501.3,716.0 506.6,713.5 C511.9,711.0 518.4,710.1 522.6,709.3 C526.8,708.5 529.6,708.2 531.9,708.6 C534.2,709.0 534.9,710.4 536.5,711.6 C538.1,712.8 539.5,714.7 541.5,715.6 C543.5,716.5 547.2,716.6 548.3,716.8 L548.3,720.5 C546.9,720.4 542.5,720.9 540.0,719.8 C537.5,718.7 535.4,715.3 533.2,714.0 C531.0,712.7 530.6,712.0 526.6,712.0 C522.6,712.0 514.9,712.2 509.3,714.0 C503.8,715.8 497.7,719.3 493.3,722.8 C488.9,726.3 485.6,731.3 483.0,735.0 C480.4,738.7 479.0,741.3 477.5,745.0 C476.0,748.7 474.7,752.8 473.8,757.0 C472.9,761.2 472.6,765.5 472.4,770.0 C472.2,774.5 472.3,779.0 472.8,784.0 C473.3,789.0 474.9,797.3 475.3,800.0Z" fill="#fff" stroke="#000" stroke-width="1.9" stroke-linejoin="round"/>
<path d="M621.3,800.0 C622.1,798.0 625.0,792.3 626.1,788.0 C627.2,783.7 627.8,778.7 627.8,774.0 C627.8,769.3 627.2,763.8 626.3,759.6 C625.3,755.4 623.7,752.4 622.1,749.0 C620.5,745.6 619.3,743.6 616.6,739.5 C613.9,735.4 610.4,728.8 606.0,724.5 C601.6,720.2 595.3,716.0 590.0,713.5 C584.7,711.0 578.2,710.1 574.0,709.3 C569.8,708.5 567.0,708.2 564.7,708.6 C562.4,709.0 561.7,710.4 560.1,711.6 C558.5,712.8 557.1,714.7 555.1,715.6 C553.1,716.5 549.4,716.6 548.3,716.8 L548.3,720.5 C549.7,720.4 554.1,720.9 556.6,719.8 C559.1,718.7 561.2,715.3 563.4,714.0 C565.6,712.7 566.0,712.0 570.0,712.0 C574.0,712.0 581.8,712.2 587.3,714.0 C592.8,715.8 598.9,719.3 603.3,722.8 C607.7,726.3 611.0,731.3 613.6,735.0 C616.2,738.7 617.6,741.3 619.1,745.0 C620.6,748.7 621.9,752.8 622.8,757.0 C623.6,761.2 624.0,765.5 624.2,770.0 C624.4,774.5 624.3,779.0 623.8,784.0 C623.3,789.0 621.7,797.3 621.3,800.0Z" fill="#fff" stroke="#000" stroke-width="1.9" stroke-linejoin="round"/>
<path d="M509.3,726.8 C510.1,726.4 512.2,725.0 514.0,724.5 C515.8,724.0 518.1,723.8 519.9,723.8 C521.7,723.8 523.2,723.9 525.0,724.2 C526.8,724.5 528.8,724.7 530.6,725.5 C532.4,726.3 534.2,728.0 536.0,729.0 C537.8,730.0 539.5,731.7 541.2,731.8 C543.0,731.9 545.6,729.9 546.5,729.5" fill="none" stroke="#000" stroke-width="1.9"/>
<path d="M587.3,726.8 C586.5,726.4 584.4,725.0 582.6,724.5 C580.8,724.0 578.5,723.8 576.7,723.8 C574.9,723.8 573.4,723.9 571.6,724.2 C569.8,724.5 567.8,724.7 566.0,725.5 C564.2,726.3 562.4,728.0 560.6,729.0 C558.8,730.0 557.1,731.7 555.4,731.8 C553.6,731.9 551.0,729.9 550.1,729.5" fill="none" stroke="#000" stroke-width="1.9"/>
<path d="M489.3,742.3 C490.1,741.8 492.2,740.2 494.0,739.5 C495.8,738.8 496.7,738.6 499.9,738.3 C503.1,738.0 508.8,737.6 513.3,737.6 C517.8,737.6 523.3,737.9 526.6,738.3 C529.9,738.7 531.2,739.6 533.0,740.0 C534.8,740.4 535.8,741.2 537.2,740.5 C538.6,739.8 539.7,737.1 541.2,735.6 C542.8,734.1 545.6,732.3 546.5,731.6" fill="none" stroke="#000" stroke-width="1.9"/>
<path d="M607.3,742.3 C606.5,741.8 604.4,740.2 602.6,739.5 C600.8,738.8 599.9,738.6 596.7,738.3 C593.5,738.0 587.8,737.6 583.3,737.6 C578.8,737.6 573.3,737.9 570.0,738.3 C566.7,738.7 565.4,739.6 563.6,740.0 C561.8,740.4 560.8,741.2 559.4,740.5 C558.0,739.8 556.9,737.1 555.4,735.6 C553.8,734.1 551.0,732.3 550.1,731.6" fill="none" stroke="#000" stroke-width="1.9"/>
<path d="M489.3,742.3 C489.4,743.4 489.9,747.0 490.2,749.0 C490.4,751.0 490.3,752.9 490.8,754.3 C491.3,755.7 492.5,757.2 493.3,757.2 C494.1,757.2 495.4,755.8 495.9,754.3 C496.4,752.8 496.3,750.0 496.5,748.0 C496.7,746.0 497.2,743.2 497.3,742.3" fill="none" stroke="#000" stroke-width="1.9"/>
<path d="M607.3,742.3 C607.1,743.4 606.6,747.0 606.4,749.0 C606.1,751.0 606.3,752.9 605.8,754.3 C605.3,755.7 604.1,757.2 603.3,757.2 C602.4,757.2 601.2,755.8 600.7,754.3 C600.2,752.8 600.3,750.0 600.1,748.0 C599.9,746.0 599.4,743.2 599.3,742.3" fill="none" stroke="#000" stroke-width="1.9"/>
<path d="M470.6,771.6 C471.7,772.8 474.9,776.8 477.0,779.0 C479.1,781.2 481.4,782.9 483.5,785.0 C485.6,787.1 488.3,790.5 489.3,791.6" fill="none" stroke="#000" stroke-width="1.9"/>
<path d="M626.0,771.6 C624.9,772.8 621.7,776.8 619.6,779.0 C617.4,781.2 615.1,782.9 613.1,785.0 C611.0,787.1 608.3,790.5 607.3,791.6" fill="none" stroke="#000" stroke-width="1.9"/>
<path d="M480.5,738.5 C480.8,737.2 482.6,737.1 483.5,737.5 C484.4,737.9 485.2,739.2 486.0,741.0 C486.8,742.8 487.4,745.7 488.0,748.0 C488.6,750.3 489.3,753.1 489.3,755.0 C489.3,756.9 488.7,758.8 488.0,759.5 C487.3,760.2 485.8,760.8 485.0,759.5 C484.2,758.2 484.1,754.4 483.5,752.0 C482.9,749.6 482.0,747.2 481.5,745.0 C481.0,742.8 480.2,739.8 480.5,738.5Z" fill="#000"/>
<path d="M616.1,738.5 C615.8,737.2 614.0,737.1 613.1,737.5 C612.2,737.9 611.3,739.2 610.6,741.0 C609.8,742.8 609.1,745.7 608.6,748.0 C608.0,750.3 607.3,753.1 607.3,755.0 C607.3,756.9 607.9,758.8 608.6,759.5 C609.3,760.2 610.8,760.8 611.6,759.5 C612.3,758.2 612.5,754.4 613.1,752.0 C613.7,749.6 614.6,747.2 615.1,745.0 C615.6,742.8 616.4,739.8 616.1,738.5Z" fill="#000"/>
<path d="M546.5,722.5 C545.5,732 545.8,740 546.8,748 L550.5,748 C551,740 551,732 550.5,722.5Z" fill="#000"/>
<path d="M546.8,797 L546.2,822.8 L550.5,822.8 L550.2,797Z" fill="#000"/>
<line x1="548.3" y1="697" x2="548.3" y2="716" stroke="#000" stroke-width="1.8" />
<rect x="551" y="669" width="11" height="147" fill="#fff" stroke="#555" stroke-width="1.3"/>
<line x1="553.6" y1="652.8" x2="553.6" y2="815" stroke="#1c9c4c" stroke-width="2" />
<line x1="558.6" y1="663.6" x2="558.6" y2="815" stroke="#1fa0ea" stroke-width="2" />
<path d="M553.6,652.8 L646.9,652.8" fill="none" stroke="#1c9c4c" stroke-width="2"/>
<path d="M570.8,652.8 L557.6,646 L557.6,659.6Z" fill="#1c9c4c"/>
<path d="M558.6,663.6 L646.9,663.6" fill="none" stroke="#1fa0ea" stroke-width="2"/>
<path d="M570.6,663.6 L584.6,657 L584.6,670.2Z" fill="#1fa0ea"/>
<text transform="translate(580.8,647.7) scale(1,1.035)" font-size="27.5" fill="#1c9c4c" >525 nm</text>
<text transform="translate(580.5,686.3) scale(1,1.035)" font-size="27.5" fill="#1fa0ea" >473 nm</text>
<text transform="translate(547.5,856.9) scale(1,1.035)" font-size="27.5" text-anchor="middle" fill="#000" >Agrp-IRES-Cre +</text>
<text transform="translate(547.5,888.6) scale(1,1.035)" font-size="27.5" text-anchor="middle" fill="#000" >ARC GCaMP6s</text>
<defs>
<filter id="blur6" x="-20%" y="-20%" width="140%" height="140%"><feGaussianBlur stdDeviation="7"/></filter>
<filter id="blur3" x="-20%" y="-20%" width="140%" height="140%"><feGaussianBlur stdDeviation="3"/></filter>
<filter id="speck" x="0" y="0" width="100%" height="100%">
 <feTurbulence type="fractalNoise" baseFrequency="0.22" numOctaves="2" seed="4" result="n"/>
 <feColorMatrix in="n" type="matrix" values="0 0 0 0 0  0 0 0 0 0  0 0 0 0 0  0 0 0 -2.4 1.35" result="m"/>
 <feComposite in="SourceGraphic" in2="m" operator="in"/>
</filter>
<linearGradient id="bandg" gradientUnits="userSpaceOnUse" x1="445" y1="0" x2="600" y2="0"><stop offset="0" stop-color="#3cf03c"/><stop offset="0.25" stop-color="#33dd33"/><stop offset="0.55" stop-color="#229922"/><stop offset="0.8" stop-color="#145a14"/><stop offset="1" stop-color="#0a300a"/></linearGradient>
<linearGradient id="topg" gradientUnits="userSpaceOnUse" x1="440" y1="0" x2="690" y2="0"><stop offset="0" stop-color="#2a9a2a"/><stop offset="0.35" stop-color="#228522"/><stop offset="0.65" stop-color="#0f4f0f"/><stop offset="1" stop-color="#041c04"/></linearGradient>
<clipPath id="micro"><rect x="418.5" y="907.4" width="261.5" height="139.7"/></clipPath>
</defs>
<rect x="418.5" y="907.4" width="261.5" height="139.7" fill="#000"/>
<g clip-path="url(#micro)">
<g filter="url(#blur6)"><path d="M438,1050 C436,1000 440,950 452,905 L640,905 C660,925 680,940 690,955 L690,985 C650,1000 600,1000 560,990 C530,980 500,975 480,990 C468,1005 462,1030 460,1050Z" fill="#0a2e0a"/></g>
<g filter="url(#blur3)" opacity="0.55"><path d="M438,1050 C437,1020 440,985 450,965 C460,950 480,943 505,945 C530,948 555,960 580,968 C605,975 630,978 655,976 L660,990 C630,996 600,998 570,995 C545,992 520,985 500,988 C482,992 472,1010 468,1050Z" fill="url(#bandg)"/></g>
<g opacity="0.9"><circle cx="480" cy="925" r="1.3" fill="rgb(23,159,23)"/><circle cx="521" cy="930" r="1.3" fill="rgb(17,117,17)"/><circle cx="604" cy="931" r="1.2" fill="rgb(13,91,13)"/><circle cx="503" cy="954" r="1.2" fill="rgb(34,228,34)"/><circle cx="457" cy="926" r="1.6" fill="rgb(21,145,21)"/><circle cx="480" cy="913" r="1.0" fill="rgb(16,108,16)"/><circle cx="481" cy="960" r="1.2" fill="rgb(38,255,38)"/><circle cx="540" cy="932" r="1.2" fill="rgb(17,115,17)"/><circle cx="477" cy="935" r="2.3" fill="rgb(26,178,26)"/><circle cx="447" cy="1014" r="2.2" fill="rgb(36,245,36)"/><circle cx="458" cy="1010" r="1.5" fill="rgb(26,177,26)"/><circle cx="523" cy="951" r="2.2" fill="rgb(25,171,25)"/><circle cx="460" cy="998" r="2.1" fill="rgb(36,242,36)"/><circle cx="524" cy="910" r="2.0" fill="rgb(13,91,13)"/><circle cx="438" cy="1035" r="2.0" fill="rgb(15,100,15)"/><circle cx="455" cy="918" r="2.0" fill="rgb(18,126,18)"/><circle cx="491" cy="954" r="1.3" fill="rgb(36,246,36)"/><circle cx="507" cy="955" r="1.9" fill="rgb(38,255,38)"/><circle cx="457" cy="1014" r="1.1" fill="rgb(29,197,29)"/><circle cx="551" cy="979" r="1.6" fill="rgb(19,128,19)"/><circle cx="543" cy="955" r="1.5" fill="rgb(21,145,21)"/><circle cx="564" cy="967" r="2.3" fill="rgb(16,113,16)"/><circle cx="579" cy="987" r="1.9" fill="rgb(17,118,17)"/><circle cx="468" cy="919" r="2.1" fill="rgb(18,126,18)"/><circle cx="534" cy="981" r="1.4" fill="rgb(12,86,12)"/><circle cx="483" cy="964" r="1.7" fill="rgb(28,187,28)"/><circle cx="461" cy="913" r="1.6" fill="rgb(16,113,16)"/><circle cx="562" cy="950" r="2.3" fill="rgb(16,109,16)"/><circle cx="490" cy="958" r="2.0" fill="rgb(33,220,33)"/><circle cx="484" cy="932" r="1.0" fill="rgb(22,153,22)"/><circle cx="469" cy="993" r="2.2" fill="rgb(28,191,28)"/><circle cx="514" cy="927" r="2.3" fill="rgb(17,117,17)"/><circle cx="464" cy="993" r="2.0" fill="rgb(32,216,32)"/><circle cx="545" cy="1005" r="1.5" fill="rgb(10,72,10)"/><circle cx="520" cy="911" r="1.5" fill="rgb(13,90,13)"/><circle cx="516" cy="935" r="1.2" fill="rgb(20,135,20)"/><circle cx="448" cy="1037" r="1.1" fill="rgb(31,209,31)"/><circle cx="526" cy="927" r="2.2" fill="rgb(16,110,16)"/><circle cx="544" cy="951" r="1.7" fill="rgb(19,127,19)"/><circle cx="484" cy="942" r="1.3" fill="rgb(24,160,24)"/><circle cx="524" cy="953" r="2.0" fill="rgb(27,183,27)"/><circle cx="468" cy="1017" r="2.2" fill="rgb(19,130,19)"/><circle cx="506" cy="968" r="2.4" fill="rgb(28,188,28)"/><circle cx="514" cy="933" r="2.1" fill="rgb(21,144,21)"/><circle cx="550" cy="942" r="2.1" fill="rgb(19,132,19)"/><circle cx="564" cy="982" r="1.8" fill="rgb(19,131,19)"/><circle cx="501" cy="932" r="2.2" fill="rgb(25,167,25)"/><circle cx="455" cy="1017" r="2.0" fill="rgb(33,223,33)"/><circle cx="453" cy="1018" r="2.3" fill="rgb(26,175,26)"/><circle cx="470" cy="930" r="1.6" fill="rgb(26,178,26)"/><circle cx="590" cy="990" r="2.0" fill="rgb(15,103,15)"/><circle cx="468" cy="1043" r="1.7" fill="rgb(26,174,26)"/><circle cx="460" cy="959" r="1.6" fill="rgb(19,129,19)"/><circle cx="466" cy="972" r="2.3" fill="rgb(26,179,26)"/><circle cx="485" cy="971" r="1.7" fill="rgb(33,226,33)"/><circle cx="482" cy="965" r="1.5" fill="rgb(31,213,31)"/><circle cx="627" cy="1016" r="2.2" fill="rgb(10,72,10)"/><circle cx="505" cy="965" r="2.3" fill="rgb(29,195,29)"/><circle cx="442" cy="962" r="1.3" fill="rgb(10,72,10)"/><circle cx="459" cy="996" r="1.9" fill="rgb(37,248,37)"/><circle cx="541" cy="946" r="1.4" fill="rgb(21,144,21)"/><circle cx="452" cy="991" r="1.7" fill="rgb(29,199,29)"/><circle cx="481" cy="935" r="1.6" fill="rgb(22,153,22)"/><circle cx="451" cy="947" r="1.5" fill="rgb(23,157,23)"/><circle cx="463" cy="995" r="1.8" fill="rgb(29,195,29)"/><circle cx="634" cy="943" r="1.8" fill="rgb(13,88,13)"/><circle cx="442" cy="1028" r="1.1" fill="rgb(24,160,24)"/><circle cx="462" cy="1012" r="2.3" fill="rgb(33,223,33)"/><circle cx="457" cy="937" r="2.2" fill="rgb(29,198,29)"/><circle cx="641" cy="963" r="1.8" fill="rgb(11,75,11)"/><circle cx="446" cy="931" r="1.0" fill="rgb(30,205,30)"/><circle cx="496" cy="1025" r="1.9" fill="rgb(10,72,10)"/><circle cx="476" cy="959" r="2.3" fill="rgb(31,213,31)"/><circle cx="458" cy="1014" r="2.3" fill="rgb(38,255,38)"/><circle cx="492" cy="952" r="1.4" fill="rgb(36,244,36)"/><circle cx="445" cy="978" r="1.9" fill="rgb(12,86,12)"/><circle cx="459" cy="1017" r="2.4" fill="rgb(28,191,28)"/><circle cx="639" cy="1007" r="1.3" fill="rgb(10,72,10)"/><circle cx="559" cy="977" r="2.0" fill="rgb(22,152,22)"/><circle cx="449" cy="981" r="1.6" fill="rgb(25,173,25)"/><circle cx="543" cy="929" r="1.8" fill="rgb(15,106,15)"/><circle cx="537" cy="952" r="1.9" fill="rgb(23,159,23)"/><circle cx="523" cy="959" r="2.3" fill="rgb(37,250,37)"/><circle cx="481" cy="928" r="1.4" fill="rgb(20,134,20)"/><circle cx="482" cy="941" r="2.3" fill="rgb(28,187,28)"/><circle cx="539" cy="921" r="2.1" fill="rgb(16,112,16)"/><circle cx="464" cy="1003" r="1.3" fill="rgb(34,233,34)"/><circle cx="512" cy="961" r="1.9" fill="rgb(36,241,36)"/><circle cx="661" cy="984" r="2.0" fill="rgb(12,86,12)"/><circle cx="470" cy="1011" r="2.3" fill="rgb(18,126,18)"/><circle cx="539" cy="927" r="1.4" fill="rgb(16,108,16)"/><circle cx="536" cy="940" r="1.3" fill="rgb(24,166,24)"/><circle cx="445" cy="1004" r="2.0" fill="rgb(27,185,27)"/><circle cx="458" cy="1017" r="2.3" fill="rgb(35,237,35)"/><circle cx="547" cy="930" r="1.0" fill="rgb(17,117,17)"/><circle cx="531" cy="974" r="1.5" fill="rgb(24,165,24)"/><circle cx="546" cy="944" r="1.3" fill="rgb(17,119,17)"/><circle cx="628" cy="980" r="1.5" fill="rgb(12,81,12)"/><circle cx="564" cy="992" r="1.2" fill="rgb(12,81,12)"/><circle cx="546" cy="939" r="2.0" fill="rgb(19,132,19)"/><circle cx="456" cy="1044" r="2.4" fill="rgb(38,255,38)"/><circle cx="485" cy="970" r="1.7" fill="rgb(29,194,29)"/><circle cx="608" cy="946" r="1.3" fill="rgb(14,97,14)"/><circle cx="524" cy="930" r="1.9" fill="rgb(22,153,22)"/><circle cx="507" cy="948" r="1.0" fill="rgb(37,250,37)"/><circle cx="475" cy="960" r="2.3" fill="rgb(35,237,35)"/><circle cx="555" cy="948" r="1.2" fill="rgb(21,141,21)"/><circle cx="457" cy="959" r="1.1" fill="rgb(24,160,24)"/><circle cx="453" cy="980" r="2.2" fill="rgb(24,164,24)"/><circle cx="581" cy="923" r="1.2" fill="rgb(14,99,14)"/><circle cx="476" cy="957" r="2.1" fill="rgb(26,179,26)"/><circle cx="447" cy="1029" r="2.3" fill="rgb(27,186,27)"/><circle cx="461" cy="1007" r="2.2" fill="rgb(25,172,25)"/><circle cx="513" cy="909" r="1.4" fill="rgb(12,84,12)"/><circle cx="453" cy="1045" r="2.3" fill="rgb(38,254,38)"/><circle cx="433" cy="1037" r="2.2" fill="rgb(10,72,10)"/><circle cx="627" cy="979" r="1.3" fill="rgb(12,81,12)"/><circle cx="465" cy="1008" r="1.7" fill="rgb(34,231,34)"/><circle cx="488" cy="964" r="2.1" fill="rgb(38,255,38)"/><circle cx="572" cy="933" r="1.5" fill="rgb(20,135,20)"/><circle cx="597" cy="920" r="2.0" fill="rgb(12,84,12)"/><circle cx="445" cy="994" r="1.3" fill="rgb(16,111,16)"/><circle cx="519" cy="969" r="1.5" fill="rgb(30,206,30)"/><circle cx="474" cy="921" r="1.3" fill="rgb(22,147,22)"/><circle cx="454" cy="972" r="1.9" fill="rgb(24,162,24)"/><circle cx="588" cy="909" r="1.9" fill="rgb(12,82,12)"/><circle cx="510" cy="939" r="1.4" fill="rgb(23,155,23)"/><circle cx="579" cy="970" r="2.0" fill="rgb(14,96,14)"/><circle cx="568" cy="928" r="2.2" fill="rgb(16,108,16)"/><circle cx="543" cy="977" r="2.3" fill="rgb(22,153,22)"/><circle cx="452" cy="942" r="1.3" fill="rgb(23,158,23)"/><circle cx="461" cy="1024" r="1.6" fill="rgb(30,205,30)"/><circle cx="450" cy="939" r="2.2" fill="rgb(23,156,23)"/><circle cx="483" cy="954" r="2.0" fill="rgb(30,200,30)"/><circle cx="524" cy="920" r="2.1" fill="rgb(14,99,14)"/><circle cx="469" cy="949" r="2.3" fill="rgb(21,142,21)"/><circle cx="467" cy="958" r="1.2" fill="rgb(21,146,21)"/><circle cx="563" cy="933" r="1.3" fill="rgb(16,112,16)"/><circle cx="502" cy="959" r="1.1" fill="rgb(29,197,29)"/><circle cx="610" cy="909" r="1.9" fill="rgb(11,76,11)"/><circle cx="462" cy="923" r="2.3" fill="rgb(24,166,24)"/><circle cx="540" cy="929" r="2.4" fill="rgb(18,123,18)"/><circle cx="491" cy="967" r="1.1" fill="rgb(30,202,30)"/><circle cx="454" cy="1043" r="1.3" fill="rgb(28,189,28)"/><circle cx="558" cy="937" r="2.4" fill="rgb(17,117,17)"/><circle cx="457" cy="1020" r="2.2" fill="rgb(34,230,34)"/><circle cx="545" cy="975" r="1.4" fill="rgb(26,176,26)"/><circle cx="581" cy="934" r="1.5" fill="rgb(16,109,16)"/><circle cx="481" cy="959" r="2.0" fill="rgb(38,255,38)"/><circle cx="610" cy="923" r="1.4" fill="rgb(13,91,13)"/><circle cx="464" cy="979" r="2.3" fill="rgb(38,255,38)"/><circle cx="563" cy="981" r="1.1" fill="rgb(20,137,20)"/><circle cx="489" cy="960" r="1.1" fill="rgb(28,192,28)"/><circle cx="630" cy="991" r="2.1" fill="rgb(13,91,13)"/><circle cx="488" cy="948" r="1.1" fill="rgb(23,159,23)"/><circle cx="560" cy="962" r="1.4" fill="rgb(16,110,16)"/><circle cx="502" cy="928" r="1.8" fill="rgb(21,143,21)"/><circle cx="540" cy="931" r="1.6" fill="rgb(21,145,21)"/><circle cx="603" cy="944" r="1.3" fill="rgb(15,101,15)"/><circle cx="473" cy="964" r="1.6" fill="rgb(27,182,27)"/><circle cx="624" cy="965" r="1.1" fill="rgb(12,81,12)"/><circle cx="469" cy="1011" r="1.4" fill="rgb(16,112,16)"/><circle cx="481" cy="916" r="2.0" fill="rgb(15,103,15)"/><circle cx="460" cy="996" r="1.3" fill="rgb(30,205,30)"/><circle cx="568" cy="933" r="1.6" fill="rgb(19,131,19)"/><circle cx="463" cy="990" r="1.0" fill="rgb(34,232,34)"/><circle cx="499" cy="951" r="2.0" fill="rgb(38,255,38)"/><circle cx="489" cy="935" r="1.0" fill="rgb(29,198,29)"/><circle cx="520" cy="958" r="2.0" fill="rgb(27,182,27)"/><circle cx="462" cy="970" r="1.7" fill="rgb(28,187,28)"/><circle cx="498" cy="966" r="1.5" fill="rgb(31,211,31)"/><circle cx="460" cy="949" r="1.1" fill="rgb(24,165,24)"/><circle cx="486" cy="937" r="1.9" fill="rgb(26,179,26)"/><circle cx="602" cy="962" r="1.1" fill="rgb(13,90,13)"/><circle cx="470" cy="992" r="2.0" fill="rgb(31,212,31)"/><circle cx="469" cy="924" r="1.8" fill="rgb(23,156,23)"/><circle cx="489" cy="942" r="2.1" fill="rgb(21,144,21)"/><circle cx="576" cy="940" r="1.6" fill="rgb(18,126,18)"/><circle cx="454" cy="1045" r="2.1" fill="rgb(38,255,38)"/><circle cx="561" cy="993" r="2.2" fill="rgb(11,74,11)"/><circle cx="473" cy="958" r="2.1" fill="rgb(32,214,32)"/><circle cx="446" cy="928" r="2.4" fill="rgb(21,143,21)"/><circle cx="463" cy="1041" r="1.7" fill="rgb(32,215,32)"/><circle cx="444" cy="988" r="1.9" fill="rgb(15,102,15)"/><circle cx="490" cy="936" r="1.5" fill="rgb(22,150,22)"/><circle cx="601" cy="961" r="2.3" fill="rgb(13,91,13)"/><circle cx="462" cy="985" r="1.6" fill="rgb(31,208,31)"/><circle cx="554" cy="974" r="2.2" fill="rgb(23,157,23)"/><circle cx="474" cy="959" r="1.3" fill="rgb(28,192,28)"/><circle cx="474" cy="947" r="1.9" fill="rgb(27,181,27)"/><circle cx="532" cy="940" r="1.4" fill="rgb(20,134,20)"/><circle cx="438" cy="1037" r="1.6" fill="rgb(15,101,15)"/><circle cx="450" cy="1038" r="2.2" fill="rgb(28,192,28)"/><circle cx="447" cy="956" r="1.3" fill="rgb(19,127,19)"/><circle cx="623" cy="940" r="1.2" fill="rgb(13,88,13)"/><circle cx="560" cy="950" r="1.9" fill="rgb(20,135,20)"/><circle cx="548" cy="978" r="2.0" fill="rgb(20,136,20)"/><circle cx="460" cy="1025" r="2.2" fill="rgb(33,225,33)"/><circle cx="542" cy="973" r="2.0" fill="rgb(19,129,19)"/><circle cx="539" cy="925" r="1.8" fill="rgb(18,126,18)"/><circle cx="473" cy="955" r="2.3" fill="rgb(25,173,25)"/><circle cx="503" cy="957" r="1.8" fill="rgb(33,224,33)"/><circle cx="456" cy="1046" r="1.8" fill="rgb(29,196,29)"/><circle cx="475" cy="966" r="1.3" fill="rgb(35,236,35)"/><circle cx="644" cy="989" r="1.8" fill="rgb(13,91,13)"/><circle cx="561" cy="955" r="1.7" fill="rgb(17,114,17)"/><circle cx="521" cy="961" r="1.1" fill="rgb(24,165,24)"/><circle cx="590" cy="973" r="1.2" fill="rgb(13,91,13)"/><circle cx="458" cy="936" r="1.2" fill="rgb(32,217,32)"/><circle cx="462" cy="960" r="1.2" fill="rgb(22,149,22)"/><circle cx="548" cy="977" r="2.1" fill="rgb(23,154,23)"/><circle cx="524" cy="944" r="2.1" fill="rgb(24,161,24)"/><circle cx="525" cy="931" r="1.8" fill="rgb(19,133,19)"/><circle cx="627" cy="945" r="1.9" fill="rgb(12,86,12)"/><circle cx="477" cy="920" r="1.8" fill="rgb(21,142,21)"/><circle cx="652" cy="991" r="1.3" fill="rgb(13,92,13)"/><circle cx="448" cy="1019" r="1.8" fill="rgb(33,220,33)"/><circle cx="515" cy="933" r="2.3" fill="rgb(20,137,20)"/><circle cx="531" cy="946" r="1.7" fill="rgb(22,150,22)"/><circle cx="464" cy="1044" r="2.0" fill="rgb(28,193,28)"/><circle cx="491" cy="951" r="1.1" fill="rgb(37,250,37)"/><circle cx="595" cy="940" r="2.3" fill="rgb(18,121,18)"/><circle cx="452" cy="964" r="2.1" fill="rgb(18,123,18)"/><circle cx="522" cy="944" r="1.4" fill="rgb(24,160,24)"/><circle cx="610" cy="919" r="2.4" fill="rgb(12,82,12)"/><circle cx="466" cy="920" r="1.9" fill="rgb(21,146,21)"/><circle cx="458" cy="1002" r="1.9" fill="rgb(28,192,28)"/><circle cx="531" cy="957" r="1.4" fill="rgb(23,159,23)"/><circle cx="533" cy="955" r="2.2" fill="rgb(21,143,21)"/><circle cx="498" cy="964" r="2.4" fill="rgb(28,192,28)"/><circle cx="551" cy="933" r="1.4" fill="rgb(16,108,16)"/><circle cx="555" cy="926" r="1.4" fill="rgb(16,107,16)"/><circle cx="534" cy="971" r="1.5" fill="rgb(27,182,27)"/><circle cx="447" cy="1043" r="1.2" fill="rgb(31,210,31)"/><circle cx="458" cy="1023" r="1.5" fill="rgb(33,220,33)"/><circle cx="460" cy="1021" r="1.3" fill="rgb(37,253,37)"/><circle cx="449" cy="948" r="1.2" fill="rgb(32,214,32)"/><circle cx="585" cy="932" r="1.4" fill="rgb(17,118,17)"/><circle cx="492" cy="940" r="1.2" fill="rgb(28,193,28)"/><circle cx="552" cy="948" r="1.2" fill="rgb(17,116,17)"/><circle cx="542" cy="925" r="1.2" fill="rgb(15,106,15)"/><circle cx="511" cy="948" r="2.1" fill="rgb(31,207,31)"/><circle cx="605" cy="934" r="1.5" fill="rgb(14,99,14)"/><circle cx="465" cy="937" r="1.5" fill="rgb(32,219,32)"/><circle cx="512" cy="927" r="1.1" fill="rgb(21,142,21)"/><circle cx="541" cy="938" r="1.7" fill="rgb(24,163,24)"/><circle cx="524" cy="958" r="1.4" fill="rgb(30,202,30)"/><circle cx="475" cy="1007" r="1.7" fill="rgb(11,79,11)"/><circle cx="497" cy="950" r="1.5" fill="rgb(36,245,36)"/><circle cx="452" cy="1010" r="1.9" fill="rgb(36,246,36)"/><circle cx="461" cy="1003" r="1.0" fill="rgb(31,211,31)"/><circle cx="518" cy="974" r="2.3" fill="rgb(18,122,18)"/><circle cx="541" cy="959" r="2.2" fill="rgb(24,161,24)"/><circle cx="671" cy="920" r="2.4" fill="rgb(10,71,10)"/><circle cx="472" cy="960" r="1.7" fill="rgb(32,216,32)"/><circle cx="491" cy="961" r="1.5" fill="rgb(34,232,34)"/><circle cx="462" cy="940" r="1.4" fill="rgb(23,158,23)"/><circle cx="455" cy="991" r="1.8" fill="rgb(29,199,29)"/><circle cx="485" cy="959" r="2.1" fill="rgb(38,255,38)"/><circle cx="451" cy="984" r="1.9" fill="rgb(30,200,30)"/><circle cx="516" cy="922" r="1.9" fill="rgb(19,132,19)"/><circle cx="449" cy="1020" r="2.2" fill="rgb(26,177,26)"/><circle cx="466" cy="1003" r="1.5" fill="rgb(29,198,29)"/><circle cx="463" cy="924" r="1.5" fill="rgb(18,122,18)"/><circle cx="455" cy="993" r="1.9" fill="rgb(35,238,35)"/><circle cx="587" cy="937" r="2.1" fill="rgb(18,125,18)"/><circle cx="611" cy="920" r="2.2" fill="rgb(12,84,12)"/><circle cx="519" cy="934" r="1.7" fill="rgb(24,164,24)"/><circle cx="558" cy="990" r="1.2" fill="rgb(12,83,12)"/><circle cx="463" cy="1021" r="1.6" fill="rgb(28,190,28)"/><circle cx="470" cy="1019" r="1.2" fill="rgb(15,106,15)"/><circle cx="468" cy="1039" r="2.0" fill="rgb(20,136,20)"/><circle cx="468" cy="989" r="1.0" fill="rgb(32,216,32)"/><circle cx="518" cy="954" r="1.9" fill="rgb(36,243,36)"/><circle cx="574" cy="979" r="2.3" fill="rgb(21,143,21)"/><circle cx="597" cy="939" r="2.4" fill="rgb(14,98,14)"/><circle cx="553" cy="984" r="1.9" fill="rgb(15,100,15)"/><circle cx="448" cy="999" r="2.0" fill="rgb(24,161,24)"/><circle cx="573" cy="979" r="1.8" fill="rgb(17,117,17)"/><circle cx="475" cy="939" r="2.3" fill="rgb(23,159,23)"/><circle cx="490" cy="962" r="1.4" fill="rgb(28,188,28)"/><circle cx="509" cy="944" r="1.3" fill="rgb(28,193,28)"/><circle cx="471" cy="928" r="1.7" fill="rgb(26,178,26)"/><circle cx="453" cy="1038" r="2.1" fill="rgb(31,211,31)"/><circle cx="586" cy="936" r="2.2" fill="rgb(16,113,16)"/><circle cx="456" cy="1007" r="2.1" fill="rgb(38,255,38)"/><circle cx="479" cy="965" r="1.8" fill="rgb(30,200,30)"/><circle cx="570" cy="989" r="2.0" fill="rgb(14,99,14)"/><circle cx="560" cy="971" r="1.8" fill="rgb(21,145,21)"/><circle cx="493" cy="936" r="1.2" fill="rgb(27,185,27)"/><circle cx="517" cy="962" r="1.3" fill="rgb(27,182,27)"/><circle cx="450" cy="915" r="2.1" fill="rgb(15,101,15)"/><circle cx="465" cy="1047" r="2.1" fill="rgb(31,207,31)"/><circle cx="448" cy="948" r="1.4" fill="rgb(23,157,23)"/><circle cx="460" cy="1027" r="2.1" fill="rgb(27,181,27)"/><circle cx="518" cy="965" r="1.2" fill="rgb(27,183,27)"/><circle cx="436" cy="993" r="1.2" fill="rgb(10,73,10)"/><circle cx="582" cy="925" r="2.2" fill="rgb(14,95,14)"/><circle cx="442" cy="1020" r="1.4" fill="rgb(22,147,22)"/><circle cx="517" cy="929" r="2.1" fill="rgb(24,161,24)"/><circle cx="488" cy="962" r="1.9" fill="rgb(38,255,38)"/><circle cx="466" cy="947" r="2.2" fill="rgb(29,195,29)"/><circle cx="489" cy="978" r="1.4" fill="rgb(14,96,14)"/><circle cx="466" cy="995" r="1.1" fill="rgb(25,173,25)"/><circle cx="499" cy="948" r="2.3" fill="rgb(37,248,37)"/><circle cx="465" cy="1040" r="1.6" fill="rgb(22,150,22)"/><circle cx="443" cy="1032" r="1.1" fill="rgb(22,152,22)"/><circle cx="471" cy="940" r="1.5" fill="rgb(26,177,26)"/><circle cx="473" cy="972" r="2.0" fill="rgb(35,236,35)"/><circle cx="495" cy="946" r="1.4" fill="rgb(27,180,27)"/><circle cx="498" cy="969" r="1.3" fill="rgb(21,145,21)"/><circle cx="463" cy="983" r="1.0" fill="rgb(37,248,37)"/><circle cx="580" cy="934" r="2.0" fill="rgb(15,102,15)"/><circle cx="452" cy="933" r="1.8" fill="rgb(25,168,25)"/><circle cx="557" cy="925" r="1.7" fill="rgb(19,127,19)"/><circle cx="453" cy="971" r="1.5" fill="rgb(21,142,21)"/><circle cx="516" cy="961" r="1.0" fill="rgb(32,219,32)"/><circle cx="572" cy="978" r="1.4" fill="rgb(17,114,17)"/><circle cx="494" cy="960" r="1.8" fill="rgb(34,230,34)"/><circle cx="446" cy="1002" r="2.0" fill="rgb(28,192,28)"/><circle cx="537" cy="939" r="1.5" fill="rgb(21,145,21)"/><circle cx="564" cy="925" r="1.2" fill="rgb(16,112,16)"/><circle cx="453" cy="1036" r="2.2" fill="rgb(36,244,36)"/><circle cx="611" cy="940" r="2.0" fill="rgb(13,88,13)"/><circle cx="496" cy="969" r="1.2" fill="rgb(26,177,26)"/><circle cx="514" cy="943" r="1.7" fill="rgb(27,182,27)"/><circle cx="464" cy="943" r="1.7" fill="rgb(24,166,24)"/><circle cx="594" cy="974" r="1.3" fill="rgb(13,90,13)"/><circle cx="471" cy="976" r="1.8" fill="rgb(26,179,26)"/><circle cx="567" cy="978" r="1.1" fill="rgb(19,128,19)"/><circle cx="553" cy="981" r="1.0" fill="rgb(19,127,19)"/><circle cx="485" cy="952" r="2.0" fill="rgb(30,202,30)"/><circle cx="451" cy="935" r="1.7" fill="rgb(25,168,25)"/><circle cx="592" cy="925" r="1.9" fill="rgb(15,103,15)"/><circle cx="658" cy="1042" r="1.4" fill="rgb(10,71,10)"/><circle cx="460" cy="1036" r="2.0" fill="rgb(38,255,38)"/><circle cx="535" cy="964" r="1.3" fill="rgb(26,176,26)"/><circle cx="443" cy="1032" r="1.8" fill="rgb(27,183,27)"/><circle cx="474" cy="966" r="1.6" fill="rgb(32,218,32)"/><circle cx="504" cy="974" r="2.1" fill="rgb(15,100,15)"/><circle cx="452" cy="1034" r="1.1" fill="rgb(31,209,31)"/><circle cx="534" cy="945" r="1.9" fill="rgb(20,137,20)"/><circle cx="438" cy="1046" r="1.7" fill="rgb(18,124,18)"/><circle cx="455" cy="982" r="2.1" fill="rgb(36,241,36)"/><circle cx="440" cy="1030" r="2.2" fill="rgb(20,137,20)"/><circle cx="569" cy="965" r="1.4" fill="rgb(15,101,15)"/><circle cx="493" cy="967" r="1.7" fill="rgb(27,181,27)"/><circle cx="494" cy="967" r="2.1" fill="rgb(27,181,27)"/><circle cx="462" cy="1005" r="1.2" fill="rgb(26,175,26)"/><circle cx="449" cy="1003" r="1.2" fill="rgb(31,212,31)"/><circle cx="454" cy="1026" r="1.9" fill="rgb(30,200,30)"/><circle cx="498" cy="953" r="1.1" fill="rgb(38,255,38)"/><circle cx="527" cy="967" r="2.0" fill="rgb(25,173,25)"/><circle cx="486" cy="936" r="2.4" fill="rgb(29,196,29)"/><circle cx="452" cy="1015" r="1.3" fill="rgb(38,255,38)"/><circle cx="530" cy="965" r="1.6" fill="rgb(23,156,23)"/><circle cx="588" cy="927" r="1.5" fill="rgb(16,110,16)"/><circle cx="499" cy="962" r="1.8" fill="rgb(26,175,26)"/><circle cx="497" cy="930" r="1.3" fill="rgb(24,160,24)"/><circle cx="534" cy="953" r="1.9" fill="rgb(21,142,21)"/><circle cx="540" cy="908" r="1.7" fill="rgb(12,80,12)"/><circle cx="479" cy="937" r="1.3" fill="rgb(27,183,27)"/><circle cx="453" cy="989" r="2.2" fill="rgb(25,167,25)"/><circle cx="460" cy="973" r="1.3" fill="rgb(26,176,26)"/><circle cx="462" cy="942" r="1.2" fill="rgb(33,222,33)"/><circle cx="540" cy="937" r="2.0" fill="rgb(19,131,19)"/><circle cx="613" cy="967" r="1.0" fill="rgb(12,80,12)"/><circle cx="595" cy="962" r="1.1" fill="rgb(12,85,12)"/><circle cx="540" cy="978" r="1.8" fill="rgb(20,137,20)"/><circle cx="453" cy="1044" r="2.3" fill="rgb(38,255,38)"/><circle cx="487" cy="948" r="2.3" fill="rgb(27,181,27)"/><circle cx="562" cy="954" r="1.5" fill="rgb(15,103,15)"/><circle cx="467" cy="965" r="1.7" fill="rgb(33,223,33)"/><circle cx="455" cy="1036" r="2.3" fill="rgb(30,203,30)"/><circle cx="469" cy="967" r="1.1" fill="rgb(33,222,33)"/><circle cx="484" cy="964" r="1.3" fill="rgb(37,251,37)"/><circle cx="463" cy="980" r="2.1" fill="rgb(29,194,29)"/><circle cx="476" cy="948" r="1.9" fill="rgb(26,178,26)"/><circle cx="474" cy="964" r="1.6" fill="rgb(29,198,29)"/><circle cx="460" cy="1003" r="1.7" fill="rgb(26,177,26)"/><circle cx="475" cy="983" r="2.0" fill="rgb(20,139,20)"/><circle cx="578" cy="976" r="2.0" fill="rgb(20,136,20)"/><circle cx="502" cy="941" r="1.5" fill="rgb(28,193,28)"/><circle cx="541" cy="930" r="1.5" fill="rgb(21,142,21)"/><circle cx="520" cy="935" r="2.4" fill="rgb(18,124,18)"/><circle cx="491" cy="948" r="2.0" fill="rgb(22,153,22)"/><circle cx="441" cy="1026" r="2.1" fill="rgb(23,155,23)"/><circle cx="444" cy="1005" r="1.1" fill="rgb(24,164,24)"/><circle cx="453" cy="995" r="2.3" fill="rgb(29,195,29)"/><circle cx="612" cy="960" r="1.6" fill="rgb(13,88,13)"/><circle cx="448" cy="927" r="1.3" fill="rgb(24,164,24)"/><circle cx="605" cy="945" r="1.0" fill="rgb(14,94,14)"/><circle cx="557" cy="957" r="1.7" fill="rgb(15,100,15)"/><circle cx="548" cy="971" r="1.9" fill="rgb(20,139,20)"/><circle cx="551" cy="964" r="2.1" fill="rgb(22,148,22)"/><circle cx="502" cy="969" r="2.1" fill="rgb(20,136,20)"/><circle cx="446" cy="1039" r="1.0" fill="rgb(30,204,30)"/><circle cx="483" cy="953" r="2.2" fill="rgb(29,199,29)"/><circle cx="475" cy="971" r="2.1" fill="rgb(29,196,29)"/><circle cx="559" cy="983" r="1.3" fill="rgb(17,117,17)"/><circle cx="468" cy="1014" r="2.2" fill="rgb(27,182,27)"/><circle cx="503" cy="939" r="1.1" fill="rgb(23,154,23)"/><circle cx="528" cy="939" r="1.1" fill="rgb(24,161,24)"/><circle cx="465" cy="944" r="1.3" fill="rgb(25,171,25)"/><circle cx="448" cy="1000" r="1.1" fill="rgb(29,194,29)"/><circle cx="479" cy="985" r="1.3" fill="rgb(17,114,17)"/><circle cx="446" cy="911" r="1.3" fill="rgb(14,98,14)"/><circle cx="476" cy="947" r="1.2" fill="rgb(28,189,28)"/><circle cx="547" cy="979" r="2.0" fill="rgb(18,120,18)"/><circle cx="481" cy="954" r="1.3" fill="rgb(38,255,38)"/><circle cx="655" cy="996" r="1.2" fill="rgb(12,83,12)"/><circle cx="510" cy="959" r="2.1" fill="rgb(35,238,35)"/><circle cx="456" cy="996" r="1.9" fill="rgb(28,187,28)"/><circle cx="444" cy="1036" r="1.5" fill="rgb(30,202,30)"/><circle cx="464" cy="999" r="2.3" fill="rgb(34,233,34)"/><circle cx="450" cy="1042" r="1.9" fill="rgb(32,218,32)"/><circle cx="541" cy="963" r="1.7" fill="rgb(21,141,21)"/><circle cx="569" cy="981" r="1.8" fill="rgb(21,145,21)"/><circle cx="491" cy="917" r="1.2" fill="rgb(16,107,16)"/><circle cx="511" cy="960" r="1.7" fill="rgb(25,172,25)"/><circle cx="506" cy="952" r="1.8" fill="rgb(27,184,27)"/><circle cx="454" cy="1001" r="2.0" fill="rgb(38,255,38)"/><circle cx="440" cy="1027" r="1.5" fill="rgb(16,112,16)"/><circle cx="480" cy="965" r="1.3" fill="rgb(36,240,36)"/><circle cx="446" cy="990" r="1.1" fill="rgb(16,108,16)"/><circle cx="445" cy="1044" r="1.4" fill="rgb(32,217,32)"/><circle cx="440" cy="1010" r="2.3" fill="rgb(17,118,17)"/><circle cx="512" cy="938" r="1.2" fill="rgb(22,148,22)"/><circle cx="601" cy="920" r="1.2" fill="rgb(13,92,13)"/><circle cx="459" cy="1005" r="2.3" fill="rgb(38,255,38)"/><circle cx="560" cy="986" r="2.1" fill="rgb(17,116,17)"/><circle cx="468" cy="990" r="1.6" fill="rgb(29,199,29)"/><circle cx="457" cy="976" r="1.9" fill="rgb(27,184,27)"/><circle cx="448" cy="926" r="2.2" fill="rgb(22,151,22)"/><circle cx="586" cy="918" r="2.2" fill="rgb(14,95,14)"/><circle cx="448" cy="1019" r="1.5" fill="rgb(38,255,38)"/><circle cx="462" cy="982" r="1.3" fill="rgb(31,211,31)"/><circle cx="501" cy="966" r="1.9" fill="rgb(34,231,34)"/><circle cx="528" cy="917" r="1.9" fill="rgb(13,92,13)"/><circle cx="431" cy="927" r="2.0" fill="rgb(10,72,10)"/><circle cx="473" cy="991" r="2.0" fill="rgb(23,156,23)"/><circle cx="462" cy="947" r="1.4" fill="rgb(22,148,22)"/><circle cx="537" cy="939" r="1.7" fill="rgb(24,166,24)"/><circle cx="499" cy="927" r="1.6" fill="rgb(18,125,18)"/><circle cx="444" cy="1006" r="1.4" fill="rgb(19,133,19)"/><circle cx="512" cy="968" r="1.1" fill="rgb(27,183,27)"/><circle cx="440" cy="1020" r="2.3" fill="rgb(20,136,20)"/><circle cx="480" cy="946" r="2.3" fill="rgb(24,164,24)"/><circle cx="521" cy="968" r="2.4" fill="rgb(28,189,28)"/><circle cx="611" cy="916" r="1.9" fill="rgb(12,83,12)"/><circle cx="452" cy="968" r="1.9" fill="rgb(16,107,16)"/><circle cx="445" cy="1002" r="1.3" fill="rgb(24,161,24)"/><circle cx="457" cy="928" r="1.4" fill="rgb(25,170,25)"/><circle cx="508" cy="927" r="1.0" fill="rgb(22,152,22)"/><circle cx="466" cy="924" r="2.3" fill="rgb(23,156,23)"/><circle cx="553" cy="972" r="1.4" fill="rgb(22,151,22)"/><circle cx="493" cy="954" r="1.1" fill="rgb(29,196,29)"/><circle cx="562" cy="949" r="2.0" fill="rgb(19,129,19)"/><circle cx="521" cy="932" r="1.7" fill="rgb(20,137,20)"/><circle cx="451" cy="987" r="1.7" fill="rgb(29,198,29)"/><circle cx="473" cy="980" r="2.1" fill="rgb(34,227,34)"/><circle cx="448" cy="938" r="2.0" fill="rgb(29,199,29)"/><circle cx="606" cy="1031" r="2.3" fill="rgb(10,72,10)"/><circle cx="497" cy="942" r="2.4" fill="rgb(28,189,28)"/><circle cx="488" cy="966" r="1.1" fill="rgb(26,175,26)"/><circle cx="461" cy="1014" r="1.4" fill="rgb(25,171,25)"/><circle cx="556" cy="964" r="1.0" fill="rgb(19,128,19)"/><circle cx="679" cy="975" r="1.1" fill="rgb(10,72,10)"/><circle cx="481" cy="962" r="1.4" fill="rgb(30,203,30)"/><circle cx="607" cy="985" r="1.6" fill="rgb(15,103,15)"/><circle cx="459" cy="994" r="2.1" fill="rgb(32,216,32)"/><circle cx="566" cy="981" r="2.1" fill="rgb(22,153,22)"/><circle cx="525" cy="941" r="1.3" fill="rgb(20,134,20)"/><circle cx="530" cy="945" r="1.9" fill="rgb(25,169,25)"/><circle cx="453" cy="1011" r="1.4" fill="rgb(38,255,38)"/><circle cx="480" cy="929" r="1.3" fill="rgb(23,157,23)"/><circle cx="445" cy="1013" r="2.2" fill="rgb(26,177,26)"/><circle cx="539" cy="979" r="2.3" fill="rgb(16,110,16)"/><circle cx="591" cy="925" r="2.4" fill="rgb(15,101,15)"/><circle cx="469" cy="1040" r="2.2" fill="rgb(20,136,20)"/><circle cx="520" cy="962" r="1.5" fill="rgb(28,191,28)"/><circle cx="547" cy="1008" r="1.5" fill="rgb(10,72,10)"/><circle cx="462" cy="991" r="2.3" fill="rgb(32,215,32)"/><circle cx="502" cy="954" r="2.3" fill="rgb(38,255,38)"/><circle cx="455" cy="913" r="1.3" fill="rgb(14,94,14)"/><circle cx="470" cy="958" r="1.9" fill="rgb(30,201,30)"/><circle cx="460" cy="1034" r="2.3" fill="rgb(34,233,34)"/><circle cx="547" cy="945" r="2.2" fill="rgb(16,112,16)"/><circle cx="620" cy="1032" r="1.9" fill="rgb(10,71,10)"/><circle cx="629" cy="932" r="1.7" fill="rgb(12,86,12)"/><circle cx="633" cy="927" r="1.8" fill="rgb(11,78,11)"/><circle cx="462" cy="1032" r="1.9" fill="rgb(26,178,26)"/><circle cx="467" cy="1022" r="1.7" fill="rgb(25,172,25)"/><circle cx="676" cy="937" r="1.3" fill="rgb(10,71,10)"/><circle cx="486" cy="958" r="1.1" fill="rgb(34,232,34)"/><circle cx="481" cy="929" r="1.6" fill="rgb(22,149,22)"/><circle cx="600" cy="931" r="2.3" fill="rgb(14,97,14)"/><circle cx="465" cy="924" r="2.1" fill="rgb(21,141,21)"/><circle cx="448" cy="1026" r="1.3" fill="rgb(33,221,33)"/><circle cx="579" cy="942" r="2.0" fill="rgb(17,119,17)"/><circle cx="472" cy="930" r="1.6" fill="rgb(23,158,23)"/><circle cx="457" cy="1002" r="1.1" fill="rgb(36,244,36)"/><circle cx="485" cy="956" r="1.6" fill="rgb(34,231,34)"/><circle cx="580" cy="928" r="2.4" fill="rgb(16,112,16)"/><circle cx="447" cy="1036" r="2.2" fill="rgb(38,255,38)"/><circle cx="430" cy="993" r="1.7" fill="rgb(10,72,10)"/><circle cx="465" cy="962" r="1.9" fill="rgb(29,198,29)"/><circle cx="577" cy="1004" r="2.3" fill="rgb(10,72,10)"/><circle cx="452" cy="1022" r="2.1" fill="rgb(36,244,36)"/><circle cx="438" cy="1028" r="2.1" fill="rgb(14,94,14)"/><circle cx="539" cy="922" r="1.5" fill="rgb(15,101,15)"/><circle cx="589" cy="909" r="1.3" fill="rgb(11,78,11)"/><circle cx="495" cy="965" r="2.1" fill="rgb(38,255,38)"/><circle cx="447" cy="941" r="1.5" fill="rgb(27,182,27)"/><circle cx="640" cy="1037" r="2.3" fill="rgb(10,72,10)"/><circle cx="507" cy="934" r="1.4" fill="rgb(23,155,23)"/><circle cx="514" cy="959" r="1.6" fill="rgb(35,239,35)"/><circle cx="547" cy="949" r="2.2" fill="rgb(19,133,19)"/><circle cx="647" cy="1037" r="1.7" fill="rgb(10,72,10)"/><circle cx="544" cy="926" r="1.5" fill="rgb(20,135,20)"/><circle cx="558" cy="936" r="2.0" fill="rgb(17,117,17)"/><circle cx="461" cy="1011" r="2.1" fill="rgb(37,253,37)"/><circle cx="555" cy="977" r="2.2" fill="rgb(19,127,19)"/><circle cx="451" cy="993" r="1.5" fill="rgb(24,166,24)"/><circle cx="456" cy="993" r="2.1" fill="rgb(37,247,37)"/><circle cx="539" cy="974" r="1.4" fill="rgb(23,154,23)"/><circle cx="453" cy="927" r="1.0" fill="rgb(19,133,19)"/><circle cx="490" cy="957" r="1.4" fill="rgb(37,248,37)"/><circle cx="509" cy="963" r="1.9" fill="rgb(32,214,32)"/><circle cx="554" cy="912" r="1.8" fill="rgb(12,82,12)"/><circle cx="496" cy="951" r="1.1" fill="rgb(33,224,33)"/><circle cx="558" cy="965" r="1.8" fill="rgb(19,132,19)"/><circle cx="482" cy="943" r="1.1" fill="rgb(27,184,27)"/><circle cx="573" cy="942" r="1.9" fill="rgb(17,118,17)"/><circle cx="503" cy="964" r="1.2" fill="rgb(34,233,34)"/><circle cx="573" cy="944" r="2.2" fill="rgb(19,127,19)"/><circle cx="514" cy="966" r="2.1" fill="rgb(31,212,31)"/><circle cx="448" cy="1026" r="2.1" fill="rgb(26,174,26)"/><circle cx="519" cy="927" r="1.7" fill="rgb(19,129,19)"/><circle cx="544" cy="938" r="1.1" fill="rgb(18,126,18)"/><circle cx="462" cy="978" r="2.0" fill="rgb(29,195,29)"/><circle cx="468" cy="1029" r="1.1" fill="rgb(25,167,25)"/><circle cx="535" cy="963" r="1.9" fill="rgb(27,182,27)"/><circle cx="455" cy="977" r="1.3" fill="rgb(31,208,31)"/><circle cx="458" cy="996" r="1.4" fill="rgb(36,240,36)"/><circle cx="606" cy="919" r="1.1" fill="rgb(12,81,12)"/><circle cx="521" cy="911" r="2.1" fill="rgb(13,91,13)"/><circle cx="497" cy="954" r="2.3" fill="rgb(34,227,34)"/><circle cx="466" cy="1045" r="1.1" fill="rgb(30,201,30)"/><circle cx="457" cy="1026" r="1.7" fill="rgb(29,196,29)"/><circle cx="540" cy="943" r="1.6" fill="rgb(17,118,17)"/><circle cx="487" cy="948" r="1.2" fill="rgb(23,158,23)"/><circle cx="508" cy="943" r="1.8" fill="rgb(29,195,29)"/><circle cx="454" cy="914" r="1.4" fill="rgb(16,113,16)"/><circle cx="523" cy="931" r="2.0" fill="rgb(21,142,21)"/><circle cx="519" cy="968" r="2.4" fill="rgb(22,152,22)"/><circle cx="424" cy="913" r="1.7" fill="rgb(10,72,10)"/><circle cx="455" cy="1022" r="2.4" fill="rgb(31,208,31)"/><circle cx="594" cy="929" r="2.3" fill="rgb(16,111,16)"/><circle cx="445" cy="1022" r="1.5" fill="rgb(26,177,26)"/><circle cx="598" cy="939" r="1.2" fill="rgb(16,109,16)"/><circle cx="472" cy="974" r="2.4" fill="rgb(31,208,31)"/><circle cx="447" cy="944" r="1.6" fill="rgb(30,205,30)"/><circle cx="504" cy="964" r="1.1" fill="rgb(36,244,36)"/><circle cx="556" cy="946" r="1.8" fill="rgb(21,141,21)"/><circle cx="470" cy="939" r="1.6" fill="rgb(28,191,28)"/><circle cx="443" cy="1033" r="1.7" fill="rgb(24,164,24)"/><circle cx="513" cy="940" r="2.3" fill="rgb(21,146,21)"/><circle cx="489" cy="968" r="1.2" fill="rgb(32,216,32)"/><circle cx="615" cy="996" r="1.4" fill="rgb(14,94,14)"/><circle cx="601" cy="911" r="2.4" fill="rgb(12,80,12)"/><circle cx="565" cy="919" r="1.6" fill="rgb(15,101,15)"/><circle cx="507" cy="970" r="1.0" fill="rgb(23,157,23)"/><circle cx="471" cy="947" r="1.0" fill="rgb(27,181,27)"/><circle cx="497" cy="933" r="1.0" fill="rgb(25,169,25)"/><circle cx="453" cy="968" r="1.0" fill="rgb(19,129,19)"/><circle cx="451" cy="1040" r="1.2" fill="rgb(38,255,38)"/><circle cx="639" cy="930" r="1.8" fill="rgb(12,83,12)"/><circle cx="443" cy="1026" r="1.9" fill="rgb(23,157,23)"/><circle cx="513" cy="956" r="1.2" fill="rgb(30,204,30)"/><circle cx="466" cy="984" r="1.1" fill="rgb(29,195,29)"/><circle cx="459" cy="1026" r="1.7" fill="rgb(33,220,33)"/><circle cx="541" cy="1005" r="1.0" fill="rgb(10,72,10)"/><circle cx="558" cy="930" r="1.9" fill="rgb(16,107,16)"/><circle cx="532" cy="970" r="1.3" fill="rgb(21,145,21)"/><circle cx="543" cy="968" r="1.0" fill="rgb(21,146,21)"/><circle cx="461" cy="924" r="1.1" fill="rgb(25,171,25)"/><circle cx="453" cy="942" r="2.2" fill="rgb(27,185,27)"/><circle cx="472" cy="958" r="1.4" fill="rgb(26,178,26)"/><circle cx="545" cy="970" r="2.2" fill="rgb(21,144,21)"/><circle cx="441" cy="1039" r="1.3" fill="rgb(25,169,25)"/><circle cx="521" cy="931" r="1.6" fill="rgb(23,155,23)"/><circle cx="596" cy="932" r="1.9" fill="rgb(16,112,16)"/><circle cx="591" cy="994" r="1.5" fill="rgb(13,92,13)"/><circle cx="481" cy="969" r="2.0" fill="rgb(33,226,33)"/><circle cx="584" cy="948" r="2.2" fill="rgb(15,106,15)"/><circle cx="480" cy="941" r="1.9" fill="rgb(25,173,25)"/><circle cx="456" cy="1021" r="2.1" fill="rgb(38,255,38)"/><circle cx="459" cy="925" r="1.1" fill="rgb(22,150,22)"/><circle cx="537" cy="979" r="1.9" fill="rgb(14,99,14)"/><circle cx="599" cy="983" r="1.5" fill="rgb(15,106,15)"/><circle cx="610" cy="944" r="1.0" fill="rgb(15,102,15)"/><circle cx="449" cy="943" r="2.0" fill="rgb(29,198,29)"/><circle cx="545" cy="936" r="2.1" fill="rgb(22,150,22)"/><circle cx="492" cy="955" r="1.6" fill="rgb(38,255,38)"/><circle cx="586" cy="918" r="1.5" fill="rgb(13,87,13)"/><circle cx="458" cy="1011" r="1.4" fill="rgb(38,255,38)"/><circle cx="450" cy="1039" r="1.8" fill="rgb(32,214,32)"/><circle cx="448" cy="1023" r="2.1" fill="rgb(28,189,28)"/><circle cx="483" cy="925" r="1.7" fill="rgb(19,127,19)"/><circle cx="447" cy="957" r="1.6" fill="rgb(20,139,20)"/><circle cx="508" cy="1019" r="1.8" fill="rgb(10,72,10)"/><circle cx="465" cy="929" r="2.3" fill="rgb(28,193,28)"/><circle cx="598" cy="942" r="1.8" fill="rgb(17,117,17)"/><circle cx="557" cy="978" r="2.4" fill="rgb(19,128,19)"/><circle cx="451" cy="945" r="1.3" fill="rgb(31,213,31)"/><circle cx="471" cy="1043" r="1.6" fill="rgb(16,110,16)"/><circle cx="562" cy="968" r="1.5" fill="rgb(17,116,17)"/><circle cx="549" cy="971" r="1.3" fill="rgb(25,172,25)"/><circle cx="464" cy="1047" r="1.2" fill="rgb(25,172,25)"/><circle cx="457" cy="1038" r="1.5" fill="rgb(29,195,29)"/><circle cx="459" cy="944" r="1.1" fill="rgb(25,168,25)"/><circle cx="479" cy="938" r="1.3" fill="rgb(26,178,26)"/><circle cx="517" cy="935" r="2.3" fill="rgb(20,139,20)"/><circle cx="472" cy="968" r="1.5" fill="rgb(38,255,38)"/><circle cx="455" cy="929" r="2.1" fill="rgb(20,137,20)"/><circle cx="475" cy="953" r="1.7" fill="rgb(35,235,35)"/><circle cx="512" cy="947" r="2.0" fill="rgb(23,156,23)"/><circle cx="529" cy="949" r="2.1" fill="rgb(26,174,26)"/><circle cx="593" cy="935" r="2.3" fill="rgb(14,98,14)"/><circle cx="439" cy="1022" r="2.3" fill="rgb(15,102,15)"/><circle cx="452" cy="972" r="2.3" fill="rgb(17,118,17)"/><circle cx="545" cy="962" r="2.4" fill="rgb(27,181,27)"/><circle cx="476" cy="976" r="1.9" fill="rgb(27,186,27)"/><circle cx="455" cy="1043" r="1.8" fill="rgb(28,188,28)"/><circle cx="600" cy="926" r="1.6" fill="rgb(13,87,13)"/><circle cx="541" cy="961" r="2.2" fill="rgb(21,144,21)"/><circle cx="461" cy="922" r="1.2" fill="rgb(23,159,23)"/><circle cx="566" cy="966" r="1.8" fill="rgb(16,108,16)"/><circle cx="446" cy="972" r="1.6" fill="rgb(14,97,14)"/><circle cx="503" cy="953" r="1.9" fill="rgb(33,226,33)"/><circle cx="542" cy="932" r="2.2" fill="rgb(20,136,20)"/><circle cx="574" cy="966" r="1.6" fill="rgb(13,93,13)"/><circle cx="469" cy="1039" r="1.3" fill="rgb(17,116,17)"/><circle cx="471" cy="997" r="1.3" fill="rgb(24,161,24)"/><circle cx="471" cy="931" r="1.5" fill="rgb(25,173,25)"/><circle cx="478" cy="979" r="2.3" fill="rgb(24,162,24)"/><circle cx="455" cy="1034" r="1.7" fill="rgb(29,195,29)"/><circle cx="468" cy="932" r="2.1" fill="rgb(27,186,27)"/><circle cx="459" cy="1043" r="2.4" fill="rgb(28,189,28)"/><circle cx="482" cy="959" r="2.2" fill="rgb(27,184,27)"/><circle cx="532" cy="959" r="1.3" fill="rgb(29,199,29)"/><circle cx="444" cy="1004" r="1.6" fill="rgb(21,140,21)"/><circle cx="522" cy="957" r="1.8" fill="rgb(35,238,35)"/><circle cx="544" cy="916" r="1.4" fill="rgb(13,90,13)"/><circle cx="486" cy="975" r="1.7" fill="rgb(20,137,20)"/><circle cx="461" cy="1042" r="1.9" fill="rgb(38,255,38)"/><circle cx="475" cy="980" r="2.3" fill="rgb(25,172,25)"/><circle cx="463" cy="933" r="1.0" fill="rgb(27,185,27)"/><circle cx="439" cy="1040" r="2.0" fill="rgb(16,113,16)"/><circle cx="573" cy="969" r="1.7" fill="rgb(15,102,15)"/><circle cx="526" cy="939" r="1.4" fill="rgb(23,158,23)"/><circle cx="536" cy="981" r="1.1" fill="rgb(13,88,13)"/><circle cx="485" cy="1005" r="2.2" fill="rgb(10,71,10)"/><circle cx="475" cy="927" r="1.8" fill="rgb(22,148,22)"/><circle cx="457" cy="971" r="1.8" fill="rgb(25,171,25)"/><circle cx="490" cy="1020" r="1.4" fill="rgb(10,72,10)"/><circle cx="447" cy="951" r="1.3" fill="rgb(24,162,24)"/><circle cx="545" cy="947" r="1.0" fill="rgb(18,124,18)"/><circle cx="672" cy="988" r="1.1" fill="rgb(13,87,13)"/><circle cx="486" cy="912" r="1.9" fill="rgb(15,103,15)"/><circle cx="485" cy="941" r="1.3" fill="rgb(31,208,31)"/><circle cx="448" cy="1034" r="2.4" fill="rgb(27,180,27)"/><circle cx="538" cy="930" r="1.4" fill="rgb(21,145,21)"/><circle cx="451" cy="1034" r="1.3" fill="rgb(37,249,37)"/><circle cx="441" cy="1020" r="1.6" fill="rgb(21,140,21)"/><circle cx="487" cy="936" r="2.4" fill="rgb(22,147,22)"/><circle cx="478" cy="948" r="2.4" fill="rgb(30,203,30)"/><circle cx="535" cy="948" r="2.2" fill="rgb(23,159,23)"/><circle cx="488" cy="960" r="2.1" fill="rgb(29,194,29)"/><circle cx="558" cy="948" r="2.1" fill="rgb(19,133,19)"/><circle cx="653" cy="991" r="1.6" fill="rgb(13,87,13)"/><circle cx="576" cy="970" r="2.2" fill="rgb(14,97,14)"/><circle cx="460" cy="971" r="2.0" fill="rgb(30,201,30)"/><circle cx="548" cy="941" r="1.6" fill="rgb(23,158,23)"/><circle cx="458" cy="1011" r="1.8" fill="rgb(38,255,38)"/><circle cx="461" cy="1010" r="2.2" fill="rgb(36,242,36)"/><circle cx="481" cy="950" r="1.6" fill="rgb(21,145,21)"/><circle cx="451" cy="953" r="1.3" fill="rgb(23,154,23)"/><circle cx="458" cy="909" r="2.0" fill="rgb(14,99,14)"/><circle cx="450" cy="990" r="1.6" fill="rgb(32,216,32)"/><circle cx="471" cy="984" r="2.4" fill="rgb(32,218,32)"/><circle cx="513" cy="942" r="1.7" fill="rgb(22,152,22)"/><circle cx="472" cy="975" r="1.6" fill="rgb(29,197,29)"/><circle cx="538" cy="962" r="1.7" fill="rgb(32,216,32)"/><circle cx="587" cy="916" r="1.1" fill="rgb(12,81,12)"/><circle cx="457" cy="1023" r="1.7" fill="rgb(28,193,28)"/><circle cx="450" cy="1014" r="1.1" fill="rgb(38,255,38)"/><circle cx="557" cy="1002" r="1.6" fill="rgb(10,72,10)"/><circle cx="452" cy="1037" r="1.7" fill="rgb(38,255,38)"/><circle cx="459" cy="937" r="1.1" fill="rgb(28,193,28)"/><circle cx="470" cy="939" r="1.6" fill="rgb(22,153,22)"/><circle cx="600" cy="995" r="1.3" fill="rgb(13,92,13)"/><circle cx="470" cy="971" r="1.8" fill="rgb(32,216,32)"/><circle cx="504" cy="952" r="1.1" fill="rgb(29,195,29)"/><circle cx="507" cy="956" r="1.5" fill="rgb(38,255,38)"/><circle cx="488" cy="958" r="1.3" fill="rgb(38,255,38)"/><circle cx="501" cy="952" r="1.2" fill="rgb(33,220,33)"/><circle cx="572" cy="933" r="1.6" fill="rgb(16,113,16)"/><circle cx="478" cy="920" r="2.4" fill="rgb(19,132,19)"/><circle cx="452" cy="1045" r="1.2" fill="rgb(34,233,34)"/><circle cx="474" cy="950" r="2.1" fill="rgb(29,198,29)"/><circle cx="511" cy="981" r="2.1" fill="rgb(11,79,11)"/><circle cx="560" cy="933" r="2.0" fill="rgb(19,127,19)"/><circle cx="464" cy="945" r="2.2" fill="rgb(24,166,24)"/><circle cx="444" cy="1015" r="1.7" fill="rgb(25,170,25)"/><circle cx="541" cy="915" r="1.0" fill="rgb(15,101,15)"/><circle cx="526" cy="938" r="2.2" fill="rgb(21,145,21)"/><circle cx="457" cy="944" r="1.2" fill="rgb(23,159,23)"/><circle cx="495" cy="970" r="1.5" fill="rgb(30,203,30)"/><circle cx="490" cy="965" r="2.0" fill="rgb(37,248,37)"/><circle cx="585" cy="926" r="1.8" fill="rgb(14,96,14)"/><circle cx="479" cy="933" r="2.0" fill="rgb(24,164,24)"/><circle cx="491" cy="952" r="1.6" fill="rgb(38,255,38)"/><circle cx="615" cy="997" r="1.4" fill="rgb(13,91,13)"/><circle cx="445" cy="1037" r="1.7" fill="rgb(36,246,36)"/><circle cx="489" cy="964" r="1.1" fill="rgb(33,220,33)"/><circle cx="510" cy="1044" r="1.8" fill="rgb(10,72,10)"/><circle cx="503" cy="945" r="1.6" fill="rgb(24,164,24)"/><circle cx="450" cy="996" r="1.8" fill="rgb(31,207,31)"/><circle cx="494" cy="932" r="1.7" fill="rgb(28,188,28)"/><circle cx="520" cy="946" r="1.8" fill="rgb(25,167,25)"/><circle cx="468" cy="1016" r="2.4" fill="rgb(22,147,22)"/><circle cx="508" cy="920" r="1.1" fill="rgb(17,115,17)"/><circle cx="465" cy="1001" r="1.1" fill="rgb(34,233,34)"/><circle cx="507" cy="950" r="1.1" fill="rgb(28,191,28)"/><circle cx="446" cy="928" r="1.2" fill="rgb(26,176,26)"/><circle cx="444" cy="1024" r="2.0" fill="rgb(28,187,28)"/><circle cx="467" cy="933" r="1.7" fill="rgb(27,186,27)"/><circle cx="463" cy="996" r="2.4" fill="rgb(27,184,27)"/><circle cx="463" cy="996" r="1.9" fill="rgb(36,243,36)"/><circle cx="458" cy="939" r="1.1" fill="rgb(33,221,33)"/><circle cx="463" cy="937" r="1.5" fill="rgb(33,222,33)"/><circle cx="548" cy="975" r="1.2" fill="rgb(18,126,18)"/><circle cx="625" cy="984" r="1.2" fill="rgb(14,94,14)"/><circle cx="496" cy="943" r="1.4" fill="rgb(26,174,26)"/><circle cx="453" cy="929" r="2.4" fill="rgb(21,142,21)"/><circle cx="499" cy="930" r="2.1" fill="rgb(26,176,26)"/><circle cx="464" cy="979" r="2.0" fill="rgb(28,193,28)"/><circle cx="542" cy="969" r="2.4" fill="rgb(29,195,29)"/><circle cx="449" cy="976" r="1.2" fill="rgb(20,134,20)"/><circle cx="503" cy="955" r="1.2" fill="rgb(27,180,27)"/><circle cx="469" cy="997" r="2.3" fill="rgb(23,154,23)"/><circle cx="501" cy="962" r="2.0" fill="rgb(38,255,38)"/><circle cx="626" cy="943" r="1.8" fill="rgb(13,87,13)"/><circle cx="462" cy="994" r="1.0" fill="rgb(37,247,37)"/><circle cx="523" cy="946" r="1.9" fill="rgb(21,142,21)"/><circle cx="490" cy="943" r="1.7" fill="rgb(29,197,29)"/><circle cx="469" cy="965" r="1.2" fill="rgb(36,243,36)"/><circle cx="470" cy="1027" r="2.3" fill="rgb(18,120,18)"/><circle cx="676" cy="921" r="1.8" fill="rgb(10,71,10)"/><circle cx="504" cy="964" r="1.1" fill="rgb(32,217,32)"/><circle cx="479" cy="966" r="2.3" fill="rgb(36,242,36)"/><circle cx="449" cy="1043" r="1.5" fill="rgb(38,255,38)"/><circle cx="542" cy="928" r="1.2" fill="rgb(18,126,18)"/><circle cx="593" cy="925" r="1.1" fill="rgb(13,92,13)"/><circle cx="502" cy="930" r="1.6" fill="rgb(25,168,25)"/><circle cx="493" cy="964" r="1.8" fill="rgb(33,225,33)"/><circle cx="443" cy="1026" r="2.3" fill="rgb(20,139,20)"/><circle cx="541" cy="946" r="2.3" fill="rgb(21,145,21)"/><circle cx="559" cy="919" r="1.2" fill="rgb(14,96,14)"/><circle cx="520" cy="943" r="1.7" fill="rgb(21,142,21)"/><circle cx="538" cy="959" r="2.3" fill="rgb(22,147,22)"/><circle cx="582" cy="935" r="1.7" fill="rgb(15,105,15)"/><circle cx="514" cy="955" r="1.3" fill="rgb(37,252,37)"/><circle cx="480" cy="1018" r="1.7" fill="rgb(10,72,10)"/><circle cx="447" cy="1034" r="1.7" fill="rgb(37,252,37)"/><circle cx="679" cy="911" r="1.7" fill="rgb(10,72,10)"/><circle cx="442" cy="989" r="1.8" fill="rgb(11,78,11)"/><circle cx="448" cy="947" r="2.1" fill="rgb(27,184,27)"/><circle cx="474" cy="969" r="2.1" fill="rgb(32,216,32)"/><circle cx="473" cy="920" r="1.8" fill="rgb(16,108,16)"/><circle cx="514" cy="956" r="1.3" fill="rgb(27,186,27)"/><circle cx="464" cy="983" r="1.0" fill="rgb(30,202,30)"/><circle cx="497" cy="949" r="1.7" fill="rgb(32,216,32)"/><circle cx="454" cy="985" r="1.7" fill="rgb(32,216,32)"/><circle cx="508" cy="931" r="1.0" fill="rgb(24,160,24)"/><circle cx="548" cy="963" r="2.1" fill="rgb(21,146,21)"/><circle cx="474" cy="945" r="1.1" fill="rgb(21,145,21)"/><circle cx="483" cy="948" r="1.1" fill="rgb(24,160,24)"/><circle cx="476" cy="922" r="1.3" fill="rgb(22,153,22)"/><circle cx="462" cy="1019" r="2.0" fill="rgb(27,186,27)"/><circle cx="464" cy="974" r="1.0" fill="rgb(29,196,29)"/><circle cx="506" cy="925" r="1.8" fill="rgb(19,131,19)"/><circle cx="493" cy="957" r="1.4" fill="rgb(33,222,33)"/><circle cx="447" cy="932" r="1.3" fill="rgb(25,171,25)"/><circle cx="441" cy="1031" r="1.6" fill="rgb(22,152,22)"/><circle cx="544" cy="933" r="1.4" fill="rgb(19,130,19)"/><circle cx="462" cy="908" r="2.0" fill="rgb(14,97,14)"/><circle cx="605" cy="950" r="2.4" fill="rgb(15,105,15)"/><circle cx="489" cy="936" r="1.6" fill="rgb(28,193,28)"/><circle cx="619" cy="931" r="1.7" fill="rgb(12,85,12)"/><circle cx="461" cy="936" r="1.9" fill="rgb(24,163,24)"/><circle cx="531" cy="965" r="1.5" fill="rgb(25,171,25)"/><circle cx="536" cy="973" r="1.4" fill="rgb(20,136,20)"/><circle cx="476" cy="958" r="1.5" fill="rgb(37,251,37)"/><circle cx="481" cy="960" r="1.5" fill="rgb(28,188,28)"/><circle cx="467" cy="1006" r="1.0" fill="rgb(22,147,22)"/><circle cx="507" cy="943" r="1.8" fill="rgb(21,140,21)"/><circle cx="453" cy="1022" r="1.9" fill="rgb(38,255,38)"/><circle cx="471" cy="949" r="1.0" fill="rgb(26,175,26)"/><circle cx="547" cy="968" r="2.2" fill="rgb(23,157,23)"/><circle cx="631" cy="944" r="1.5" fill="rgb(13,90,13)"/><circle cx="624" cy="1041" r="1.7" fill="rgb(10,71,10)"/><circle cx="449" cy="947" r="1.1" fill="rgb(29,198,29)"/><circle cx="498" cy="929" r="1.1" fill="rgb(25,172,25)"/><circle cx="509" cy="932" r="1.8" fill="rgb(20,138,20)"/><circle cx="612" cy="926" r="2.1" fill="rgb(14,95,14)"/><circle cx="566" cy="967" r="1.6" fill="rgb(14,94,14)"/><circle cx="446" cy="989" r="2.2" fill="rgb(21,140,21)"/><circle cx="452" cy="979" r="2.1" fill="rgb(28,191,28)"/><circle cx="501" cy="969" r="1.5" fill="rgb(25,171,25)"/><circle cx="491" cy="961" r="1.8" fill="rgb(31,209,31)"/><circle cx="463" cy="987" r="1.7" fill="rgb(38,255,38)"/><circle cx="545" cy="974" r="2.2" fill="rgb(25,171,25)"/><circle cx="633" cy="974" r="1.6" fill="rgb(10,73,10)"/><circle cx="452" cy="1008" r="2.0" fill="rgb(37,252,37)"/><circle cx="529" cy="956" r="1.6" fill="rgb(29,195,29)"/><circle cx="497" cy="930" r="1.8" fill="rgb(25,171,25)"/><circle cx="671" cy="988" r="1.2" fill="rgb(12,82,12)"/><circle cx="478" cy="944" r="1.9" fill="rgb(25,170,25)"/><circle cx="448" cy="938" r="1.2" fill="rgb(25,169,25)"/><circle cx="515" cy="927" r="1.3" fill="rgb(21,142,21)"/><circle cx="463" cy="1032" r="1.3" fill="rgb(26,179,26)"/><circle cx="517" cy="959" r="1.4" fill="rgb(28,191,28)"/><circle cx="470" cy="960" r="1.3" fill="rgb(26,175,26)"/><circle cx="493" cy="917" r="1.3" fill="rgb(16,111,16)"/><circle cx="534" cy="967" r="2.3" fill="rgb(26,178,26)"/><circle cx="466" cy="970" r="2.1" fill="rgb(28,190,28)"/><circle cx="514" cy="958" r="2.1" fill="rgb(38,255,38)"/><circle cx="586" cy="948" r="1.6" fill="rgb(16,110,16)"/><circle cx="507" cy="965" r="1.1" fill="rgb(31,211,31)"/><circle cx="466" cy="982" r="1.2" fill="rgb(36,240,36)"/><circle cx="481" cy="963" r="1.4" fill="rgb(38,255,38)"/><circle cx="540" cy="935" r="2.1" fill="rgb(17,117,17)"/><circle cx="541" cy="948" r="2.1" fill="rgb(18,123,18)"/><circle cx="447" cy="1019" r="1.4" fill="rgb(35,237,35)"/><circle cx="506" cy="953" r="1.9" fill="rgb(38,255,38)"/><circle cx="508" cy="946" r="1.9" fill="rgb(32,215,32)"/><circle cx="463" cy="920" r="1.3" fill="rgb(18,120,18)"/><circle cx="573" cy="974" r="1.6" fill="rgb(18,126,18)"/><circle cx="463" cy="939" r="2.2" fill="rgb(23,155,23)"/><circle cx="482" cy="956" r="1.2" fill="rgb(37,248,37)"/><circle cx="605" cy="948" r="1.3" fill="rgb(14,95,14)"/><circle cx="501" cy="963" r="1.4" fill="rgb(30,205,30)"/><circle cx="446" cy="1043" r="1.8" fill="rgb(37,247,37)"/><circle cx="457" cy="1007" r="1.5" fill="rgb(32,216,32)"/><circle cx="537" cy="937" r="1.2" fill="rgb(19,129,19)"/><circle cx="679" cy="990" r="1.1" fill="rgb(13,90,13)"/><circle cx="571" cy="974" r="1.6" fill="rgb(17,114,17)"/><circle cx="512" cy="937" r="1.4" fill="rgb(22,150,22)"/><circle cx="577" cy="970" r="1.6" fill="rgb(15,100,15)"/><circle cx="614" cy="963" r="1.9" fill="rgb(12,82,12)"/><circle cx="502" cy="934" r="1.3" fill="rgb(25,168,25)"/><circle cx="471" cy="942" r="2.0" fill="rgb(24,164,24)"/><circle cx="531" cy="968" r="1.8" fill="rgb(25,167,25)"/><circle cx="553" cy="977" r="1.6" fill="rgb(21,146,21)"/><circle cx="487" cy="941" r="2.0" fill="rgb(30,206,30)"/><circle cx="504" cy="949" r="2.3" fill="rgb(37,251,37)"/><circle cx="460" cy="1010" r="1.0" fill="rgb(38,255,38)"/><circle cx="488" cy="955" r="2.0" fill="rgb(38,255,38)"/><circle cx="514" cy="936" r="1.2" fill="rgb(19,127,19)"/><circle cx="475" cy="980" r="1.3" fill="rgb(30,204,30)"/><circle cx="582" cy="921" r="2.0" fill="rgb(15,103,15)"/><circle cx="589" cy="979" r="1.9" fill="rgb(15,102,15)"/><circle cx="458" cy="967" r="1.9" fill="rgb(20,137,20)"/><circle cx="474" cy="984" r="2.3" fill="rgb(25,171,25)"/><circle cx="596" cy="915" r="1.9" fill="rgb(12,81,12)"/><circle cx="502" cy="951" r="1.2" fill="rgb(37,251,37)"/><circle cx="522" cy="963" r="1.7" fill="rgb(24,161,24)"/><circle cx="530" cy="955" r="2.1" fill="rgb(30,204,30)"/><circle cx="635" cy="934" r="1.6" fill="rgb(13,87,13)"/><circle cx="467" cy="1046" r="2.1" fill="rgb(28,189,28)"/><circle cx="543" cy="951" r="2.1" fill="rgb(22,149,22)"/><circle cx="597" cy="975" r="1.6" fill="rgb(12,84,12)"/><circle cx="495" cy="944" r="1.5" fill="rgb(30,206,30)"/><circle cx="504" cy="932" r="1.9" fill="rgb(24,162,24)"/><circle cx="514" cy="929" r="1.6" fill="rgb(18,122,18)"/><circle cx="440" cy="1041" r="2.0" fill="rgb(17,115,17)"/><circle cx="538" cy="922" r="2.4" fill="rgb(15,105,15)"/><circle cx="462" cy="916" r="2.2" fill="rgb(17,115,17)"/><circle cx="522" cy="978" r="1.2" fill="rgb(13,91,13)"/><circle cx="451" cy="1026" r="1.1" fill="rgb(38,255,38)"/><circle cx="483" cy="982" r="1.5" fill="rgb(15,102,15)"/><circle cx="515" cy="943" r="1.9" fill="rgb(22,149,22)"/><circle cx="460" cy="1047" r="1.3" fill="rgb(36,240,36)"/><circle cx="561" cy="920" r="1.2" fill="rgb(15,102,15)"/><circle cx="588" cy="993" r="1.8" fill="rgb(16,110,16)"/><circle cx="622" cy="1003" r="1.3" fill="rgb(10,72,10)"/><circle cx="453" cy="1031" r="2.4" fill="rgb(37,252,37)"/><circle cx="446" cy="1022" r="2.1" fill="rgb(30,206,30)"/><circle cx="525" cy="946" r="1.8" fill="rgb(24,161,24)"/><circle cx="504" cy="936" r="1.3" fill="rgb(25,169,25)"/><circle cx="482" cy="928" r="2.3" fill="rgb(23,154,23)"/><circle cx="457" cy="971" r="1.6" fill="rgb(25,168,25)"/><circle cx="574" cy="947" r="1.9" fill="rgb(17,114,17)"/><circle cx="578" cy="986" r="2.3" fill="rgb(15,106,15)"/><circle cx="469" cy="974" r="1.2" fill="rgb(25,170,25)"/><circle cx="543" cy="980" r="1.1" fill="rgb(17,118,17)"/><circle cx="462" cy="933" r="1.5" fill="rgb(27,181,27)"/><circle cx="481" cy="922" r="2.4" fill="rgb(19,131,19)"/><circle cx="679" cy="925" r="1.3" fill="rgb(10,72,10)"/><circle cx="491" cy="932" r="2.2" fill="rgb(24,160,24)"/><circle cx="446" cy="984" r="2.1" fill="rgb(15,104,15)"/><circle cx="610" cy="994" r="2.0" fill="rgb(15,102,15)"/><circle cx="552" cy="941" r="1.6" fill="rgb(22,152,22)"/><circle cx="606" cy="960" r="2.1" fill="rgb(13,89,13)"/><circle cx="457" cy="981" r="2.0" fill="rgb(24,166,24)"/><circle cx="463" cy="931" r="1.6" fill="rgb(24,165,24)"/><circle cx="484" cy="980" r="1.9" fill="rgb(16,108,16)"/><circle cx="464" cy="1045" r="2.1" fill="rgb(38,255,38)"/><circle cx="462" cy="968" r="2.2" fill="rgb(30,204,30)"/><circle cx="451" cy="1047" r="1.5" fill="rgb(29,197,29)"/><circle cx="480" cy="942" r="1.7" fill="rgb(27,182,27)"/><circle cx="615" cy="989" r="1.1" fill="rgb(14,95,14)"/><circle cx="648" cy="942" r="1.3" fill="rgb(11,75,11)"/><circle cx="547" cy="960" r="2.3" fill="rgb(21,141,21)"/><circle cx="518" cy="942" r="2.3" fill="rgb(23,156,23)"/><circle cx="453" cy="999" r="1.8" fill="rgb(34,233,34)"/><circle cx="499" cy="941" r="1.8" fill="rgb(21,145,21)"/><circle cx="596" cy="984" r="1.3" fill="rgb(18,123,18)"/><circle cx="482" cy="936" r="1.7" fill="rgb(25,168,25)"/><circle cx="453" cy="1022" r="1.3" fill="rgb(35,237,35)"/><circle cx="459" cy="1047" r="1.2" fill="rgb(30,200,30)"/><circle cx="506" cy="983" r="1.8" fill="rgb(11,76,11)"/><circle cx="478" cy="983" r="2.2" fill="rgb(19,132,19)"/><circle cx="457" cy="1029" r="1.1" fill="rgb(36,244,36)"/><circle cx="457" cy="988" r="1.9" fill="rgb(32,216,32)"/><circle cx="548" cy="973" r="1.8" fill="rgb(26,174,26)"/><circle cx="570" cy="963" r="2.1" fill="rgb(14,96,14)"/><circle cx="584" cy="944" r="2.0" fill="rgb(16,109,16)"/><circle cx="513" cy="957" r="2.4" fill="rgb(30,201,30)"/><circle cx="473" cy="925" r="1.1" fill="rgb(22,150,22)"/><circle cx="448" cy="1011" r="1.7" fill="rgb(27,180,27)"/><circle cx="535" cy="959" r="2.4" fill="rgb(22,150,22)"/><circle cx="477" cy="938" r="1.0" fill="rgb(23,154,23)"/><circle cx="504" cy="939" r="2.3" fill="rgb(21,146,21)"/><circle cx="462" cy="1020" r="1.5" fill="rgb(24,164,24)"/><circle cx="567" cy="923" r="2.1" fill="rgb(16,109,16)"/><circle cx="486" cy="920" r="1.0" fill="rgb(15,103,15)"/><circle cx="582" cy="941" r="1.7" fill="rgb(17,118,17)"/><circle cx="488" cy="977" r="1.4" fill="rgb(17,115,17)"/><circle cx="497" cy="971" r="1.3" fill="rgb(25,169,25)"/><circle cx="457" cy="969" r="1.5" fill="rgb(25,167,25)"/><circle cx="567" cy="945" r="1.4" fill="rgb(16,111,16)"/><circle cx="545" cy="945" r="1.3" fill="rgb(19,133,19)"/><circle cx="458" cy="937" r="1.0" fill="rgb(34,229,34)"/><circle cx="489" cy="974" r="1.0" fill="rgb(21,146,21)"/><circle cx="476" cy="969" r="1.8" fill="rgb(33,222,33)"/><circle cx="460" cy="1024" r="2.1" fill="rgb(36,244,36)"/><circle cx="470" cy="942" r="2.1" fill="rgb(27,182,27)"/><circle cx="460" cy="908" r="1.2" fill="rgb(14,99,14)"/><circle cx="468" cy="974" r="2.4" fill="rgb(36,242,36)"/><circle cx="501" cy="934" r="1.7" fill="rgb(24,165,24)"/><circle cx="432" cy="1003" r="2.4" fill="rgb(10,71,10)"/><circle cx="656" cy="994" r="1.5" fill="rgb(13,87,13)"/><circle cx="584" cy="989" r="1.1" fill="rgb(17,118,17)"/><circle cx="510" cy="922" r="1.1" fill="rgb(16,113,16)"/><circle cx="464" cy="1041" r="1.3" fill="rgb(27,183,27)"/><circle cx="453" cy="1043" r="1.2" fill="rgb(35,238,35)"/><circle cx="481" cy="983" r="1.5" fill="rgb(15,106,15)"/><circle cx="456" cy="1011" r="1.2" fill="rgb(29,197,29)"/><circle cx="452" cy="940" r="1.6" fill="rgb(32,214,32)"/><circle cx="524" cy="950" r="2.3" fill="rgb(21,142,21)"/><circle cx="549" cy="971" r="1.7" fill="rgb(22,151,22)"/><circle cx="473" cy="941" r="1.2" fill="rgb(31,209,31)"/><circle cx="467" cy="964" r="1.3" fill="rgb(38,255,38)"/><circle cx="460" cy="1015" r="2.3" fill="rgb(38,255,38)"/><circle cx="538" cy="982" r="1.8" fill="rgb(12,82,12)"/><circle cx="471" cy="946" r="2.2" fill="rgb(27,185,27)"/><circle cx="499" cy="953" r="1.3" fill="rgb(38,255,38)"/><circle cx="465" cy="1005" r="2.2" fill="rgb(35,238,35)"/><circle cx="453" cy="947" r="1.7" fill="rgb(21,144,21)"/><circle cx="445" cy="951" r="2.4" fill="rgb(22,152,22)"/><circle cx="531" cy="956" r="1.3" fill="rgb(29,195,29)"/><circle cx="623" cy="907" r="2.4" fill="rgb(11,76,11)"/><circle cx="448" cy="1046" r="1.5" fill="rgb(38,255,38)"/><circle cx="446" cy="1008" r="1.9" fill="rgb(33,223,33)"/><circle cx="506" cy="936" r="1.6" fill="rgb(27,186,27)"/><circle cx="468" cy="944" r="2.0" fill="rgb(28,187,28)"/><circle cx="499" cy="935" r="1.4" fill="rgb(22,151,22)"/><circle cx="534" cy="974" r="1.0" fill="rgb(20,138,20)"/><circle cx="451" cy="929" r="1.5" fill="rgb(21,141,21)"/><circle cx="455" cy="931" r="1.1" fill="rgb(25,167,25)"/><circle cx="509" cy="961" r="1.6" fill="rgb(35,236,35)"/><circle cx="455" cy="1000" r="2.1" fill="rgb(34,233,34)"/><circle cx="449" cy="925" r="2.4" fill="rgb(25,169,25)"/><circle cx="510" cy="951" r="1.5" fill="rgb(34,227,34)"/><circle cx="499" cy="926" r="2.1" fill="rgb(20,137,20)"/><circle cx="491" cy="957" r="2.1" fill="rgb(37,252,37)"/><circle cx="510" cy="957" r="1.6" fill="rgb(35,234,35)"/><circle cx="459" cy="955" r="2.2" fill="rgb(23,154,23)"/><circle cx="550" cy="937" r="2.0" fill="rgb(20,138,20)"/><circle cx="467" cy="981" r="1.8" fill="rgb(31,207,31)"/><circle cx="461" cy="933" r="1.5" fill="rgb(27,185,27)"/><circle cx="450" cy="1026" r="1.8" fill="rgb(26,179,26)"/><circle cx="457" cy="955" r="1.0" fill="rgb(20,136,20)"/><circle cx="485" cy="936" r="1.5" fill="rgb(22,153,22)"/><circle cx="473" cy="966" r="1.7" fill="rgb(27,185,27)"/><circle cx="521" cy="913" r="1.3" fill="rgb(13,90,13)"/><circle cx="466" cy="1035" r="2.2" fill="rgb(24,160,24)"/><circle cx="606" cy="925" r="2.1" fill="rgb(14,95,14)"/><circle cx="515" cy="971" r="1.0" fill="rgb(25,169,25)"/><circle cx="638" cy="956" r="2.4" fill="rgb(12,81,12)"/><circle cx="521" cy="954" r="1.6" fill="rgb(31,211,31)"/><circle cx="656" cy="994" r="1.7" fill="rgb(12,84,12)"/><circle cx="524" cy="1007" r="2.4" fill="rgb(10,72,10)"/><circle cx="462" cy="969" r="1.0" fill="rgb(30,201,30)"/><circle cx="451" cy="952" r="2.0" fill="rgb(22,152,22)"/><circle cx="521" cy="960" r="2.3" fill="rgb(34,233,34)"/><circle cx="612" cy="921" r="2.2" fill="rgb(12,84,12)"/><circle cx="472" cy="1012" r="1.8" fill="rgb(13,90,13)"/><circle cx="605" cy="951" r="1.4" fill="rgb(13,92,13)"/><circle cx="549" cy="937" r="2.1" fill="rgb(16,113,16)"/><circle cx="462" cy="926" r="1.6" fill="rgb(23,156,23)"/><circle cx="582" cy="943" r="1.7" fill="rgb(16,113,16)"/><circle cx="474" cy="976" r="1.5" fill="rgb(25,169,25)"/><circle cx="461" cy="980" r="1.9" fill="rgb(26,177,26)"/><circle cx="465" cy="1044" r="1.5" fill="rgb(30,202,30)"/><circle cx="465" cy="933" r="1.0" fill="rgb(28,192,28)"/><circle cx="565" cy="946" r="2.0" fill="rgb(17,119,17)"/><circle cx="473" cy="973" r="2.1" fill="rgb(31,213,31)"/><circle cx="473" cy="957" r="1.3" fill="rgb(28,188,28)"/><circle cx="623" cy="920" r="1.3" fill="rgb(12,83,12)"/><circle cx="500" cy="948" r="1.8" fill="rgb(33,224,33)"/><circle cx="455" cy="1032" r="1.3" fill="rgb(31,212,31)"/><circle cx="470" cy="951" r="1.4" fill="rgb(20,138,20)"/><circle cx="461" cy="1014" r="1.7" fill="rgb(26,179,26)"/><circle cx="479" cy="946" r="1.6" fill="rgb(27,186,27)"/><circle cx="442" cy="1000" r="2.2" fill="rgb(17,115,17)"/><circle cx="452" cy="1010" r="1.9" fill="rgb(31,209,31)"/><circle cx="491" cy="971" r="2.1" fill="rgb(28,188,28)"/><circle cx="621" cy="921" r="1.0" fill="rgb(11,79,11)"/><circle cx="473" cy="1012" r="1.9" fill="rgb(12,81,12)"/><circle cx="468" cy="993" r="1.8" fill="rgb(36,240,36)"/><circle cx="503" cy="932" r="2.2" fill="rgb(18,125,18)"/><circle cx="468" cy="1018" r="2.0" fill="rgb(22,149,22)"/><circle cx="459" cy="1014" r="2.0" fill="rgb(26,177,26)"/><circle cx="453" cy="1017" r="1.6" fill="rgb(29,199,29)"/><circle cx="452" cy="1022" r="2.2" fill="rgb(38,255,38)"/><circle cx="457" cy="1036" r="1.9" fill="rgb(38,255,38)"/><circle cx="450" cy="1028" r="1.3" fill="rgb(28,190,28)"/><circle cx="556" cy="928" r="1.8" fill="rgb(20,135,20)"/><circle cx="524" cy="956" r="2.0" fill="rgb(32,214,32)"/><circle cx="607" cy="921" r="1.7" fill="rgb(13,90,13)"/><circle cx="421" cy="974" r="2.2" fill="rgb(10,72,10)"/><circle cx="626" cy="1040" r="1.4" fill="rgb(10,72,10)"/><circle cx="444" cy="1023" r="1.9" fill="rgb(23,154,23)"/><circle cx="520" cy="968" r="1.2" fill="rgb(25,172,25)"/><circle cx="508" cy="950" r="1.2" fill="rgb(27,184,27)"/><circle cx="552" cy="940" r="1.1" fill="rgb(21,145,21)"/><circle cx="489" cy="926" r="2.1" fill="rgb(21,145,21)"/><circle cx="435" cy="908" r="1.9" fill="rgb(10,72,10)"/><circle cx="452" cy="938" r="2.0" fill="rgb(23,155,23)"/><circle cx="551" cy="952" r="1.1" fill="rgb(20,137,20)"/><circle cx="493" cy="964" r="1.7" fill="rgb(29,196,29)"/><circle cx="525" cy="943" r="1.6" fill="rgb(21,145,21)"/><circle cx="556" cy="1035" r="1.6" fill="rgb(10,72,10)"/><circle cx="539" cy="960" r="1.9" fill="rgb(30,201,30)"/><circle cx="462" cy="908" r="1.1" fill="rgb(13,88,13)"/><circle cx="487" cy="917" r="2.0" fill="rgb(16,109,16)"/><circle cx="466" cy="961" r="2.0" fill="rgb(29,196,29)"/><circle cx="516" cy="951" r="2.3" fill="rgb(31,209,31)"/><circle cx="459" cy="1036" r="1.5" fill="rgb(28,187,28)"/><circle cx="523" cy="981" r="1.2" fill="rgb(11,78,11)"/><circle cx="562" cy="951" r="1.6" fill="rgb(19,128,19)"/><circle cx="528" cy="959" r="1.6" fill="rgb(27,180,27)"/><circle cx="519" cy="946" r="1.3" fill="rgb(25,171,25)"/><circle cx="501" cy="939" r="1.8" fill="rgb(27,181,27)"/><circle cx="452" cy="981" r="1.1" fill="rgb(23,156,23)"/><circle cx="485" cy="924" r="1.4" fill="rgb(19,132,19)"/><circle cx="457" cy="949" r="2.1" fill="rgb(20,139,20)"/><circle cx="469" cy="984" r="1.3" fill="rgb(26,175,26)"/><circle cx="548" cy="940" r="2.0" fill="rgb(23,158,23)"/><circle cx="481" cy="938" r="1.6" fill="rgb(23,155,23)"/><circle cx="546" cy="978" r="2.1" fill="rgb(20,136,20)"/><circle cx="530" cy="910" r="1.9" fill="rgb(13,93,13)"/><circle cx="470" cy="929" r="1.9" fill="rgb(20,134,20)"/><circle cx="636" cy="983" r="1.8" fill="rgb(12,85,12)"/><circle cx="464" cy="970" r="2.4" fill="rgb(26,177,26)"/><circle cx="495" cy="927" r="1.9" fill="rgb(25,169,25)"/><circle cx="678" cy="952" r="1.2" fill="rgb(10,72,10)"/><circle cx="459" cy="970" r="1.3" fill="rgb(32,214,32)"/><circle cx="499" cy="951" r="1.7" fill="rgb(38,255,38)"/><circle cx="454" cy="1006" r="1.9" fill="rgb(38,255,38)"/><circle cx="478" cy="923" r="2.3" fill="rgb(17,116,17)"/><circle cx="572" cy="955" r="2.1" fill="rgb(14,99,14)"/><circle cx="508" cy="968" r="1.8" fill="rgb(21,145,21)"/><circle cx="535" cy="969" r="1.9" fill="rgb(22,148,22)"/><circle cx="451" cy="1006" r="1.3" fill="rgb(35,237,35)"/><circle cx="552" cy="922" r="1.5" fill="rgb(17,119,17)"/><circle cx="451" cy="928" r="2.1" fill="rgb(27,180,27)"/><circle cx="457" cy="977" r="1.7" fill="rgb(25,168,25)"/><circle cx="458" cy="992" r="1.0" fill="rgb(38,255,38)"/><circle cx="512" cy="935" r="1.4" fill="rgb(22,150,22)"/><circle cx="598" cy="991" r="1.9" fill="rgb(15,105,15)"/><circle cx="512" cy="965" r="2.2" fill="rgb(34,229,34)"/><circle cx="584" cy="978" r="2.3" fill="rgb(20,135,20)"/><circle cx="461" cy="1029" r="1.8" fill="rgb(33,226,33)"/><circle cx="458" cy="925" r="1.5" fill="rgb(20,135,20)"/><circle cx="614" cy="909" r="1.2" fill="rgb(11,76,11)"/><circle cx="491" cy="967" r="1.8" fill="rgb(38,255,38)"/><circle cx="559" cy="981" r="1.1" fill="rgb(18,125,18)"/><circle cx="594" cy="912" r="1.8" fill="rgb(11,77,11)"/><circle cx="500" cy="925" r="1.4" fill="rgb(21,145,21)"/><circle cx="502" cy="957" r="1.2" fill="rgb(37,251,37)"/><circle cx="490" cy="954" r="1.2" fill="rgb(38,255,38)"/><circle cx="463" cy="1001" r="1.7" fill="rgb(36,246,36)"/><circle cx="493" cy="963" r="1.3" fill="rgb(28,189,28)"/><circle cx="593" cy="958" r="1.3" fill="rgb(13,91,13)"/><circle cx="513" cy="915" r="1.9" fill="rgb(15,105,15)"/><circle cx="440" cy="1041" r="1.1" fill="rgb(17,117,17)"/><circle cx="451" cy="1044" r="2.1" fill="rgb(38,255,38)"/><circle cx="568" cy="935" r="1.6" fill="rgb(16,113,16)"/><circle cx="471" cy="966" r="2.1" fill="rgb(31,208,31)"/><circle cx="607" cy="939" r="2.1" fill="rgb(14,96,14)"/><circle cx="483" cy="935" r="1.7" fill="rgb(28,188,28)"/><circle cx="457" cy="978" r="1.5" fill="rgb(29,199,29)"/><circle cx="488" cy="946" r="2.0" fill="rgb(26,175,26)"/><circle cx="450" cy="1040" r="1.6" fill="rgb(38,255,38)"/><circle cx="508" cy="963" r="1.1" fill="rgb(24,165,24)"/><circle cx="483" cy="974" r="1.7" fill="rgb(26,177,26)"/><circle cx="452" cy="934" r="2.2" fill="rgb(27,182,27)"/><circle cx="429" cy="959" r="2.2" fill="rgb(10,71,10)"/><circle cx="604" cy="979" r="1.6" fill="rgb(14,95,14)"/><circle cx="447" cy="959" r="1.8" fill="rgb(20,139,20)"/><circle cx="517" cy="957" r="1.8" fill="rgb(35,236,35)"/><circle cx="464" cy="1047" r="1.7" fill="rgb(35,237,35)"/><circle cx="489" cy="941" r="1.4" fill="rgb(23,159,23)"/><circle cx="520" cy="950" r="1.8" fill="rgb(24,161,24)"/><circle cx="477" cy="975" r="1.8" fill="rgb(30,204,30)"/><circle cx="446" cy="946" r="2.2" fill="rgb(22,147,22)"/><circle cx="592" cy="989" r="2.1" fill="rgb(15,102,15)"/><circle cx="448" cy="934" r="1.7" fill="rgb(24,165,24)"/><circle cx="519" cy="934" r="2.1" fill="rgb(24,166,24)"/><circle cx="448" cy="1038" r="2.1" fill="rgb(29,196,29)"/><circle cx="478" cy="954" r="1.7" fill="rgb(25,173,25)"/><circle cx="435" cy="1011" r="1.2" fill="rgb(11,74,11)"/><circle cx="478" cy="938" r="1.6" fill="rgb(22,151,22)"/><circle cx="561" cy="964" r="2.2" fill="rgb(16,113,16)"/><circle cx="562" cy="964" r="1.4" fill="rgb(16,110,16)"/><circle cx="448" cy="1005" r="1.8" fill="rgb(27,182,27)"/><circle cx="618" cy="929" r="1.1" fill="rgb(14,94,14)"/><circle cx="452" cy="1008" r="1.1" fill="rgb(30,205,30)"/><circle cx="514" cy="931" r="1.2" fill="rgb(20,137,20)"/><circle cx="464" cy="954" r="2.2" fill="rgb(19,127,19)"/><circle cx="456" cy="1028" r="1.6" fill="rgb(27,181,27)"/><circle cx="450" cy="1041" r="2.0" fill="rgb(38,255,38)"/><circle cx="607" cy="938" r="1.2" fill="rgb(16,108,16)"/><circle cx="484" cy="958" r="1.7" fill="rgb(38,255,38)"/><circle cx="442" cy="1007" r="2.0" fill="rgb(19,128,19)"/><circle cx="565" cy="926" r="1.7" fill="rgb(17,118,17)"/><circle cx="466" cy="941" r="2.2" fill="rgb(21,146,21)"/><circle cx="451" cy="990" r="2.2" fill="rgb(28,187,28)"/><circle cx="456" cy="977" r="1.2" fill="rgb(32,219,32)"/><circle cx="606" cy="978" r="1.3" fill="rgb(12,85,12)"/><circle cx="512" cy="951" r="1.3" fill="rgb(38,255,38)"/><circle cx="542" cy="964" r="1.7" fill="rgb(28,188,28)"/><circle cx="455" cy="1045" r="1.7" fill="rgb(36,244,36)"/><circle cx="509" cy="964" r="1.2" fill="rgb(28,187,28)"/><circle cx="581" cy="912" r="1.9" fill="rgb(12,86,12)"/><circle cx="445" cy="994" r="1.7" fill="rgb(18,121,18)"/><circle cx="583" cy="965" r="2.2" fill="rgb(12,84,12)"/><circle cx="471" cy="987" r="2.3" fill="rgb(22,151,22)"/><circle cx="517" cy="936" r="1.1" fill="rgb(19,130,19)"/><circle cx="450" cy="939" r="1.5" fill="rgb(24,166,24)"/><circle cx="446" cy="1031" r="1.9" fill="rgb(25,168,25)"/><circle cx="483" cy="941" r="1.8" fill="rgb(31,209,31)"/><circle cx="520" cy="968" r="2.0" fill="rgb(25,170,25)"/><circle cx="456" cy="933" r="1.1" fill="rgb(26,176,26)"/><circle cx="560" cy="974" r="1.5" fill="rgb(24,161,24)"/><circle cx="619" cy="992" r="1.2" fill="rgb(15,101,15)"/><circle cx="497" cy="1046" r="2.2" fill="rgb(10,72,10)"/><circle cx="499" cy="959" r="1.7" fill="rgb(38,255,38)"/><circle cx="455" cy="934" r="2.3" fill="rgb(30,206,30)"/><circle cx="509" cy="952" r="2.3" fill="rgb(34,230,34)"/><circle cx="541" cy="988" r="2.4" fill="rgb(10,72,10)"/><circle cx="459" cy="930" r="1.2" fill="rgb(29,199,29)"/><circle cx="492" cy="976" r="2.0" fill="rgb(17,117,17)"/><circle cx="498" cy="928" r="1.3" fill="rgb(21,140,21)"/><circle cx="460" cy="975" r="1.6" fill="rgb(26,174,26)"/><circle cx="421" cy="969" r="1.4" fill="rgb(10,72,10)"/><circle cx="471" cy="938" r="1.0" fill="rgb(32,214,32)"/><circle cx="464" cy="968" r="2.1" fill="rgb(26,176,26)"/><circle cx="479" cy="946" r="2.0" fill="rgb(28,192,28)"/><circle cx="459" cy="1019" r="2.1" fill="rgb(25,171,25)"/><circle cx="579" cy="971" r="1.0" fill="rgb(13,93,13)"/><circle cx="589" cy="938" r="1.8" fill="rgb(14,97,14)"/><circle cx="543" cy="950" r="1.2" fill="rgb(18,124,18)"/><circle cx="434" cy="1033" r="1.3" fill="rgb(11,74,11)"/><circle cx="488" cy="948" r="1.7" fill="rgb(28,190,28)"/><circle cx="450" cy="929" r="1.9" fill="rgb(26,178,26)"/><circle cx="504" cy="948" r="2.3" fill="rgb(36,243,36)"/><circle cx="446" cy="926" r="1.6" fill="rgb(23,159,23)"/><circle cx="537" cy="948" r="1.4" fill="rgb(23,159,23)"/><circle cx="673" cy="987" r="1.4" fill="rgb(13,92,13)"/><circle cx="637" cy="1023" r="1.4" fill="rgb(10,72,10)"/><circle cx="470" cy="1041" r="2.2" fill="rgb(18,125,18)"/><circle cx="589" cy="936" r="2.0" fill="rgb(18,122,18)"/><circle cx="478" cy="934" r="2.0" fill="rgb(21,140,21)"/><circle cx="482" cy="950" r="1.2" fill="rgb(34,227,34)"/><circle cx="554" cy="984" r="1.8" fill="rgb(15,106,15)"/><circle cx="454" cy="950" r="2.1" fill="rgb(24,164,24)"/><circle cx="479" cy="968" r="1.2" fill="rgb(34,233,34)"/><circle cx="536" cy="942" r="1.2" fill="rgb(21,144,21)"/><circle cx="460" cy="971" r="2.0" fill="rgb(32,218,32)"/><circle cx="466" cy="932" r="1.6" fill="rgb(30,200,30)"/><circle cx="469" cy="968" r="1.2" fill="rgb(34,227,34)"/><circle cx="462" cy="995" r="2.2" fill="rgb(32,217,32)"/><circle cx="607" cy="945" r="2.3" fill="rgb(15,103,15)"/><circle cx="426" cy="933" r="2.1" fill="rgb(10,72,10)"/><circle cx="573" cy="939" r="2.3" fill="rgb(15,104,15)"/><circle cx="461" cy="996" r="1.6" fill="rgb(30,205,30)"/><circle cx="558" cy="918" r="1.6" fill="rgb(13,93,13)"/><circle cx="599" cy="952" r="2.3" fill="rgb(14,98,14)"/><circle cx="666" cy="979" r="2.2" fill="rgb(11,76,11)"/><circle cx="470" cy="1005" r="2.4" fill="rgb(18,122,18)"/><circle cx="471" cy="933" r="1.7" fill="rgb(29,199,29)"/><circle cx="468" cy="1003" r="2.2" fill="rgb(31,207,31)"/><circle cx="450" cy="969" r="1.3" fill="rgb(16,111,16)"/><circle cx="468" cy="966" r="2.2" fill="rgb(30,206,30)"/><circle cx="558" cy="946" r="2.4" fill="rgb(16,113,16)"/><circle cx="554" cy="975" r="1.1" fill="rgb(18,124,18)"/><circle cx="458" cy="1026" r="2.0" fill="rgb(37,252,37)"/><circle cx="451" cy="1037" r="1.1" fill="rgb(37,249,37)"/><circle cx="451" cy="1015" r="2.1" fill="rgb(26,178,26)"/><circle cx="445" cy="1019" r="2.1" fill="rgb(26,177,26)"/><circle cx="457" cy="954" r="1.1" fill="rgb(20,134,20)"/><circle cx="477" cy="1023" r="1.7" fill="rgb(10,72,10)"/><circle cx="525" cy="970" r="2.3" fill="rgb(27,180,27)"/><circle cx="592" cy="995" r="2.0" fill="rgb(15,100,15)"/><circle cx="496" cy="928" r="2.2" fill="rgb(20,137,20)"/><circle cx="452" cy="1029" r="2.2" fill="rgb(26,176,26)"/><circle cx="459" cy="929" r="1.9" fill="rgb(26,175,26)"/><circle cx="598" cy="946" r="2.1" fill="rgb(15,104,15)"/><circle cx="481" cy="920" r="1.6" fill="rgb(15,104,15)"/><circle cx="446" cy="1026" r="2.1" fill="rgb(24,164,24)"/><circle cx="530" cy="951" r="1.8" fill="rgb(27,184,27)"/><circle cx="497" cy="954" r="2.1" fill="rgb(38,255,38)"/><circle cx="480" cy="938" r="2.2" fill="rgb(30,202,30)"/><circle cx="590" cy="960" r="2.3" fill="rgb(14,95,14)"/><circle cx="450" cy="994" r="2.2" fill="rgb(34,229,34)"/><circle cx="588" cy="956" r="1.8" fill="rgb(13,88,13)"/><circle cx="588" cy="989" r="2.0" fill="rgb(15,104,15)"/><circle cx="507" cy="950" r="1.0" fill="rgb(37,252,37)"/><circle cx="525" cy="960" r="1.1" fill="rgb(24,164,24)"/><circle cx="616" cy="953" r="1.3" fill="rgb(14,94,14)"/><circle cx="504" cy="960" r="1.4" fill="rgb(31,208,31)"/><circle cx="461" cy="968" r="2.0" fill="rgb(27,181,27)"/><circle cx="509" cy="968" r="1.9" fill="rgb(20,139,20)"/><circle cx="566" cy="959" r="2.1" fill="rgb(14,95,14)"/><circle cx="480" cy="917" r="1.5" fill="rgb(16,112,16)"/><circle cx="463" cy="1037" r="1.8" fill="rgb(35,235,35)"/><circle cx="485" cy="973" r="1.4" fill="rgb(24,164,24)"/><circle cx="565" cy="993" r="1.3" fill="rgb(11,78,11)"/><circle cx="612" cy="952" r="1.2" fill="rgb(14,98,14)"/><circle cx="454" cy="1042" r="1.1" fill="rgb(38,255,38)"/><circle cx="437" cy="1023" r="2.0" fill="rgb(12,82,12)"/><circle cx="486" cy="926" r="2.1" fill="rgb(22,150,22)"/><circle cx="611" cy="942" r="1.4" fill="rgb(13,91,13)"/><circle cx="470" cy="992" r="1.2" fill="rgb(23,156,23)"/><circle cx="458" cy="929" r="2.2" fill="rgb(20,134,20)"/><circle cx="465" cy="998" r="1.4" fill="rgb(25,167,25)"/><circle cx="447" cy="921" r="1.2" fill="rgb(22,151,22)"/><circle cx="506" cy="1044" r="2.0" fill="rgb(10,71,10)"/><circle cx="517" cy="935" r="2.1" fill="rgb(25,173,25)"/><circle cx="477" cy="955" r="1.5" fill="rgb(35,239,35)"/><circle cx="458" cy="996" r="1.9" fill="rgb(26,175,26)"/><circle cx="475" cy="949" r="1.9" fill="rgb(27,186,27)"/><circle cx="475" cy="954" r="1.3" fill="rgb(31,208,31)"/><circle cx="490" cy="958" r="1.2" fill="rgb(38,255,38)"/><circle cx="467" cy="922" r="1.2" fill="rgb(18,125,18)"/><circle cx="504" cy="962" r="1.5" fill="rgb(28,193,28)"/><circle cx="461" cy="1046" r="1.9" fill="rgb(38,255,38)"/><circle cx="519" cy="950" r="2.3" fill="rgb(33,226,33)"/><circle cx="518" cy="946" r="2.0" fill="rgb(25,167,25)"/><circle cx="472" cy="991" r="2.1" fill="rgb(23,156,23)"/><circle cx="487" cy="967" r="1.9" fill="rgb(31,212,31)"/><circle cx="480" cy="975" r="2.3" fill="rgb(23,154,23)"/><circle cx="480" cy="937" r="2.3" fill="rgb(31,209,31)"/><circle cx="570" cy="938" r="1.3" fill="rgb(17,118,17)"/><circle cx="510" cy="942" r="1.1" fill="rgb(23,157,23)"/><circle cx="517" cy="969" r="2.3" fill="rgb(28,189,28)"/><circle cx="478" cy="957" r="1.4" fill="rgb(29,199,29)"/><circle cx="446" cy="986" r="1.8" fill="rgb(15,103,15)"/><circle cx="476" cy="922" r="2.3" fill="rgb(16,112,16)"/><circle cx="572" cy="948" r="1.3" fill="rgb(19,129,19)"/><circle cx="496" cy="948" r="2.1" fill="rgb(26,175,26)"/><circle cx="464" cy="1038" r="2.2" fill="rgb(35,239,35)"/><circle cx="499" cy="972" r="1.7" fill="rgb(24,165,24)"/><circle cx="566" cy="922" r="2.1" fill="rgb(15,104,15)"/><circle cx="476" cy="966" r="2.0" fill="rgb(30,206,30)"/><circle cx="536" cy="943" r="1.1" fill="rgb(18,122,18)"/><circle cx="485" cy="967" r="2.1" fill="rgb(27,180,27)"/><circle cx="470" cy="937" r="2.2" fill="rgb(22,151,22)"/><circle cx="515" cy="974" r="1.0" fill="rgb(17,114,17)"/><circle cx="457" cy="1032" r="1.5" fill="rgb(29,196,29)"/><circle cx="455" cy="936" r="1.8" fill="rgb(22,148,22)"/><circle cx="584" cy="919" r="2.2" fill="rgb(13,90,13)"/><circle cx="491" cy="941" r="1.3" fill="rgb(29,198,29)"/><circle cx="524" cy="935" r="2.2" fill="rgb(23,159,23)"/><circle cx="606" cy="945" r="1.5" fill="rgb(16,108,16)"/><circle cx="437" cy="1038" r="2.3" fill="rgb(12,86,12)"/><circle cx="516" cy="954" r="1.5" fill="rgb(30,206,30)"/><circle cx="575" cy="927" r="1.5" fill="rgb(17,115,17)"/><circle cx="464" cy="1026" r="1.0" fill="rgb(34,229,34)"/><circle cx="602" cy="940" r="1.4" fill="rgb(15,101,15)"/><circle cx="492" cy="973" r="1.2" fill="rgb(21,146,21)"/><circle cx="627" cy="979" r="1.1" fill="rgb(12,80,12)"/><circle cx="582" cy="972" r="1.2" fill="rgb(15,102,15)"/><circle cx="501" cy="939" r="1.1" fill="rgb(29,196,29)"/><circle cx="431" cy="1041" r="1.0" fill="rgb(10,71,10)"/><circle cx="619" cy="979" r="2.3" fill="rgb(11,78,11)"/><circle cx="500" cy="944" r="2.1" fill="rgb(25,170,25)"/><circle cx="615" cy="940" r="2.0" fill="rgb(13,93,13)"/><circle cx="453" cy="928" r="2.3" fill="rgb(28,193,28)"/><circle cx="452" cy="1003" r="2.0" fill="rgb(37,247,37)"/><circle cx="454" cy="989" r="2.1" fill="rgb(36,243,36)"/><circle cx="460" cy="1038" r="1.5" fill="rgb(30,204,30)"/><circle cx="559" cy="963" r="1.8" fill="rgb(15,103,15)"/><circle cx="549" cy="978" r="2.2" fill="rgb(18,126,18)"/><circle cx="482" cy="954" r="1.7" fill="rgb(29,197,29)"/><circle cx="511" cy="925" r="1.5" fill="rgb(20,136,20)"/><circle cx="521" cy="969" r="2.1" fill="rgb(27,186,27)"/><circle cx="523" cy="950" r="1.2" fill="rgb(26,178,26)"/><circle cx="473" cy="925" r="2.2" fill="rgb(18,123,18)"/><circle cx="537" cy="959" r="2.1" fill="rgb(23,159,23)"/><circle cx="540" cy="945" r="1.0" fill="rgb(21,143,21)"/><circle cx="437" cy="1020" r="2.4" fill="rgb(12,86,12)"/><circle cx="505" cy="954" r="1.4" fill="rgb(34,228,34)"/><circle cx="488" cy="939" r="1.3" fill="rgb(22,151,22)"/><circle cx="491" cy="998" r="1.8" fill="rgb(10,72,10)"/><circle cx="530" cy="970" r="1.2" fill="rgb(27,182,27)"/><circle cx="503" cy="950" r="1.6" fill="rgb(38,255,38)"/><circle cx="503" cy="943" r="2.3" fill="rgb(30,206,30)"/><circle cx="510" cy="945" r="1.8" fill="rgb(27,180,27)"/><circle cx="628" cy="919" r="2.3" fill="rgb(11,76,11)"/><circle cx="473" cy="1000" r="1.6" fill="rgb(15,105,15)"/><circle cx="520" cy="920" r="1.2" fill="rgb(18,121,18)"/><circle cx="455" cy="997" r="1.3" fill="rgb(34,229,34)"/><circle cx="523" cy="945" r="1.3" fill="rgb(26,178,26)"/><circle cx="482" cy="977" r="1.6" fill="rgb(19,131,19)"/><circle cx="478" cy="955" r="1.1" fill="rgb(38,255,38)"/><circle cx="478" cy="968" r="1.9" fill="rgb(28,187,28)"/><circle cx="454" cy="986" r="1.7" fill="rgb(28,190,28)"/><circle cx="507" cy="977" r="1.2" fill="rgb(11,78,11)"/><circle cx="463" cy="1001" r="2.0" fill="rgb(30,205,30)"/><circle cx="452" cy="1026" r="1.6" fill="rgb(31,208,31)"/><circle cx="477" cy="976" r="2.4" fill="rgb(25,169,25)"/><circle cx="542" cy="949" r="2.4" fill="rgb(19,132,19)"/><circle cx="516" cy="1030" r="1.4" fill="rgb(10,72,10)"/><circle cx="469" cy="966" r="1.8" fill="rgb(36,246,36)"/><circle cx="474" cy="945" r="2.2" fill="rgb(22,148,22)"/><circle cx="462" cy="1038" r="2.2" fill="rgb(35,239,35)"/><circle cx="503" cy="957" r="1.6" fill="rgb(35,236,35)"/><circle cx="483" cy="950" r="1.3" fill="rgb(24,166,24)"/><circle cx="488" cy="976" r="1.5" fill="rgb(20,134,20)"/><circle cx="544" cy="950" r="1.6" fill="rgb(19,127,19)"/><circle cx="605" cy="987" r="1.5" fill="rgb(15,103,15)"/><circle cx="435" cy="1035" r="1.8" fill="rgb(11,75,11)"/><circle cx="446" cy="1036" r="1.6" fill="rgb(38,255,38)"/><circle cx="568" cy="924" r="2.0" fill="rgb(15,106,15)"/><circle cx="447" cy="1027" r="1.9" fill="rgb(25,172,25)"/><circle cx="458" cy="1006" r="1.6" fill="rgb(28,193,28)"/><circle cx="580" cy="959" r="2.0" fill="rgb(13,87,13)"/><circle cx="480" cy="957" r="2.2" fill="rgb(37,247,37)"/><circle cx="462" cy="1015" r="2.2" fill="rgb(38,255,38)"/><circle cx="497" cy="955" r="2.3" fill="rgb(35,238,35)"/><circle cx="578" cy="936" r="1.6" fill="rgb(19,131,19)"/><circle cx="673" cy="1001" r="1.3" fill="rgb(10,73,10)"/><circle cx="485" cy="941" r="2.3" fill="rgb(26,179,26)"/><circle cx="492" cy="937" r="1.9" fill="rgb(27,185,27)"/><circle cx="495" cy="958" r="1.4" fill="rgb(33,223,33)"/><circle cx="679" cy="1009" r="2.0" fill="rgb(10,71,10)"/><circle cx="478" cy="942" r="2.0" fill="rgb(21,144,21)"/><circle cx="663" cy="946" r="2.3" fill="rgb(10,72,10)"/><circle cx="454" cy="920" r="1.5" fill="rgb(21,144,21)"/><circle cx="575" cy="985" r="1.8" fill="rgb(19,129,19)"/><circle cx="476" cy="934" r="1.3" fill="rgb(30,201,30)"/><circle cx="450" cy="1046" r="1.6" fill="rgb(38,255,38)"/><circle cx="439" cy="1038" r="1.5" fill="rgb(16,109,16)"/><circle cx="452" cy="923" r="1.6" fill="rgb(21,145,21)"/><circle cx="463" cy="1040" r="1.6" fill="rgb(29,197,29)"/><circle cx="451" cy="1025" r="2.2" fill="rgb(38,255,38)"/><circle cx="473" cy="983" r="1.8" fill="rgb(26,177,26)"/><circle cx="462" cy="1002" r="2.1" fill="rgb(31,207,31)"/><circle cx="510" cy="923" r="1.1" fill="rgb(18,124,18)"/><circle cx="622" cy="938" r="2.3" fill="rgb(14,96,14)"/><circle cx="462" cy="924" r="1.9" fill="rgb(24,162,24)"/><circle cx="540" cy="979" r="1.4" fill="rgb(19,128,19)"/><circle cx="636" cy="958" r="1.1" fill="rgb(12,80,12)"/><circle cx="462" cy="949" r="1.0" fill="rgb(27,185,27)"/><circle cx="584" cy="1009" r="1.5" fill="rgb(10,71,10)"/><circle cx="506" cy="944" r="1.6" fill="rgb(30,206,30)"/><circle cx="454" cy="1025" r="1.7" fill="rgb(38,255,38)"/><circle cx="466" cy="975" r="2.0" fill="rgb(38,255,38)"/><circle cx="521" cy="950" r="1.3" fill="rgb(22,153,22)"/><circle cx="539" cy="944" r="2.1" fill="rgb(18,120,18)"/><circle cx="464" cy="1013" r="1.5" fill="rgb(25,170,25)"/><circle cx="482" cy="972" r="1.4" fill="rgb(30,201,30)"/><circle cx="458" cy="977" r="2.3" fill="rgb(28,188,28)"/><circle cx="504" cy="942" r="1.1" fill="rgb(28,190,28)"/><circle cx="446" cy="940" r="1.3" fill="rgb(33,221,33)"/><circle cx="457" cy="1011" r="2.2" fill="rgb(35,234,35)"/><circle cx="447" cy="1018" r="1.5" fill="rgb(34,232,34)"/><circle cx="468" cy="989" r="1.8" fill="rgb(36,244,36)"/><circle cx="460" cy="1040" r="2.0" fill="rgb(27,182,27)"/><circle cx="544" cy="910" r="1.2" fill="rgb(12,83,12)"/><circle cx="578" cy="925" r="1.7" fill="rgb(14,98,14)"/><circle cx="494" cy="932" r="1.4" fill="rgb(23,158,23)"/><circle cx="459" cy="1007" r="2.0" fill="rgb(31,207,31)"/><circle cx="519" cy="957" r="2.0" fill="rgb(36,243,36)"/><circle cx="524" cy="955" r="1.3" fill="rgb(33,220,33)"/><circle cx="475" cy="921" r="2.4" fill="rgb(16,108,16)"/><circle cx="476" cy="954" r="1.0" fill="rgb(30,202,30)"/><circle cx="462" cy="994" r="2.0" fill="rgb(36,243,36)"/><circle cx="628" cy="949" r="1.8" fill="rgb(13,91,13)"/><circle cx="502" cy="935" r="2.1" fill="rgb(23,154,23)"/><circle cx="479" cy="970" r="2.1" fill="rgb(38,255,38)"/><circle cx="552" cy="971" r="1.1" fill="rgb(19,127,19)"/><circle cx="600" cy="960" r="1.3" fill="rgb(13,89,13)"/><circle cx="507" cy="950" r="2.0" fill="rgb(33,222,33)"/><circle cx="474" cy="936" r="2.1" fill="rgb(28,187,28)"/><circle cx="441" cy="1008" r="1.4" fill="rgb(18,122,18)"/><circle cx="483" cy="969" r="2.1" fill="rgb(27,180,27)"/><circle cx="486" cy="937" r="1.3" fill="rgb(21,145,21)"/><circle cx="488" cy="954" r="1.7" fill="rgb(29,195,29)"/><circle cx="477" cy="940" r="1.0" fill="rgb(24,163,24)"/><circle cx="568" cy="987" r="1.9" fill="rgb(16,112,16)"/><circle cx="530" cy="956" r="1.3" fill="rgb(31,208,31)"/><circle cx="488" cy="962" r="2.3" fill="rgb(35,234,35)"/><circle cx="461" cy="963" r="1.5" fill="rgb(21,145,21)"/><circle cx="573" cy="966" r="2.3" fill="rgb(13,90,13)"/><circle cx="467" cy="975" r="1.1" fill="rgb(33,220,33)"/><circle cx="536" cy="958" r="1.8" fill="rgb(25,173,25)"/><circle cx="529" cy="916" r="1.4" fill="rgb(16,109,16)"/><circle cx="594" cy="978" r="1.9" fill="rgb(14,96,14)"/><circle cx="461" cy="990" r="2.0" fill="rgb(37,252,37)"/><circle cx="472" cy="984" r="1.8" fill="rgb(27,186,27)"/><circle cx="493" cy="961" r="1.7" fill="rgb(33,223,33)"/><circle cx="470" cy="999" r="2.1" fill="rgb(24,161,24)"/><circle cx="451" cy="1025" r="1.7" fill="rgb(38,255,38)"/><circle cx="457" cy="968" r="1.7" fill="rgb(18,123,18)"/><circle cx="458" cy="938" r="2.0" fill="rgb(30,201,30)"/><circle cx="570" cy="922" r="2.4" fill="rgb(16,110,16)"/><circle cx="577" cy="960" r="1.5" fill="rgb(14,98,14)"/><circle cx="463" cy="981" r="1.4" fill="rgb(24,164,24)"/><circle cx="544" cy="920" r="1.9" fill="rgb(14,95,14)"/><circle cx="458" cy="1000" r="2.3" fill="rgb(38,255,38)"/><circle cx="456" cy="973" r="2.1" fill="rgb(22,150,22)"/><circle cx="555" cy="949" r="1.1" fill="rgb(15,105,15)"/><circle cx="572" cy="908" r="2.2" fill="rgb(12,80,12)"/><circle cx="448" cy="1002" r="2.1" fill="rgb(36,246,36)"/><circle cx="456" cy="991" r="1.7" fill="rgb(31,211,31)"/><circle cx="562" cy="942" r="1.1" fill="rgb(20,137,20)"/><circle cx="561" cy="917" r="1.5" fill="rgb(13,91,13)"/><circle cx="497" cy="947" r="2.2" fill="rgb(36,241,36)"/><circle cx="509" cy="961" r="2.0" fill="rgb(38,255,38)"/><circle cx="447" cy="1032" r="1.8" fill="rgb(30,200,30)"/><circle cx="514" cy="957" r="1.4" fill="rgb(28,190,28)"/><circle cx="552" cy="923" r="1.0" fill="rgb(15,105,15)"/><circle cx="543" cy="965" r="1.8" fill="rgb(27,183,27)"/><circle cx="452" cy="940" r="1.5" fill="rgb(29,194,29)"/><circle cx="443" cy="1033" r="2.1" fill="rgb(25,167,25)"/><circle cx="525" cy="961" r="1.3" fill="rgb(25,172,25)"/><circle cx="551" cy="964" r="1.9" fill="rgb(25,173,25)"/><circle cx="475" cy="960" r="1.5" fill="rgb(36,246,36)"/><circle cx="535" cy="971" r="1.6" fill="rgb(21,140,21)"/><circle cx="575" cy="980" r="1.2" fill="rgb(16,113,16)"/><circle cx="529" cy="1031" r="1.0" fill="rgb(10,72,10)"/><circle cx="529" cy="974" r="1.4" fill="rgb(19,133,19)"/><circle cx="464" cy="933" r="1.8" fill="rgb(20,139,20)"/><circle cx="542" cy="960" r="1.9" fill="rgb(24,166,24)"/><circle cx="447" cy="931" r="1.0" fill="rgb(26,179,26)"/><circle cx="423" cy="913" r="2.0" fill="rgb(10,72,10)"/><circle cx="501" cy="928" r="1.1" fill="rgb(21,145,21)"/><circle cx="460" cy="941" r="1.2" fill="rgb(30,205,30)"/><circle cx="515" cy="916" r="1.7" fill="rgb(16,111,16)"/><circle cx="524" cy="968" r="1.5" fill="rgb(29,194,29)"/><circle cx="449" cy="1008" r="1.3" fill="rgb(35,238,35)"/><circle cx="558" cy="945" r="2.3" fill="rgb(19,128,19)"/><circle cx="469" cy="961" r="1.5" fill="rgb(27,184,27)"/><circle cx="568" cy="981" r="1.5" fill="rgb(16,111,16)"/><circle cx="474" cy="950" r="1.1" fill="rgb(31,210,31)"/><circle cx="525" cy="952" r="1.4" fill="rgb(31,211,31)"/><circle cx="505" cy="933" r="2.2" fill="rgb(27,182,27)"/><circle cx="463" cy="987" r="1.8" fill="rgb(31,210,31)"/><circle cx="495" cy="972" r="2.1" fill="rgb(21,140,21)"/><circle cx="453" cy="1045" r="1.1" fill="rgb(32,217,32)"/><circle cx="455" cy="994" r="2.0" fill="rgb(33,222,33)"/><circle cx="453" cy="1044" r="1.7" fill="rgb(36,241,36)"/><circle cx="453" cy="961" r="1.5" fill="rgb(16,109,16)"/><circle cx="466" cy="1047" r="1.1" fill="rgb(22,148,22)"/><circle cx="482" cy="960" r="1.2" fill="rgb(34,233,34)"/><circle cx="475" cy="974" r="1.7" fill="rgb(36,241,36)"/><circle cx="586" cy="983" r="1.6" fill="rgb(18,123,18)"/><circle cx="496" cy="959" r="1.7" fill="rgb(38,254,38)"/><circle cx="450" cy="952" r="1.3" fill="rgb(24,160,24)"/><circle cx="618" cy="939" r="1.6" fill="rgb(12,86,12)"/><circle cx="526" cy="967" r="1.8" fill="rgb(24,164,24)"/><circle cx="453" cy="1014" r="2.0" fill="rgb(31,212,31)"/><circle cx="620" cy="947" r="1.0" fill="rgb(12,84,12)"/><circle cx="519" cy="935" r="2.0" fill="rgb(22,153,22)"/><circle cx="606" cy="953" r="1.9" fill="rgb(14,95,14)"/><circle cx="505" cy="930" r="2.4" fill="rgb(22,149,22)"/><circle cx="496" cy="958" r="2.3" fill="rgb(31,212,31)"/><circle cx="536" cy="967" r="1.8" fill="rgb(24,162,24)"/><circle cx="504" cy="968" r="2.2" fill="rgb(23,156,23)"/><circle cx="470" cy="954" r="1.2" fill="rgb(27,182,27)"/><circle cx="492" cy="932" r="2.3" fill="rgb(28,187,28)"/><circle cx="543" cy="962" r="2.2" fill="rgb(28,190,28)"/><circle cx="556" cy="933" r="1.5" fill="rgb(19,128,19)"/><circle cx="594" cy="935" r="2.0" fill="rgb(15,106,15)"/><circle cx="502" cy="951" r="1.1" fill="rgb(38,255,38)"/><circle cx="471" cy="949" r="2.0" fill="rgb(30,200,30)"/><circle cx="455" cy="931" r="2.3" fill="rgb(31,211,31)"/><circle cx="453" cy="909" r="2.1" fill="rgb(14,97,14)"/><circle cx="461" cy="1002" r="1.4" fill="rgb(32,218,32)"/><circle cx="543" cy="967" r="2.1" fill="rgb(29,197,29)"/><circle cx="465" cy="969" r="1.6" fill="rgb(30,203,30)"/><circle cx="458" cy="959" r="1.3" fill="rgb(21,141,21)"/><circle cx="521" cy="967" r="2.1" fill="rgb(32,218,32)"/><circle cx="463" cy="983" r="2.3" fill="rgb(38,255,38)"/><circle cx="526" cy="933" r="1.6" fill="rgb(17,119,17)"/><circle cx="457" cy="978" r="2.2" fill="rgb(38,255,38)"/><circle cx="467" cy="936" r="1.4" fill="rgb(23,155,23)"/><circle cx="464" cy="957" r="1.3" fill="rgb(21,146,21)"/><circle cx="573" cy="944" r="1.1" fill="rgb(20,134,20)"/><circle cx="462" cy="978" r="2.3" fill="rgb(30,201,30)"/><circle cx="597" cy="969" r="2.3" fill="rgb(12,82,12)"/><circle cx="481" cy="961" r="1.4" fill="rgb(38,255,38)"/><circle cx="448" cy="923" r="1.3" fill="rgb(18,121,18)"/><circle cx="472" cy="1017" r="1.7" fill="rgb(14,99,14)"/><circle cx="475" cy="962" r="1.1" fill="rgb(38,255,38)"/><circle cx="518" cy="951" r="1.5" fill="rgb(27,182,27)"/><circle cx="607" cy="940" r="1.4" fill="rgb(16,110,16)"/><circle cx="591" cy="994" r="1.6" fill="rgb(15,106,15)"/><circle cx="469" cy="1003" r="1.1" fill="rgb(18,126,18)"/><circle cx="545" cy="941" r="1.2" fill="rgb(17,115,17)"/><circle cx="497" cy="950" r="1.7" fill="rgb(38,255,38)"/><circle cx="604" cy="941" r="2.4" fill="rgb(14,96,14)"/><circle cx="457" cy="1012" r="1.0" fill="rgb(29,195,29)"/><circle cx="586" cy="951" r="2.3" fill="rgb(15,102,15)"/><circle cx="564" cy="971" r="2.1" fill="rgb(22,148,22)"/><circle cx="444" cy="1040" r="1.7" fill="rgb(27,183,27)"/><circle cx="491" cy="943" r="1.4" fill="rgb(27,183,27)"/><circle cx="487" cy="963" r="1.5" fill="rgb(38,255,38)"/><circle cx="466" cy="1037" r="1.4" fill="rgb(34,227,34)"/><circle cx="442" cy="1038" r="1.1" fill="rgb(28,190,28)"/><circle cx="576" cy="947" r="2.2" fill="rgb(18,120,18)"/><circle cx="496" cy="952" r="1.9" fill="rgb(27,181,27)"/><circle cx="505" cy="943" r="1.2" fill="rgb(21,141,21)"/><circle cx="450" cy="1014" r="2.4" fill="rgb(38,255,38)"/><circle cx="584" cy="934" r="2.3" fill="rgb(14,97,14)"/><circle cx="604" cy="915" r="1.1" fill="rgb(12,82,12)"/><circle cx="461" cy="917" r="1.0" fill="rgb(16,112,16)"/><circle cx="526" cy="965" r="2.3" fill="rgb(27,183,27)"/><circle cx="492" cy="985" r="1.3" fill="rgb(11,76,11)"/><circle cx="458" cy="1008" r="1.6" fill="rgb(32,215,32)"/><circle cx="481" cy="977" r="1.5" fill="rgb(27,183,27)"/><circle cx="554" cy="965" r="2.0" fill="rgb(23,154,23)"/></g>
</g>
<text transform="translate(437.0,937.6) scale(1,1.035)" font-size="30.5" fill="#fff" >Agrp::GCaMP6s</text>
<rect x="597.9" y="1030" width="69.2" height="8.7" fill="#fff"/>
</svg></body></html>
